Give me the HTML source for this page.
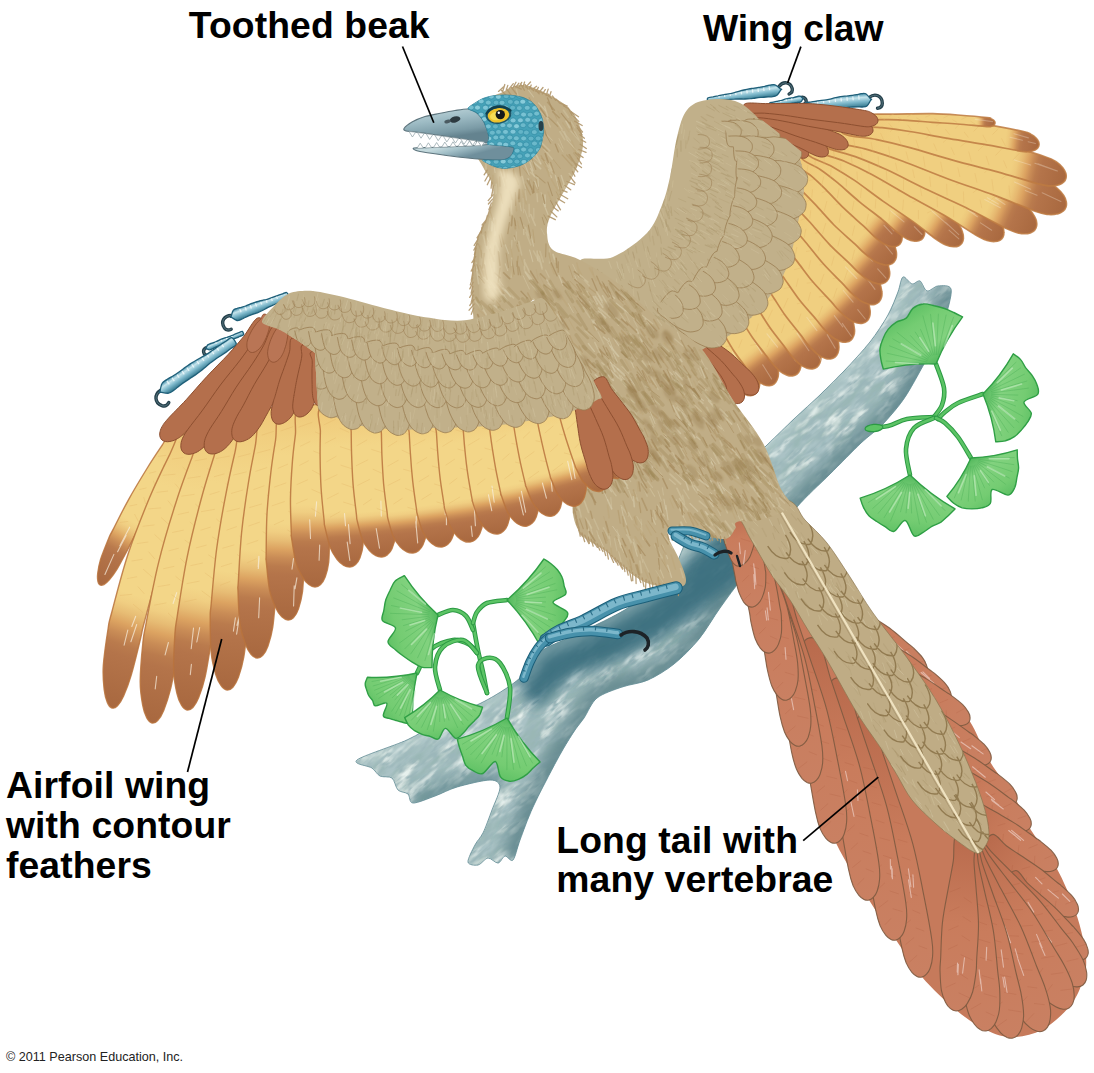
<!DOCTYPE html>
<html><head><meta charset="utf-8"><title>Archaeopteryx</title>
<style>
html,body{margin:0;padding:0;background:#fff;}
body{width:1094px;height:1073px;overflow:hidden;position:relative;font-family:"Liberation Sans",sans-serif;}
svg{position:absolute;left:0;top:0;display:block;}
.lbl{position:absolute;font-weight:bold;font-size:37.3px;line-height:39.7px;color:#000;white-space:nowrap;letter-spacing:0.1px;}
.cp{position:absolute;font-size:12.6px;color:#222;white-space:nowrap;}
</style></head><body>
<svg width="1094" height="1073" viewBox="0 0 1094 1073">
<defs>
<filter id="mott" x="150" y="400" width="1000" height="400" filterUnits="userSpaceOnUse">
<feTurbulence type="fractalNoise" baseFrequency="0.03 0.10" numOctaves="3" seed="4" result="n"/>
<feTurbulence type="fractalNoise" baseFrequency="0.09 0.28" numOctaves="2" seed="9" result="n2"/>
<feColorMatrix in="n" type="matrix" values="0 0 0 0 0.40  0 0 0 0 0.54  0 0 0 0 0.56  0 0 0 3.4 -1.15" result="dark"/>
<feColorMatrix in="n" type="matrix" values="0 0 0 0 0.80  0 0 0 0 0.88  0 0 0 0 0.85  0 0 3.2 0 -1.5" result="light"/>
<feColorMatrix in="n2" type="matrix" values="0 0 0 0 0.33  0 0 0 0 0.47  0 0 0 0 0.49  0 3.6 0 0 -1.55" result="dark2"/>
<feMerge result="m"><feMergeNode in="SourceGraphic"/><feMergeNode in="dark"/><feMergeNode in="light"/><feMergeNode in="dark2"/></feMerge>
<feComposite in="m" in2="SourceGraphic" operator="in"/>
</filter>
<filter id="blur8" x="300" y="200" width="700" height="700" filterUnits="userSpaceOnUse"><feGaussianBlur stdDeviation="7"/></filter>
<clipPath id="cbranch"><path d="M357,760C362.2,755.8 394.6,745.7 407,740C419.4,734.3 428,728 440,722C452,716 475,706.6 487,700C499,693.4 512,685.2 520,678C528,670.8 532,658.3 540,652C548,645.7 560.5,642.1 573,636C585.5,629.9 610,618.6 623,611C636,603.4 652,592 660,585C668,578 671.8,571 676,564C680.2,557 682.1,548.4 688,538C693.9,527.6 703.3,508.8 715,495C726.7,481.2 754.1,457.4 766,446C777.9,434.6 785.8,426.8 794,419C802.2,411.2 813.4,401.4 821,394C828.6,386.6 837.6,377.8 845,370C852.4,362.2 863.5,350.2 870,342C876.5,333.8 883.8,322.5 888,315C892.2,307.5 895.8,297.7 898,292C900.2,286.3 900.9,278.2 903,277C905.1,275.8 909.5,283.4 912,284C914.5,284.6 917.8,279.9 920,281C922.2,282.1 924.3,290.2 927,291C929.7,291.8 934.4,286.3 938,286C941.6,285.7 949.8,284.6 951,289C952.2,293.4 948.5,306.6 946,315C943.5,323.4 938,336.3 934,345C930,353.7 923.6,364.8 919,373C914.4,381.2 908.5,392.2 903,400C897.5,407.8 888.3,418.6 882,425C875.7,431.4 868.8,435.6 861,443C853.2,450.4 839.6,464.4 830,474C820.4,483.6 806,496.4 797,507C788,517.6 778.1,534.5 770,545C761.9,555.5 750.5,567.5 743,577C735.5,586.5 726.6,598.7 720,608C713.4,617.3 705.9,630.6 699,639C692.1,647.4 681.6,657.9 674,664C666.4,670.1 655.8,676.5 648,680C640.2,683.5 629.6,684.3 622,687C614.4,689.7 602.7,693.4 597,698C591.3,702.6 587.6,712.8 584,718C580.4,723.2 577,726.7 573,733C569,739.3 563,748.9 557,760C551,771.1 538.5,795 533,807C527.5,819 523,832 520,840C517,848 515.2,857.6 513,860C510.8,862.4 507.2,855.5 505,856C502.8,856.5 500.6,862.7 498,863C495.4,863.3 491,857.7 488,858C485,858.3 481,864.4 478,865C475,865.6 468.4,865 468,862C467.6,859 472.8,849.4 475,845C477.2,840.6 480.4,838.2 483,833C485.6,827.8 489.4,816.9 492,810C494.6,803.1 500.3,791.5 500,787C499.7,782.5 496.4,780 490,780C483.6,780 465.2,784.6 457,787C448.8,789.4 441.6,793.6 435,796C428.4,798.4 417.1,803.3 413,803C408.9,802.7 410.2,796 408,794C405.8,792 400.4,792.4 398,790C395.6,787.6 394.7,780.1 392,778C389.3,775.9 383,777.5 380,776C377,774.5 375.4,770.4 372,768C368.6,765.6 351.8,764.2 357,760Z"/></clipPath>
<linearGradient id="g1" gradientUnits="userSpaceOnUse" x1="438" y1="615" x2="383.5" y2="631.7"><stop offset="0.0000" stop-color="#52b85c"/><stop offset="0.3000" stop-color="#82d27f"/><stop offset="0.7500" stop-color="#74cc72"/><stop offset="1.0000" stop-color="#5fc165"/></linearGradient>
<linearGradient id="g2" gradientUnits="userSpaceOnUse" x1="507" y1="600" x2="567.9" y2="603.2"><stop offset="0.0000" stop-color="#52b85c"/><stop offset="0.3000" stop-color="#82d27f"/><stop offset="0.7500" stop-color="#74cc72"/><stop offset="1.0000" stop-color="#5fc165"/></linearGradient>
<linearGradient id="g3" gradientUnits="userSpaceOnUse" x1="417" y1="673" x2="378.1" y2="711.9"><stop offset="0.0000" stop-color="#52b85c"/><stop offset="0.3000" stop-color="#82d27f"/><stop offset="0.7500" stop-color="#74cc72"/><stop offset="1.0000" stop-color="#5fc165"/></linearGradient>
<linearGradient id="g4" gradientUnits="userSpaceOnUse" x1="440" y1="690" x2="447" y2="739.5"><stop offset="0.0000" stop-color="#52b85c"/><stop offset="0.3000" stop-color="#82d27f"/><stop offset="0.7500" stop-color="#74cc72"/><stop offset="1.0000" stop-color="#5fc165"/></linearGradient>
<linearGradient id="g5" gradientUnits="userSpaceOnUse" x1="507" y1="718" x2="491" y2="777.9"><stop offset="0.0000" stop-color="#52b85c"/><stop offset="0.3000" stop-color="#82d27f"/><stop offset="0.7500" stop-color="#74cc72"/><stop offset="1.0000" stop-color="#5fc165"/></linearGradient>
<linearGradient id="g6" gradientUnits="userSpaceOnUse" x1="936" y1="364" x2="903.3" y2="313.7"><stop offset="0.0000" stop-color="#52b85c"/><stop offset="0.3000" stop-color="#82d27f"/><stop offset="0.7500" stop-color="#74cc72"/><stop offset="1.0000" stop-color="#5fc165"/></linearGradient>
<linearGradient id="g7" gradientUnits="userSpaceOnUse" x1="983" y1="394" x2="1037" y2="404.5"><stop offset="0.0000" stop-color="#52b85c"/><stop offset="0.3000" stop-color="#82d27f"/><stop offset="0.7500" stop-color="#74cc72"/><stop offset="1.0000" stop-color="#5fc165"/></linearGradient>
<linearGradient id="g8" gradientUnits="userSpaceOnUse" x1="910" y1="475" x2="903.7" y2="534.7"><stop offset="0.0000" stop-color="#52b85c"/><stop offset="0.3000" stop-color="#82d27f"/><stop offset="0.7500" stop-color="#74cc72"/><stop offset="1.0000" stop-color="#5fc165"/></linearGradient>
<linearGradient id="g9" gradientUnits="userSpaceOnUse" x1="971" y1="458" x2="1000.1" y2="501.1"><stop offset="0.0000" stop-color="#52b85c"/><stop offset="0.3000" stop-color="#82d27f"/><stop offset="0.7500" stop-color="#74cc72"/><stop offset="1.0000" stop-color="#5fc165"/></linearGradient>
<linearGradient id="g10" gradientUnits="userSpaceOnUse" x1="743.7" y1="88.8" x2="745.3" y2="100.2"><stop offset="0.0000" stop-color="#4a93ad"/><stop offset="0.2800" stop-color="#c5e4ec"/><stop offset="0.6000" stop-color="#7db8cb"/><stop offset="1.0000" stop-color="#35798f"/></linearGradient>
<linearGradient id="g11" gradientUnits="userSpaceOnUse" x1="786" y1="98.5" x2="787" y2="104.5"><stop offset="0.0000" stop-color="#4a93ad"/><stop offset="0.2800" stop-color="#c5e4ec"/><stop offset="0.6000" stop-color="#7db8cb"/><stop offset="1.0000" stop-color="#35798f"/></linearGradient>
<linearGradient id="g12" gradientUnits="userSpaceOnUse" x1="837.9" y1="96" x2="839.1" y2="109"><stop offset="0.0000" stop-color="#4a93ad"/><stop offset="0.2800" stop-color="#c5e4ec"/><stop offset="0.6000" stop-color="#7db8cb"/><stop offset="1.0000" stop-color="#35798f"/></linearGradient>
<linearGradient id="g13" gradientUnits="userSpaceOnUse" x1="700" y1="318" x2="755" y2="394"><stop offset="0.0000" stop-color="#efc878"/><stop offset="0.2216" stop-color="#f0cf80"/><stop offset="0.5539" stop-color="#f0cf80"/><stop offset="0.5937" stop-color="#edc87b"/><stop offset="0.6335" stop-color="#e6b870"/><stop offset="0.6733" stop-color="#dca361"/><stop offset="0.7132" stop-color="#c98c56"/><stop offset="0.7530" stop-color="#ba7b4d"/><stop offset="0.7928" stop-color="#b4744a"/><stop offset="1.0000" stop-color="#a8683f"/></linearGradient>
<linearGradient id="g14" gradientUnits="userSpaceOnUse" x1="712" y1="302" x2="774" y2="384"><stop offset="0.0000" stop-color="#efc878"/><stop offset="0.2372" stop-color="#f0cf80"/><stop offset="0.5929" stop-color="#f0cf80"/><stop offset="0.6292" stop-color="#edc87b"/><stop offset="0.6656" stop-color="#e6b870"/><stop offset="0.7019" stop-color="#dca361"/><stop offset="0.7382" stop-color="#c98c56"/><stop offset="0.7746" stop-color="#ba7b4d"/><stop offset="0.8109" stop-color="#b4744a"/><stop offset="1.0000" stop-color="#a8683f"/></linearGradient>
<linearGradient id="g15" gradientUnits="userSpaceOnUse" x1="728" y1="288" x2="797" y2="374"><stop offset="0.0000" stop-color="#efc878"/><stop offset="0.2482" stop-color="#f0cf80"/><stop offset="0.6204" stop-color="#f0cf80"/><stop offset="0.6543" stop-color="#edc87b"/><stop offset="0.6882" stop-color="#e6b870"/><stop offset="0.7221" stop-color="#dca361"/><stop offset="0.7559" stop-color="#c98c56"/><stop offset="0.7898" stop-color="#ba7b4d"/><stop offset="0.8237" stop-color="#b4744a"/><stop offset="1.0000" stop-color="#a8683f"/></linearGradient>
<linearGradient id="g16" gradientUnits="userSpaceOnUse" x1="742" y1="274" x2="817" y2="367"><stop offset="0.0000" stop-color="#efc878"/><stop offset="0.2500" stop-color="#f0cf80"/><stop offset="0.6497" stop-color="#f0cf80"/><stop offset="0.6810" stop-color="#edc87b"/><stop offset="0.7122" stop-color="#e6b870"/><stop offset="0.7435" stop-color="#dca361"/><stop offset="0.7748" stop-color="#c98c56"/><stop offset="0.8060" stop-color="#ba7b4d"/><stop offset="0.8373" stop-color="#b4744a"/><stop offset="1.0000" stop-color="#a8683f"/></linearGradient>
<linearGradient id="g17" gradientUnits="userSpaceOnUse" x1="755" y1="260" x2="835" y2="357"><stop offset="0.0000" stop-color="#efc878"/><stop offset="0.2500" stop-color="#f0cf80"/><stop offset="0.6672" stop-color="#f0cf80"/><stop offset="0.6969" stop-color="#edc87b"/><stop offset="0.7266" stop-color="#e6b870"/><stop offset="0.7563" stop-color="#dca361"/><stop offset="0.7860" stop-color="#c98c56"/><stop offset="0.8157" stop-color="#ba7b4d"/><stop offset="0.8454" stop-color="#b4744a"/><stop offset="1.0000" stop-color="#a8683f"/></linearGradient>
<linearGradient id="g18" gradientUnits="userSpaceOnUse" x1="766" y1="244" x2="851" y2="340"><stop offset="0.0000" stop-color="#efc878"/><stop offset="0.2500" stop-color="#f0cf80"/><stop offset="0.6736" stop-color="#f0cf80"/><stop offset="0.7027" stop-color="#edc87b"/><stop offset="0.7319" stop-color="#e6b870"/><stop offset="0.7610" stop-color="#dca361"/><stop offset="0.7901" stop-color="#c98c56"/><stop offset="0.8193" stop-color="#ba7b4d"/><stop offset="0.8484" stop-color="#b4744a"/><stop offset="1.0000" stop-color="#a8683f"/></linearGradient>
<linearGradient id="g19" gradientUnits="userSpaceOnUse" x1="776" y1="226" x2="867" y2="321"><stop offset="0.0000" stop-color="#efc878"/><stop offset="0.2500" stop-color="#f0cf80"/><stop offset="0.6819" stop-color="#f0cf80"/><stop offset="0.7103" stop-color="#edc87b"/><stop offset="0.7387" stop-color="#e6b870"/><stop offset="0.7671" stop-color="#dca361"/><stop offset="0.7954" stop-color="#c98c56"/><stop offset="0.8238" stop-color="#ba7b4d"/><stop offset="0.8522" stop-color="#b4744a"/><stop offset="1.0000" stop-color="#a8683f"/></linearGradient>
<linearGradient id="g20" gradientUnits="userSpaceOnUse" x1="784" y1="208" x2="879" y2="302"><stop offset="0.0000" stop-color="#efc878"/><stop offset="0.2500" stop-color="#f0cf80"/><stop offset="0.6869" stop-color="#f0cf80"/><stop offset="0.7148" stop-color="#edc87b"/><stop offset="0.7428" stop-color="#e6b870"/><stop offset="0.7707" stop-color="#dca361"/><stop offset="0.7986" stop-color="#c98c56"/><stop offset="0.8266" stop-color="#ba7b4d"/><stop offset="0.8545" stop-color="#b4744a"/><stop offset="1.0000" stop-color="#a8683f"/></linearGradient>
<linearGradient id="g21" gradientUnits="userSpaceOnUse" x1="788" y1="190" x2="887" y2="281"><stop offset="0.0000" stop-color="#efc878"/><stop offset="0.2500" stop-color="#f0cf80"/><stop offset="0.6888" stop-color="#f0cf80"/><stop offset="0.7166" stop-color="#edc87b"/><stop offset="0.7443" stop-color="#e6b870"/><stop offset="0.7721" stop-color="#dca361"/><stop offset="0.7999" stop-color="#c98c56"/><stop offset="0.8277" stop-color="#ba7b4d"/><stop offset="0.8554" stop-color="#b4744a"/><stop offset="1.0000" stop-color="#a8683f"/></linearGradient>
<linearGradient id="g22" gradientUnits="userSpaceOnUse" x1="790" y1="170" x2="894" y2="262"><stop offset="0.0000" stop-color="#efc878"/><stop offset="0.2500" stop-color="#f0cf80"/><stop offset="0.6986" stop-color="#f0cf80"/><stop offset="0.7255" stop-color="#edc87b"/><stop offset="0.7524" stop-color="#e6b870"/><stop offset="0.7793" stop-color="#dca361"/><stop offset="0.8062" stop-color="#c98c56"/><stop offset="0.8331" stop-color="#ba7b4d"/><stop offset="0.8600" stop-color="#b4744a"/><stop offset="1.0000" stop-color="#a8683f"/></linearGradient>
<linearGradient id="g23" gradientUnits="userSpaceOnUse" x1="800" y1="158" x2="900" y2="244"><stop offset="0.0000" stop-color="#efc878"/><stop offset="0.2500" stop-color="#f0cf80"/><stop offset="0.6945" stop-color="#f0cf80"/><stop offset="0.7217" stop-color="#edc87b"/><stop offset="0.7490" stop-color="#e6b870"/><stop offset="0.7763" stop-color="#dca361"/><stop offset="0.8035" stop-color="#c98c56"/><stop offset="0.8308" stop-color="#ba7b4d"/><stop offset="0.8581" stop-color="#b4744a"/><stop offset="1.0000" stop-color="#a8683f"/></linearGradient>
<linearGradient id="g24" gradientUnits="userSpaceOnUse" x1="806" y1="152" x2="923" y2="238"><stop offset="0.0000" stop-color="#efc878"/><stop offset="0.2500" stop-color="#f0cf80"/><stop offset="0.7225" stop-color="#f0cf80"/><stop offset="0.7472" stop-color="#edc87b"/><stop offset="0.7720" stop-color="#e6b870"/><stop offset="0.7968" stop-color="#dca361"/><stop offset="0.8215" stop-color="#c98c56"/><stop offset="0.8463" stop-color="#ba7b4d"/><stop offset="0.8711" stop-color="#b4744a"/><stop offset="1.0000" stop-color="#a8683f"/></linearGradient>
<linearGradient id="g25" gradientUnits="userSpaceOnUse" x1="812" y1="148" x2="962" y2="243"><stop offset="0.0000" stop-color="#efc878"/><stop offset="0.2500" stop-color="#f0cf80"/><stop offset="0.7556" stop-color="#f0cf80"/><stop offset="0.7774" stop-color="#edc87b"/><stop offset="0.7992" stop-color="#e6b870"/><stop offset="0.8210" stop-color="#dca361"/><stop offset="0.8428" stop-color="#c98c56"/><stop offset="0.8646" stop-color="#ba7b4d"/><stop offset="0.8865" stop-color="#b4744a"/><stop offset="1.0000" stop-color="#a8683f"/></linearGradient>
<linearGradient id="g26" gradientUnits="userSpaceOnUse" x1="818" y1="143" x2="1003" y2="237"><stop offset="0.0000" stop-color="#efc878"/><stop offset="0.2500" stop-color="#f0cf80"/><stop offset="0.7759" stop-color="#f0cf80"/><stop offset="0.7959" stop-color="#edc87b"/><stop offset="0.8159" stop-color="#e6b870"/><stop offset="0.8359" stop-color="#dca361"/><stop offset="0.8559" stop-color="#c98c56"/><stop offset="0.8759" stop-color="#ba7b4d"/><stop offset="0.8959" stop-color="#b4744a"/><stop offset="1.0000" stop-color="#a8683f"/></linearGradient>
<linearGradient id="g27" gradientUnits="userSpaceOnUse" x1="826" y1="138" x2="1036" y2="228"><stop offset="0.0000" stop-color="#efc878"/><stop offset="0.2500" stop-color="#f0cf80"/><stop offset="0.7693" stop-color="#f0cf80"/><stop offset="0.7899" stop-color="#edc87b"/><stop offset="0.8105" stop-color="#e6b870"/><stop offset="0.8311" stop-color="#dca361"/><stop offset="0.8517" stop-color="#c98c56"/><stop offset="0.8723" stop-color="#ba7b4d"/><stop offset="0.8929" stop-color="#b4744a"/><stop offset="1.0000" stop-color="#a8683f"/></linearGradient>
<linearGradient id="g28" gradientUnits="userSpaceOnUse" x1="835" y1="132" x2="1066" y2="207"><stop offset="0.0000" stop-color="#efc878"/><stop offset="0.2500" stop-color="#f0cf80"/><stop offset="0.7447" stop-color="#f0cf80"/><stop offset="0.7675" stop-color="#edc87b"/><stop offset="0.7903" stop-color="#e6b870"/><stop offset="0.8131" stop-color="#dca361"/><stop offset="0.8359" stop-color="#c98c56"/><stop offset="0.8586" stop-color="#ba7b4d"/><stop offset="0.8814" stop-color="#b4744a"/><stop offset="1.0000" stop-color="#a8683f"/></linearGradient>
<linearGradient id="g29" gradientUnits="userSpaceOnUse" x1="845" y1="126" x2="1066" y2="178"><stop offset="0.0000" stop-color="#efc878"/><stop offset="0.2500" stop-color="#f0cf80"/><stop offset="0.7542" stop-color="#f0cf80"/><stop offset="0.7762" stop-color="#edc87b"/><stop offset="0.7981" stop-color="#e6b870"/><stop offset="0.8200" stop-color="#dca361"/><stop offset="0.8420" stop-color="#c98c56"/><stop offset="0.8639" stop-color="#ba7b4d"/><stop offset="0.8858" stop-color="#b4744a"/><stop offset="1.0000" stop-color="#a8683f"/></linearGradient>
<linearGradient id="g30" gradientUnits="userSpaceOnUse" x1="855" y1="120" x2="1039" y2="145"><stop offset="0.0000" stop-color="#efc878"/><stop offset="0.2500" stop-color="#f0cf80"/><stop offset="0.8164" stop-color="#f0cf80"/><stop offset="0.8328" stop-color="#edc87b"/><stop offset="0.8491" stop-color="#e6b870"/><stop offset="0.8655" stop-color="#dca361"/><stop offset="0.8819" stop-color="#c98c56"/><stop offset="0.8983" stop-color="#ba7b4d"/><stop offset="0.9147" stop-color="#b4744a"/><stop offset="1.0000" stop-color="#a8683f"/></linearGradient>
<linearGradient id="g31" gradientUnits="userSpaceOnUse" x1="870" y1="117" x2="995" y2="123"><stop offset="0.0000" stop-color="#efc878"/><stop offset="0.2500" stop-color="#f0cf80"/><stop offset="0.8514" stop-color="#f0cf80"/><stop offset="0.8646" stop-color="#edc87b"/><stop offset="0.8779" stop-color="#e6b870"/><stop offset="0.8912" stop-color="#dca361"/><stop offset="0.9044" stop-color="#c98c56"/><stop offset="0.9177" stop-color="#ba7b4d"/><stop offset="0.9310" stop-color="#b4744a"/><stop offset="1.0000" stop-color="#a8683f"/></linearGradient>
<clipPath id="crwtan"><path d="M580,262C578.8,254.8 601.8,261.8 613,257C624.2,252.2 638.8,241.7 647,233C655.2,224.3 658.2,214.3 662,205C665.8,195.7 667.5,188.3 670,177C672.5,165.7 674.2,148.2 677,137C679.8,125.8 682,116.2 687,110C692,103.8 698.2,101.2 707,100C715.8,98.8 729.5,98 740,103C750.5,108 760.5,121.7 770,130C779.5,138.3 791.3,143.5 797,153C802.7,162.5 804,174.7 804,187C804,199.3 799.8,213.7 797,227C794.2,240.3 792,254.8 787,267C782,279.2 775.3,289.5 767,300C758.7,310.5 747,322.2 737,330C727,337.8 714.8,343.3 707,347C699.2,350.7 697.8,354.8 690,352C682.2,349.2 671.7,338.7 660,330C648.3,321.3 633.3,311.3 620,300C606.7,288.7 581.2,269.2 580,262Z"/></clipPath>
<clipPath id="crwext"><path d="M690,120L740,103L775,130L803,153L812,187L804,230L794,270L772,306L742,337L707,353L688,345L640,320L600,262L647,233L670,177Z"/></clipPath>
<clipPath id="crwband"><path d="M717,111L719.1,115.8L721.3,120.7L723.4,125.5L725.6,130.4L727.8,135.1L730.1,139.9L732.5,144.7L734.9,149.5L737,154.5L737.3,160.5L737.6,166.6L737.9,172.7L738.1,178.7L737.5,184.8L736.2,190.8L734.9,196.9L733.5,202.9L732.2,209L730.8,215L729.3,221L727.3,226.8L725.3,232.7L723.3,238.5L721.3,244.3L718.3,249.7L715.2,255.1L712,260.3L708.2,265.2L704.4,270L700,274.3L695.5,278.5L691,282.8L686.4,287L681.6,290.7L676.4,294L670.9,296.9L665.5,299.7L660,302.6L654.5,305.5L717.5,355.3L724.4,351.3L731.4,347.3L738.3,343.4L745.2,339.4L751.5,334.5L757,328.7L762.7,323L768.3,317.3L773.9,311.6L779.5,306L783.6,299L787.6,292.1L791.7,285.3L795.9,278.4L800.1,271.6L802,263.8L803.8,256L805.6,248.3L807.5,240.5L809.4,232.7L811,224.9L812.3,217L813.6,209.1L814.9,201.2L816.3,193.3L816.5,185.5L814.7,177.6L812.9,169.8L811.1,162L809.3,154.1L803.5,148.7L797,143.6L790.4,138.6L783.8,133.6L777.3,128.5L770.9,123.2L764.6,117.9L758.2,112.7L751.8,107.4Z"/></clipPath>
<clipPath id="crwall"><path d="M580,262C578.8,254.8 601.8,261.8 613,257C624.2,252.2 638.8,241.7 647,233C655.2,224.3 658.2,214.3 662,205C665.8,195.7 667.5,188.3 670,177C672.5,165.7 674.2,148.2 677,137C679.8,125.8 682,116.2 687,110C692,103.8 698.2,101.2 707,100C715.8,98.8 729.5,98 740,103C750.5,108 760.5,121.7 770,130C779.5,138.3 791.3,143.5 797,153C802.7,162.5 804,174.7 804,187C804,199.3 799.8,213.7 797,227C794.2,240.3 792,254.8 787,267C782,279.2 775.3,289.5 767,300C758.7,310.5 747,322.2 737,330C727,337.8 714.8,343.3 707,347C699.2,350.7 697.8,354.8 690,352C682.2,349.2 671.7,338.7 660,330C648.3,321.3 633.3,311.3 620,300C606.7,288.7 581.2,269.2 580,262Z"/><path d="M743.4,122.6C745.1,117.5 752.4,119.6 754.2,119C756,118.4 751.7,118.5 754.3,119C756.9,119.5 765.6,120.3 769.6,122C773.5,123.6 776.4,126.8 778.1,129C779.8,131.2 780,133.1 780,135.2C780.1,137.3 780,139.1 778.4,141.4C776.8,143.7 774.1,147.1 770.3,148.9C766.4,150.8 757.7,152.1 755.2,152.7C752.6,153.3 756.9,153.2 755.1,152.7C753.2,152.2 746,154.6 744.1,149.6C742.1,144.6 741.7,127.7 743.4,122.6Z"/><path d="M756,140.6C758.2,135.8 766,137.9 769.6,137.3C773.3,136.7 774.1,136.7 777.8,137.2C781.6,137.7 788.4,138.6 792.1,140.3C795.8,141.9 798.4,145 800,147.1C801.6,149.1 801.6,150.9 801.7,152.8C801.7,154.8 801.6,156.6 800.1,158.7C798.5,160.8 795.9,163.9 792.3,165.6C788.6,167.3 781.8,168.3 778.1,168.9C774.4,169.4 773.6,169.4 769.9,168.9C766.3,168.4 758.5,170.6 756.2,165.9C753.9,161.2 753.8,145.3 756,140.6Z"/><path d="M759.6,163C762.4,158.2 770.4,161 774.5,160.7C778.6,160.4 779.9,160.5 783.9,161.4C787.9,162.2 794.9,163.7 798.6,165.8C802.3,167.8 804.8,171.2 806.3,173.6C807.8,175.9 807.7,177.8 807.6,179.8C807.4,181.8 807.2,183.7 805.4,185.8C803.6,187.9 800.7,190.9 796.7,192.4C792.7,193.8 785.6,194.3 781.5,194.6C777.4,194.9 776.1,194.8 772.1,193.9C768.1,193.1 759.7,194.7 757.6,189.5C755.5,184.4 756.7,167.8 759.6,163Z"/><path d="M758,186.2C761.3,181.6 769.2,185.1 773.5,185.2C777.8,185.3 779.7,185.5 783.8,186.7C787.8,187.9 794.5,189.9 798,192.3C801.6,194.6 803.8,198.2 805.1,200.6C806.4,203 806.2,204.9 805.9,206.9C805.6,208.9 805.2,210.7 803.3,212.7C801.3,214.6 798.1,217.4 794,218.6C790,219.7 783,219.7 778.8,219.6C774.5,219.5 772.6,219.2 768.5,218C764.4,216.8 755.8,217.8 754,212.5C752.3,207.2 754.8,190.7 758,186.2Z"/><path d="M754.2,209.4C757.8,205.1 765.5,209.2 769.8,209.6C774.2,210.1 776.3,210.6 780.3,212.1C784.4,213.6 790.8,216.2 794.1,218.8C797.5,221.3 799.4,225.1 800.5,227.6C801.6,230.2 801.3,232 800.8,234C800.3,236 799.8,237.8 797.7,239.5C795.6,241.3 792.2,243.8 788,244.7C783.9,245.5 777,244.9 772.7,244.5C768.4,244 766.3,243.5 762.2,242C758.1,240.5 749.4,240.7 748.1,235.3C746.7,229.8 750.5,213.7 754.2,209.4Z"/><path d="M748.5,232.1C752.5,228.2 759.9,233 764.4,233.8C768.9,234.7 771.5,235.4 775.5,237.3C779.6,239.2 785.6,242.2 788.8,245.1C791.9,247.9 793.5,251.8 794.4,254.4C795.3,257 794.8,258.8 794.2,260.8C793.6,262.7 793,264.5 790.7,266.1C788.4,267.7 784.9,269.9 780.7,270.4C776.4,270.9 769.8,269.8 765.4,269C761,268.2 758.5,267.3 754.3,265.4C750.1,263.4 741.3,263 740.4,257.5C739.4,251.9 744.5,236.1 748.5,232.1Z"/><path d="M739.1,253.5C743.4,249.8 750.4,255.1 754.8,256.3C759.1,257.5 761.5,258.4 765.4,260.5C769.2,262.7 775,266.1 778,269.2C780.9,272.3 782.2,276.3 782.9,279C783.6,281.7 783,283.4 782.2,285.3C781.5,287.2 780.7,288.9 778.3,290.3C775.9,291.7 772.2,293.7 768,293.9C763.7,294 757.1,292.5 752.9,291.3C748.6,290.2 746.3,289.2 742.3,287C738.4,284.8 729.6,283.7 729.1,278.1C728.6,272.5 734.8,257.1 739.1,253.5Z"/><path d="M725.7,272.3C730.3,269 736.9,274.9 741.3,276.5C745.6,278.1 748.1,279.3 751.8,281.7C755.6,284.2 761,288.2 763.7,291.5C766.4,294.8 767.3,298.9 767.8,301.6C768.3,304.3 767.5,306 766.6,307.8C765.7,309.6 764.8,311.3 762.3,312.5C759.8,313.7 755.9,315.4 751.7,315.2C747.5,315 741.1,313 736.8,311.4C732.6,309.9 730.2,308.6 726.3,306C722.5,303.4 713.8,301.6 713.7,296C713.6,290.4 721.2,275.5 725.7,272.3Z"/><path d="M709.6,288.9C714.4,286 720.5,292.4 724.6,294.2C728.8,296.1 731,297.4 734.5,300.2C738,302.9 743.2,307.3 745.6,310.8C747.9,314.3 748.6,318.5 748.8,321.2C749.1,324 748.2,325.6 747.2,327.4C746.1,329.1 745.1,330.7 742.5,331.7C739.9,332.7 735.9,334.1 731.7,333.6C727.5,333 721.2,330.4 717.2,328.6C713.1,326.8 711,325.4 707.4,322.6C703.8,319.7 695.4,317.3 695.7,311.6C696.1,306 704.8,291.8 709.6,288.9Z"/><path d="M690.6,301.8C695.6,299.3 701.1,306 705,308.2C709,310.3 710.9,311.7 714.1,314.7C717.2,317.6 722.1,322.4 724.2,326.1C726.3,329.8 726.6,334 726.7,336.8C726.7,339.5 725.7,341.1 724.5,342.7C723.3,344.4 722.2,345.8 719.5,346.7C716.9,347.5 712.8,348.5 708.6,347.7C704.5,346.8 698.4,343.7 694.6,341.6C690.7,339.5 688.8,338.1 685.6,335.1C682.3,332 674.2,328.9 675,323.3C675.8,317.8 685.6,304.3 690.6,301.8Z"/></clipPath>
<linearGradient id="g32" gradientUnits="userSpaceOnUse" x1="837.1" y1="600.2" x2="926" y2="674"><stop offset="0.0000" stop-color="#b96b4d"/><stop offset="0.5000" stop-color="#c97c5c"/><stop offset="1.0000" stop-color="#c98062"/></linearGradient>
<linearGradient id="g33" gradientUnits="userSpaceOnUse" x1="855.7" y1="629.6" x2="950" y2="700"><stop offset="0.0000" stop-color="#b96b4d"/><stop offset="0.5000" stop-color="#c97c5c"/><stop offset="1.0000" stop-color="#c98062"/></linearGradient>
<linearGradient id="g34" gradientUnits="userSpaceOnUse" x1="871.1" y1="653.9" x2="969" y2="722"><stop offset="0.0000" stop-color="#b96b4d"/><stop offset="0.5000" stop-color="#c97c5c"/><stop offset="1.0000" stop-color="#c98062"/></linearGradient>
<linearGradient id="g35" gradientUnits="userSpaceOnUse" x1="895.2" y1="691.9" x2="990" y2="762"><stop offset="0.0000" stop-color="#b96b4d"/><stop offset="0.5000" stop-color="#c97c5c"/><stop offset="1.0000" stop-color="#c98062"/></linearGradient>
<linearGradient id="g36" gradientUnits="userSpaceOnUse" x1="920.7" y1="732.2" x2="1016" y2="802"><stop offset="0.0000" stop-color="#b96b4d"/><stop offset="0.5000" stop-color="#c97c5c"/><stop offset="1.0000" stop-color="#c98062"/></linearGradient>
<linearGradient id="g37" gradientUnits="userSpaceOnUse" x1="936.5" y1="757.1" x2="1030" y2="828"><stop offset="0.0000" stop-color="#b96b4d"/><stop offset="0.5000" stop-color="#c97c5c"/><stop offset="1.0000" stop-color="#c98062"/></linearGradient>
<linearGradient id="g38" gradientUnits="userSpaceOnUse" x1="962.3" y1="797.9" x2="1057" y2="868"><stop offset="0.0000" stop-color="#b96b4d"/><stop offset="0.5000" stop-color="#c97c5c"/><stop offset="1.0000" stop-color="#c98062"/></linearGradient>
<linearGradient id="g39" gradientUnits="userSpaceOnUse" x1="988.8" y1="839.8" x2="1077" y2="914"><stop offset="0.0000" stop-color="#b96b4d"/><stop offset="0.5000" stop-color="#c97c5c"/><stop offset="1.0000" stop-color="#c98062"/></linearGradient>
<linearGradient id="g40" gradientUnits="userSpaceOnUse" x1="1011.3" y1="875.3" x2="1086" y2="958"><stop offset="0.0000" stop-color="#b96b4d"/><stop offset="0.5000" stop-color="#c97c5c"/><stop offset="1.0000" stop-color="#c98062"/></linearGradient>
<linearGradient id="g41" gradientUnits="userSpaceOnUse" x1="965" y1="835" x2="1083" y2="985"><stop offset="0.0000" stop-color="#b96b4d"/><stop offset="0.5000" stop-color="#c97c5c"/><stop offset="1.0000" stop-color="#c98062"/></linearGradient>
<linearGradient id="g42" gradientUnits="userSpaceOnUse" x1="965" y1="835" x2="1069" y2="1008"><stop offset="0.0000" stop-color="#b96b4d"/><stop offset="0.5000" stop-color="#c97c5c"/><stop offset="1.0000" stop-color="#c98062"/></linearGradient>
<linearGradient id="g43" gradientUnits="userSpaceOnUse" x1="965" y1="835" x2="1043" y2="1031"><stop offset="0.0000" stop-color="#b96b4d"/><stop offset="0.5000" stop-color="#c97c5c"/><stop offset="1.0000" stop-color="#c98062"/></linearGradient>
<linearGradient id="g44" gradientUnits="userSpaceOnUse" x1="965" y1="835" x2="1013" y2="1038"><stop offset="0.0000" stop-color="#b96b4d"/><stop offset="0.5000" stop-color="#c97c5c"/><stop offset="1.0000" stop-color="#c98062"/></linearGradient>
<linearGradient id="g45" gradientUnits="userSpaceOnUse" x1="965" y1="835" x2="986" y2="1031"><stop offset="0.0000" stop-color="#b96b4d"/><stop offset="0.5000" stop-color="#c97c5c"/><stop offset="1.0000" stop-color="#c98062"/></linearGradient>
<linearGradient id="g46" gradientUnits="userSpaceOnUse" x1="965" y1="835" x2="956" y2="1011"><stop offset="0.0000" stop-color="#b96b4d"/><stop offset="0.5000" stop-color="#c97c5c"/><stop offset="1.0000" stop-color="#c98062"/></linearGradient>
<linearGradient id="g47" gradientUnits="userSpaceOnUse" x1="863.9" y1="719.6" x2="922" y2="977"><stop offset="0.0000" stop-color="#b96b4d"/><stop offset="0.5000" stop-color="#c97c5c"/><stop offset="1.0000" stop-color="#c98062"/></linearGradient>
<linearGradient id="g48" gradientUnits="userSpaceOnUse" x1="837.9" y1="682.6" x2="896" y2="940"><stop offset="0.0000" stop-color="#b96b4d"/><stop offset="0.5000" stop-color="#c97c5c"/><stop offset="1.0000" stop-color="#c98062"/></linearGradient>
<linearGradient id="g49" gradientUnits="userSpaceOnUse" x1="810.9" y1="642.6" x2="869" y2="900"><stop offset="0.0000" stop-color="#b96b4d"/><stop offset="0.5000" stop-color="#c97c5c"/><stop offset="1.0000" stop-color="#c98062"/></linearGradient>
<linearGradient id="g50" gradientUnits="userSpaceOnUse" x1="777.9" y1="585.6" x2="836" y2="843"><stop offset="0.0000" stop-color="#b96b4d"/><stop offset="0.5000" stop-color="#c97c5c"/><stop offset="1.0000" stop-color="#c98062"/></linearGradient>
<linearGradient id="g51" gradientUnits="userSpaceOnUse" x1="757.4" y1="541.2" x2="812" y2="783"><stop offset="0.0000" stop-color="#b96b4d"/><stop offset="0.5000" stop-color="#c97c5c"/><stop offset="1.0000" stop-color="#c98062"/></linearGradient>
<linearGradient id="g52" gradientUnits="userSpaceOnUse" x1="751.6" y1="531.5" x2="800" y2="746"><stop offset="0.0000" stop-color="#b96b4d"/><stop offset="0.5000" stop-color="#c97c5c"/><stop offset="1.0000" stop-color="#c98062"/></linearGradient>
<linearGradient id="g53" gradientUnits="userSpaceOnUse" x1="746.5" y1="520.6" x2="787" y2="700"><stop offset="0.0000" stop-color="#b96b4d"/><stop offset="0.5000" stop-color="#c97c5c"/><stop offset="1.0000" stop-color="#c98062"/></linearGradient>
<linearGradient id="g54" gradientUnits="userSpaceOnUse" x1="738.7" y1="512" x2="770" y2="653"><stop offset="0.0000" stop-color="#b96b4d"/><stop offset="0.5000" stop-color="#c97c5c"/><stop offset="1.0000" stop-color="#c98062"/></linearGradient>
<linearGradient id="g55" gradientUnits="userSpaceOnUse" x1="732" y1="512" x2="753" y2="607"><stop offset="0.0000" stop-color="#b96b4d"/><stop offset="0.5000" stop-color="#c97c5c"/><stop offset="1.0000" stop-color="#c98062"/></linearGradient>
<linearGradient id="g56" gradientUnits="userSpaceOnUse" x1="728.4" y1="512" x2="740" y2="566"><stop offset="0.0000" stop-color="#b96b4d"/><stop offset="0.5000" stop-color="#c97c5c"/><stop offset="1.0000" stop-color="#c98062"/></linearGradient>
<clipPath id="cstrip"><path d="M737,503C730,507.7 741.7,520.2 745,528C748.3,535.8 752.3,541.8 757,550C761.7,558.2 767.5,568.7 773,577C778.5,585.3 784.2,591.2 790,600C795.8,608.8 801.8,620 808,630C814.2,640 818.8,646.2 827,660C835.2,673.8 848.2,698.5 857,713C865.8,727.5 873.3,736.7 880,747C886.7,757.3 891.7,766.2 897,775C902.3,783.8 905.7,792 912,800C918.3,808 927.7,816.3 935,823C942.3,829.7 949.2,835 956,840C962.8,845 971.3,851.7 976,853C980.7,854.3 981.8,851.3 984,848C986.2,844.7 989.3,841 989,833C988.7,825 986.5,813.8 982,800C977.5,786.2 969.7,766.7 962,750C954.3,733.3 945.5,715.8 936,700C926.5,684.2 915.5,669.5 905,655C894.5,640.5 882.2,626 873,613C863.8,600 857.7,588.7 850,577C842.3,565.3 834.5,552.5 827,543C819.5,533.5 811.7,527.2 805,520C798.3,512.8 798.3,502.8 787,500C775.7,497.2 744,498.3 737,503Z"/></clipPath>
<clipPath id="cbody"><path d="M503,92C510.2,88.7 514.7,84.2 523,85C531.3,85.8 544.7,92.3 553,97C561.3,101.7 568,105.8 573,113C578,120.2 582.3,131 583,140C583.7,149 580.3,158.2 577,167C573.7,175.8 567.5,184.7 563,193C558.5,201.3 552.7,210.3 550,217C547.3,223.7 546.5,227.5 547,233C547.5,238.5 547.5,245.5 553,250C558.5,254.5 568.8,254.2 580,260C591.2,265.8 606.7,275 620,285C633.3,295 646.7,309.7 660,320C673.3,330.3 687.8,333.7 700,347C712.2,360.3 722.5,384 733,400C743.5,416 755.2,428.5 763,443C770.8,457.5 775.5,476.3 780,487C784.5,497.7 793.3,501.5 790,507C786.7,512.5 768.8,517.5 760,520C751.2,522.5 741.2,520.5 737,522C732.8,523.5 737,526.2 735,529C733,531.8 731,538.2 725,539C719,539.8 707.7,535.7 699,534C690.3,532.3 678.2,528.7 673,529C667.8,529.3 667,531 668,536C669,541 676,551.7 679,559C682,566.3 686,575.3 686,580C686,584.7 684.5,586.2 679,587C673.5,587.8 660.7,587 653,585C645.3,583 640.7,580.5 633,575C625.3,569.5 615.8,559 607,552C598.2,545 585.7,541.2 580,533C574.3,524.8 571.3,511 573,503C574.7,495 581.8,490.2 590,485C598.2,479.8 616.2,477.8 622,472C627.8,466.2 629.5,462.8 625,450C620.5,437.2 605.8,415.5 595,395C584.2,374.5 570.3,342.8 560,327C549.7,311.2 539.7,298.7 533,300C526.3,301.3 528.8,328.3 520,335C511.2,341.7 487.8,343.7 480,340C472.2,336.3 474.3,323.5 473,313C471.7,302.5 471.3,289.2 472,277C472.7,264.8 474,251.2 477,240C480,228.8 487.3,218.8 490,210C492.7,201.2 494.2,194.2 493,187C491.8,179.8 486.8,174.8 483,167C479.2,159.2 470.5,150.3 470,140C469.5,129.7 474.5,113 480,105C485.5,97 495.8,95.3 503,92Z"/></clipPath>
<filter id="blur1"><feGaussianBlur stdDeviation="1.2"/></filter>
<linearGradient id="g57" gradientUnits="userSpaceOnUse" x1="257.5" y1="300.9" x2="261.5" y2="311.6"><stop offset="0.0000" stop-color="#4a93ad"/><stop offset="0.2800" stop-color="#c5e4ec"/><stop offset="0.6000" stop-color="#7db8cb"/><stop offset="1.0000" stop-color="#35798f"/></linearGradient>
<linearGradient id="g58" gradientUnits="userSpaceOnUse" x1="223.4" y1="338.2" x2="225.6" y2="343.3"><stop offset="0.0000" stop-color="#4a93ad"/><stop offset="0.2800" stop-color="#c5e4ec"/><stop offset="0.6000" stop-color="#7db8cb"/><stop offset="1.0000" stop-color="#35798f"/></linearGradient>
<linearGradient id="g59" gradientUnits="userSpaceOnUse" x1="193.5" y1="361.4" x2="200.5" y2="371.6"><stop offset="0.0000" stop-color="#4a93ad"/><stop offset="0.2800" stop-color="#c5e4ec"/><stop offset="0.6000" stop-color="#7db8cb"/><stop offset="1.0000" stop-color="#35798f"/></linearGradient>
<linearGradient id="g60" gradientUnits="userSpaceOnUse" x1="186" y1="428" x2="100" y2="585"><stop offset="0.0000" stop-color="#efc878"/><stop offset="0.2407" stop-color="#f3d688"/><stop offset="0.6017" stop-color="#f3d688"/><stop offset="0.6372" stop-color="#f0ce82"/><stop offset="0.6728" stop-color="#e7bc74"/><stop offset="0.7083" stop-color="#dca361"/><stop offset="0.7439" stop-color="#c98c56"/><stop offset="0.7794" stop-color="#ba7b4d"/><stop offset="0.8150" stop-color="#b4744a"/><stop offset="1.0000" stop-color="#a8683f"/></linearGradient>
<linearGradient id="g61" gradientUnits="userSpaceOnUse" x1="205" y1="420" x2="112" y2="708"><stop offset="0.0000" stop-color="#efc878"/><stop offset="0.2484" stop-color="#f3d688"/><stop offset="0.6210" stop-color="#f3d688"/><stop offset="0.6548" stop-color="#f0ce82"/><stop offset="0.6887" stop-color="#e7bc74"/><stop offset="0.7225" stop-color="#dca361"/><stop offset="0.7563" stop-color="#c98c56"/><stop offset="0.7901" stop-color="#ba7b4d"/><stop offset="0.8240" stop-color="#b4744a"/><stop offset="1.0000" stop-color="#a8683f"/></linearGradient>
<linearGradient id="g62" gradientUnits="userSpaceOnUse" x1="225" y1="418" x2="152" y2="723"><stop offset="0.0000" stop-color="#efc878"/><stop offset="0.2458" stop-color="#f3d688"/><stop offset="0.6145" stop-color="#f3d688"/><stop offset="0.6489" stop-color="#f0ce82"/><stop offset="0.6833" stop-color="#e7bc74"/><stop offset="0.7177" stop-color="#dca361"/><stop offset="0.7521" stop-color="#c98c56"/><stop offset="0.7865" stop-color="#ba7b4d"/><stop offset="0.8209" stop-color="#b4744a"/><stop offset="1.0000" stop-color="#a8683f"/></linearGradient>
<linearGradient id="g63" gradientUnits="userSpaceOnUse" x1="245" y1="416" x2="187" y2="710"><stop offset="0.0000" stop-color="#efc878"/><stop offset="0.2386" stop-color="#f3d688"/><stop offset="0.5966" stop-color="#f3d688"/><stop offset="0.6326" stop-color="#f0ce82"/><stop offset="0.6686" stop-color="#e7bc74"/><stop offset="0.7046" stop-color="#dca361"/><stop offset="0.7406" stop-color="#c98c56"/><stop offset="0.7766" stop-color="#ba7b4d"/><stop offset="0.8126" stop-color="#b4744a"/><stop offset="1.0000" stop-color="#a8683f"/></linearGradient>
<linearGradient id="g64" gradientUnits="userSpaceOnUse" x1="262" y1="414" x2="227" y2="690"><stop offset="0.0000" stop-color="#efc878"/><stop offset="0.2306" stop-color="#f3d688"/><stop offset="0.5766" stop-color="#f3d688"/><stop offset="0.6144" stop-color="#f0ce82"/><stop offset="0.6522" stop-color="#e7bc74"/><stop offset="0.6899" stop-color="#dca361"/><stop offset="0.7277" stop-color="#c98c56"/><stop offset="0.7655" stop-color="#ba7b4d"/><stop offset="0.8033" stop-color="#b4744a"/><stop offset="1.0000" stop-color="#a8683f"/></linearGradient>
<linearGradient id="g65" gradientUnits="userSpaceOnUse" x1="280" y1="412" x2="257" y2="658"><stop offset="0.0000" stop-color="#efc878"/><stop offset="0.2269" stop-color="#f3d688"/><stop offset="0.5671" stop-color="#f3d688"/><stop offset="0.6058" stop-color="#f0ce82"/><stop offset="0.6444" stop-color="#e7bc74"/><stop offset="0.6830" stop-color="#dca361"/><stop offset="0.7217" stop-color="#c98c56"/><stop offset="0.7603" stop-color="#ba7b4d"/><stop offset="0.7989" stop-color="#b4744a"/><stop offset="1.0000" stop-color="#a8683f"/></linearGradient>
<linearGradient id="g66" gradientUnits="userSpaceOnUse" x1="298" y1="410" x2="288" y2="620"><stop offset="0.0000" stop-color="#efc878"/><stop offset="0.2172" stop-color="#f3d688"/><stop offset="0.5429" stop-color="#f3d688"/><stop offset="0.5837" stop-color="#f0ce82"/><stop offset="0.6245" stop-color="#e7bc74"/><stop offset="0.6653" stop-color="#dca361"/><stop offset="0.7061" stop-color="#c98c56"/><stop offset="0.7469" stop-color="#ba7b4d"/><stop offset="0.7877" stop-color="#b4744a"/><stop offset="1.0000" stop-color="#a8683f"/></linearGradient>
<linearGradient id="g67" gradientUnits="userSpaceOnUse" x1="316" y1="408" x2="315" y2="587"><stop offset="0.0000" stop-color="#efc878"/><stop offset="0.2164" stop-color="#f3d688"/><stop offset="0.5411" stop-color="#f3d688"/><stop offset="0.5820" stop-color="#f0ce82"/><stop offset="0.6230" stop-color="#e7bc74"/><stop offset="0.6639" stop-color="#dca361"/><stop offset="0.7049" stop-color="#c98c56"/><stop offset="0.7459" stop-color="#ba7b4d"/><stop offset="0.7868" stop-color="#b4744a"/><stop offset="1.0000" stop-color="#a8683f"/></linearGradient>
<linearGradient id="g68" gradientUnits="userSpaceOnUse" x1="338" y1="406" x2="350" y2="567"><stop offset="0.0000" stop-color="#efc878"/><stop offset="0.2500" stop-color="#f3d688"/><stop offset="0.6544" stop-color="#f3d688"/><stop offset="0.6852" stop-color="#f0ce82"/><stop offset="0.7161" stop-color="#e7bc74"/><stop offset="0.7469" stop-color="#dca361"/><stop offset="0.7778" stop-color="#c98c56"/><stop offset="0.8086" stop-color="#ba7b4d"/><stop offset="0.8395" stop-color="#b4744a"/><stop offset="1.0000" stop-color="#a8683f"/></linearGradient>
<linearGradient id="g69" gradientUnits="userSpaceOnUse" x1="368" y1="408" x2="382" y2="557"><stop offset="0.0000" stop-color="#efc878"/><stop offset="0.2500" stop-color="#f3d688"/><stop offset="0.6893" stop-color="#f3d688"/><stop offset="0.7170" stop-color="#f0ce82"/><stop offset="0.7447" stop-color="#e7bc74"/><stop offset="0.7725" stop-color="#dca361"/><stop offset="0.8002" stop-color="#c98c56"/><stop offset="0.8279" stop-color="#ba7b4d"/><stop offset="0.8557" stop-color="#b4744a"/><stop offset="1.0000" stop-color="#a8683f"/></linearGradient>
<linearGradient id="g70" gradientUnits="userSpaceOnUse" x1="398" y1="410" x2="413" y2="553"><stop offset="0.0000" stop-color="#efc878"/><stop offset="0.2500" stop-color="#f3d688"/><stop offset="0.6982" stop-color="#f3d688"/><stop offset="0.7251" stop-color="#f0ce82"/><stop offset="0.7520" stop-color="#e7bc74"/><stop offset="0.7790" stop-color="#dca361"/><stop offset="0.8059" stop-color="#c98c56"/><stop offset="0.8329" stop-color="#ba7b4d"/><stop offset="0.8598" stop-color="#b4744a"/><stop offset="1.0000" stop-color="#a8683f"/></linearGradient>
<linearGradient id="g71" gradientUnits="userSpaceOnUse" x1="425" y1="410" x2="442" y2="547"><stop offset="0.0000" stop-color="#efc878"/><stop offset="0.2500" stop-color="#f3d688"/><stop offset="0.6856" stop-color="#f3d688"/><stop offset="0.7137" stop-color="#f0ce82"/><stop offset="0.7417" stop-color="#e7bc74"/><stop offset="0.7698" stop-color="#dca361"/><stop offset="0.7979" stop-color="#c98c56"/><stop offset="0.8259" stop-color="#ba7b4d"/><stop offset="0.8540" stop-color="#b4744a"/><stop offset="1.0000" stop-color="#a8683f"/></linearGradient>
<linearGradient id="g72" gradientUnits="userSpaceOnUse" x1="452" y1="410" x2="470" y2="542"><stop offset="0.0000" stop-color="#efc878"/><stop offset="0.2500" stop-color="#f3d688"/><stop offset="0.6742" stop-color="#f3d688"/><stop offset="0.7033" stop-color="#f0ce82"/><stop offset="0.7324" stop-color="#e7bc74"/><stop offset="0.7615" stop-color="#dca361"/><stop offset="0.7905" stop-color="#c98c56"/><stop offset="0.8196" stop-color="#ba7b4d"/><stop offset="0.8487" stop-color="#b4744a"/><stop offset="1.0000" stop-color="#a8683f"/></linearGradient>
<linearGradient id="g73" gradientUnits="userSpaceOnUse" x1="478" y1="408" x2="498" y2="534"><stop offset="0.0000" stop-color="#efc878"/><stop offset="0.2500" stop-color="#f3d688"/><stop offset="0.6598" stop-color="#f3d688"/><stop offset="0.6902" stop-color="#f0ce82"/><stop offset="0.7205" stop-color="#e7bc74"/><stop offset="0.7509" stop-color="#dca361"/><stop offset="0.7813" stop-color="#c98c56"/><stop offset="0.8116" stop-color="#ba7b4d"/><stop offset="0.8420" stop-color="#b4744a"/><stop offset="1.0000" stop-color="#a8683f"/></linearGradient>
<linearGradient id="g74" gradientUnits="userSpaceOnUse" x1="503" y1="406" x2="527" y2="526"><stop offset="0.0000" stop-color="#efc878"/><stop offset="0.2500" stop-color="#f3d688"/><stop offset="0.6454" stop-color="#f3d688"/><stop offset="0.6770" stop-color="#f0ce82"/><stop offset="0.7087" stop-color="#e7bc74"/><stop offset="0.7403" stop-color="#dca361"/><stop offset="0.7720" stop-color="#c98c56"/><stop offset="0.8036" stop-color="#ba7b4d"/><stop offset="0.8353" stop-color="#b4744a"/><stop offset="1.0000" stop-color="#a8683f"/></linearGradient>
<linearGradient id="g75" gradientUnits="userSpaceOnUse" x1="526" y1="402" x2="552" y2="516"><stop offset="0.0000" stop-color="#efc878"/><stop offset="0.2500" stop-color="#f3d688"/><stop offset="0.6288" stop-color="#f3d688"/><stop offset="0.6620" stop-color="#f0ce82"/><stop offset="0.6951" stop-color="#e7bc74"/><stop offset="0.7282" stop-color="#dca361"/><stop offset="0.7613" stop-color="#c98c56"/><stop offset="0.7945" stop-color="#ba7b4d"/><stop offset="0.8276" stop-color="#b4744a"/><stop offset="1.0000" stop-color="#a8683f"/></linearGradient>
<linearGradient id="g76" gradientUnits="userSpaceOnUse" x1="548" y1="398" x2="576" y2="506"><stop offset="0.0000" stop-color="#efc878"/><stop offset="0.2500" stop-color="#f3d688"/><stop offset="0.6249" stop-color="#f3d688"/><stop offset="0.6584" stop-color="#f0ce82"/><stop offset="0.6919" stop-color="#e7bc74"/><stop offset="0.7253" stop-color="#dca361"/><stop offset="0.7588" stop-color="#c98c56"/><stop offset="0.7923" stop-color="#ba7b4d"/><stop offset="0.8258" stop-color="#b4744a"/><stop offset="1.0000" stop-color="#a8683f"/></linearGradient>
<linearGradient id="g77" gradientUnits="userSpaceOnUse" x1="568" y1="394" x2="601" y2="491"><stop offset="0.0000" stop-color="#efc878"/><stop offset="0.2427" stop-color="#f3d688"/><stop offset="0.6067" stop-color="#f3d688"/><stop offset="0.6418" stop-color="#f0ce82"/><stop offset="0.6769" stop-color="#e7bc74"/><stop offset="0.7120" stop-color="#dca361"/><stop offset="0.7471" stop-color="#c98c56"/><stop offset="0.7822" stop-color="#ba7b4d"/><stop offset="0.8173" stop-color="#b4744a"/><stop offset="1.0000" stop-color="#a8683f"/></linearGradient>
<linearGradient id="g78" gradientUnits="userSpaceOnUse" x1="584" y1="390" x2="619" y2="478"><stop offset="0.0000" stop-color="#efc878"/><stop offset="0.2363" stop-color="#f3d688"/><stop offset="0.5908" stop-color="#f3d688"/><stop offset="0.6274" stop-color="#f0ce82"/><stop offset="0.6639" stop-color="#e7bc74"/><stop offset="0.7004" stop-color="#dca361"/><stop offset="0.7369" stop-color="#c98c56"/><stop offset="0.7734" stop-color="#ba7b4d"/><stop offset="0.8099" stop-color="#b4744a"/><stop offset="1.0000" stop-color="#a8683f"/></linearGradient>
<clipPath id="clwtan"><path d="M262,322C261.3,318.7 271.3,308.9 275,305C278.7,301.1 284.9,294.9 290,293C295.1,291.1 305.4,290.3 313,291C320.6,291.7 338.1,295.9 347,298C355.9,300.1 371.2,304.7 380,307C388.8,309.3 404.3,313.3 413,315C421.7,316.7 437.8,319.3 445,320C452.2,320.7 459.7,321.1 467,320C474.3,318.9 491.6,314.4 500,312C508.4,309.6 524,303.6 530,302C536,300.4 539.7,294.9 545,300C550.3,305.1 562.7,327.6 570,340C577.3,352.4 596.4,385 600,393C603.6,401 601.4,397.3 597,400C592.6,402.7 575.5,410.3 567,413C558.5,415.7 541.9,418.4 533,420C524.1,421.6 508.8,424.1 500,425C491.2,425.9 475.9,426.6 467,427C458.1,427.4 441.9,427.6 433,428C424.1,428.4 407.1,430 400,430C392.9,430 387.1,428.9 380,428C372.9,427.1 355,426.2 347,423C339,419.8 324,409.7 320,404C316,398.3 317.7,386.8 317,380C316.3,373.2 317.3,358.1 315,353C312.7,347.9 304.7,345.1 300,342C295.3,338.9 285.1,332.7 280,330C274.9,327.3 262.7,325.3 262,322Z"/></clipPath>
<clipPath id="clwext"><path d="M262,322L275,305L290,293L313,291L347,298L380,307L413,315L445,320L467,320L500,312L530,302L545,300L570,340L600,393L600,410L567,424L533,431L500,436L467,438L433,439L400,441L380,439L347,434L318,412L315,353L300,342L280,330Z"/></clipPath>
<clipPath id="clwband"><path d="M288.5,331.4L293.1,330.8L297.6,330.3L303,330.3L309.9,331.4L316.9,332.5L323.8,333.8L330.9,335.9L338.2,337.2L345.5,338.6L352.9,340L360.2,341.4L367.4,343L374.7,344.5L382,345.8L389.3,346.9L396.6,348L403.9,349L411.2,350L418.5,351.1L425.8,352.1L433.2,352.8L440.6,353.5L448,354.1L455.4,354.7L462.8,354.8L470.3,354.7L477.7,354.3L485.1,353.3L492.4,351.8L499.7,350.3L506.9,348.7L514.2,347L521.4,345L528.5,342.9L535.7,340.8L542.6,338.2L549.7,336.1L557,334.6L564.2,333L601.9,410L594.7,413.4L587.5,416.7L580.3,420L573.1,423.2L565.4,425L557.6,426.5L549.8,428L542.1,429.6L534.3,431L526.5,432.1L518.7,433.2L510.8,434.4L503,435.6L495.1,436.1L487.2,436.7L479.3,437.3L471.4,437.9L463.5,438.3L455.6,438.7L447.7,439.1L439.8,439.5L431.8,440.1L423.9,440.8L416,441.5L408.1,442.2L400.2,442.4L392.3,441.7L384.4,441.1L376.6,440L368.7,438.9L360.9,437.7L353.1,436.6L346.2,433.2L339.9,428.1L333.6,423L327.3,417.9L323.9,410.4L322,401.7L320.1,393Z"/></clipPath>
<clipPath id="clwall"><path d="M262,322C261.3,318.7 271.3,308.9 275,305C278.7,301.1 284.9,294.9 290,293C295.1,291.1 305.4,290.3 313,291C320.6,291.7 338.1,295.9 347,298C355.9,300.1 371.2,304.7 380,307C388.8,309.3 404.3,313.3 413,315C421.7,316.7 437.8,319.3 445,320C452.2,320.7 459.7,321.1 467,320C474.3,318.9 491.6,314.4 500,312C508.4,309.6 524,303.6 530,302C536,300.4 539.7,294.9 545,300C550.3,305.1 562.7,327.6 570,340C577.3,352.4 596.4,385 600,393C603.6,401 601.4,397.3 597,400C592.6,402.7 575.5,410.3 567,413C558.5,415.7 541.9,418.4 533,420C524.1,421.6 508.8,424.1 500,425C491.2,425.9 475.9,426.6 467,427C458.1,427.4 441.9,427.6 433,428C424.1,428.4 407.1,430 400,430C392.9,430 387.1,428.9 380,428C372.9,427.1 355,426.2 347,423C339,419.8 324,409.7 320,404C316,398.3 317.7,386.8 317,380C316.3,373.2 317.3,358.1 315,353C312.7,347.9 304.7,345.1 300,342C295.3,338.9 285.1,332.7 280,330C274.9,327.3 262.7,325.3 262,322Z"/><path d="M316.4,354.4C321.4,354.9 322.1,362.5 323.8,365.5C325.5,368.6 325.8,369.5 326.6,373C327.4,376.5 328.8,382.8 328.6,386.6C328.3,390.4 326.5,393.7 325.1,395.8C323.8,397.9 322.3,398.5 320.5,399.2C318.8,399.8 317.3,400.3 314.9,399.6C312.5,398.9 308.9,397.7 306.2,395C303.6,392.3 300.5,386.7 298.7,383.5C297,380.3 296.7,379.5 295.9,376C295.2,372.6 290.7,366.4 294.1,362.8C297.6,359.2 311.5,354 316.4,354.4Z"/><path d="M332,363.9C336.8,365.4 336.4,373.7 338.1,378.6C339.9,383.4 341.6,388.5 342.3,393.1C343.1,397.7 343.4,402.7 342.7,406.3C342.1,409.9 340,412.8 338.5,414.7C337,416.5 335.4,417 333.7,417.4C332,417.8 330.5,418.1 328.3,417.2C326.1,416.3 322.8,414.7 320.5,411.9C318.3,409 316.1,404.5 314.6,400.1C313.1,395.7 312.2,390.4 311.4,385.3C310.6,380.2 306.4,373.1 309.9,369.5C313.3,366 327.3,362.4 332,363.9Z"/><path d="M353.7,371.9C358.3,373.7 357.7,382.3 359.4,387.9C361.2,393.5 363.3,400.3 364.1,405.4C364.8,410.5 364.8,414.9 364.1,418.5C363.3,422 361.1,424.9 359.6,426.7C358.1,428.4 356.5,428.9 354.9,429.2C353.2,429.6 351.6,429.9 349.4,428.9C347.3,427.9 344.1,426.3 341.9,423.4C339.8,420.5 337.9,416.5 336.4,411.6C334.9,406.6 333.9,399.6 333.1,393.8C332.3,388 328.1,380.5 331.5,376.8C335,373.2 349,370.1 353.7,371.9Z"/><path d="M375.7,375.5C380.4,377.3 379.9,385.8 381.7,391.4C383.5,396.9 385.7,403.6 386.6,408.7C387.4,413.8 387.5,418.2 386.8,421.8C386.1,425.3 384,428.2 382.5,430C380.9,431.8 379.4,432.3 377.7,432.7C376,433.1 374.5,433.4 372.3,432.4C370.2,431.5 367,429.9 364.7,427C362.5,424.2 360.6,420.2 359,415.3C357.5,410.4 356.4,403.4 355.5,397.6C354.6,391.9 350.3,384.5 353.7,380.8C357.1,377.1 371.1,373.8 375.7,375.5Z"/><path d="M397.7,378.9C402.4,380.5 402.1,389 404,394.3C405.9,399.7 408.1,406 409,410.9C410,415.8 410.1,420.4 409.5,423.9C408.9,427.5 406.9,430.4 405.4,432.3C403.9,434.1 402.4,434.6 400.8,435C399.1,435.5 397.5,435.8 395.4,434.9C393.2,434 389.9,432.5 387.7,429.7C385.4,426.9 383.3,422.9 381.7,418.1C380.1,413.4 378.9,406.8 377.9,401.2C376.9,395.6 372.5,388.4 375.8,384.7C379.1,380.9 393,377.3 397.7,378.9Z"/><path d="M421.2,379.8C426,381.2 426,389.4 428,394.2C429.9,399.1 431.9,404.2 432.9,408.9C433.9,413.5 434.3,418.3 433.9,421.9C433.4,425.5 431.4,428.5 430,430.4C428.6,432.3 427.1,432.8 425.4,433.3C423.8,433.8 422.2,434.2 420,433.4C417.8,432.6 414.5,431.2 412.1,428.4C409.7,425.7 407.4,421.4 405.7,417C404,412.6 402.8,407.2 401.8,402.1C400.8,397 396.2,390.1 399.5,386.4C402.7,382.7 416.5,378.5 421.2,379.8Z"/><path d="M443.3,380.8C448.1,381.9 448.4,389.9 450.4,394.4C452.4,398.8 454.2,403.1 455.2,407.4C456.3,411.8 457,416.8 456.6,420.4C456.3,424 454.4,427.1 453,429.1C451.7,431 450.2,431.6 448.6,432.1C446.9,432.7 445.4,433.1 443.2,432.4C440.9,431.6 437.6,430.3 435.1,427.7C432.6,425 430.1,420.6 428.3,416.5C426.5,412.4 425.4,407.9 424.3,403.1C423.2,398.4 418.6,391.8 421.8,388C424.9,384.3 438.5,379.8 443.3,380.8Z"/><path d="M465.5,381.4C470.2,382.2 470.8,390.2 472.9,394.3C474.9,398.5 476.6,402.2 477.7,406.3C478.8,410.5 479.7,415.7 479.4,419.3C479.2,422.9 477.4,426 476.1,428C474.8,430 473.3,430.6 471.7,431.2C470.1,431.8 468.6,432.3 466.3,431.6C464,430.9 460.7,429.7 458.1,427.1C455.6,424.5 452.9,420 451.1,416.1C449.2,412.2 448.1,408.3 446.9,403.9C445.8,399.4 441.1,393 444.2,389.2C447.3,385.5 460.7,380.6 465.5,381.4Z"/><path d="M489.2,381.1C493.9,381.7 494.8,389.5 496.8,393.4C498.9,397.3 500.5,400.5 501.6,404.5C502.7,408.5 503.9,413.8 503.7,417.4C503.6,421 501.9,424.2 500.6,426.2C499.4,428.2 498,428.9 496.4,429.5C494.7,430.2 493.2,430.7 491,430.1C488.7,429.5 485.3,428.4 482.7,425.9C480.1,423.4 477.2,418.8 475.3,415.1C473.4,411.4 472.3,408 471.1,403.7C469.9,399.5 465.1,393.3 468.1,389.5C471.1,385.7 484.4,380.4 489.2,381.1Z"/><path d="M511.3,378.4C516.1,379 517.1,386.7 519.2,390.5C521.3,394.4 522.9,397.5 524.1,401.4C525.3,405.4 526.5,410.6 526.4,414.3C526.3,417.9 524.7,421.1 523.5,423.1C522.3,425.1 520.9,425.8 519.3,426.5C517.7,427.2 516.2,427.7 513.9,427.2C511.6,426.6 508.2,425.5 505.5,423.1C502.9,420.6 500,416.1 498,412.4C496,408.8 494.8,405.5 493.6,401.3C492.3,397.2 487.5,391.1 490.4,387.3C493.4,383.4 506.5,377.9 511.3,378.4Z"/><path d="M533.2,374C538,374.5 539.1,382.3 541.3,386.3C543.5,390.2 545.3,393.5 546.6,397.6C547.9,401.6 549.1,406.8 549.1,410.4C549,414 547.4,417.2 546.3,419.3C545.1,421.3 543.7,422 542.1,422.7C540.5,423.4 539,424 536.7,423.4C534.4,422.9 531,421.9 528.3,419.5C525.6,417 522.7,412.6 520.6,408.9C518.6,405.2 517.3,401.6 515.9,397.3C514.6,393 509.6,387 512.4,383.1C515.3,379.2 528.4,373.5 533.2,374Z"/><path d="M556.3,368.3C561.1,368.8 562.3,376.7 564.6,380.7C567,384.8 569,388.6 570.5,392.7C571.9,396.8 573.1,401.8 573.1,405.4C573.1,409.1 571.6,412.3 570.4,414.3C569.3,416.4 567.9,417.1 566.3,417.8C564.7,418.5 563.3,419.1 561,418.6C558.7,418.1 555.2,417.1 552.5,414.7C549.8,412.4 546.9,408.1 544.7,404.3C542.6,400.5 541.1,396.5 539.6,392C538.1,387.6 533,381.5 535.7,377.6C538.5,373.6 551.5,367.7 556.3,368.3Z"/><path d="M577.3,360.7C582.2,361 583.5,368.8 585.8,372.6C588.1,376.5 590,379.7 591.4,383.7C592.8,387.7 594.2,392.9 594.3,396.5C594.4,400.1 592.9,403.4 591.7,405.5C590.6,407.6 589.2,408.3 587.7,409C586.1,409.8 584.6,410.4 582.3,409.9C580,409.4 576.5,408.5 573.8,406.2C571,403.9 567.9,399.5 565.7,395.9C563.6,392.2 562.2,388.8 560.7,384.5C559.2,380.3 554,374.3 556.8,370.4C559.6,366.4 572.5,360.3 577.3,360.7Z"/></clipPath>
<filter id="blur3"><feGaussianBlur stdDeviation="3.5"/></filter>
<linearGradient id="g79" gradientUnits="userSpaceOnUse" x1="440" y1="110" x2="444" y2="138"><stop offset="0.0000" stop-color="#b7cfd5"/><stop offset="0.3500" stop-color="#9dbbc4"/><stop offset="0.8000" stop-color="#7b9ba6"/><stop offset="1.0000" stop-color="#64838f"/></linearGradient>
<linearGradient id="g80" gradientUnits="userSpaceOnUse" x1="450" y1="145" x2="454" y2="160"><stop offset="0.0000" stop-color="#c4d9dd"/><stop offset="0.4000" stop-color="#a3c0c8"/><stop offset="1.0000" stop-color="#6f8f9c"/></linearGradient>
<clipPath id="cface"><path d="M468,108.5C467.8,107.3 473.2,104.2 475,103C476.8,101.8 481,99.3 483,98.5C485,97.7 489.7,96.4 492,96C494.3,95.6 500.6,95.1 503,95C505.4,94.9 510.7,95.2 513,95.5C515.3,95.8 520.9,96.8 523,97.5C525.1,98.2 529.5,100.5 531,101.5C532.5,102.5 535,105.2 536,106.5C537,107.8 539.2,111.4 540,113C540.8,114.6 542.1,117.8 542.5,120C542.9,122.2 543.6,129.6 543.5,132C543.4,134.4 542.4,139.1 542,141C541.6,142.9 540.7,146.5 540,148C539.3,149.5 537,152.7 536,154C535,155.3 532.2,158 531,159C529.8,160 527.3,161.7 526,162.5C524.7,163.3 521.6,164.9 520,165.5C518.4,166.1 513.8,167.2 512,167.5C510.2,167.8 506.6,168.5 505,168.5C503.4,168.5 499.5,167.8 498,167.5C496.5,167.2 493.3,166 492,165.5C490.7,165 488.1,163.6 487,163C485.9,162.4 481.1,160.3 483,160C484.9,159.7 499.7,160.5 503,160C506.3,159.5 509.7,157.4 511,156C512.3,154.6 514.7,149.2 514,148C513.3,146.8 507.9,146.4 505,146C502.1,145.6 491,144.8 489,144.5C487,144.2 487.5,143.9 487.5,143C487.5,142.1 489.4,139.4 489,137C488.6,134.6 485.4,124.8 484,122C482.6,119.2 478.9,114.6 477,113C475.1,111.4 468.2,109.7 468,108.5Z"/></clipPath>
</defs>
<g id="branch">
<g transform="rotate(-40 650 560)"><path d="M297,524.9C303.7,525 334.9,538.1 348.1,541.7C361.4,545.3 371.9,546 385,549.1C398,552.2 421.7,559.8 435.1,562.5C448.6,565.1 463.8,567.2 474.6,566.8C485.3,566.4 496.5,559.5 506.6,559.8C516.7,560.1 528.7,565.4 542.2,568.7C555.7,572 581.6,579.2 596.5,581.7C611.4,584.2 631,585.9 641.6,585.6C652.2,585.3 659.6,582.5 667.3,579.8C675.1,577.1 682.1,571.7 693.3,567.6C704.4,563.4 723.7,555 741.6,552C759.4,548.9 795.7,548.4 812.1,547.2C828.5,546.1 839.6,545.2 850.9,544.5C862.3,543.9 877.1,543.5 887.7,542.8C898.3,542 910.9,541 921.5,539.8C932.2,538.5 948.4,536.6 958.7,534.4C968.9,532.2 981.8,528.3 989.8,525.3C997.8,522.3 1006.9,517 1012.2,514.1C1017.6,511.2 1023.3,505.4 1025.7,505.8C1028.1,506.3 1026.5,514.9 1028.1,517C1029.7,519.1 1035.1,517.6 1036.2,519.8C1037.2,522.1 1033.5,529.7 1035.1,532C1036.7,534.3 1043.8,533.1 1046.7,535.2C1049.7,537.3 1056.7,541.8 1054.8,545.9C1052.9,550 1041.6,557.8 1034.2,562.6C1026.9,567.4 1014.5,573.8 1005.8,577.9C997.1,581.9 985.1,586.3 976.3,589.7C967.4,593 955.9,597.7 946.7,600.1C937.4,602.5 923.5,604.8 914.5,605.7C905.5,606.6 897.5,605.4 886.8,606C876.1,606.6 856.7,608.6 843.2,609.8C829.6,611 810.4,611.5 796.7,613.9C782.9,616.3 764.5,622.8 751.6,625.6C738.6,628.5 722.1,630.4 710.3,632.8C698.5,635.2 683.8,638.9 672.8,641.8C661.7,644.6 647.4,650 636.8,652C626.1,654 611.3,655.3 601.5,655.1C591.7,654.9 579.5,653 571.3,650.6C563.1,648.3 554.5,642.1 546.9,639.3C539.3,636.4 528.1,631.7 520.7,631.6C513.3,631.5 504,636.9 497.9,638.6C491.7,640.3 487,640.8 479.8,643C472.7,645.3 461.9,648.8 450.2,653.4C438.5,658.1 413.6,668.4 401.6,674C389.6,679.6 377.8,686.8 370.4,690.9C363,695.1 355.5,701.4 352.2,701.8C348.9,702.1 350.7,694.6 348.7,693.5C346.6,692.4 340.9,695.8 338.8,694.4C336.7,693 336.8,685.8 334.4,684.1C331.9,682.5 324.9,684.6 322.2,683.1C319.5,681.6 314.9,676.9 316.5,674.4C318,671.8 328.2,667.7 332.7,665.8C337.3,663.9 341.3,664.2 346.6,661.8C351.9,659.4 361.9,653.6 368.3,650C374.7,646.3 386.5,641.1 389.2,637.5C391.8,633.8 391,629.8 386,625.7C381.1,621.5 364.1,613.3 356.2,609.8C348.4,606.4 340.2,605 333.6,602.6C327,600.2 315.2,596.6 312.3,593.8C309.3,591 314.7,586.6 314.2,583.7C313.7,580.8 309.4,577.6 309.1,574.2C308.8,570.8 313,564.5 312.2,561.2C311.5,557.8 305.7,555 304.3,551.9C303,548.8 304.4,544.7 303.3,540.6C302.2,536.6 290.3,524.7 297,524.9Z" fill="#9ab7b5" stroke="none" stroke-width="1" filter="url(#mott)"/></g>
<g clip-path="url(#cbranch)">
<path d="M951,289C948.2,298.3 939.3,331 934,345C928.7,359 924.2,363.8 919,373C913.8,382.2 909.2,391.3 903,400C896.8,408.7 889,417.8 882,425C875,432.2 869.7,434.8 861,443C852.3,451.2 840.7,463.3 830,474C819.3,484.7 807,495.2 797,507C787,518.8 779,533.3 770,545C761,556.7 751.3,566.5 743,577C734.7,587.5 727.3,597.7 720,608C712.7,618.3 706.7,629.7 699,639C691.3,648.3 682.5,657.2 674,664C665.5,670.8 656.7,676.2 648,680C639.3,683.8 630.5,684 622,687C613.5,690 603.3,692.8 597,698C590.7,703.2 588,712.2 584,718C580,723.8 577.5,726 573,733C568.5,740 563.7,747.7 557,760C550.3,772.3 540.3,790.3 533,807C525.7,823.7 516.3,851.2 513,860" fill="none" stroke="#557f86" stroke-width="26" filter="url(#blur8)" stroke-opacity="0.75"/>
<path d="M500,787C498.3,785.8 497.2,780 490,780C482.8,780 469.8,783.2 457,787C444.2,790.8 420.3,800.3 413,803" fill="none" stroke="#557f86" stroke-width="18" filter="url(#blur8)" stroke-opacity="0.7"/>
<path d="M520,690C526.7,684.2 546.7,663.3 560,655C573.3,646.7 585,646.7 600,640C615,633.3 633.3,625 650,615C666.7,605 685,591.7 700,580C715,568.3 729.2,558.3 740,545C750.8,531.7 760.8,507.5 765,500" fill="none" stroke="#33697a" stroke-width="50" filter="url(#blur8)" stroke-opacity="0.9"/>
<path d="M357,760C365.3,756.7 393.2,746.3 407,740C420.8,733.7 426.7,728.7 440,722C453.3,715.3 473.7,707.3 487,700C500.3,692.7 511.2,686 520,678C528.8,670 531.2,659 540,652C548.8,645 559.2,642.8 573,636C586.8,629.2 608.5,619.5 623,611C637.5,602.5 651.2,592.8 660,585C668.8,577.2 671.3,571.8 676,564C680.7,556.2 681.5,549.5 688,538C694.5,526.5 702,510.3 715,495C728,479.7 752.8,458.7 766,446C779.2,433.3 784.8,427.7 794,419C803.2,410.3 812.5,402.2 821,394C829.5,385.8 836.8,378.7 845,370C853.2,361.3 862.8,351.2 870,342C877.2,332.8 882.5,325.8 888,315C893.5,304.2 900.5,283.3 903,277" fill="none" stroke="#c9dddc" stroke-width="12" filter="url(#blur8)" stroke-opacity="0.5"/>
</g>
<path d="M357,760C362.2,755.8 394.6,745.7 407,740C419.4,734.3 428,728 440,722C452,716 475,706.6 487,700C499,693.4 512,685.2 520,678C528,670.8 532,658.3 540,652C548,645.7 560.5,642.1 573,636C585.5,629.9 610,618.6 623,611C636,603.4 652,592 660,585C668,578 671.8,571 676,564C680.2,557 682.1,548.4 688,538C693.9,527.6 703.3,508.8 715,495C726.7,481.2 754.1,457.4 766,446C777.9,434.6 785.8,426.8 794,419C802.2,411.2 813.4,401.4 821,394C828.6,386.6 837.6,377.8 845,370C852.4,362.2 863.5,350.2 870,342C876.5,333.8 883.8,322.5 888,315C892.2,307.5 895.8,297.7 898,292C900.2,286.3 900.9,278.2 903,277C905.1,275.8 909.5,283.4 912,284C914.5,284.6 917.8,279.9 920,281C922.2,282.1 924.3,290.2 927,291C929.7,291.8 934.4,286.3 938,286C941.6,285.7 949.8,284.6 951,289C952.2,293.4 948.5,306.6 946,315C943.5,323.4 938,336.3 934,345C930,353.7 923.6,364.8 919,373C914.4,381.2 908.5,392.2 903,400C897.5,407.8 888.3,418.6 882,425C875.7,431.4 868.8,435.6 861,443C853.2,450.4 839.6,464.4 830,474C820.4,483.6 806,496.4 797,507C788,517.6 778.1,534.5 770,545C761.9,555.5 750.5,567.5 743,577C735.5,586.5 726.6,598.7 720,608C713.4,617.3 705.9,630.6 699,639C692.1,647.4 681.6,657.9 674,664C666.4,670.1 655.8,676.5 648,680C640.2,683.5 629.6,684.3 622,687C614.4,689.7 602.7,693.4 597,698C591.3,702.6 587.6,712.8 584,718C580.4,723.2 577,726.7 573,733C569,739.3 563,748.9 557,760C551,771.1 538.5,795 533,807C527.5,819 523,832 520,840C517,848 515.2,857.6 513,860C510.8,862.4 507.2,855.5 505,856C502.8,856.5 500.6,862.7 498,863C495.4,863.3 491,857.7 488,858C485,858.3 481,864.4 478,865C475,865.6 468.4,865 468,862C467.6,859 472.8,849.4 475,845C477.2,840.6 480.4,838.2 483,833C485.6,827.8 489.4,816.9 492,810C494.6,803.1 500.3,791.5 500,787C499.7,782.5 496.4,780 490,780C483.6,780 465.2,784.6 457,787C448.8,789.4 441.6,793.6 435,796C428.4,798.4 417.1,803.3 413,803C408.9,802.7 410.2,796 408,794C405.8,792 400.4,792.4 398,790C395.6,787.6 394.7,780.1 392,778C389.3,775.9 383,777.5 380,776C377,774.5 375.4,770.4 372,768C368.6,765.6 351.8,764.2 357,760Z" fill="none" stroke="#5f8992" stroke-width="1" stroke-opacity="0.8"/>
</g>
<g id="leaves1">
<path d="M487,693C486.3,689.5 484.3,678.3 483,672C481.7,665.7 480.2,660.3 479,655C477.8,649.7 477,645.3 476,640C475,634.7 473.5,625.8 473,623" fill="none" stroke="#2c9a44" stroke-width="4.6" stroke-linecap="round"/><path d="M487,693C486.3,689.5 484.3,678.3 483,672C481.7,665.7 480.2,660.3 479,655C477.8,649.7 477,645.3 476,640C475,634.7 473.5,625.8 473,623" fill="none" stroke="#5cc465" stroke-width="2.6" stroke-linecap="round"/>
<path d="M438,615C440.5,614.2 448.3,609.8 453,610C457.7,610.2 462.7,612.7 466,616C469.3,619.3 471.8,627.7 473,630" fill="none" stroke="#2c9a44" stroke-width="4.6" stroke-linecap="round"/><path d="M438,615C440.5,614.2 448.3,609.8 453,610C457.7,610.2 462.7,612.7 466,616C469.3,619.3 471.8,627.7 473,630" fill="none" stroke="#5cc465" stroke-width="2.6" stroke-linecap="round"/>
<path d="M507,600C503.7,600.5 492,601 487,603C482,605 479.3,608.7 477,612C474.7,615.3 473.7,621.2 473,623" fill="none" stroke="#2c9a44" stroke-width="4.6" stroke-linecap="round"/><path d="M507,600C503.7,600.5 492,601 487,603C482,605 479.3,608.7 477,612C474.7,615.3 473.7,621.2 473,623" fill="none" stroke="#5cc465" stroke-width="2.6" stroke-linecap="round"/>
<path d="M417,673C419.2,669.2 424,655.5 430,650C436,644.5 446.3,640.8 453,640C459.7,639.2 466,642.8 470,645C474,647.2 475.8,651.7 477,653" fill="none" stroke="#2c9a44" stroke-width="4.6" stroke-linecap="round"/><path d="M417,673C419.2,669.2 424,655.5 430,650C436,644.5 446.3,640.8 453,640C459.7,639.2 466,642.8 470,645C474,647.2 475.8,651.7 477,653" fill="none" stroke="#5cc465" stroke-width="2.6" stroke-linecap="round"/>
<path d="M440,690C439.2,686.2 434.5,674.2 435,667C435.5,659.8 438.3,651.5 443,647C447.7,642.5 457.3,639 463,640C468.7,641 474.7,650.8 477,653" fill="none" stroke="#2c9a44" stroke-width="4.6" stroke-linecap="round"/><path d="M440,690C439.2,686.2 434.5,674.2 435,667C435.5,659.8 438.3,651.5 443,647C447.7,642.5 457.3,639 463,640C468.7,641 474.7,650.8 477,653" fill="none" stroke="#5cc465" stroke-width="2.6" stroke-linecap="round"/>
<path d="M507,718C507.5,712.8 511.2,696.2 510,687C508.8,677.8 503.8,667.8 500,663C496.2,658.2 490.7,657.3 487,658C483.3,658.7 478,661.2 478,667C478,672.8 485.5,688.7 487,693" fill="none" stroke="#2c9a44" stroke-width="4.6" stroke-linecap="round"/><path d="M507,718C507.5,712.8 511.2,696.2 510,687C508.8,677.8 503.8,667.8 500,663C496.2,658.2 490.7,657.3 487,658C483.3,658.7 478,661.2 478,667C478,672.8 485.5,688.7 487,693" fill="none" stroke="#5cc465" stroke-width="2.6" stroke-linecap="round"/>
<path d="M438,615Q431.6,640.9 432,667.6C430.3,667.5 424.8,668 421.5,667.1C418.2,666.2 415.2,663.9 412.2,662.1C409.3,660.3 406.4,658.4 403.6,656.3C400.8,654.3 398,652.2 395.4,649.7C392.8,647.3 388,645.3 388,641.7C388,638 396.4,631.5 395.5,628C394.6,624.5 384.5,623.7 382.5,620.7C380.6,617.8 383.4,613.6 383.9,610.1C384.5,606.6 384.8,603.1 385.8,599.8C386.9,596.5 388.5,593.3 390.1,590.2C391.6,587.1 392.8,583.5 395.2,581.1C397.6,578.6 402.9,576.6 404.4,575.7Q418.6,597.6 438,615Z" fill="url(#g1)" stroke="#2f9f45" stroke-width="1.4" stroke-linejoin="round"/><path d="M435.6,623.2L424.8,661M434.3,622.7L417.4,658.2M433.1,622L410.5,654.2M432,621.1L404.4,649.2M431.1,620L399.3,643.1M430.3,618.8L405.4,631.3M429.8,617.5L403.1,625.7M429.5,616.1L401.8,619.8M429.5,614.7L390.1,613.3M429.6,613.3L391.1,605.5M430,611.9L393.3,597.8M430.6,610.7L396.7,590.7M431.5,609.5L401.3,584.2" fill="none" stroke="#46ad55" stroke-width="0.7" stroke-opacity="0.55"/><path d="M434.4,633.7L428.5,654.5M426.6,629.1L411.5,644.5M424.6,620.5L410,625M421.5,612.3L400.3,608M425.4,604.2L408.8,590.3" fill="none" stroke="#d6f3d2" stroke-width="1.6" stroke-opacity="0.5" stroke-linecap="round"/>
<path d="M507,600Q528.2,581.9 543.9,559C545.1,559.8 548.8,561.9 551,563.7C553.3,565.5 555.5,567.5 557.4,569.7C559.2,572 561,574.5 562.1,577.2C563.3,579.8 563.6,582.9 564.1,585.8C564.7,588.6 567.4,591.6 565.5,594.4C563.6,597.1 552.7,599.4 553,602.4C553.3,605.4 565.5,609.2 567.4,612.3C569.3,615.4 565.9,618.3 564.3,620.9C562.8,623.4 560.2,625.6 558,627.7C555.9,629.8 553.4,631.5 551.5,633.6C549.6,635.6 548.4,638.2 546.5,640.2C544.6,642.2 541.1,644.6 540.1,645.5Q526.5,620.6 507,600Z" fill="url(#g2)" stroke="#2f9f45" stroke-width="1.4" stroke-linejoin="round"/><path d="M513.9,594L545.8,566.6M514.6,595L549.8,571.8M515.2,596L553,577.4M515.7,597L555.5,583.4M516,598.2L557.2,589.7M516.1,599.3L545.9,597.1M516.1,600.5L546,602M516,601.6L545.4,607M515.7,602.8L555.8,615.5M515.3,603.8L553.5,621.5M514.7,604.9L550.4,627.3M514.1,605.8L546.6,632.5M513.3,606.7L542.1,637.3" fill="none" stroke="#46ad55" stroke-width="0.7" stroke-opacity="0.55"/><path d="M523.4,588.2L541,573.1M527.1,594.6L549,587.2M525.1,601.9L541.5,602.7M526.4,609.3L547.4,619M522,615.3L537.9,632.2" fill="none" stroke="#d6f3d2" stroke-width="1.6" stroke-opacity="0.5" stroke-linecap="round"/>
<path d="M417,673Q411.5,698.1 412.6,723.9C411.6,723.8 408.6,723.7 406.6,723.4C404.6,723 402.8,722.3 400.8,721.8C398.9,721.3 397,720.7 395,720.2C393,719.6 390.9,719.2 389,718.4C387,717.7 383.6,718.2 383.3,715.7C382.9,713.1 388.1,704.8 386.8,703.2C385.5,701.5 377.8,706.3 375.4,705.9C373,705.4 373.7,702.1 372.5,700.4C371.4,698.7 369.7,697.3 368.7,695.5C367.7,693.7 367.2,691.7 366.6,689.7C366,687.7 365,685.8 365.2,683.7C365.3,681.6 367,678.4 367.4,677.3Q392.5,678.5 417,673Z" fill="url(#g3)" stroke="#2f9f45" stroke-width="1.4" stroke-linejoin="round"/><path d="M415.5,681.1L408.4,718.4M414.7,680.9L403.9,717.3M413.9,680.6L399.6,715.8M413.1,680.3L395.4,713.8M412.4,679.9L391.5,711.5M411.8,679.4L394.7,700.2M411.2,678.8L392.1,697.9M410.6,678.2L389.8,695.3M410.1,677.6L378.5,698.5M409.7,676.9L376.2,694.6M409.4,676.1L374.2,690.4M409.1,675.3L372.7,686.1M408.9,674.5L371.6,681.6" fill="none" stroke="#46ad55" stroke-width="0.7" stroke-opacity="0.55"/><path d="M415.2,691.4L411.3,711.9M410.2,689.7L400.5,708.1M407.9,684.6L397.4,695.1M402.8,682.3L384.4,692M401.1,677.3L380.6,681.2" fill="none" stroke="#d6f3d2" stroke-width="1.6" stroke-opacity="0.5" stroke-linecap="round"/>
<path d="M440,690Q460.1,701.4 482.5,707.2C482,708.4 481.1,712.5 479.7,714.8C478.3,717.1 476.1,718.9 474.3,720.9C472.4,722.8 470.5,724.6 468.6,726.6C466.7,728.7 465.2,731.3 463,733.3C460.8,735.2 458.6,739.1 455.7,738.3C452.8,737.5 448.3,728.3 445.4,728.4C442.5,728.5 440.8,737.6 438.3,738.9C435.7,740.3 432.8,737.2 430.1,736.4C427.4,735.7 424.7,735.3 422.1,734.3C419.5,733.3 416.9,732.2 414.6,730.7C412.3,729.1 410.1,727.3 408.4,725.1C406.8,722.9 405.3,718.8 404.7,717.6Q424.2,706.1 440,690Z" fill="url(#g4)" stroke="#2f9f45" stroke-width="1.4" stroke-linejoin="round"/><path d="M446.5,693.8L476.2,711.4M445.8,694.7L472.6,716.5M445,695.5L468.3,721.1M444.2,696.2L463.3,724.9M443.2,696.8L457.8,728M442.1,697.2L449.1,720.7M441,697.4L444.5,721.7M439.9,697.5L439.7,722M438.8,697.4L433.3,731.5M437.7,697.1L427.2,730M436.7,696.7L421.4,727.7M435.7,696.2L416,724.5M434.8,695.4L411.1,720.5" fill="none" stroke="#46ad55" stroke-width="0.7" stroke-opacity="0.55"/><path d="M455.4,699.2L471.7,708.9M450.5,704.4L461,720.2M443.4,704.5L445.3,717.8M436.6,706.4L430.8,724.4M430.4,702.7L417.4,716.5" fill="none" stroke="#d6f3d2" stroke-width="1.6" stroke-opacity="0.5" stroke-linecap="round"/>
<path d="M507,718Q520.6,742.2 540.1,762C539.1,762.9 535.9,765.5 533.7,767.6C531.5,769.6 529.5,772.2 527.1,774.1C524.6,776.1 521.8,777.9 518.9,779.1C516,780.3 512.6,781.6 509.6,781.3C506.5,780.9 502.8,780.1 500.5,776.9C498.1,773.6 498.3,762.1 495.3,761.5C492.4,761 486.3,771.9 482.7,773.5C479,775.1 476.3,772.3 473.5,770.9C470.7,769.5 467.7,767.8 465.9,765.3C464.1,762.8 463.5,758.8 462.4,755.8C461.4,752.8 460.3,750.1 459.4,747.3C458.6,744.5 457.6,740.5 457.3,739.1Q483.6,732 507,718Z" fill="url(#g5)" stroke="#2f9f45" stroke-width="1.4" stroke-linejoin="round"/><path d="M511.6,726.1L532.7,763.3M510.5,726.6L526.6,766.2M509.4,727L520.2,768.4M508.2,727.2L513.6,769.7M507,727.3L506.9,770.1M505.8,727.2L501.8,757.3M504.6,727L496.7,756.3M503.5,726.6L491.9,754.7M502.4,726.1L481.1,763.2M501.4,725.4L475.5,759.4M500.5,724.6L470.4,755M499.7,723.7L465.9,750M499,722.7L462.1,744.4" fill="none" stroke="#46ad55" stroke-width="0.7" stroke-opacity="0.55"/><path d="M518.4,736.4L530,756.9M511,738.8L514,762.2M504.1,735.3L499.8,751.5M496.4,734.9L482.1,753.6M491.3,729.1L471,741" fill="none" stroke="#d6f3d2" stroke-width="1.6" stroke-opacity="0.5" stroke-linecap="round"/>
</g>
<g id="leaves2">
<path d="M868,428C871.3,427.7 881.5,427.5 888,426C894.5,424.5 899.3,420.5 907,419C914.7,417.5 929.5,417.3 934,417" fill="none" stroke="#2c9a44" stroke-width="4.6" stroke-linecap="round"/><path d="M868,428C871.3,427.7 881.5,427.5 888,426C894.5,424.5 899.3,420.5 907,419C914.7,417.5 929.5,417.3 934,417" fill="none" stroke="#5cc465" stroke-width="2.6" stroke-linecap="round"/>
<ellipse cx="874" cy="428" rx="9" ry="3.6" transform="rotate(-6 874 428)" fill="#5cc465" stroke="#2c9a44" stroke-width="1.2"/>
<path d="M936,364C937.3,368 943,381.2 944,388C945,394.8 943.7,400.2 942,405C940.3,409.8 935.3,415 934,417" fill="none" stroke="#2c9a44" stroke-width="4.6" stroke-linecap="round"/><path d="M936,364C937.3,368 943,381.2 944,388C945,394.8 943.7,400.2 942,405C940.3,409.8 935.3,415 934,417" fill="none" stroke="#5cc465" stroke-width="2.6" stroke-linecap="round"/>
<path d="M983,394C978.8,395.5 964.3,400 958,403C951.7,406 948.3,409.3 945,412C941.7,414.7 939.2,417.8 938,419" fill="none" stroke="#2c9a44" stroke-width="4.6" stroke-linecap="round"/><path d="M983,394C978.8,395.5 964.3,400 958,403C951.7,406 948.3,409.3 945,412C941.7,414.7 939.2,417.8 938,419" fill="none" stroke="#5cc465" stroke-width="2.6" stroke-linecap="round"/>
<path d="M910,475C909.3,470.7 905.3,456.8 906,449C906.7,441.2 909.3,433.2 914,428C918.7,422.8 930.7,419.7 934,418" fill="none" stroke="#2c9a44" stroke-width="4.6" stroke-linecap="round"/><path d="M910,475C909.3,470.7 905.3,456.8 906,449C906.7,441.2 909.3,433.2 914,428C918.7,422.8 930.7,419.7 934,418" fill="none" stroke="#5cc465" stroke-width="2.6" stroke-linecap="round"/>
<path d="M971,458C968.8,454.5 962.3,442.8 958,437C953.7,431.2 948.7,426.2 945,423C941.3,419.8 937.5,418.8 936,418" fill="none" stroke="#2c9a44" stroke-width="4.6" stroke-linecap="round"/><path d="M971,458C968.8,454.5 962.3,442.8 958,437C953.7,431.2 948.7,426.2 945,423C941.3,419.8 937.5,418.8 936,418" fill="none" stroke="#5cc465" stroke-width="2.6" stroke-linecap="round"/>
<path d="M936,364Q909.3,363 883.3,369.1C882.9,367.4 881.4,362.7 880.9,359.3C880.4,355.9 879.6,352.1 880,348.6C880.4,345.2 881.7,341.7 883.1,338.5C884.4,335.2 886.1,331.8 888.3,329.1C890.5,326.4 893.4,324 896.4,322.1C899.4,320.3 903.4,320.4 906.2,318.1C908.9,315.8 910.1,310.8 912.9,308.4C915.7,306.1 919.5,304.4 923.1,304C926.6,303.5 930.7,305 934.2,305.8C937.8,306.5 941.2,307.4 944.5,308.5C947.7,309.6 950.8,311.1 953.8,312.5C956.8,313.9 961.2,316.2 962.6,316.9Q946.2,338.7 936,364Z" fill="url(#g6)" stroke="#2f9f45" stroke-width="1.4" stroke-linejoin="round"/><path d="M927,363.5L885.7,361M927.2,362.1L886.8,353.2M927.6,360.7L889,345.7M928.2,359.5L892.4,338.6M929,358.3L896.9,332.2M930,357.3L910.3,335.4M931.1,356.5L915.1,331.8M932.3,355.8L920.3,328.9M933.6,355.3L922.8,315.4M935,355.1L930.5,313.9M936.4,355L938.4,313.7M937.8,355.2L946.2,314.6M939.2,355.6L953.7,316.8" fill="none" stroke="#46ad55" stroke-width="0.7" stroke-opacity="0.55"/><path d="M918.2,363.8L895.5,362.5M920.8,355.3L901.1,343.8M928.6,351.3L919.8,337.7M935.4,345.8L932.9,323.1M944.3,346.9L952.3,325.6" fill="none" stroke="#d6f3d2" stroke-width="1.6" stroke-opacity="0.5" stroke-linecap="round"/>
<path d="M983,394Q1000.8,375.9 1013.3,353.8C1014.5,354.8 1018.7,357.3 1020.7,359.6C1022.8,361.9 1023.8,365.1 1025.6,367.7C1027.5,370.3 1030,372.5 1031.9,375.2C1033.7,378 1035.8,381 1036.8,384.2C1037.8,387.4 1039.8,391.4 1037.7,394.3C1035.6,397.3 1025,398.8 1024,402C1022.9,405.1 1030.7,409.8 1031.3,413.2C1031.8,416.5 1029.1,419.4 1027.5,422.2C1025.9,424.9 1023.7,427.5 1021.5,429.9C1019.3,432.3 1017.1,434.9 1014.4,436.7C1011.8,438.5 1008.6,440 1005.5,440.8C1002.4,441.7 997.4,441.7 995.8,441.8Q992.6,417.1 983,394Z" fill="url(#g7)" stroke="#2f9f45" stroke-width="1.4" stroke-linejoin="round"/><path d="M988.9,388.3L1016.3,362M989.8,389.3L1021,367.7M990.4,390.4L1024.7,374.1M990.9,391.7L1027.3,380.9M991.2,393L1028.8,388.1M991.2,394.3L1018.2,395.1M991.1,395.6L1017.6,400.7M990.7,396.8L1016,406.1M990.2,398L1023.3,416.6M989.5,399.1L1019.2,422.7M988.6,400.1L1014.2,428.1M987.5,400.9L1008.4,432.6M986.4,401.5L1001.9,436.2" fill="none" stroke="#46ad55" stroke-width="0.7" stroke-opacity="0.55"/><path d="M997.3,382.7L1012.3,368.2M1001.5,390L1021.5,384.1M999.2,397.9L1013.8,400.7M998.4,406L1014.7,419M991.8,411.2L1000.3,430.2" fill="none" stroke="#d6f3d2" stroke-width="1.6" stroke-opacity="0.5" stroke-linecap="round"/>
<path d="M910,475Q930.3,494.8 955,508.9C953.9,510 950.5,513.5 948.2,515.7C945.8,517.9 943.6,520.3 941,522.1C938.3,523.8 935.1,524.6 932.3,526.2C929.4,527.8 926.8,530.1 923.8,531.8C920.8,533.4 917.2,537.8 914.1,535.9C911,534 908.6,521.2 905.2,520.5C901.9,519.7 897.3,530.4 894,531.4C890.7,532.5 888,528.4 885.1,526.7C882.3,525.1 879.5,523.3 876.8,521.5C874.1,519.7 871.1,518 868.9,515.7C866.6,513.3 864.9,510.3 863.5,507.4C862,504.5 860.7,499.8 860.2,498.2Q886.6,489.9 910,475Z" fill="url(#g8)" stroke="#2f9f45" stroke-width="1.4" stroke-linejoin="round"/><path d="M916.3,481.4L945.4,510.9M915.3,482.3L939.7,515.7M914.2,483L933.4,519.6M913,483.5L926.6,522.6M911.7,483.8L919.5,524.5M910.4,484L911.6,513.4M909.1,484L906,513.2M907.8,483.7L900.4,512.2M906.5,483.3L890.4,521.4M905.3,482.7L883.8,518.1M904.2,481.9L877.8,513.8M903.3,481L872.5,508.6M902.5,480L867.9,502.8" fill="none" stroke="#46ad55" stroke-width="0.7" stroke-opacity="0.55"/><path d="M925.1,489.8L941.1,506M917.9,494.3L925.4,515.8M909.8,492.3L908.1,508.3M901.5,492.5L889.6,512M895.4,486.7L876.3,499.2" fill="none" stroke="#d6f3d2" stroke-width="1.6" stroke-opacity="0.5" stroke-linecap="round"/>
<path d="M971,458Q994.7,457 1017.2,449.8C1017.3,451.3 1017.2,455.8 1017.5,458.8C1017.7,461.9 1018.7,465 1018.6,468.1C1018.5,471.2 1017.6,474.3 1016.9,477.5C1016.3,480.7 1016.2,484.6 1014.8,487.5C1013.3,490.4 1011.8,494.8 1008.1,495.1C1004.3,495.4 995.2,488.1 992.2,489.5C989.3,490.9 992.1,500.4 990.3,503.5C988.5,506.6 984.7,507 981.6,507.9C978.5,508.8 975.1,508.9 971.9,508.9C968.7,508.9 965.3,508.7 962.2,507.8C959.2,506.8 956.2,505.1 953.7,503.2C951.1,501.3 948.1,497.6 946.9,496.5Q961.6,478.9 971,458Z" fill="url(#g9)" stroke="#2f9f45" stroke-width="1.4" stroke-linejoin="round"/><path d="M978.8,457.9L1014.7,457.6M978.7,459.2L1014.2,464.7M978.4,460.4L1012.5,471.7M977.9,461.6L1009.7,478.3M977.2,462.7L1005.8,484.4M976.4,463.7L993.9,482.2M975.4,464.5L989.6,485.6M974.2,465.1L984.8,488.3M973,465.5L982.4,500.2M971.8,465.8L975.3,501.5M970.5,465.8L968.2,501.6M969.2,465.6L961.1,500.5M968,465.2L954.2,498.3" fill="none" stroke="#46ad55" stroke-width="0.7" stroke-opacity="0.55"/><path d="M989.3,458.8L1009,458.6M987.3,466.8L1004.8,476M980.4,470.7L988.3,482.4M974.2,475.7L976.1,495.3M966.1,474.5L958.5,492.7" fill="none" stroke="#d6f3d2" stroke-width="1.6" stroke-opacity="0.5" stroke-linecap="round"/>
</g>
<g id="rwing">
<path d="M779,86.5C783.3,80.8 790.3,81.9 792.2,88.4Q793.1,92.3 789.1,94" fill="none" stroke="#25404b" stroke-width="3.4" stroke-linecap="round"/><path d="M779,86.5C783.3,80.8 790.3,81.9 792.2,88.4Q793.1,92.3 789.1,94" fill="none" stroke="#5f7f8a" stroke-width="1" stroke-linecap="round" stroke-opacity="0.8"/>
<path d="M707.8,98C708.6,97.3 711.2,97.2 712.9,96.9C714.7,96.5 716.4,96.1 718.1,95.8C719.8,95.4 721.6,95.1 723.3,94.8C725,94.5 726.8,94.3 728.5,93.9C730.2,93.6 731.9,93.2 733.6,92.8C735.4,92.4 737.1,91.9 738.8,91.4C740.5,90.9 742.2,90.4 743.9,90C745.6,89.6 747.3,89.2 749,88.9C750.8,88.6 752.5,88.4 754.3,88.1C756,87.9 757.7,87.6 759.5,87.3C761.2,87 762.9,86.6 764.6,86.3C766.3,85.9 768,85.3 769.8,85.1C771.5,84.9 773.2,84.1 775.1,84.9C776.9,85.6 780,88.7 781,89.5C782,90.3 781.7,88.5 781,89.5C780.3,90.5 778.1,94.4 776.5,95.6C774.9,96.8 773.1,96.5 771.4,96.8C769.6,97 767.8,96.9 766.1,97C764.3,97.1 762.6,97.2 760.8,97.4C759.1,97.6 757.3,97.8 755.6,98C753.9,98.2 752.1,98.5 750.4,98.7C748.6,98.8 746.9,98.9 745.1,99C743.4,99.1 741.6,99 739.8,99C738,99 736.3,99 734.5,99.1C732.7,99.1 731,99.2 729.2,99.4C727.5,99.5 725.7,99.7 724,99.9C722.2,100.1 720.5,100.2 718.7,100.4C717,100.5 715.2,100.6 713.5,100.7C711.7,100.8 709.2,101.4 708.2,101C707.3,100.5 707,98.7 707.8,98Z" fill="url(#g10)" stroke="#1f5f79" stroke-width="1.3" /><path d="M719.2,97.6L719,96.1M724.8,96.8L724.6,95.1M730.4,96L730.2,94.2M736,95.1L735.7,93M741.6,94.3L741.2,91.6M747.2,93.4L746.8,90.3M752.8,92.6L752.4,89.4M758.4,91.8L758,88.6M764,91L763.6,87.6M769.7,90.2L769.1,86.4" fill="none" stroke="#eef8fa" stroke-width="1.3" stroke-opacity="0.85"/>
<path d="M799,98.5C802.3,95.9 806.2,97.6 806.2,101.6Q806.2,104 803.6,104.3" fill="none" stroke="#25404b" stroke-width="3.4" stroke-linecap="round"/><path d="M799,98.5C802.3,95.9 806.2,97.6 806.2,101.6Q806.2,104 803.6,104.3" fill="none" stroke="#5f7f8a" stroke-width="1" stroke-linecap="round" stroke-opacity="0.8"/>
<path d="M769.7,103C770,102.4 771.3,102.6 772,102.4C772.8,102.2 773.6,102 774.4,101.8C775.2,101.6 776,101.5 776.7,101.4C777.5,101.2 778.3,101.1 779.1,100.9C779.9,100.8 780.7,100.6 781.4,100.4C782.2,100.1 783,99.9 783.7,99.6C784.5,99.4 785.3,99.1 786,98.9C786.8,98.7 787.6,98.5 788.4,98.3C789.1,98.2 789.9,98.1 790.7,98C791.5,97.8 792.3,97.7 793.1,97.6C793.9,97.4 794.6,97.2 795.4,97C796.2,96.8 797,96.5 797.7,96.3C798.5,96.2 799.3,95.8 800.1,96.2C801,96.5 802.5,98.1 803,98.5C803.5,98.9 803.3,98 803,98.5C802.7,99 801.8,101.1 801.1,101.7C800.5,102.3 799.6,102.2 798.8,102.4C798,102.5 797.2,102.5 796.4,102.6C795.6,102.7 794.8,102.7 794.1,102.9C793.3,103 792.5,103.2 791.7,103.3C790.9,103.5 790.1,103.7 789.4,103.8C788.6,103.9 787.8,104 787,104.1C786.2,104.2 785.4,104.2 784.6,104.2C783.8,104.3 782.9,104.3 782.1,104.3C781.3,104.4 780.6,104.5 779.8,104.6C779,104.7 778.2,104.9 777.4,105.1C776.6,105.2 775.8,105.4 775,105.5C774.3,105.6 773.5,105.7 772.7,105.8C771.9,105.9 770.8,106.4 770.3,106C769.8,105.5 769.4,103.6 769.7,103Z" fill="url(#g11)" stroke="#1f5f79" stroke-width="1.3" /><path d="M780.9,102.2L780.7,101M786.4,101.1L786.1,99.4M791.9,100.1L791.6,98.4" fill="none" stroke="#eef8fa" stroke-width="1.3" stroke-opacity="0.85"/>
<path d="M869,97.5C875.2,92.7 882.2,95.8 882.3,103.2Q882.3,107.6 877.5,108.3" fill="none" stroke="#25404b" stroke-width="3.4" stroke-linecap="round"/><path d="M869,97.5C875.2,92.7 882.2,95.8 882.3,103.2Q882.3,107.6 877.5,108.3" fill="none" stroke="#5f7f8a" stroke-width="1" stroke-linecap="round" stroke-opacity="0.8"/>
<path d="M805.8,103C806.5,102 808.8,102.4 810.4,102.1C811.9,101.8 813.4,101.5 815,101.3C816.5,101.1 818.1,100.9 819.6,100.7C821.2,100.6 822.7,100.4 824.2,100.2C825.8,100 827.3,99.7 828.8,99.4C830.4,99.1 831.9,98.6 833.4,98.2C834.9,97.9 836.5,97.4 838,97.1C839.5,96.8 841.1,96.5 842.6,96.3C844.2,96.1 845.7,96 847.3,95.9C848.8,95.7 850.4,95.6 851.9,95.4C853.4,95.2 855,95 856.5,94.7C858,94.4 859.6,93.9 861.1,93.7C862.7,93.6 864.1,92.9 865.8,93.8C867.4,94.8 870.1,98.6 871,99.5C871.9,100.4 871.7,98.4 871,99.5C870.3,100.6 868.4,104.8 866.9,106C865.5,107.3 863.9,106.8 862.3,107C860.8,107.1 859.2,106.9 857.6,106.9C856.1,106.9 854.5,106.9 853,107C851.4,107.1 849.9,107.3 848.3,107.4C846.8,107.5 845.2,107.8 843.7,107.8C842.1,107.9 840.6,108 839,107.9C837.4,107.9 835.9,107.7 834.3,107.6C832.7,107.5 831.1,107.4 829.6,107.3C828,107.3 826.5,107.3 824.9,107.4C823.3,107.4 821.8,107.6 820.2,107.7C818.7,107.8 817.1,107.9 815.6,108C814,108 812.5,108.1 810.9,108.1C809.4,108.1 807.1,108.8 806.2,108C805.4,107.1 805.1,104 805.8,103Z" fill="url(#g12)" stroke="#1f5f79" stroke-width="1.3" /><path d="M817.8,103.9L817.6,101.7M823.7,103.3L823.5,101M829.6,102.7L829.3,100.1M835.5,102L835.2,98.8M841.4,101.4L841,97.7M847.3,100.8L846.9,97.1M853.2,100.3L852.8,96.5M859.1,99.6L858.7,95.5" fill="none" stroke="#eef8fa" stroke-width="1.3" stroke-opacity="0.85"/>
<path d="M706.7,313.2C710.7,313.2 713.5,319.8 717.2,322.9C720.8,326.1 724.4,328.3 728.6,332.1C732.7,335.8 738.1,340.6 742.1,345.4C746.1,350.3 750.8,358.2 752.7,360.9C754.6,363.7 752.3,359.6 753.3,361.9C754.3,364.2 757.8,370.9 758.8,374.6C759.9,378.3 759.8,381.4 759.7,384C759.5,386.5 758.9,388.4 758.1,390.1C757.4,391.7 756.3,393.1 755,394C753.7,394.9 752.2,395.5 750.6,395.6C748.9,395.6 747.2,395.5 745.1,394.5C742.9,393.6 740.4,392.3 737.8,389.8C735.1,387.3 730.6,381.4 729,379.5C727.5,377.6 730.3,381.3 728.4,378.5C726.5,375.8 721.1,368.4 717.8,363C714.5,357.7 711.2,351.4 708.5,346.6C705.8,341.8 704.3,338 701.8,334.1C699.3,330.1 692.5,326.3 693.3,322.8C694.1,319.4 702.7,313.1 706.7,313.2Z" fill="url(#g13)" stroke="#bd7a42" stroke-width="1.7" stroke-opacity="0.85"/><path d="M732.3,351.9L743.6,369.6M727.2,352.3L737.8,367" fill="none" stroke="#f8efe0" stroke-width="1.1" stroke-linecap="round" stroke-opacity="0.3"/><path d="M703.9,324.4L700.2,333.3M713.1,330.4L722.7,329.6M717.2,340.1L712.3,349.8M726,346.4L735.8,345.5M729.6,356.4L725.5,365.5" fill="none" stroke="#e2b566" stroke-width="0.7" stroke-opacity="0.5"/>
<path d="M718.6,297C722.7,297.1 726.1,304.2 730,307.7C734,311.2 737.8,313.7 742.3,317.7C746.9,321.8 752.8,327 757.4,332.1C761.9,337.3 767,345.5 769.4,348.8C771.7,352.1 770.2,349.4 771.5,352C772.9,354.6 776.2,360.9 777.3,364.6C778.5,368.2 778.4,371.3 778.4,373.9C778.4,376.5 777.8,378.3 777,380C776.3,381.7 775.2,383.1 774,384C772.8,384.9 771.2,385.5 769.6,385.7C767.9,385.8 766.2,385.7 764,384.8C761.9,383.9 759.3,382.7 756.6,380.2C753.8,377.8 749.5,372.3 747.6,370.1C745.7,367.9 747.8,370.2 745.4,366.9C743.1,363.6 737.2,356 733.4,350.2C729.7,344.5 726,337.6 722.9,332.4C719.8,327.2 717.9,323.3 715,319.1C712.1,314.8 704.8,310.6 705.4,307C706,303.3 714.5,296.9 718.6,297Z" fill="url(#g14)" stroke="#bd7a42" stroke-width="1.7" stroke-opacity="0.85"/><path d="M762.7,364.8L771.6,379M752.2,337.7L761.9,353.8" fill="none" stroke="#f8efe0" stroke-width="1.1" stroke-linecap="round" stroke-opacity="0.3"/><path d="M716.5,308.9L714.3,316.8M725.5,314.5L737,312.1M729.6,323.8L725.2,333.4M738.3,329.7L747,329.4M742.1,339.3L738.5,348.2M750.4,345.4L761.2,343.5" fill="none" stroke="#e2b566" stroke-width="0.7" stroke-opacity="0.5"/>
<path d="M734.4,282.8C738.6,283 742.6,290.4 746.8,294.1C751.1,297.7 755.1,300.4 760,304.7C765,309 771.6,314.3 776.5,319.7C781.5,325.2 787.1,333.5 790,337.2C792.8,341 791.9,339.3 793.5,342.2C795.2,345 798.4,350.9 799.7,354.5C800.9,358.1 801,361.2 801.1,363.8C801.1,366.4 800.6,368.2 799.9,369.9C799.2,371.6 798.2,373 797,374C795.8,375 794.3,375.6 792.6,375.8C791,376 789.2,375.9 787,375.1C784.8,374.2 782.2,373.1 779.4,370.8C776.6,368.4 772.3,363.4 770.1,360.9C768,358.5 769.4,359.7 766.6,356C763.7,352.3 757.4,344.6 753.1,338.5C748.9,332.5 744.8,325.2 741.3,319.7C737.8,314.3 735.5,310.2 732.2,305.8C729,301.4 721.2,297 721.6,293.2C721.9,289.3 730.2,282.7 734.4,282.8Z" fill="url(#g15)" stroke="#bd7a42" stroke-width="1.7" stroke-opacity="0.85"/><path d="M767,333.8L777.5,347.2M788.9,348.9L795.4,360.9" fill="none" stroke="#f8efe0" stroke-width="1.1" stroke-linecap="round" stroke-opacity="0.3"/><path d="M733,295.3L729.3,304.7M741.9,300.3L752.4,298.3M746,309.2L743.7,317.5M754.6,314.4L763.6,313.6M758.4,323.6L756.1,331.8M766.7,329L778,326.4M770.2,338.4L767.4,347" fill="none" stroke="#e2b566" stroke-width="0.7" stroke-opacity="0.5"/>
<path d="M748.4,268.8C752.8,269.1 757.1,277.1 761.7,281.1C766.2,285.2 770.4,288.2 775.7,292.9C781,297.5 788.1,303.3 793.5,309.2C798.9,315.1 804.8,323.8 808.1,328.1C811.4,332.4 811.5,332 813.4,335.2C815.3,338.5 818.3,344 819.6,347.6C820.8,351.2 821,354.3 821,356.8C821.1,359.4 820.6,361.2 819.9,362.9C819.2,364.6 818.2,366 817,367C815.8,368 814.3,368.6 812.6,368.8C810.9,369 809.2,368.9 807,368.1C804.8,367.3 802.2,366.2 799.3,363.9C796.5,361.6 792.4,356.9 790,354.1C787.6,351.3 788.1,351.3 784.8,346.9C781.5,342.6 774.8,334.6 770.2,328C765.6,321.5 761.1,313.6 757.2,307.8C753.4,301.9 750.8,297.6 747.2,292.8C743.6,288.1 735.4,283.2 735.6,279.2C735.8,275.2 744.1,268.5 748.4,268.8Z" fill="url(#g16)" stroke="#bd7a42" stroke-width="1.7" stroke-opacity="0.85"/><path d="M797,333.2L808.9,350.7M815.4,348.9L821,360.4" fill="none" stroke="#f8efe0" stroke-width="1.1" stroke-linecap="round" stroke-opacity="0.3"/><path d="M747.5,281.8L744,291.1M756.3,286.8L767.6,284.1M760.3,295.6L756.5,305M768.8,300.7L779.2,298.7M772.5,309.7L767.6,320.1M780.8,315L790.4,313.7M784.4,324.2L781.4,333M792.4,329.7L801.9,328.5" fill="none" stroke="#e2b566" stroke-width="0.7" stroke-opacity="0.5"/>
<path d="M761.4,254.8C765.8,255.2 770.6,263.5 775.3,267.7C780.1,271.9 784.4,275.1 790,280C795.6,284.9 803.1,290.9 808.9,297C814.6,303.2 820.8,312 824.5,316.8C828.2,321.5 828.8,321.9 831,325.3C833.1,328.8 836,334 837.3,337.6C838.6,341.2 838.8,344.2 838.9,346.8C839,349.3 838.5,351.2 837.9,352.9C837.2,354.6 836.2,356 835,357C833.8,358 832.3,358.6 830.6,358.9C829,359.1 827.2,359 825,358.2C822.8,357.5 820.1,356.4 817.3,354.1C814.4,351.8 810.5,347.5 807.8,344.4C805.2,341.4 805,340.6 801.4,335.8C797.7,331.1 790.7,322.9 785.7,316.1C780.8,309.3 776,301.1 771.9,295C767.7,288.9 764.9,284.4 761,279.5C757.1,274.5 748.6,269.4 748.6,265.2C748.7,261.1 756.9,254.3 761.4,254.8Z" fill="url(#g17)" stroke="#bd7a42" stroke-width="1.7" stroke-opacity="0.85"/><path d="M827.2,334.6L835.2,348.2M806.9,317.5L816.9,330.6" fill="none" stroke="#f8efe0" stroke-width="1.1" stroke-linecap="round" stroke-opacity="0.3"/><path d="M760.9,268.2L757.7,277.3M770.2,273.5L781.2,270.9M774.7,282.9L772.3,291.3M783.8,288.5L793.8,286.7M788.1,298L783.5,308.3M796.9,303.8L807.2,301.8M801,313.5L797.9,322.4M809.5,319.4L818,318.9" fill="none" stroke="#e2b566" stroke-width="0.7" stroke-opacity="0.5"/>
<path d="M772.2,238.5C776.7,238.8 781.8,247.1 786.8,251.2C791.8,255.4 796.3,258.5 802.2,263.3C808,268.1 815.9,274 822,280.1C828,286.1 834.6,294.8 838.6,299.6C842.6,304.3 843.5,305 845.8,308.5C848.2,312 851.2,317 852.6,320.5C854.1,324.1 854.3,327.1 854.5,329.7C854.7,332.2 854.3,334.1 853.7,335.8C853.1,337.5 852.2,339 851,340C849.8,341 848.4,341.7 846.7,342C845,342.3 843.3,342.3 841,341.6C838.8,340.9 836.1,340 833.2,337.8C830.2,335.6 826.2,331.5 823.4,328.4C820.5,325.4 820.1,324.2 816.2,319.5C812.2,314.7 804.8,306.7 799.5,300C794.3,293.2 789,285 784.6,278.9C780.2,272.8 777.1,268.4 773,263.5C768.8,258.6 760,253.6 759.8,249.5C759.7,245.3 767.7,238.2 772.2,238.5Z" fill="url(#g18)" stroke="#bd7a42" stroke-width="1.7" stroke-opacity="0.85"/><path d="M834.3,315.6L842.8,326.9M842.3,323.4L851.3,336.3" fill="none" stroke="#f8efe0" stroke-width="1.1" stroke-linecap="round" stroke-opacity="0.3"/><path d="M772.3,252.1L769.9,260.9M781.2,256.6L790.6,254.9M785.4,265.1L782.9,274M794.1,269.7L804.8,266.9M798.2,278.4L796.2,286.8M806.7,283.2L815.5,282.1M810.5,292L808.2,300.8M818.8,297L827.6,296M822.5,306L818.7,316.1" fill="none" stroke="#e2b566" stroke-width="0.7" stroke-opacity="0.5"/>
<path d="M782,220.3C786.5,220.5 792.2,228.7 797.4,232.8C802.7,236.8 807.4,239.9 813.6,244.7C819.7,249.4 828,255.1 834.5,261C841,267 848,275.6 852.4,280.4C856.7,285.2 858,286.3 860.6,289.8C863.2,293.3 866.3,298 867.8,301.5C869.4,305 869.8,308 870.1,310.5C870.4,313.1 870.1,315 869.5,316.7C869,318.4 868.1,319.9 867,321C865.9,322.1 864.4,322.8 862.8,323.2C861.1,323.5 859.4,323.6 857.1,323C854.8,322.4 852.1,321.6 849.1,319.5C846,317.4 842,313.6 838.9,310.5C835.8,307.5 835,305.9 830.7,301.1C826.3,296.3 818.5,288.5 812.8,281.8C807.2,275.1 801.5,266.9 796.7,260.9C791.9,254.8 788.5,250.5 784.1,245.6C779.6,240.7 770.4,235.9 770,231.7C769.7,227.5 777.4,220.1 782,220.3Z" fill="url(#g19)" stroke="#bd7a42" stroke-width="1.7" stroke-opacity="0.85"/><path d="M857.7,309.7L865.3,319M843.3,290.5L853.1,302.2" fill="none" stroke="#f8efe0" stroke-width="1.1" stroke-linecap="round" stroke-opacity="0.3"/><path d="M782.8,234L780.6,243.1M792.1,238.4L802.8,235.1M796.9,247L795.2,255.6M806,251.5L814.7,250.1M810.6,260.3L808.7,269.1M819.5,265L828.9,262.9M824,273.9L820.2,284.5M832.7,278.8L842.6,276.2M837,287.9L833.5,298.2" fill="none" stroke="#e2b566" stroke-width="0.7" stroke-opacity="0.5"/>
<path d="M789.8,202.1C794.4,202.2 800.4,210.4 805.8,214.4C811.3,218.4 816.1,221.5 822.5,226.1C828.9,230.7 837.4,236.3 844.2,242.2C850.9,248.1 858.2,256.6 862.8,261.3C867.4,266.1 869,267.4 871.7,271C874.5,274.5 877.6,279.1 879.3,282.5C881,285.9 881.5,289 881.8,291.5C882.2,294 881.9,295.9 881.4,297.6C880.9,299.4 880.1,300.9 879,302C877.9,303.1 876.5,303.9 874.8,304.3C873.2,304.7 871.5,304.8 869.2,304.3C866.9,303.7 864.1,303 861,301C857.9,299 853.8,295.3 850.6,292.3C847.4,289.2 846.3,287.5 841.7,282.7C837.1,277.9 829,270.2 823.1,263.5C817.1,256.9 811.1,248.7 806.1,242.7C801,236.7 797.5,232.4 792.8,227.6C788.2,222.8 778.7,218.1 778.2,213.9C777.7,209.6 785.2,202 789.8,202.1Z" fill="url(#g20)" stroke="#bd7a42" stroke-width="1.7" stroke-opacity="0.85"/><path d="M845.4,266.9L856.8,278.5M866.5,277.9L875,289.4" fill="none" stroke="#f8efe0" stroke-width="1.1" stroke-linecap="round" stroke-opacity="0.3"/><path d="M791.2,216L788.9,225.4M800.7,220.2L811.7,216.2M805.9,228.8L804.2,237.6M815.2,233.3L823.9,231.6M820.3,242.1L818.2,251.2M829.4,246.7L839.4,243.7M834.3,255.7L831.5,265.6M843.3,260.5L852.8,257.9M847.9,269.6L844.1,280.6" fill="none" stroke="#e2b566" stroke-width="0.7" stroke-opacity="0.5"/>
<path d="M793.6,183.9C798.2,183.9 804.5,191.9 810.1,195.7C815.8,199.5 820.7,202.4 827.3,206.9C833.9,211.3 842.7,216.6 849.7,222.2C856.7,227.9 864.3,236.1 869.2,240.8C874,245.5 875.7,246.8 878.6,250.3C881.5,253.7 884.8,258.2 886.6,261.5C888.4,264.9 889,267.9 889.4,270.4C889.9,272.9 889.7,274.8 889.3,276.6C888.9,278.3 888.1,279.9 887,281C885.9,282.1 884.5,283 882.9,283.4C881.3,283.9 879.6,284.1 877.2,283.6C874.9,283.2 872.2,282.5 869,280.6C865.8,278.8 861.6,275.3 858.3,272.4C854.9,269.4 853.7,267.6 848.9,262.9C844,258.2 835.6,250.8 829.4,244.3C823.2,237.9 816.8,229.9 811.5,224C806.2,218.2 802.5,214 797.6,209.3C792.8,204.7 783.1,200.3 782.4,196.1C781.7,191.8 789,184 793.6,183.9Z" fill="url(#g21)" stroke="#bd7a42" stroke-width="1.7" stroke-opacity="0.85"/><path d="M877.7,268.8L886,278.1M861.9,249.3L872.4,261" fill="none" stroke="#f8efe0" stroke-width="1.1" stroke-linecap="round" stroke-opacity="0.3"/><path d="M795.5,197.7L792.6,208.2M805.2,201.7L814.8,198.7M810.8,210.2L809.8,218.6M820.4,214.3L831,210.2M825.8,223L822.5,233.9M835.2,227.3L844.8,224.2M840.4,236.2L837.8,246.4M849.6,240.7L860.3,236.5M854.7,249.7L852,260.1" fill="none" stroke="#e2b566" stroke-width="0.7" stroke-opacity="0.5"/>
<path d="M795.5,163.8C800.2,163.7 806.9,171.9 812.7,175.7C818.6,179.6 823.7,182.5 830.6,187C837.4,191.5 846.6,196.8 853.9,202.5C861.2,208.2 869.2,216.5 874.4,221.3C879.6,226.1 881.8,227.9 885,231.5C888.1,235 891.3,239.2 893.2,242.5C895.1,245.8 895.7,248.8 896.2,251.3C896.7,253.8 896.5,255.7 896.2,257.5C895.8,259.3 895,260.8 894,262C893,263.2 891.6,264.1 890,264.5C888.3,265 886.6,265.2 884.3,264.8C882,264.4 879.2,263.8 876,262C872.8,260.2 868.7,257 865.1,253.9C861.5,250.9 859.7,248.6 854.5,243.7C849.4,238.9 840.6,231.5 834,225C827.5,218.4 820.8,210.3 815.2,204.4C809.6,198.5 805.6,194.3 800.5,189.6C795.4,184.9 785.4,180.5 784.5,176.2C783.7,171.9 790.8,163.9 795.5,163.8Z" fill="url(#g22)" stroke="#bd7a42" stroke-width="1.7" stroke-opacity="0.85"/><path d="M884.1,243.7L892.5,254M870,226.9L877.5,236.3" fill="none" stroke="#f8efe0" stroke-width="1.1" stroke-linecap="round" stroke-opacity="0.3"/><path d="M797.9,177.8L795.8,187.7M807.2,181.2L816.2,178.7M812.5,189.3L811.8,197.6M821.7,192.8L831.4,189.4M826.9,201L824.1,211.7M835.9,204.7L846.3,200.6M840.9,213.1L839.1,222.8M849.9,217L859.8,213.3M854.7,225.5L852.3,235.7M863.5,229.5L873.3,226" fill="none" stroke="#e2b566" stroke-width="0.7" stroke-opacity="0.5"/>
<path d="M804.8,152.4C809.3,152.3 816,159.6 821.7,163.1C827.4,166.6 832.4,169.3 839,173.4C845.6,177.5 854.4,182.4 861.4,187.7C868.4,193.1 875.9,200.7 881,205.4C886.1,210.1 888.9,212.6 891.9,216.1C895,219.6 897.6,223.2 899.3,226.2C901,229.2 901.5,232 902,234.3C902.4,236.5 902.3,238.3 901.9,239.9C901.6,241.5 900.9,242.9 900,244C899.1,245.1 897.9,245.9 896.4,246.3C895,246.7 893.5,246.9 891.4,246.5C889.3,246.1 886.9,245.6 884,243.9C881.2,242.3 877.8,239.6 874.3,236.6C870.9,233.6 868.5,230.6 863.4,225.9C858.3,221.2 850.1,214.3 843.8,208.2C837.5,202.1 830.9,194.6 825.4,189.1C819.9,183.7 816,179.9 810.9,175.6C805.9,171.4 796.2,167.5 795.2,163.6C794.1,159.8 800.4,152.5 804.8,152.4Z" fill="url(#g23)" stroke="#bd7a42" stroke-width="1.7" stroke-opacity="0.85"/><path d="M884,225.3L892,233.9M879.9,215.1L893.9,230.8" fill="none" stroke="#f8efe0" stroke-width="1.1" stroke-linecap="round" stroke-opacity="0.3"/><path d="M807.9,165L806.9,173.8M817.6,168.6L827.3,165.1M823.7,176.5L821.5,186.6M833.2,180.3L841.6,178.3M839.1,188.4L837.3,198.1M848.3,192.6L856.5,190.7M854,200.9L852.3,210.5M863,205.3L871.4,203.2M868.4,214L866.3,224.1" fill="none" stroke="#e2b566" stroke-width="0.7" stroke-opacity="0.5"/>
<path d="M810.4,146C815.1,145.7 823.4,152.8 830,156.2C836.5,159.5 842.1,162.1 849.7,166.1C857.3,170.1 867.3,174.8 875.5,180.1C883.6,185.4 892.1,192.9 898.4,197.9C904.7,203 909.3,206.8 913.1,210.5C916.8,214.2 919.2,217.2 921,220.1C922.9,223.1 923.7,225.8 924.3,228.1C924.9,230.3 924.8,232.1 924.6,233.8C924.4,235.4 923.8,236.9 923,238C922.2,239.1 921,240 919.6,240.5C918.2,241.1 916.7,241.4 914.7,241.1C912.6,240.9 910.1,240.5 907.2,239C904.3,237.5 901.2,235.5 897.1,232.2C892.9,229 888.7,224.8 882.4,219.7C876.1,214.6 867,208 859.5,201.8C852,195.7 844,188.1 837.5,182.7C830.9,177.3 826.2,173.6 820.2,169.5C814.2,165.4 803.2,161.9 801.6,158C800,154.1 805.7,146.3 810.4,146Z" fill="url(#g24)" stroke="#bd7a42" stroke-width="1.7" stroke-opacity="0.85"/><path d="M914.3,226.6L922,234.5M890.2,210.3L904,221.8" fill="none" stroke="#f8efe0" stroke-width="1.1" stroke-linecap="round" stroke-opacity="0.3"/><path d="M815.4,158.8L814.7,168.2M824.9,161.2L833.2,158.3M831.1,168.1L830.5,177.4M840.4,170.8L848.8,167.8M846.4,177.9L846.4,186.4M855.5,180.8L864.1,177.6M861.4,188.2L860.5,197.8M870.3,191.4L878.1,189.2M875.9,199L875.2,208.5M884.7,202.4L894.1,198M890.1,210.3L888.9,220.5" fill="none" stroke="#e2b566" stroke-width="0.7" stroke-opacity="0.5"/>
<path d="M816.1,141.5C821.6,141.1 832.7,148.5 841,152C849.2,155.6 856.2,158.3 865.8,162.6C875.3,166.9 887.9,171.9 898.2,177.8C908.5,183.6 919,191.5 927.6,197.7C936.3,203.9 944.8,210.3 950,214.8C955.2,219.3 956.7,221.5 958.8,224.5C960.9,227.4 961.9,230.2 962.6,232.6C963.4,234.9 963.5,236.7 963.4,238.5C963.3,240.2 962.8,241.8 962,243C961.2,244.2 960.1,245.2 958.7,245.9C957.3,246.5 955.8,246.9 953.7,246.7C951.5,246.6 949,246.3 945.9,244.9C942.8,243.6 940.6,242.4 935,238.5C929.5,234.5 921.3,227.5 912.7,221.4C904,215.2 893,208.2 883.3,201.4C873.6,194.6 863.1,186.3 854.5,180.4C845.9,174.6 839.6,170.8 831.9,166.4C824.1,162.1 810.5,158.7 807.9,154.5C805.3,150.3 810.6,141.9 816.1,141.5Z" fill="url(#g25)" stroke="#bd7a42" stroke-width="1.7" stroke-opacity="0.85"/><path d="M945.6,222.4L958.8,234.7M949,230.2L958.9,238.9M931.5,210.6L947.9,224.9" fill="none" stroke="#f8efe0" stroke-width="1.1" stroke-linecap="round" stroke-opacity="0.3"/><path d="M824.4,155L824.1,164.8M834.1,156.6L842.6,152.6M840.8,163L840.9,172.1M850.4,164.7L859.6,159.6M856.9,171.4L857.5,179.9M866.4,173.4L874.6,169.8M872.8,180.3L872.6,189.9M882.1,182.6L890.3,178.8M888.3,189.7L889,197.9M897.4,192.2L906.2,187.7M903.5,199.6L902.7,210.2M912.5,202.3L920.4,199.2M918.4,210L918.5,219.2M927.2,213L935.6,209" fill="none" stroke="#e2b566" stroke-width="0.7" stroke-opacity="0.5"/>
<path d="M821.5,136.1C827.6,135.5 841.5,142.6 851.4,145.9C861.4,149.2 869.8,151.8 881.3,155.9C892.8,160 907.8,164.8 920.4,170.6C933,176.3 945.5,183.7 956.9,190.3C968.2,196.9 981.6,205.3 988.4,210.1C995.3,214.8 995.7,216.1 998.1,218.9C1000.5,221.6 1001.7,224.3 1002.7,226.6C1003.6,228.8 1003.9,230.6 1003.9,232.4C1004,234.1 1003.7,235.7 1003,237C1002.3,238.3 1001.3,239.4 1000,240.2C998.7,240.9 997.2,241.5 995,241.5C992.9,241.6 990.3,241.6 987.1,240.5C983.9,239.4 982.9,239.2 975.7,235C968.6,230.8 955.5,221.9 944.2,215.3C932.9,208.6 919.9,201.9 907.9,195.2C895.8,188.4 882.5,180.2 871.8,174.5C861.1,168.8 853.3,165.1 843.8,161C834.2,156.9 818.2,154 814.5,149.9C810.8,145.7 815.3,136.8 821.5,136.1Z" fill="url(#g26)" stroke="#bd7a42" stroke-width="1.7" stroke-opacity="0.85"/><path d="M980.5,222.9L991.7,230.2M968,210.1L977.4,216.7M960.3,203.3L975.2,213.7" fill="none" stroke="#f8efe0" stroke-width="1.1" stroke-linecap="round" stroke-opacity="0.3"/><path d="M833.2,149.7L834.6,158M843.5,150.4L852.4,143.9M851.2,156.3L852.4,164.9M861.3,157.3L869.8,151.5M868.8,163.4L869.3,173.6M878.9,164.7L886.7,160.2M886.3,171L887,180.6M896.2,172.5L904,168.1M903.5,179.1L903.5,190M913.2,180.8L921.3,176.1M920.4,187.7L921.8,196.1M930.1,189.6L938,185M937.1,196.7L937.4,207.3M946.7,198.9L954.3,194.8M953.6,206.2L953.6,217.3M963,208.7L971.4,203.2" fill="none" stroke="#e2b566" stroke-width="0.7" stroke-opacity="0.5"/>
<path d="M829.2,130.4C835.9,129.5 851.4,136.7 862.5,139.9C873.6,143 882.9,145.5 895.7,149.3C908.6,153.2 925.3,157.6 939.6,163C953.8,168.4 968.1,175.5 981.2,181.8C994.3,188.1 1010.2,196.3 1018.2,200.9C1026.3,205.5 1026.6,206.6 1029.3,209.3C1032.1,212 1033.6,214.7 1034.8,217C1036.1,219.3 1036.5,221.2 1036.7,223C1036.9,224.8 1036.6,226.6 1036,228C1035.4,229.4 1034.4,230.7 1033,231.6C1031.6,232.5 1030.1,233.3 1027.7,233.6C1025.4,233.8 1022.6,234 1019.1,233.2C1015.5,232.3 1014.7,232.4 1006.4,228.5C998.1,224.5 982.5,215.8 969.4,209.4C956.3,203 941.7,196.7 928,190.1C914.2,183.5 899,175.4 886.9,169.8C874.8,164.3 866,160.6 855.3,156.6C844.6,152.5 827.1,149.9 822.8,145.6C818.4,141.2 822.6,131.4 829.2,130.4Z" fill="url(#g27)" stroke="#bd7a42" stroke-width="1.7" stroke-opacity="0.85"/><path d="M995.7,198.2L1005,204.5M984.7,199.6L1000.3,207.8M987.3,197.7L998.3,204.1" fill="none" stroke="#f8efe0" stroke-width="1.1" stroke-linecap="round" stroke-opacity="0.3"/><path d="M843,144.7L845,152.8M853,144.7L860.8,139.4M860.6,150.4L862.4,159M870.6,150.6L879.3,142.9M878.1,156.4L878.7,167.7M888,156.8L895.5,152M895.5,162.8L897.3,171.1M905.3,163.3L912.9,158.2M912.7,169.4L914.5,178M922.4,170.2L930.2,164.6M929.7,176.5L930.7,186.8M939.4,177.4L947.2,171.8M946.6,183.8L947.1,195.5M956.2,184.9L963.6,180.5M963.4,191.5L963.9,203.1M972.9,192.8L980.9,186.8M980,199.6L981.8,208.2M989.5,201L997.7,194.4" fill="none" stroke="#e2b566" stroke-width="0.7" stroke-opacity="0.5"/>
<path d="M837.7,123.6C844.6,122.1 861.6,128.7 873.6,131.1C885.6,133.6 895.6,135.4 909.5,138.4C923.5,141.3 941.6,144.5 957.2,148.8C972.8,153.2 988.7,159.2 1003.2,164.5C1017.7,169.8 1035.4,176.6 1044.3,180.5C1053.3,184.4 1053.8,185.6 1057,188.1C1060.2,190.6 1062.1,193.3 1063.7,195.6C1065.2,197.8 1065.8,199.8 1066.2,201.7C1066.6,203.6 1066.5,205.4 1066,207C1065.5,208.6 1064.5,210 1063.1,211.2C1061.8,212.3 1060.2,213.3 1057.7,213.8C1055.3,214.4 1052.3,214.9 1048.4,214.5C1044.6,214 1043.6,214.2 1034.4,210.9C1025.3,207.7 1007.8,200.3 993.3,194.9C978.8,189.6 962.7,184.4 947.5,178.7C932.3,173.1 915.5,165.9 902.2,161C888.9,156.2 879.3,153 867.6,149.6C856,146.1 837.3,144.7 832.3,140.4C827.3,136 830.8,125.2 837.7,123.6Z" fill="url(#g28)" stroke="#bd7a42" stroke-width="1.7" stroke-opacity="0.85"/><path d="M1042.2,192.7L1060.9,201.4M1025.2,190.6L1037,195.2M1014.4,182L1030.7,189.2" fill="none" stroke="#f8efe0" stroke-width="1.1" stroke-linecap="round" stroke-opacity="0.3"/><path d="M853.5,137.8L855.2,148.9M863.3,136.9L870.7,130.3M871.1,142.1L873,152.4M880.9,141.3L888.7,133.3M888.6,146.6L890.1,158.4M898.3,146L905.8,139.3M906,151.4L908.4,160.4M915.7,150.9L922.8,145.1M923.4,156.5L925.1,167.4M933,156L940.6,148.9M940.6,161.7L942.6,171.8M950.2,161.4L957.9,154M957.8,167.3L959.9,177M967.4,167.1L975.3,159M974.9,173.1L977,182.7M984.4,173L992.4,164.6M991.9,179.1L993.4,190.9M1001.4,179.2L1008.5,173.5M1008.9,185.4L1010.1,197.6" fill="none" stroke="#e2b566" stroke-width="0.7" stroke-opacity="0.5"/>
<path d="M846.8,118.5C853,116.8 869.4,121.6 880.7,123.1C892,124.6 901.5,125.6 914.6,127.4C927.8,129.2 944.9,130.9 959.8,133.8C974.7,136.7 989.6,140.9 1003.9,144.7C1018.1,148.5 1036.3,153.7 1045.1,156.7C1053.9,159.6 1053.8,160.4 1056.8,162.3C1059.8,164.2 1061.6,166.4 1063.1,168.2C1064.6,170.1 1065.3,171.7 1065.8,173.3C1066.3,175 1066.3,176.6 1066,178C1065.7,179.4 1064.9,180.8 1063.8,181.9C1062.7,183 1061.4,183.9 1059.3,184.6C1057.2,185.3 1054.6,186 1051.2,185.9C1047.8,185.8 1047.7,186.3 1038.7,183.9C1029.8,181.6 1011.7,175.9 997.5,171.9C983.3,168 968.1,164.5 953.5,160.4C938.9,156.4 922.7,151.1 909.9,147.6C897.1,144.1 887.9,141.9 876.8,139.6C865.7,137.2 848.2,137 843.2,133.5C838.2,130 840.5,120.2 846.8,118.5Z" fill="url(#g29)" stroke="#bd7a42" stroke-width="1.7" stroke-opacity="0.85"/><path d="M1013.8,159.8L1030.7,165.1M1034.9,163.2L1055.6,170.6M1037.9,163.8L1057.4,171" fill="none" stroke="#f8efe0" stroke-width="1.1" stroke-linecap="round" stroke-opacity="0.3"/><path d="M862.7,130.1L866.1,137.5M872.2,128.8L879.4,120.2M880.5,133L883.9,140.5M890,131.9L896.6,125.6M898.3,136.2L901.3,145.3M907.7,135.2L914.8,127.2M915.9,139.7L918.9,148.9M925.4,138.8L931.9,132.9M933.6,143.4L936.9,150.9M943,142.6L949.5,136.6M951.1,147.3L954.5,155M960.6,146.6L966.9,141.5M968.7,151.5L971.4,161.7M978,150.9L984.8,144.2M986.1,155.9L989.1,165.3M995.5,155.5L1002.2,148.5M1003.5,160.5L1006.8,168.3M1012.8,160.2L1019.7,152.9" fill="none" stroke="#e2b566" stroke-width="0.7" stroke-opacity="0.5"/>
<path d="M855.7,114.6C860.6,112.9 874.4,115.4 883.7,115.8C893,116.1 900.8,116.3 911.6,116.9C922.5,117.4 936.5,117.7 948.8,118.9C961.2,120.2 973.3,122.2 985.6,124.3C997.9,126.3 1015.1,129.6 1022.7,131.3C1030.3,133 1029.1,133.3 1031.3,134.5C1033.6,135.6 1035.1,137.1 1036.3,138.3C1037.5,139.5 1038.1,140.6 1038.5,141.7C1039,142.8 1039.1,144 1039,145C1038.9,146 1038.4,147 1037.7,147.9C1037,148.8 1036.1,149.5 1034.7,150.2C1033.2,150.8 1031.5,151.5 1029,151.6C1026.6,151.8 1027.7,152.4 1020,151.1C1012.3,149.8 995.2,146.2 982.9,144.1C970.6,141.9 958.4,140.2 946.2,138.1C934,136 920.4,133.2 909.7,131.5C899,129.7 891.3,128.7 882.1,127.7C872.8,126.7 858.6,127.6 854.3,125.4C849.9,123.3 850.8,116.2 855.7,114.6Z" fill="url(#g30)" stroke="#bd7a42" stroke-width="1.7" stroke-opacity="0.85"/><path d="M1010,137.3L1022.5,140.2M1014,133.7L1028.4,137.9M1028.1,141.8L1035.5,143.5" fill="none" stroke="#f8efe0" stroke-width="1.1" stroke-linecap="round" stroke-opacity="0.3"/><path d="M869.7,121.8L873.8,128.9M879.5,120.5L885.2,115.4M888.7,123.2L893,128.4M898.4,122L904.1,117.5M907.6,124.9L911.9,130.6M917.3,123.9L923.2,117.6M926.5,126.9L930.6,133.9M936.2,126L941.8,122M945.3,129.2L949.6,134.6M955,128.6L960.7,123.1M964.1,131.9L968.4,137.5M973.7,131.4L979.6,125.3M982.8,134.9L986.8,142.4M992.4,134.6L998.3,128.8M1001.5,138.3L1005.5,146.1" fill="none" stroke="#e2b566" stroke-width="0.7" stroke-opacity="0.5"/>
<path d="M870.1,114.5C873.3,113.6 882.7,114.3 888.9,114.2C895.2,114.1 900.4,113.9 907.7,113.9C915,113.8 924.5,113.6 932.8,113.7C941.1,113.9 948.7,114.4 957.8,115C966.9,115.7 981.6,117 987.1,117.6C992.7,118.2 990.1,118.2 991.2,118.7C992.2,119.1 992.9,119.6 993.5,120.1C994.1,120.6 994.4,121.1 994.7,121.6C994.9,122 995,122.5 995,123C995,123.5 994.8,123.9 994.5,124.4C994.2,124.8 993.9,125.2 993.3,125.5C992.6,125.9 991.9,126.3 990.8,126.4C989.7,126.6 992.3,127 986.7,126.6C981.1,126.2 966.4,124.7 957.4,124C948.3,123.3 940.7,122.9 932.4,122.3C924.1,121.7 914.7,120.8 907.4,120.4C900.1,119.9 894.9,119.7 888.7,119.6C882.4,119.4 873,120.3 869.9,119.5C866.8,118.6 866.9,115.4 870.1,114.5Z" fill="url(#g31)" stroke="#bd7a42" stroke-width="1.7" stroke-opacity="0.85"/><path d="M975.2,119.4L992.6,121.5M985.6,120.7L992.6,121.7" fill="none" stroke="#f8efe0" stroke-width="1.1" stroke-linecap="round" stroke-opacity="0.3"/><path d="M880,117.3L884.9,119.6M889.1,116.4L894.3,113.6M898.1,117.4L903,119.9M907.2,116.7L912.4,113.9M916.2,117.8L921.1,120.4M925.3,117.2L930.4,115.1M934.3,118.5L939.2,121M943.4,118.1L948.5,115.5M952.4,119.6L957.2,122.5M961.4,119.4L966.6,117M970.4,121L975.3,124.2" fill="none" stroke="#e2b566" stroke-width="0.7" stroke-opacity="0.5"/>
<path d="M694.1,325.6C697.3,325.6 701.1,331.7 704.7,334.5C708.4,337.3 711.6,339.4 716,342.6C720.4,345.8 726.3,349.6 731,353.5C735.8,357.4 741.3,363.1 744.4,366.1C747.6,369.1 748.1,369.2 750.1,371.4C752.1,373.6 754.9,376.9 756.3,379.3C757.7,381.6 758.2,383.7 758.6,385.5C759,387.2 758.9,388.6 758.6,389.8C758.4,391.1 757.8,392.2 757,393C756.2,393.8 755.2,394.5 753.9,394.8C752.7,395.2 751.4,395.4 749.6,395.1C747.8,394.8 745.7,394.4 743.3,393.2C740.8,391.9 737.4,389.3 735,387.5C732.7,385.6 732.5,385.1 729.4,382.1C726.2,379.1 720.2,374 716,369.5C711.8,365 707.6,359.4 704.2,355.2C700.8,351 698.4,347.9 695.4,344.4C692.3,340.9 686.1,337.5 685.9,334.4C685.6,331.3 691,325.6 694.1,325.6Z" fill="#b46f4c" stroke="#8d4f30" stroke-width="1" />
<path d="M688.6,330.1C691.7,330.4 694.7,336.7 697.9,339.8C701.1,342.9 704.1,345.3 708,348.8C711.9,352.3 717.2,356.6 721.4,360.9C725.5,365.1 730.3,371.3 733,374.5C735.7,377.6 735.9,377.5 737.5,379.8C739.2,382.1 741.7,385.8 742.8,388.3C744,390.8 744.3,392.9 744.5,394.7C744.6,396.5 744.4,397.8 744,399C743.6,400.2 742.9,401.3 742,402C741.1,402.7 740,403.3 738.7,403.5C737.5,403.7 736.1,403.7 734.4,403.3C732.7,402.8 730.6,402.2 728.3,400.6C726.1,399.1 722.8,396.1 720.8,394.1C718.8,392.1 718.9,391.9 716.2,388.7C713.5,385.6 708.2,379.9 704.6,375.1C701.1,370.4 697.7,364.4 694.8,360C691.9,355.6 690.1,352.3 687.5,348.6C684.9,344.9 679.2,341 679.4,337.9C679.6,334.8 685.5,329.8 688.6,330.1Z" fill="#b46f4c" stroke="#8d4f30" stroke-width="1" />
<path d="M682.8,334.3C685.7,334.5 687.7,340.1 690.4,342.8C693.1,345.5 695.6,347.5 698.9,350.6C702.1,353.7 706.4,357.5 709.7,361.3C713.1,365.1 717.1,370.9 718.9,373.3C720.8,375.7 719.6,373.8 720.7,375.6C721.8,377.4 724.5,381.8 725.5,384.3C726.6,386.9 726.7,389 726.8,390.8C726.9,392.6 726.6,393.9 726.1,395.1C725.7,396.3 724.9,397.3 724,398C723.1,398.7 721.9,399.2 720.7,399.3C719.4,399.4 718.1,399.4 716.4,398.9C714.6,398.3 712.6,397.6 710.4,395.9C708.2,394.3 704.7,390.5 703.2,389C701.7,387.4 703.3,389.1 701.5,386.7C699.6,384.3 695.1,378.9 692.3,374.7C689.5,370.5 686.9,365.3 684.7,361.4C682.6,357.5 681.3,354.5 679.4,351.2C677.5,347.9 672.6,344.5 673.2,341.7C673.8,338.9 679.9,334.1 682.8,334.3Z" fill="#b46f4c" stroke="#8d4f30" stroke-width="1" />
<path d="M753.9,122.4C756.2,121.6 760.2,124.2 763.3,125.1C766.4,125.9 769.2,126.5 772.8,127.6C776.4,128.7 781.1,130 785,131.7C788.8,133.5 793.3,136.6 795.9,138.2C798.5,139.8 799,139.9 800.6,141.2C802.2,142.6 804.4,144.6 805.7,146.1C806.9,147.6 807.5,149.1 808,150.3C808.5,151.6 808.6,152.6 808.6,153.5C808.6,154.5 808.4,155.3 808,156C807.6,156.7 807.1,157.3 806.4,157.6C805.6,158 804.9,158.3 803.7,158.3C802.6,158.2 801.2,158.2 799.5,157.5C797.8,156.9 795.3,155.5 793.5,154.5C791.7,153.4 791.5,153 788.8,151.4C786.2,149.8 781.5,147.2 777.9,145C774.3,142.7 770.4,139.9 767.2,138C764.1,136 761.8,134.6 758.9,133.2C756.1,131.9 750.9,131.4 750.1,129.6C749.2,127.8 751.7,123.1 753.9,122.4Z" fill="#b46f4c" stroke="#8d4f30" stroke-width="1" />
<path d="M749.7,116C752.4,115.1 758.2,118.1 762.5,119.2C766.8,120.2 770.4,121 775.4,122.3C780.3,123.5 786.8,124.9 792.3,126.9C797.8,128.9 803.7,132 808.1,134.1C812.5,136.2 815.8,137.8 818.5,139.5C821.2,141.1 823,142.5 824.4,144C825.9,145.4 826.7,146.9 827.4,148.1C828,149.3 828.2,150.3 828.4,151.3C828.5,152.3 828.3,153.2 828,154C827.7,154.8 827.1,155.4 826.4,155.9C825.7,156.4 824.9,156.8 823.6,156.9C822.4,157.1 820.9,157.2 819,156.7C817.1,156.3 815.1,155.5 812.3,154.2C809.4,152.9 806.2,150.9 801.9,148.8C797.5,146.7 791.3,144.2 786,141.6C780.8,139 775.2,135.7 770.6,133.5C766,131.3 762.7,129.8 758.7,128.2C754.6,126.6 747.8,126.1 746.3,124C744.8,122 747,116.8 749.7,116Z" fill="#b46f4c" stroke="#8d4f30" stroke-width="1" />
<path d="M746.2,111.8C749.3,110.8 756.9,113.5 762.2,114.4C767.6,115.2 772.1,115.8 778.3,116.8C784.5,117.8 792.6,118.8 799.6,120.5C806.5,122.2 813.8,124.8 820,126.9C826.2,129 832.9,131.3 836.8,133C840.7,134.6 841.6,135.4 843.2,136.6C844.9,137.8 845.9,139.2 846.7,140.3C847.5,141.4 847.8,142.4 848,143.3C848.3,144.3 848.2,145.2 848,146C847.8,146.8 847.3,147.5 846.6,148.1C846,148.7 845.2,149.2 844,149.5C842.8,149.8 841.3,150.1 839.4,149.9C837.4,149.7 836.3,149.6 832.3,148.3C828.4,147 821.8,144.4 815.6,142.3C809.4,140.2 801.9,138.1 795.1,135.7C788.3,133.4 780.9,130.3 774.9,128.3C769,126.3 764.7,125 759.5,123.7C754.3,122.3 746,122.2 743.8,120.2C741.6,118.2 743.2,112.8 746.2,111.8Z" fill="#b46f4c" stroke="#8d4f30" stroke-width="1" />
<path d="M745.6,107.6C749.1,106.3 758.6,108.3 765.1,108.6C771.6,108.8 777.1,109 784.6,109.3C792.2,109.7 802,109.9 810.6,110.8C819.2,111.7 827.9,113.4 836.1,114.9C844.4,116.4 855,118.5 860.1,119.8C865.2,121.1 865.2,121.5 867,122.5C868.8,123.4 869.9,124.6 870.9,125.6C871.8,126.6 872.3,127.5 872.7,128.4C873,129.3 873.1,130.2 873,131C872.9,131.8 872.5,132.6 871.9,133.3C871.3,134 870.6,134.6 869.5,135.1C868.3,135.5 866.9,136.1 865,136.2C863,136.3 862.9,136.5 857.8,135.6C852.6,134.7 842,132.3 833.8,130.7C825.6,129.2 816.8,127.9 808.3,126.3C799.8,124.7 790.3,122.4 782.9,121.1C775.5,119.7 770.1,118.9 763.7,118.1C757.3,117.3 747.4,118.1 744.4,116.4C741.3,114.6 742.2,108.9 745.6,107.6Z" fill="#b46f4c" stroke="#8d4f30" stroke-width="1" />
<path d="M745.4,103.6C748.9,102.2 758.9,103.6 765.6,103.6C772.3,103.6 777.9,103.5 785.7,103.5C793.6,103.5 803.7,103.2 812.6,103.8C821.5,104.3 830.5,105.5 839.1,106.6C847.8,107.8 859.2,109.5 864.6,110.5C870,111.5 869.7,111.9 871.6,112.8C873.4,113.7 874.6,114.8 875.6,115.7C876.6,116.6 877.1,117.5 877.5,118.4C877.9,119.3 878.1,120.2 878,121C877.9,121.8 877.6,122.6 877,123.4C876.5,124.1 875.8,124.7 874.7,125.2C873.6,125.8 872.2,126.4 870.2,126.6C868.3,126.8 868.4,127.1 863,126.4C857.6,125.7 846.2,123.7 837.6,122.6C828.9,121.4 819.9,120.5 811,119.3C802.2,118.1 792.3,116.3 784.6,115.3C776.8,114.3 771.3,113.7 764.6,113.2C758,112.8 747.8,114 744.6,112.4C741.4,110.8 741.9,105.1 745.4,103.6Z" fill="#b46f4c" stroke="#8d4f30" stroke-width="1" />
<path d="M580,262C578.8,254.8 601.8,261.8 613,257C624.2,252.2 638.8,241.7 647,233C655.2,224.3 658.2,214.3 662,205C665.8,195.7 667.5,188.3 670,177C672.5,165.7 674.2,148.2 677,137C679.8,125.8 682,116.2 687,110C692,103.8 698.2,101.2 707,100C715.8,98.8 729.5,98 740,103C750.5,108 760.5,121.7 770,130C779.5,138.3 791.3,143.5 797,153C802.7,162.5 804,174.7 804,187C804,199.3 799.8,213.7 797,227C794.2,240.3 792,254.8 787,267C782,279.2 775.3,289.5 767,300C758.7,310.5 747,322.2 737,330C727,337.8 714.8,343.3 707,347C699.2,350.7 697.8,354.8 690,352C682.2,349.2 671.7,338.7 660,330C648.3,321.3 633.3,311.3 620,300C606.7,288.7 581.2,269.2 580,262Z" fill="#c1b08a" stroke="none" stroke-width="1" />
<g clip-path="url(#crwtan)"><path d="M707.8,259.3L711.9,265.4M702.6,170.7L710,176.2M672.6,305.8L678.1,313M755.5,196.3L764.1,201.3M753.9,312.2L762,319.2M766.2,257.4L772.1,264.6M655,315.4L660,319.8" stroke="#ab976c" stroke-width="1.2" stroke-opacity="0.5" fill="none" stroke-linecap="round"/><path d="M621.8,264.2L623.6,272.6M643.2,269.6L646.4,277M658,318.5L662.8,324.8M719,320.8L723.6,327.2M691.1,167L696.6,171.5M718.1,335.8L724.3,341.8M678.1,223.2L685,227.3M735.6,253.9L740.7,258.1M656.7,258L658.7,268M703.9,152.2L712.1,156M722.8,113.1L731.9,117.4M654.9,226.4L658,235.8M691.6,186.4L697.4,188.8M679.2,295.5L684.7,301M673.1,286.6L678.4,292.8M772.6,201.8L782,206.5M746,139.2L754.3,145.3M632.8,251.9L634.8,259.9" stroke="#ab976c" stroke-width="0.9" stroke-opacity="0.5" fill="none" stroke-linecap="round"/><path d="M744.8,207.4L753.3,213.8M691.7,334.5L698.5,340.9M700.1,235.2L705.1,239M719.6,217.2L728.7,220.8M627.4,291.3L629.1,300.9M769.7,187.1L778.7,191M704.2,152.7L710.9,156.9M725.8,178.1L734.4,184.4M784.7,199.6L791.3,203.1M709.4,189.1L717.9,192.6M679.6,289.2L686.1,295.8M704.7,315.4L710,320.6" stroke="#ab976c" stroke-width="1.1" stroke-opacity="0.5" fill="none" stroke-linecap="round"/><path d="M726.4,293.9L731.3,299.7M772.1,278.5L777.7,284.1M693.5,178.3L700.9,182.8M743.8,177.1L753.9,181M761.4,193.9L768.1,197.2M684.2,295.9L689.6,301.9M659,298L663.3,304.9M732.8,314.6L738,320.1M780.8,263.4L784.6,268.4M732.4,131.5L739.8,137.3M764.6,127.3L770.2,130.3M696.2,127.5L701.6,132M641.1,272.5L643.9,282.1M667.8,270.7L671.5,276.7M726.6,249.3L734.2,255.3M740,152.3L747.5,158.4M686.4,342.1L692.3,350.8M681.6,265.6L685.1,271.2M785.4,252.5L790.7,258.4M651.5,277.8L655.2,286.7M729.2,302L735.2,310M657.5,327.5L663.9,334.8M685.7,227.6L690.4,231.4M682.7,270.3L686.3,276M678.4,234.4L684.8,239.3M726.3,191.8L732.8,195.4" stroke="#d4c8a6" stroke-width="1" stroke-opacity="0.5" fill="none" stroke-linecap="round"/><path d="M747.4,241L753.6,243.7M691.8,178L700.5,181.3M785.3,226.2L791.7,230.9M714.7,223.5L720.3,227.6M647.5,246.9L649.8,256.2M705.2,245L712,247.7M658.8,316.5L664.9,322M676.2,314L683.4,321.3M680.9,140.9L681,151.2M747,201.9L752.3,205.4M686.7,218.1L692,222.6M754.3,160.1L762.5,166.1M763,261.5L768.2,266.8M729.6,281.2L734.7,289.9M744.5,144.2L753.1,149.4M680.8,262.7L686.6,269.7M689.9,180.7L697.4,184.1M736.9,300.4L740.9,306.9" stroke="#a9956b" stroke-width="1.1" stroke-opacity="0.5" fill="none" stroke-linecap="round"/><path d="M660.2,235.8L661.4,243.3M657.1,227.3L659,234.9M747.3,111.8L755.5,115.4M677.6,137.6L675.3,147.6M750.6,130.1L758.8,136.7M688.7,321.1L692.7,327.2M703.2,301.1L709.8,307.2M750.7,304L755.4,309.6" stroke="#a9956b" stroke-width="0.7" stroke-opacity="0.5" fill="none" stroke-linecap="round"/><path d="M665.1,291L671.5,297.8M759.2,237.3L767.2,241.8M659.2,280L666.1,287.7M757.6,304.3L761.6,310.9M690.5,165.4L695.5,168.9M751.7,259L755.6,265.5M738.4,265.3L743.1,271.9M741,274.2L744.5,280.2M653.2,312.3L658.9,318.2M726,112.5L735.4,116.4M704.8,271.4L709.3,275.4M709.4,300.4L715.1,305.6" stroke="#b3a077" stroke-width="0.7" stroke-opacity="0.5" fill="none" stroke-linecap="round"/><path d="M701.5,211.8L710.8,216.5M750,180L755.3,184.4M718.6,130.2L725.6,133.7M745.1,285.1L752,291.3M750.2,290.5L753.9,295.5M735.1,156.4L740.8,158.8M654.5,226.1L657.7,235.1M740.3,293.8L745.9,302.3M687.7,320.8L694.7,327.7M744.1,178.8L751.5,181.5M734,105.8L743.2,109.4M748.8,198.3L754.4,201.2M652.6,236.1L654.1,244.8" stroke="#b3a077" stroke-width="1.2" stroke-opacity="0.5" fill="none" stroke-linecap="round"/><path d="M743.4,221.8L752,227.7M740,107.7L746.6,111.7M746.3,176.2L752.4,180.7M706.5,216.8L712,219.7M677,208.3L686.4,213.6M785.5,249.5L792.4,253.6M672.7,257.8L679.9,265.6M659.5,212.5L662.2,219.9M761.1,243.9L768,248.1M746.9,135.6L753.9,140.2M744.5,239.8L752.8,243.7M800.8,197.6L808.2,203.4M711.8,218.7L718.8,223M688.9,152.5L697.5,157.5M767.9,155.2L774.8,159.6M665.9,224.9L667.6,235.3M679.4,341.2L684.7,346.5" stroke="#d4c8a6" stroke-width="0.9" stroke-opacity="0.5" fill="none" stroke-linecap="round"/><path d="M674.5,227.8L683.9,232.2M783.3,143.5L789.7,147.9M698.9,196.4L707.4,201.7M772.2,158.9L777.3,162.3M660.8,303.8L666.7,310.5M765,276.2L770,283.2M706.8,311.4L711.2,316.1M616.4,278.8L617.4,284.8M704.2,142L711.6,147.8M722.4,212.7L729.6,216.5M780.3,234.2L786.1,236.8M782.9,141L791.5,145.3M684.5,129.8L683.4,138.5M725.1,234.7L730.3,238.8M683.4,310L686.9,315.2M725.6,289.1L729.6,294.1M736.5,261.4L741.2,265.4M709.3,151.2L718.2,155.9M660.6,322.8L664,328.3M692.8,232.6L702.3,237.3" stroke="#cfc19c" stroke-width="0.9" stroke-opacity="0.5" fill="none" stroke-linecap="round"/><path d="M711.4,228.9L718.7,234.4M714.2,244.3L719.9,249M796.1,193L802.5,196.6M712.2,307.2L716.5,311.5M703.6,309.7L710.7,316.6M712.1,165.7L719.7,169.6M664.7,205.8L668.3,215.5M675.2,218.2L683,221.7M750.7,168.1L755.9,171.2M755.4,295.4L760.8,303.1M668.4,211.4L669.6,218.7M707.1,177.4L714,180.7M742.9,128.6L749.1,133.2M696.6,154L705.5,159.6M753.6,175.9L761.4,181.4M713.7,281.3L720.2,288.7M719.7,269.8L724.3,277.1" stroke="#a9956b" stroke-width="0.8" stroke-opacity="0.5" fill="none" stroke-linecap="round"/><path d="M710.7,244.4L717,247.3M626.1,295L628.2,302.4M686,140.7L685.7,148.3M697.8,151.7L704,155.1M762.5,230.5L769.3,235.4M743.7,253.5L748.8,259.7M709.2,159.9L718.9,163.8M668.6,269.6L674.3,274.4" stroke="#ab976c" stroke-width="0.7" stroke-opacity="0.5" fill="none" stroke-linecap="round"/><path d="M790.4,204.2L798.2,210.5M689.8,131.1L688.5,140.1M687,252.5L691.9,260.7M733.6,129.8L740.2,132.4M621.9,298.5L625,308.6M783.9,142.8L791.8,148.2M752.5,238.2L759.9,242.2M691.7,161.9L699.4,167.5M624.2,296.1L625.7,304.4M699.3,324.2L705.2,333.3M754.3,211.4L759.7,215.8" stroke="#b3a077" stroke-width="0.9" stroke-opacity="0.5" fill="none" stroke-linecap="round"/><path d="M754.8,248.2L762.8,251.9M621.7,285.5L624.8,294M595.4,275.1L597.4,281.3M730.2,119.3L736,123.6M669.6,252.8L675.5,261.3M717.7,164.7L724.9,170.5M671.7,168.7L669.7,176.2M721.5,234.8L727.8,238.6M678.7,134.4L676.4,144.6M727.3,174.6L733.5,178M792.7,194.1L799.6,199.9M664.1,199.7L662.8,207.5M718.8,105.4L728,110.1M710.5,104.5L715.8,108.4M764.6,142.4L773.7,145.9M744.7,271.9L750,279.2M740.6,192.6L747.3,197.4M714.5,213.7L720.1,217.4" stroke="#a9956b" stroke-width="0.9" stroke-opacity="0.5" fill="none" stroke-linecap="round"/><path d="M691.5,173.2L699.1,177.1M761.2,201.5L768.6,204.9M737.4,196.6L744.1,200.8M781,190.6L787,192.8M765.5,201.5L774.1,208.1M748,259.7L753,263.9M757.5,197.1L762.6,201M733.2,223.4L739.3,228.1M718,320.6L723.4,329.4M795.1,179L802.6,184.5" stroke="#d4c8a6" stroke-width="0.7" stroke-opacity="0.5" fill="none" stroke-linecap="round"/><path d="M666.6,289.4L674,296.7M589.2,270.4L590.5,280.1M764.5,258.3L771.2,264.1M665.5,221.1L668.9,230.8M673,235.4L682.3,239.6M708.7,125.1L717.1,129.4M660.4,316L665,320.7M639.3,276.2L642.4,285.5M609.5,286.7L612.2,293.2M697.2,230.3L702.6,234.1M706.6,106.2L714.4,110.7M725.9,215.7L733.6,221.7M632.2,307.3L635.5,316.4M715.4,206.2L722.5,211.5" stroke="#ab976c" stroke-width="0.8" stroke-opacity="0.5" fill="none" stroke-linecap="round"/><path d="M665.1,314.7L669.1,320M666.4,320.8L673.3,326.8M792,204.6L800.4,210.5M650.3,290.1L653.5,300.3M729.5,236.1L737.1,239.4M713.4,314.9L718.6,321.1M667.4,204.3L670.5,212.8M705.5,147.3L715.1,151.7M771.5,213.3L779.4,218.9M702.1,212.4L710,217M753.5,262.6L759.9,270.3M794,203.5L804,207.3M718.6,185.6L725.8,190.1M715.8,333.6L721,340.1M784.9,213L790.2,215.7M792.3,189.3L801.2,192.8M700.7,335.9L706.4,343.6M632.4,306.9L634.3,316.6M711.6,142.4L720.1,147.6M633,306.9L635.5,313.8M662.5,280.4L668,287.3M666.4,318.5L671.9,326.9M726.1,225.9L732.8,228.5" stroke="#b3a077" stroke-width="1.1" stroke-opacity="0.5" fill="none" stroke-linecap="round"/><path d="M632.5,268.4L633.5,278.4M695.3,151.9L701.2,156.4M727.8,274.2L734.3,280.3M758,218.8L765.6,221.9M773.9,148.4L783,152.8M758.5,169.2L764.3,173.1M737.6,319.8L743.6,325.2M690.7,260.5L695.9,265.7M762,124.9L769.2,127.7M614.7,281.6L617.3,289.5M754,306.8L759.7,312.3M737.7,154.6L745,159.8M678.2,257.2L684.4,263.8M763.7,261.2L771,268.8M759.5,162.4L765.9,165.7" stroke="#cfc19c" stroke-width="1" stroke-opacity="0.5" fill="none" stroke-linecap="round"/><path d="M766.8,267.5L771.2,273.9M658.6,265.4L661.1,272.2M709.2,227.7L716.6,231.5M761.8,172.5L768.4,176.9M644,311.3L644.9,319.2M677.1,149L677.3,156.9M721.5,309L727.7,315.9M663.4,248.3L671.2,252.4M754.5,171.3L761.8,175.7M700.1,211.8L708.8,217.8M795.4,160.9L803.6,165.7M726.9,322.5L730.9,328.3M715.4,202.3L721.7,207.7M688.2,347.1L692,353.5M707.1,160L716.9,164.6" stroke="#a9956b" stroke-width="1" stroke-opacity="0.5" fill="none" stroke-linecap="round"/><path d="M699.1,218.2L704.2,222.1M710.7,156.8L720.1,160.9M718.5,134.7L725.3,139.9M695.7,163.7L701.2,168.1M709.7,292.9L715,301.4M791.8,161.7L797.5,164.7" stroke="#cfc19c" stroke-width="1.2" stroke-opacity="0.5" fill="none" stroke-linecap="round"/><path d="M720.1,172.8L728.1,176.3M784.5,238L792.6,241.1M745.5,295L749.7,299.5M687.9,323L694.6,331.1M693.8,138.3L699.4,143M660,295.5L663.8,301.1M760.1,174.9L766.7,178.1M789.8,231.7L798.7,237.8M742.2,120.4L750.9,124.8M707.8,244.8L714.7,247.6M698.2,181.5L704.6,184.6M703.8,306.2L709.3,311.3M796.4,163.1L802.7,167M713.5,228.1L721.6,233.3" stroke="#b3a077" stroke-width="1" stroke-opacity="0.5" fill="none" stroke-linecap="round"/><path d="M735.1,225.5L743.4,229.6M616.8,261.7L619.1,271.5M737.9,325.3L743.1,333.7M745.3,145.4L750.9,149M680.7,300.7L685.9,308.2M717.1,328.6L722.6,335.3M750.8,299.6L758.5,306.1M654,316.8L659,324.8M732.5,325.9L736.8,333M750.5,223.7L757.3,226.9M674.2,262.3L678.9,269.1M754,215.5L761.7,220.5M720.6,237.6L727.8,241M798.8,188.7L805.2,193.6M696.4,121.2L704.3,125.1" stroke="#d4c8a6" stroke-width="1.1" stroke-opacity="0.5" fill="none" stroke-linecap="round"/><path d="M695.9,263.4L702.4,269.3M638.1,293.3L639.3,300M752.7,274.4L757.3,281.4M772.8,258.8L777.9,264.1M657.4,325L662.9,330.4M736.7,181.5L744.5,187.1M769.7,180.6L775.3,183.1M736.2,330L742.6,335.6M771,254.1L778.2,260.1M768.9,262L773.7,266.5M728,308.2L733.8,316.5M699.9,120.7L707.9,124.6M732.3,256.4L739.3,262.2M778.8,254.1L784.5,259.8M731.8,308.8L738.5,315.2" stroke="#b3a077" stroke-width="0.8" stroke-opacity="0.5" fill="none" stroke-linecap="round"/><path d="M672,297.3L678,305.5M712.7,199.8L718.8,203.4M755.5,231.3L763.5,237.2M713.4,107.4L719.2,112.2M687.2,308.8L693.3,314.4M688.4,240L696.1,243.6M660.9,247.9L661.6,254.7M744.8,303.7L750.1,311.5M762,269.4L766.4,274.7M692.7,247.4L700,251.8M670.9,206.8L671.9,215.6M708.1,192L716.1,197.1M751.6,172.5L757,176.1M728.9,127.2L736.4,131.1M675.4,229.5L684.5,234.9M788.2,196.9L796.5,201.7M648.5,282.3L650.6,291.1M627,291.3L628.3,298.5M759.1,195.8L765.9,198.7" stroke="#ab976c" stroke-width="1" stroke-opacity="0.5" fill="none" stroke-linecap="round"/><path d="M676.1,292L681,297.5M755.7,247.4L760.9,251.1M710.7,186.4L718,189.5M750.7,144.3L756.7,146.8M774.1,202.9L780.1,206.4M764.3,177.3L772.1,180.2M700.1,230.1L709.4,234.9M716.2,145.7L725.5,150.7M739.1,223.6L748.7,228.5M592.3,268L595.6,277.7M737.6,161.5L743.5,165.2M713,167.8L721.2,172.6M671.7,265.7L675.5,271.2M664.1,221.4L665.5,231.3M678.7,340.3L685.5,346.8M673.1,180.8L672.3,187.2" stroke="#cfc19c" stroke-width="1.1" stroke-opacity="0.5" fill="none" stroke-linecap="round"/><path d="M689,322.3L695.2,330.7M789.4,176.4L796,180.1M760.5,280.5L764.4,285.6M800.8,189.3L808.5,193.4" stroke="#d4c8a6" stroke-width="1.2" stroke-opacity="0.5" fill="none" stroke-linecap="round"/><path d="M668.8,292.9L674.8,297.9M789.4,222.9L796.6,226.6M597.5,269.4L601.4,278.4M776.7,194.6L784.3,198.5M726.4,106.5L734.8,110.6M677.3,231.1L684.1,236.7M668.2,247L675.3,249.9M601.6,272.6L602.9,283M680.7,268.6L686.3,274.2M784.3,159.2L791.5,162.9M665.8,219.4L666.6,226.5M702.4,310.6L709.1,316.9M792.1,224.8L799.6,231" stroke="#a9956b" stroke-width="1.2" stroke-opacity="0.5" fill="none" stroke-linecap="round"/><path d="M705.4,293.8L710.1,301.2M700.6,194L707.1,198.2M698,185.4L704.2,188.9M720.7,180.4L730.3,185.6M696.9,313.3L702.8,322.2M767,205.9L772.2,209.6M710,344.8L715,351.6M716.3,331.9L721.6,340.6M735.6,305.6L739.7,311.3M675.4,335L679.9,339.8M730.1,307.7L733.3,313M675.2,315.8L680,323.5M682.5,124.2L681.6,133.4M619.4,269.4L621.9,275.3M652.1,301L656.7,305.2M780.8,263.6L787,270.6M724.2,272.3L728.1,277.6M764.6,207.4L770.8,211.9" stroke="#d4c8a6" stroke-width="0.8" stroke-opacity="0.5" fill="none" stroke-linecap="round"/><path d="M727.2,193.3L734.8,197M727.7,106.7L734,109.6M721.3,229.3L729.1,234.3M650.2,277L651.1,284.2M743,204L749.2,209M662.7,208.3L663.7,217.8" stroke="#cfc19c" stroke-width="0.7" stroke-opacity="0.5" fill="none" stroke-linecap="round"/><path d="M752.6,120.4L761.3,126M725.9,163.1L731.8,166.2M674.2,337.9L679.4,343.9M715.9,160L723.6,163.9M662.2,299.3L668,305.2M636.7,310.4L639.6,318.7M730.8,220L738,224M732.2,319.7L739.9,327.4M773.2,148.4L781.5,152.6M653.4,292.8L659,301.9M712,144.6L722,149M632.9,286.7L634,297.4" stroke="#cfc19c" stroke-width="0.8" stroke-opacity="0.5" fill="none" stroke-linecap="round"/></g>
<g clip-path="url(#crwext)"><path d="M743.4,122.6C745.1,117.5 752.4,119.6 754.2,119C756,118.4 751.7,118.5 754.3,119C756.9,119.5 765.6,120.3 769.6,122C773.5,123.6 776.4,126.8 778.1,129C779.8,131.2 780,133.1 780,135.2C780.1,137.3 780,139.1 778.4,141.4C776.8,143.7 774.1,147.1 770.3,148.9C766.4,150.8 757.7,152.1 755.2,152.7C752.6,153.3 756.9,153.2 755.1,152.7C753.2,152.2 746,154.6 744.1,149.6C742.1,144.6 741.7,127.7 743.4,122.6Z" fill="#c1b08a" stroke="#9a7d52" stroke-width="1" stroke-opacity="0.8"/><path d="M756,140.6C758.2,135.8 766,137.9 769.6,137.3C773.3,136.7 774.1,136.7 777.8,137.2C781.6,137.7 788.4,138.6 792.1,140.3C795.8,141.9 798.4,145 800,147.1C801.6,149.1 801.6,150.9 801.7,152.8C801.7,154.8 801.6,156.6 800.1,158.7C798.5,160.8 795.9,163.9 792.3,165.6C788.6,167.3 781.8,168.3 778.1,168.9C774.4,169.4 773.6,169.4 769.9,168.9C766.3,168.4 758.5,170.6 756.2,165.9C753.9,161.2 753.8,145.3 756,140.6Z" fill="#c1b08a" stroke="#9a7d52" stroke-width="1" stroke-opacity="0.8"/><path d="M759.6,163C762.4,158.2 770.4,161 774.5,160.7C778.6,160.4 779.9,160.5 783.9,161.4C787.9,162.2 794.9,163.7 798.6,165.8C802.3,167.8 804.8,171.2 806.3,173.6C807.8,175.9 807.7,177.8 807.6,179.8C807.4,181.8 807.2,183.7 805.4,185.8C803.6,187.9 800.7,190.9 796.7,192.4C792.7,193.8 785.6,194.3 781.5,194.6C777.4,194.9 776.1,194.8 772.1,193.9C768.1,193.1 759.7,194.7 757.6,189.5C755.5,184.4 756.7,167.8 759.6,163Z" fill="#c1b08a" stroke="#9a7d52" stroke-width="1" stroke-opacity="0.8"/><path d="M758,186.2C761.3,181.6 769.2,185.1 773.5,185.2C777.8,185.3 779.7,185.5 783.8,186.7C787.8,187.9 794.5,189.9 798,192.3C801.6,194.6 803.8,198.2 805.1,200.6C806.4,203 806.2,204.9 805.9,206.9C805.6,208.9 805.2,210.7 803.3,212.7C801.3,214.6 798.1,217.4 794,218.6C790,219.7 783,219.7 778.8,219.6C774.5,219.5 772.6,219.2 768.5,218C764.4,216.8 755.8,217.8 754,212.5C752.3,207.2 754.8,190.7 758,186.2Z" fill="#c1b08a" stroke="#9a7d52" stroke-width="1" stroke-opacity="0.8"/><path d="M754.2,209.4C757.8,205.1 765.5,209.2 769.8,209.6C774.2,210.1 776.3,210.6 780.3,212.1C784.4,213.6 790.8,216.2 794.1,218.8C797.5,221.3 799.4,225.1 800.5,227.6C801.6,230.2 801.3,232 800.8,234C800.3,236 799.8,237.8 797.7,239.5C795.6,241.3 792.2,243.8 788,244.7C783.9,245.5 777,244.9 772.7,244.5C768.4,244 766.3,243.5 762.2,242C758.1,240.5 749.4,240.7 748.1,235.3C746.7,229.8 750.5,213.7 754.2,209.4Z" fill="#c1b08a" stroke="#9a7d52" stroke-width="1" stroke-opacity="0.8"/><path d="M748.5,232.1C752.5,228.2 759.9,233 764.4,233.8C768.9,234.7 771.5,235.4 775.5,237.3C779.6,239.2 785.6,242.2 788.8,245.1C791.9,247.9 793.5,251.8 794.4,254.4C795.3,257 794.8,258.8 794.2,260.8C793.6,262.7 793,264.5 790.7,266.1C788.4,267.7 784.9,269.9 780.7,270.4C776.4,270.9 769.8,269.8 765.4,269C761,268.2 758.5,267.3 754.3,265.4C750.1,263.4 741.3,263 740.4,257.5C739.4,251.9 744.5,236.1 748.5,232.1Z" fill="#c1b08a" stroke="#9a7d52" stroke-width="1" stroke-opacity="0.8"/><path d="M739.1,253.5C743.4,249.8 750.4,255.1 754.8,256.3C759.1,257.5 761.5,258.4 765.4,260.5C769.2,262.7 775,266.1 778,269.2C780.9,272.3 782.2,276.3 782.9,279C783.6,281.7 783,283.4 782.2,285.3C781.5,287.2 780.7,288.9 778.3,290.3C775.9,291.7 772.2,293.7 768,293.9C763.7,294 757.1,292.5 752.9,291.3C748.6,290.2 746.3,289.2 742.3,287C738.4,284.8 729.6,283.7 729.1,278.1C728.6,272.5 734.8,257.1 739.1,253.5Z" fill="#c1b08a" stroke="#9a7d52" stroke-width="1" stroke-opacity="0.8"/><path d="M725.7,272.3C730.3,269 736.9,274.9 741.3,276.5C745.6,278.1 748.1,279.3 751.8,281.7C755.6,284.2 761,288.2 763.7,291.5C766.4,294.8 767.3,298.9 767.8,301.6C768.3,304.3 767.5,306 766.6,307.8C765.7,309.6 764.8,311.3 762.3,312.5C759.8,313.7 755.9,315.4 751.7,315.2C747.5,315 741.1,313 736.8,311.4C732.6,309.9 730.2,308.6 726.3,306C722.5,303.4 713.8,301.6 713.7,296C713.6,290.4 721.2,275.5 725.7,272.3Z" fill="#c1b08a" stroke="#9a7d52" stroke-width="1" stroke-opacity="0.8"/><path d="M709.6,288.9C714.4,286 720.5,292.4 724.6,294.2C728.8,296.1 731,297.4 734.5,300.2C738,302.9 743.2,307.3 745.6,310.8C747.9,314.3 748.6,318.5 748.8,321.2C749.1,324 748.2,325.6 747.2,327.4C746.1,329.1 745.1,330.7 742.5,331.7C739.9,332.7 735.9,334.1 731.7,333.6C727.5,333 721.2,330.4 717.2,328.6C713.1,326.8 711,325.4 707.4,322.6C703.8,319.7 695.4,317.3 695.7,311.6C696.1,306 704.8,291.8 709.6,288.9Z" fill="#c1b08a" stroke="#9a7d52" stroke-width="1" stroke-opacity="0.8"/><path d="M690.6,301.8C695.6,299.3 701.1,306 705,308.2C709,310.3 710.9,311.7 714.1,314.7C717.2,317.6 722.1,322.4 724.2,326.1C726.3,329.8 726.6,334 726.7,336.8C726.7,339.5 725.7,341.1 724.5,342.7C723.3,344.4 722.2,345.8 719.5,346.7C716.9,347.5 712.8,348.5 708.6,347.7C704.5,346.8 698.4,343.7 694.6,341.6C690.7,339.5 688.8,338.1 685.6,335.1C682.3,332 674.2,328.9 675,323.3C675.8,317.8 685.6,304.3 690.6,301.8Z" fill="#c1b08a" stroke="#9a7d52" stroke-width="1" stroke-opacity="0.8"/><path d="M726.8,123.1C728.2,119.1 734.2,120.7 736,120.2C737.9,119.7 735.6,119.8 737.9,120.1C740.2,120.5 746.8,121.1 749.9,122.4C753,123.7 755.2,126.2 756.6,128C758,129.7 758.1,131.2 758.2,132.8C758.2,134.4 758.2,135.9 756.9,137.7C755.6,139.5 753.6,142.1 750.5,143.6C747.5,145.1 741,146.1 738.7,146.6C736.4,147.2 738.7,147.1 736.8,146.7C735,146.3 729.1,148.3 727.5,144.3C725.8,140.4 725.4,127.2 726.8,123.1Z" fill="#c1b08a" stroke="#9a7d52" stroke-width="1" stroke-opacity="0.8"/><path d="M734.9,139C736.8,134.9 743.4,136.6 746.6,136.1C749.7,135.7 750.6,135.7 753.8,136.1C757,136.5 762.7,137.2 765.8,138.6C768.9,140 771.1,142.5 772.5,144.3C773.9,146.1 773.9,147.6 774,149.2C774,150.8 773.9,152.3 772.6,154.1C771.3,155.9 769.2,158.5 766.1,160C763,161.4 757.3,162.3 754.1,162.8C750.9,163.3 750,163.3 746.9,162.9C743.7,162.5 737.1,164.3 735.1,160.3C733.2,156.3 733,143 734.9,139Z" fill="#c1b08a" stroke="#9a7d52" stroke-width="1" stroke-opacity="0.8"/><path d="M738.3,157.7C740.6,153.6 747.6,155.8 751.3,155.5C755,155.3 756.9,155.4 760.5,156C764.1,156.7 769.7,157.8 772.9,159.4C776.1,161.1 778.2,163.9 779.5,165.8C780.8,167.7 780.8,169.3 780.7,171C780.6,172.7 780.5,174.3 779,176.1C777.5,177.8 775.1,180.4 771.8,181.7C768.4,183 762.7,183.6 759.1,183.9C755.4,184.2 753.5,184.1 749.9,183.4C746.2,182.8 739.1,184.3 737.1,180C735.2,175.7 735.9,161.7 738.3,157.7Z" fill="#c1b08a" stroke="#9a7d52" stroke-width="1" stroke-opacity="0.8"/><path d="M738.2,176.7C740.9,172.8 747.9,175.6 751.9,175.6C755.9,175.6 758.4,175.8 762.2,176.7C766,177.6 771.4,179.2 774.4,181C777.5,182.9 779.4,185.9 780.6,187.9C781.8,189.9 781.7,191.5 781.5,193.2C781.3,194.9 781,196.5 779.4,198.1C777.8,199.8 775.2,202.3 771.7,203.4C768.3,204.4 762.7,204.7 758.8,204.6C755,204.6 752.4,204.2 748.5,203.3C744.7,202.3 737.2,203.4 735.5,199C733.7,194.6 735.4,180.6 738.2,176.7Z" fill="#c1b08a" stroke="#9a7d52" stroke-width="1" stroke-opacity="0.8"/><path d="M734.6,196.9C737.7,193.3 744.5,196.7 748.5,197C752.6,197.3 755.4,197.7 759.1,198.9C762.8,200.1 768.1,202 771,204.1C773.9,206.2 775.6,209.3 776.6,211.5C777.6,213.6 777.4,215.1 777.1,216.8C776.7,218.5 776.4,220 774.6,221.6C772.9,223.2 770.1,225.4 766.6,226.2C763.1,227 757.6,226.8 753.6,226.5C749.7,226.2 747,225.5 743.1,224.3C739.2,223 731.7,223.6 730.3,219C728.9,214.5 731.6,200.6 734.6,196.9Z" fill="#c1b08a" stroke="#9a7d52" stroke-width="1" stroke-opacity="0.8"/><path d="M730.3,215.8C733.6,212.4 740.2,216.3 744.3,216.9C748.4,217.6 751.4,218.2 755.1,219.7C758.8,221.1 763.8,223.4 766.6,225.7C769.3,228 770.8,231.2 771.7,233.4C772.5,235.6 772.2,237.1 771.7,238.8C771.3,240.4 770.8,241.9 769,243.4C767.1,244.8 764.2,246.8 760.7,247.4C757.1,248 751.7,247.4 747.7,246.8C743.8,246.1 740.9,245.2 737,243.6C733.1,242.1 725.5,242.1 724.4,237.5C723.3,232.9 727,219.3 730.3,215.8Z" fill="#c1b08a" stroke="#9a7d52" stroke-width="1" stroke-opacity="0.8"/><path d="M724.1,235.4C727.7,232.3 734,236.8 738.3,237.8C742.6,238.8 746,239.8 749.7,241.5C753.5,243.3 758.1,245.9 760.7,248.3C763.2,250.8 764.5,254.1 765.2,256.3C765.9,258.6 765.4,260.1 764.8,261.7C764.3,263.3 763.7,264.7 761.8,266C759.8,267.3 756.8,269.1 753.2,269.4C749.7,269.7 744.4,268.8 740.4,267.9C736.4,266.9 733.1,265.5 729.2,263.6C725.2,261.7 717.5,261.2 716.7,256.5C715.8,251.8 720.5,238.5 724.1,235.4Z" fill="#c1b08a" stroke="#9a7d52" stroke-width="1" stroke-opacity="0.8"/><path d="M714.8,252.2C718.6,249.3 724.5,254.1 728.6,255.4C732.7,256.7 735.9,257.8 739.4,259.8C742.9,261.8 747.5,264.7 749.9,267.4C752.3,270 753.3,273.4 753.8,275.7C754.4,277.9 753.8,279.4 753.1,281C752.4,282.5 751.8,284 749.7,285.1C747.7,286.3 744.5,287.9 741,287.9C737.4,288 732.2,286.7 728.3,285.5C724.4,284.3 721.4,282.8 717.7,280.6C714,278.5 706.4,277.5 705.9,272.7C705.4,268 711,255.1 714.8,252.2Z" fill="#c1b08a" stroke="#9a7d52" stroke-width="1" stroke-opacity="0.8"/><path d="M701.7,267.6C705.8,265 711.3,270.3 715.4,271.8C719.4,273.4 722.4,274.8 725.8,277.1C729.2,279.3 733.5,282.6 735.7,285.4C737.9,288.3 738.6,291.8 739,294.1C739.4,296.4 738.7,297.8 737.9,299.3C737.1,300.9 736.3,302.2 734.2,303.2C732.1,304.2 728.8,305.6 725.2,305.4C721.6,305.1 716.5,303.5 712.7,301.9C708.9,300.4 706.1,298.7 702.5,296.3C698.9,293.9 691.4,292.3 691.3,287.5C691.1,282.7 697.7,270.2 701.7,267.6Z" fill="#c1b08a" stroke="#9a7d52" stroke-width="1" stroke-opacity="0.8"/><path d="M687,281.6C691.2,279.3 696.4,285.1 700.2,287C704.1,288.9 707.2,290.5 710.4,293C713.6,295.6 717.6,299.1 719.5,302.1C721.5,305.1 722,308.6 722.1,310.9C722.3,313.2 721.6,314.5 720.7,316C719.7,317.4 718.9,318.7 716.7,319.5C714.5,320.4 711.2,321.4 707.6,321C704.1,320.5 699.2,318.4 695.5,316.6C691.9,314.8 689.1,312.8 685.7,310.1C682.3,307.4 674.9,305.2 675.1,300.5C675.4,295.7 682.8,283.9 687,281.6Z" fill="#c1b08a" stroke="#9a7d52" stroke-width="1" stroke-opacity="0.8"/><path d="M670.8,291.3C675.1,289.3 679.9,295.3 683.5,297.4C687.1,299.4 689.6,301.1 692.6,303.7C695.5,306.4 699.4,310.4 701.1,313.5C702.9,316.6 703.1,320.2 703.2,322.5C703.2,324.8 702.3,326.2 701.3,327.5C700.3,328.9 699.3,330.2 697.1,330.8C694.8,331.5 691.4,332.4 687.9,331.7C684.4,330.9 679.4,328.4 676,326.5C672.5,324.5 670.2,322.6 667.1,319.8C664.1,316.9 656.9,314.2 657.5,309.5C658.1,304.8 666.5,293.4 670.8,291.3Z" fill="#c1b08a" stroke="#9a7d52" stroke-width="1" stroke-opacity="0.8"/></g>
<g clip-path="url(#crwext)"><g clip-path="url(#crwband)"><path d="M699.5,125.3C701.5,122.3 707.6,123 711.9,122.4C716.1,121.7 721.1,121.1 724.8,121.2C728.6,121.3 732,122 734.6,123C737.1,124.1 738.9,126.1 740,127.5C741.2,128.9 741.2,130.1 741.3,131.4C741.3,132.7 741.3,133.9 740.3,135.4C739.3,136.8 737.6,139 735.1,140.2C732.7,141.4 729.3,142.3 725.6,142.6C721.8,143 716.8,142.7 712.5,142.3C708.3,142 702.2,143.1 700,140.3C697.8,137.4 697.5,128.2 699.5,125.3Z" fill="#c1b08a" stroke="#9a7d52" stroke-width="1" stroke-opacity="0.8"/><path d="M700.3,139.7C702.9,136.7 710,138 715.9,137.3C721.8,136.7 730.9,135.8 735.9,135.9C740.9,136 743.2,136.8 745.7,137.9C748.3,139.1 750.1,141.1 751.2,142.6C752.3,144 752.4,145.2 752.4,146.6C752.4,147.9 752.4,149.1 751.3,150.6C750.2,152 748.5,154.2 746,155.4C743.5,156.5 741.2,157.4 736.2,157.7C731.2,157.9 722.1,157.3 716.2,156.8C710.2,156.3 703.2,157.8 700.6,154.9C697.9,152.1 697.8,142.6 700.3,139.7Z" fill="#c1b08a" stroke="#9a7d52" stroke-width="1" stroke-opacity="0.8"/><path d="M700.5,153.5C703.5,150.4 711.3,152.1 718,151.7C724.8,151.3 735.4,150.7 741,151.1C746.6,151.4 748.9,152.4 751.6,153.8C754.4,155.1 756.2,157.5 757.4,159.1C758.5,160.7 758.5,162 758.5,163.5C758.4,164.9 758.4,166.3 757.1,167.8C755.9,169.4 753.9,171.6 751.1,172.8C748.3,174 745.9,174.8 740.3,174.8C734.7,174.9 724.1,173.7 717.4,172.9C710.7,172.1 702.8,173.4 700,170.1C697.2,166.9 697.5,156.6 700.5,153.5Z" fill="#c1b08a" stroke="#9a7d52" stroke-width="1" stroke-opacity="0.8"/><path d="M699.6,168.8C703,166 710.9,168.2 718.3,168.3C725.7,168.4 738,168.6 744,169.3C750,170.1 751.8,171.2 754.4,172.7C757,174.2 758.7,176.6 759.7,178.3C760.8,180 760.7,181.3 760.6,182.8C760.5,184.2 760.3,185.5 758.9,187C757.6,188.5 755.5,190.6 752.6,191.6C749.8,192.5 747.8,193.3 741.8,192.9C735.8,192.5 723.7,190.4 716.4,189.2C709.1,187.9 700.8,188.7 698,185.3C695.2,181.9 696.2,171.6 699.6,168.8Z" fill="#c1b08a" stroke="#9a7d52" stroke-width="1" stroke-opacity="0.8"/><path d="M696.3,184.8C699.9,182.2 707.7,185.1 715.1,185.7C722.5,186.3 734.7,187.4 740.7,188.5C746.7,189.7 748.4,191 751,192.7C753.6,194.4 755.1,197 756,198.8C757,200.6 756.8,201.9 756.6,203.4C756.3,204.8 756,206.2 754.6,207.5C753.1,208.9 750.8,210.9 747.8,211.7C744.9,212.5 742.8,213.1 736.7,212.3C730.7,211.5 718.8,208.5 711.6,206.7C704.4,204.9 696.1,205.1 693.5,201.5C690.9,197.8 692.7,187.5 696.3,184.8Z" fill="#c1b08a" stroke="#9a7d52" stroke-width="1" stroke-opacity="0.8"/><path d="M692.9,200C696.7,197.6 704.4,201 711.8,202.2C719.3,203.3 731.6,205.2 737.6,206.7C743.5,208.3 745.1,209.7 747.6,211.6C750,213.5 751.4,216.2 752.2,218C753,219.9 752.8,221.2 752.4,222.6C752.1,224.1 751.7,225.4 750.2,226.7C748.6,228 746.2,229.8 743.2,230.4C740.1,231 738.1,231.5 732,230.2C726,229 714.1,225.2 707,222.9C699.8,220.6 691.4,220.3 689.1,216.4C686.7,212.6 689.1,202.4 692.9,200Z" fill="#c1b08a" stroke="#9a7d52" stroke-width="1" stroke-opacity="0.8"/><path d="M687.8,214.6C691.8,212.5 699.4,216.5 706.9,218.2C714.5,219.9 727.2,222.7 733.2,224.7C739.1,226.7 740.5,228.1 742.8,230.2C745.1,232.2 746.3,235 747,236.9C747.6,238.8 747.3,240.1 746.9,241.5C746.5,242.9 746,244.2 744.4,245.3C742.8,246.5 740.2,248.2 737.2,248.6C734.1,249 732.2,249.4 726.1,247.7C720.1,246 707.9,241.2 700.7,238.4C693.5,235.6 685.1,234.7 682.9,230.7C680.8,226.7 683.8,216.7 687.8,214.6Z" fill="#c1b08a" stroke="#9a7d52" stroke-width="1" stroke-opacity="0.8"/><path d="M681.3,229.7C685.5,227.9 692.7,232.4 700.2,234.6C707.7,236.8 720.2,240.5 726.1,242.9C731.9,245.3 733.2,246.8 735.3,249C737.5,251.2 738.5,254.1 739.1,256C739.6,258 739.2,259.2 738.7,260.6C738.1,262 737.6,263.2 735.9,264.3C734.2,265.4 731.5,266.9 728.5,267.1C725.4,267.3 723.4,267.6 717.5,265.4C711.5,263.3 699.7,257.8 692.6,254.4C685.6,251.1 677.2,249.6 675.3,245.5C673.4,241.4 677.2,231.5 681.3,229.7Z" fill="#c1b08a" stroke="#9a7d52" stroke-width="1" stroke-opacity="0.8"/><path d="M672.5,242.2C676.8,240.7 683.8,245.7 691.1,248.4C698.5,251.2 711,255.8 716.7,258.6C722.4,261.5 723.5,263 725.5,265.3C727.5,267.6 728.2,270.6 728.7,272.5C729.1,274.5 728.6,275.7 728,277C727.3,278.4 726.7,279.5 725,280.5C723.2,281.4 720.5,282.7 717.4,282.7C714.4,282.7 712.5,282.9 706.7,280.4C700.8,277.8 689.2,271.3 682.3,267.5C675.4,263.7 667.1,261.6 665.5,257.4C663.9,253.2 668.3,243.7 672.5,242.2Z" fill="#c1b08a" stroke="#9a7d52" stroke-width="1" stroke-opacity="0.8"/><path d="M661.7,252.9C666,251.7 672.6,257.1 679.7,260.3C686.8,263.4 698.7,268.8 704.2,271.9C709.7,275.1 710.8,276.8 712.6,279.2C714.5,281.7 715.1,284.7 715.4,286.7C715.7,288.7 715.1,289.9 714.4,291.2C713.7,292.5 713,293.6 711.1,294.5C709.3,295.3 706.5,296.4 703.4,296.2C700.3,296 698.3,296 692.7,293.1C687.1,290.3 676.1,283.2 669.6,278.9C663.1,274.7 654.9,272.1 653.6,267.8C652.3,263.4 657.3,254.2 661.7,252.9Z" fill="#c1b08a" stroke="#9a7d52" stroke-width="1" stroke-opacity="0.8"/><path d="M648.9,263.1C653.4,262.2 659.5,268.1 666.4,271.8C673.3,275.5 685,281.9 690.3,285.5C695.6,289.1 696.4,290.7 698,293.3C699.7,295.9 700.1,298.8 700.2,300.8C700.4,302.8 699.7,304 698.9,305.2C698.1,306.4 697.3,307.5 695.5,308.2C693.6,308.9 690.7,309.8 687.7,309.3C684.7,308.9 682.8,308.8 677.4,305.5C671.9,302.2 661.3,294.2 655.1,289.4C648.8,284.7 640.9,281.5 639.9,277.1C638.9,272.7 644.5,263.9 648.9,263.1Z" fill="#c1b08a" stroke="#9a7d52" stroke-width="1" stroke-opacity="0.8"/><path d="M635.5,270.1C639.9,269.5 645.7,275.7 652.1,279.7C658.6,283.7 669.3,290.4 674.2,294.2C679.1,298 680,299.9 681.5,302.5C683,305.2 683.2,308.3 683.2,310.3C683.2,312.3 682.5,313.4 681.6,314.6C680.7,315.8 679.9,316.8 677.9,317.4C676,318 673.1,318.7 670,318.1C667,317.4 665,317.1 659.9,313.6C654.8,310 645.2,301.8 639.5,296.8C633.7,291.8 626.1,288.2 625.4,283.7C624.8,279.3 631,270.8 635.5,270.1Z" fill="#c1b08a" stroke="#9a7d52" stroke-width="1" stroke-opacity="0.8"/></g></g>
<g clip-path="url(#crwtan)"><path d="M697.8,134.6C706.5,134.4 709.4,137 709.5,141.6C709.6,146.2 706.8,148.9 698.1,149.1M699.6,147.3C709,147.2 712.2,150 712.2,155.1C712.2,160.1 709.1,162.9 699.7,163M698.8,160.2C708.7,160.7 711.8,163.9 711.5,169.2C711.2,174.4 707.7,177.2 697.8,176.6M699.2,174.1C709.2,175.3 712.2,178.8 711.6,184.1C710.9,189.4 707.2,192 697.2,190.8M695.6,188.8C705.5,190.6 708.2,194.2 707.3,199.5C706.3,204.8 702.4,207.2 692.5,205.3M691.8,204.1C701.5,206.5 704.1,210.3 702.7,215.5C701.4,220.7 697.4,222.8 687.7,220.3M686.4,218.3C696,221.4 698.3,225.3 696.6,230.4C695,235.5 690.9,237.3 681.3,234.2M680.3,230.2C689.7,233.9 691.7,237.9 689.8,242.9C687.9,248 683.6,249.6 674.2,245.9M672,242C681.1,246.2 682.8,250.3 680.6,255.1C678.4,260 674.1,261.3 665,257.1M662.5,253.2C671.4,258 672.9,262.2 670.3,267C667.8,271.7 663.4,272.8 654.5,268M650.8,261.5C659.2,266.8 660.4,271.1 657.6,275.6C654.7,280.1 650.3,280.8 641.9,275.5M637.7,269.8C646,275.7 646.9,280.1 643.8,284.5C640.6,288.8 636.1,289.3 627.9,283.5" fill="none" stroke="#9a7d52" stroke-width="0.9" stroke-opacity="0.6"/></g>
<g clip-path="url(#crwext)"><g clip-path="url(#crwall)"><path d="M742.4,301.2L748,307.6M618.3,269.2L621.9,278.5M762,141.7L770.9,145M734.2,242L742.8,246.3M707.4,311.5L710.9,317.4M701.8,211.7L709.9,216.9M722.5,302.4L726.9,307.3M712,154.2L722.1,158.2M701.6,316.3L706.9,324.9M671.6,191.3L669.1,200.7M721.2,172.7L729.8,176.9M719.4,229L727.4,232.7M753.3,157L759.5,160M733.2,284.5L737.8,290.6M740.1,314L744.8,321.5M794.3,214.6L800.1,218.8M735.5,190.5L742.1,193.3M752.5,227.2L762,231M735,117.3L741.2,121.1M725.7,332.2L731.5,337" stroke="#a9956b" stroke-width="1" stroke-opacity="0.4" fill="none" stroke-linecap="round"/><path d="M722.2,259.1L727.7,268M657.4,314.1L661.4,318.9M729.6,114.7L736.5,117.6M704.2,167.7L710.3,172.6M744.2,287.9L748.5,294.4M781.4,159.4L787.7,163.6M797.6,226.9L804.6,231.2M747.7,165.4L755.3,169.5M775.3,186.6L780.9,191.1M779.2,179.6L787.7,184.5M738.3,286.5L742.9,292.1M766.8,292.5L772.1,297.4M732.9,229L741.5,233.9M732.5,222.1L740.3,227.8" stroke="#cfc19c" stroke-width="0.9" stroke-opacity="0.4" fill="none" stroke-linecap="round"/><path d="M807.4,171L813.1,173.6M694.9,192.9L704.7,196.9M720,336L727.5,343.7M669.2,184.2L668.5,191M734.1,282.7L737.6,288.3M781.5,250.9L788.7,258.7M758.1,134.5L765.9,138.5M714.4,121.4L721.9,125.3M732,199.5L737,203.3" stroke="#ab976c" stroke-width="0.7" stroke-opacity="0.4" fill="none" stroke-linecap="round"/><path d="M662.8,325.2L667,330.2M725.4,195L733.6,198.7M691.7,273L698.4,279.4M762.4,145.2L769.4,148.4M716,143.2L722.2,146.2M671,238.8L678.9,243.7M780.8,186.8L789.8,193.2M697.6,159.5L703.2,164.2M790.1,260.1L797.1,267M710.1,321.7L715,327.8M636.9,309L638.8,316.6M733.3,213.2L739.5,218.3" stroke="#ab976c" stroke-width="1" stroke-opacity="0.4" fill="none" stroke-linecap="round"/><path d="M737.7,118.3L744.3,123.3M722,276.1L726.6,280.4M697.2,276.5L701.5,281.5M763.7,270.1L769.3,277M740.9,176.4L749.9,181.4M797.3,218.2L803,222M683.7,223.6L690.2,226.3M698.6,184.3L705,187.9M667.1,285L673.7,290.4M709.1,225.2L716,229.9M797.3,233.7L803.1,237.6M703.9,300.6L710,309.4M648,252.1L650.6,258.7M751,248.9L758.9,253.3M720.5,233.7L727.4,237.3" stroke="#d4c8a6" stroke-width="0.9" stroke-opacity="0.4" fill="none" stroke-linecap="round"/><path d="M740.8,212.7L746.7,215.2M709.3,136.4L715.3,141M626.5,264L628.8,271M658.5,260.7L660.5,271.2M696.3,249.5L704.5,252.7M684.2,188.3L689.6,192.6M628.8,266.2L629.4,272.6M686,248.1L692.5,251.8" stroke="#d4c8a6" stroke-width="0.7" stroke-opacity="0.4" fill="none" stroke-linecap="round"/><path d="M663,327.8L667.6,334.2M762.3,274.5L767.2,279.9M703.8,323.1L711.3,330.8M680,250.5L684.9,255.6M784.6,232.5L792.4,237.6M741.3,285.2L745.4,291.2M695.3,217.7L702.9,222.2M628.1,256L631.3,265.8" stroke="#cfc19c" stroke-width="0.7" stroke-opacity="0.4" fill="none" stroke-linecap="round"/><path d="M690,249.8L696,252.4M632.9,252.7L635.1,260.5M758.1,166.9L763.2,170.3M757.8,185.4L766.4,188.8M779.4,251.1L783,256.2M679.8,207.6L685.8,212.8M719.7,184.6L727.2,189M717.4,269.8L722.5,275.5M781.9,152.1L786.8,155.8" stroke="#a9956b" stroke-width="0.8" stroke-opacity="0.4" fill="none" stroke-linecap="round"/><path d="M774.2,298.2L780.7,303.9M798.9,250.2L805.2,258.7M731.4,234L738.1,236.7M738.9,322.4L744.8,327.4M732.5,245.4L741.4,249.2M682.8,311.8L687.9,318.5M710.2,312.5L715,316.5M773,269.6L777.1,274.9M773.9,211.4L780.1,214.8M634.9,258.9L637.9,266.7M720.8,143.8L726.6,147.2M660.4,212.3L663.9,221.9" stroke="#d4c8a6" stroke-width="1.2" stroke-opacity="0.4" fill="none" stroke-linecap="round"/><path d="M749,313.9L753.4,320.5M660,209.4L663.9,218.2M764.7,268.3L770.2,276.5M697.2,125.6L706.2,129.8M664.5,287.4L669.8,294.5M771.6,235.2L777.2,239.8" stroke="#a9956b" stroke-width="0.7" stroke-opacity="0.4" fill="none" stroke-linecap="round"/><path d="M685.8,274.3L690.4,279.9M660.9,269.7L667.8,276.3M728.9,300.8L733.6,306.8M691.2,230.4L700.1,233.7M784,247.3L791.1,252.2M762.8,233.7L770.8,238.1M741.1,198.7L749,203.3M697,131.7L705.7,136.1M754.7,221.4L763.6,227M738.3,203.8L745.1,207.9M616.7,270.2L620.7,280.3M654.6,266.5L655.6,275.4M661,298.7L666.5,304.4M719.2,135.6L726.2,138.4M722.3,154.3L728.2,156.9" stroke="#ab976c" stroke-width="0.9" stroke-opacity="0.4" fill="none" stroke-linecap="round"/><path d="M769.7,202.5L777.8,205.7M725.8,234.8L732.2,237.3M703,201.5L709.9,206.6M744.7,182.6L750.4,184.8M702.3,180.2L708.8,184.4M719.8,166.8L727.9,171.2M763.6,313.6L768.5,321.5M721.2,273.1L726.7,280.7M794.1,249.8L799.2,253.6M682.8,207.8L691.6,213.3M766.8,208.1L774.3,210.9" stroke="#b3a077" stroke-width="1.1" stroke-opacity="0.4" fill="none" stroke-linecap="round"/><path d="M803.3,158.5L809.7,161.4M807.2,180L814.6,186.2M715.1,341.4L722.4,347.5M801.7,230.1L809.8,235.7M790,187.3L798.3,193.1M762.9,242.5L768.4,244.9M736.9,117.9L742.4,121.1M723.9,338.9L729,343.2M663.4,290.7L667.7,297.5M775.2,151.3L784,155.6M755.1,118.4L764.5,124" stroke="#cfc19c" stroke-width="1.1" stroke-opacity="0.4" fill="none" stroke-linecap="round"/><path d="M706.3,127L715.9,130.7M733.1,315.4L738.1,322M693.8,262.1L699.2,270.6M706.4,114.5L713.6,117.7M807.4,189.3L813.4,193.1M697.2,222.2L705,225.3M748.2,154.5L756.6,160.9M674.4,279.5L679.4,284.1M799.4,222.6L809.1,227.5M656.6,295.5L662.6,302.5M653,306.9L657.9,313" stroke="#ab976c" stroke-width="1.1" stroke-opacity="0.4" fill="none" stroke-linecap="round"/><path d="M706.8,229.4L713.9,232.4M735,214.2L744.6,218.3M709.3,197.1L716.9,200.6M732.5,252.2L737.9,257.8M792.4,193.5L798,197.5M670,306.2L676.7,313.9M725.5,335.7L731.1,343M717.9,179.2L724,182.8M755.2,148.6L763.8,153.1M648.6,231L650.3,241.3M740.7,312.7L746.2,318" stroke="#b3a077" stroke-width="0.8" stroke-opacity="0.4" fill="none" stroke-linecap="round"/><path d="M688.1,197.2L694.5,199.8M715,207.1L722.3,210.9M706.3,146L715.6,150.6M726.6,234.7L734.8,240M794.2,169.1L800,173.9M772.9,132.1L778,135.7M629.9,281L632.4,288.5M627.5,246.7L628.6,254.3M756,206.5L763.1,209.9M674.2,210.7L678.9,214.5M766.2,217.9L772.7,222.4M790.9,151.7L797,155.8M660.3,217.9L663.4,227.3" stroke="#a9956b" stroke-width="0.9" stroke-opacity="0.4" fill="none" stroke-linecap="round"/><path d="M768.4,223.4L775.2,226.9M748.3,284.6L755.5,291.1M682.3,235.7L690.1,242.3M667.7,224.9L670.6,231.9M673.9,322.7L679.9,330.8M702.5,122.3L710,126.7M696.3,184.3L704.6,191.2M639,259L640.4,266.3M743.5,181.4L749.5,186M708,165L715.1,170.7M779.1,185.1L786.8,190.3M664.2,324.3L671,330.4M637.3,291.7L639.3,299.9" stroke="#a9956b" stroke-width="1.1" stroke-opacity="0.4" fill="none" stroke-linecap="round"/><path d="M700.7,263.1L707.3,269.7M677.3,298.9L682.3,305.5M717.9,183.4L725.2,186.1M769.6,305L776.2,312.4M746.5,159.5L754.4,164.5M714.5,127.5L723.5,131.9M748.5,231.8L754.6,237M666.8,195.2L665.5,206M739.7,311.1L746,316.4M755.9,213.1L764.5,217.5M731.2,199.4L739,204M782.1,192.5L791,197.2M799,171.7L807.4,178.4M725,126L732.7,129.9M702.2,188.9L710.1,192.9M723.2,309.3L729.7,316.1M673.4,252.3L678,257M608.8,261.2L611.4,268.3M764.7,274.5L768.6,280.3" stroke="#d4c8a6" stroke-width="1.1" stroke-opacity="0.4" fill="none" stroke-linecap="round"/><path d="M729.3,284L735.1,290.7M642.1,240.7L644.7,250.8M741.7,155.8L749.3,160.1M652.5,317.4L659.7,324.6M752.3,235.4L760.4,238.9M719.1,198.6L729.1,203M764,276.5L771,283.5M734,325.9L737.8,331.3M728.8,223.5L736.7,228.2M702.3,224.1L708.9,228.8M699.1,182.7L705.2,187M708.8,173.7L716.7,179.1" stroke="#b3a077" stroke-width="1" stroke-opacity="0.4" fill="none" stroke-linecap="round"/><path d="M735.2,125.1L742.7,130.5M624.9,254.8L628.1,262.3M768.5,154.5L776,159.1M726.4,192.9L732.4,196" stroke="#b3a077" stroke-width="1.2" stroke-opacity="0.4" fill="none" stroke-linecap="round"/><path d="M729.5,285.5L734.2,291.1M752.6,229.4L760.4,232.3M689.6,160.5L699.2,164.3M692.2,238.7L699,244.5M745.3,280.6L752.1,287.3" stroke="#cfc19c" stroke-width="1.2" stroke-opacity="0.4" fill="none" stroke-linecap="round"/><path d="M644.7,300.8L647.3,307.8M722.7,295L728.8,300.5M706.7,149.7L714.2,152.8M679.5,279.2L686.4,286.8M757.6,247.8L766.5,251.6M697.9,235.4L703.2,239.2M788.8,238.7L796,241.5M688.9,211L695.5,216M801.9,170L810.8,174M708.4,236.9L714.8,241.6M656.3,252.8L657.4,263.1M651.1,228.1L651.7,235.8M647.3,257.9L649.5,267.4" stroke="#cfc19c" stroke-width="0.8" stroke-opacity="0.4" fill="none" stroke-linecap="round"/><path d="M721,232.5L729.3,235.7M688.1,190L694.4,192.5M805,163.3L812.1,169M703.1,267L708.4,274.2M727,243.3L734.4,247.7M664.6,315.4L668.8,321.4M691.3,307.8L696.5,313.4M673,235.1L679.9,237.8M645.4,248.5L646.5,256.9M716.8,158.2L723.6,161M696.3,344L700.1,348.9" stroke="#cfc19c" stroke-width="1" stroke-opacity="0.4" fill="none" stroke-linecap="round"/><path d="M734.6,123.8L742.9,130.4M755,245.4L760.2,249.3M645.9,306.7L647.6,314.8M747.5,312.5L752.2,319.7M665.7,210.4L668.7,218.7M635.8,246.3L636.8,252.9M753.2,154.3L761.3,161.2M681.1,316.5L688.1,322.4M719,262.3L725.6,270.4M714,155.7L722.3,161.5M730.2,281.3L738.4,288.5M724.6,328.9L732.8,335.9M701.9,183.1L709.3,188.3M678.6,198.7L685.8,201.8" stroke="#ab976c" stroke-width="0.8" stroke-opacity="0.4" fill="none" stroke-linecap="round"/><path d="M706.4,316.1L711.7,323.8M747.6,134L754.6,136.7M741,162.3L750.7,167.4M622.3,269L624.1,278.8M754.7,127.4L761.6,130M645.9,319.8L653.4,326.5M722.7,235.5L732.4,239.8M699.7,290.6L704.2,297.2M721.9,179.7L728.9,183.6M787.6,219.4L793.8,223.9M684.6,245.8L693.8,250.5M753.3,306.3L761.4,313.4M736.2,156.6L744.3,162.3M725.3,258.2L732.8,264.9" stroke="#d4c8a6" stroke-width="0.8" stroke-opacity="0.4" fill="none" stroke-linecap="round"/><path d="M772.5,201.6L781.8,207.1M671.6,324.8L675.7,331.4M688.6,136.7L687.1,143.7M666.7,287.9L670.7,292.9M737.1,154.6L744,158.5M665.4,271.4L670.8,277.5M638.3,312.9L640.8,319.2M714,255.6L718.7,260.9M692.9,147.2L699.8,150.1M777.3,175.5L784,179.7M735.5,304.7L740.4,310.1M752.2,304.7L758.3,311.9M724.9,188.2L731.3,191.6M690.9,185.2L697.6,190.3" stroke="#b3a077" stroke-width="0.9" stroke-opacity="0.4" fill="none" stroke-linecap="round"/><path d="M742.3,283.3L748.8,289.8M700.6,311.8L705.4,316.4M706.6,230.1L712.8,234.4M750,294.8L754.3,301.9M653.7,301.5L661.5,309.1" stroke="#a9956b" stroke-width="1.2" stroke-opacity="0.4" fill="none" stroke-linecap="round"/><path d="M766.8,224.1L774.5,228.4M696.5,264.2L701.1,268.1M764.4,159.7L771.8,165.3M720.1,123.7L730,127.8M715.4,188.2L720.8,192.3M810.3,185.5L816.3,189.8M690.6,208.1L696.6,210.5M798.6,209.9L807.2,214M691.9,281.1L696.5,286.9M717.4,343.6L722.8,351.2M713.8,158.3L719.6,161.6" stroke="#d4c8a6" stroke-width="1" stroke-opacity="0.4" fill="none" stroke-linecap="round"/><path d="M777,251.7L783,260.3M745.6,171.2L753.1,174.3M776.7,166.5L781.9,170.3M794.1,241.2L803.5,245.5M790.4,165.5L798.5,169" stroke="#b3a077" stroke-width="0.7" stroke-opacity="0.4" fill="none" stroke-linecap="round"/><path d="M738.8,305.4L743.8,313M700.8,116.3L706.7,120.7M686.4,248.9L692.4,252.8M797.5,193.4L805.5,197.7M675.6,228.9L682.2,232.3" stroke="#ab976c" stroke-width="1.2" stroke-opacity="0.4" fill="none" stroke-linecap="round"/></g></g>
</g>
<g id="tail">
<path d="M737,520C733.7,527.5 737.3,552.5 740,567C742.7,581.5 748,592.7 753,607C758,621.3 764.3,637.5 770,653C775.7,668.5 782,684.3 787,700C792,715.7 795.8,733.2 800,747C804.2,760.8 806,767 812,783C818,799 826.5,823.5 836,843C845.5,862.5 859,883.8 869,900C879,916.2 887.2,927.2 896,940C904.8,952.8 912,965.3 922,977C932,988.7 945.3,1001.2 956,1010C966.7,1018.8 976.7,1025.5 986,1030C995.3,1034.5 1002.7,1037 1012,1037C1021.3,1037 1032.5,1035 1042,1030C1051.5,1025 1062.3,1014.8 1069,1007C1075.7,999.2 1079.2,991.3 1082,983C1084.8,974.7 1087,968.7 1086,957C1085,945.3 1081,928 1076,913C1071,898 1063.8,881.3 1056,867C1048.2,852.7 1035.7,838.2 1029,827C1022.3,815.8 1022.7,811.2 1016,800C1009.3,788.8 996.8,773.3 989,760C981.2,746.7 977.2,732.2 969,720C960.8,707.8 950.7,697.8 940,687C929.3,676.2 918.3,665.3 905,655C891.7,644.7 875,638.3 860,625C845,611.7 826.7,590 815,575C803.3,560 799.2,543.8 790,535C780.8,526.2 768.8,524.5 760,522C751.2,519.5 740.3,512.5 737,520Z" fill="#c67a5b" stroke="none" stroke-width="1" />
<path d="M840.9,595.5C844.5,595.7 850.1,602.6 854.9,605.9C859.6,609.2 863.9,611.6 869.6,615.2C875.4,618.9 883,623.3 889.2,627.8C895.4,632.4 903,639.3 907,642.6C911,646 910.8,645.4 913.4,647.9C915.9,650.4 920.3,654.7 922.5,657.6C924.7,660.4 925.7,663 926.5,665.1C927.4,667.2 927.5,668.8 927.4,670.3C927.3,671.8 926.8,673 926,674C925.2,675 924,675.7 922.6,676C921.1,676.4 919.6,676.6 917.3,676.2C915.1,675.8 912.4,675.2 909.2,673.6C906,671.9 900.9,668.4 898,666.4C895.1,664.3 895.7,664.4 891.7,661.1C887.6,657.7 879.5,651.6 873.9,646.3C868.2,641 862.5,634.4 857.9,629.4C853.2,624.4 850.1,620.7 846,616.6C841.9,612.5 834.1,608.3 833.2,604.8C832.4,601.3 837.3,595.4 840.9,595.5Z" fill="url(#g32)" stroke="#7d5a40" stroke-width="1.1" stroke-opacity="0.9"/><path d="M863,623.2L863.3,630.7M871.7,627.4L880.1,625.1M877.4,635.2L876.4,644.3M886.2,639.4L894.9,636.7M891.9,647.2L891.2,655.9M900.6,651.4L909.5,648.5M906.3,659.2L905.9,667.6M915.1,663.4L923.2,661.4" fill="none" stroke="#a8583c" stroke-width="0.7" stroke-opacity="0.3"/><path d="M906.5,651.3L912.8,657.9M890.9,646.3L902.1,655.3M896.3,643.9L904.9,652.1" fill="none" stroke="#f3dcd6" stroke-width="1.1" stroke-linecap="round" stroke-opacity="0.6"/>
<path d="M859.3,624.8C862.9,624.8 869,631.5 874,634.6C879,637.7 883.5,639.9 889.5,643.3C895.5,646.8 903.5,650.8 910,655.2C916.6,659.5 924.6,666 928.9,669.3C933.2,672.5 933.2,672.2 936,674.6C938.8,677 943.3,681 945.6,683.8C948,686.5 949.2,689 950.1,691.1C951,693.1 951.2,694.7 951.2,696.2C951.2,697.7 950.7,699 950,700C949.3,701 948.1,701.8 946.7,702.2C945.3,702.6 943.7,702.9 941.5,702.6C939.2,702.3 936.5,701.9 933.2,700.4C929.9,699 924.8,695.8 921.7,693.8C918.6,691.8 918.9,691.7 914.5,688.5C910.2,685.2 901.7,679.5 895.7,674.4C889.7,669.3 883.5,662.9 878.5,658.1C873.5,653.3 870.1,649.6 865.7,645.7C861.3,641.7 853.2,637.9 852.1,634.4C851,630.9 855.6,624.7 859.3,624.8Z" fill="url(#g33)" stroke="#7d5a40" stroke-width="1.1" stroke-opacity="0.9"/><path d="M883.3,651.7L883.1,660.2M892.4,655.5L900.3,653.2M898.6,663.1L897.8,672.6M907.7,666.9L916.3,663.8M913.9,674.5L913,684.2M923,678.3L931.9,674.9M929.2,686L929.9,693.5M938.3,689.8L946.1,687.8" fill="none" stroke="#a8583c" stroke-width="0.7" stroke-opacity="0.3"/><path d="M922.9,671.8L929.5,678.4M921.1,672.5L933.8,683.2M931.6,682.6L943.2,692" fill="none" stroke="#f3dcd6" stroke-width="1.1" stroke-linecap="round" stroke-opacity="0.6"/>
<path d="M875.1,648.1C878.8,648 884.5,655.4 889.6,658.6C894.6,661.8 899.2,664 905.3,667.3C911.4,670.7 919.5,674.8 926.3,678.9C933.1,683 942.2,689.5 946.2,692.1C950.2,694.8 947.7,692.8 950.4,694.8C953.1,696.8 959.5,701.5 962.5,704.4C965.5,707.2 967.1,709.9 968.4,712.1C969.7,714.3 970,716 970.1,717.7C970.2,719.3 969.8,720.8 969,722C968.2,723.2 966.8,724.2 965.2,724.8C963.5,725.5 961.6,726 958.8,725.9C956.1,725.8 952.7,725.6 948.7,724.3C944.6,722.9 937.5,719.3 934.4,717.8C931.3,716.3 934.2,717.8 930.2,715.1C926.2,712.5 916.6,706.8 910.3,701.9C904.1,696.9 897.7,690.4 892.7,685.4C887.7,680.4 884.5,676.4 880.2,672.1C875.9,667.8 867.9,663.6 867.1,659.6C866.2,655.6 871.3,648.3 875.1,648.1Z" fill="url(#g34)" stroke="#7d5a40" stroke-width="1.1" stroke-opacity="0.9"/><path d="M898.2,677.5L898.1,686.5M907.6,681L916.3,677.2M913.9,689L913.5,698.2M923.4,692.2L932,688.6M929.9,699.9L929.9,708.6M939.6,702.9L948.1,699.4M946.2,710.3L946.6,718.6M956.2,713L965.9,707.8" fill="none" stroke="#a8583c" stroke-width="0.7" stroke-opacity="0.3"/><path d="M924.9,690.5L934.4,697.7M919.6,686.5L930.7,695M917.2,689L923.9,693.8" fill="none" stroke="#f3dcd6" stroke-width="1.1" stroke-linecap="round" stroke-opacity="0.6"/>
<path d="M899.3,686.3C903.1,686.2 908.5,693.8 913.4,697.1C918.3,700.4 922.7,702.6 928.7,706.1C934.7,709.6 942.5,713.8 949.1,718.1C955.7,722.4 964.5,729 968.4,731.7C972.2,734.4 969.6,732.2 972.2,734.3C974.8,736.4 981.1,741.2 984,744.2C986.9,747.2 988.5,749.8 989.7,752.1C990.9,754.3 991.2,756 991.3,757.7C991.3,759.3 990.9,760.8 990,762C989.1,763.2 987.8,764.1 986.1,764.7C984.4,765.3 982.4,765.7 979.7,765.6C977,765.4 973.6,765.2 969.6,763.7C965.6,762.2 958.5,758.4 955.5,756.8C952.6,755.2 955.6,757 951.7,754.3C947.9,751.6 938.5,745.7 932.5,740.6C926.5,735.6 920.4,728.9 915.6,723.8C910.8,718.8 907.7,714.6 903.6,710.3C899.5,705.9 891.7,701.5 891,697.5C890.3,693.6 895.6,686.4 899.3,686.3Z" fill="url(#g35)" stroke="#7d5a40" stroke-width="1.1" stroke-opacity="0.9"/><path d="M921.3,716.1L920.9,725M930.5,719.8L940.2,715M936.4,727.9L936.4,736.3M945.8,731.3L955.2,727M951.9,739.1L951.2,748.5M961.5,742.3L970.6,738.4M967.8,749.8L966.4,760.2M977.6,752.8L987,748.5" fill="none" stroke="#a8583c" stroke-width="0.7" stroke-opacity="0.3"/><path d="M961,742L970.7,748.7M951.8,731.2L959.3,737.7M971.9,745.8L983.1,753.9" fill="none" stroke="#f3dcd6" stroke-width="1.1" stroke-linecap="round" stroke-opacity="0.6"/>
<path d="M924.8,726.6C928.6,726.5 934,734 938.9,737.3C943.9,740.6 948.3,742.8 954.3,746.3C960.3,749.8 968.2,754 974.9,758.2C981.5,762.5 990.3,769.1 994.2,771.8C998.1,774.5 995.4,772.3 998.1,774.4C1000.7,776.4 1007,781.3 1009.9,784.2C1012.9,787.2 1014.4,789.8 1015.6,792.1C1016.9,794.3 1017.2,796 1017.2,797.7C1017.3,799.3 1016.9,800.8 1016,802C1015.1,803.2 1013.8,804.1 1012.1,804.7C1010.4,805.3 1008.5,805.8 1005.7,805.6C1003,805.5 999.6,805.2 995.6,803.8C991.6,802.3 984.5,798.5 981.5,797C978.5,795.4 981.5,797.1 977.7,794.4C973.8,791.7 964.4,785.9 958.3,780.8C952.2,775.8 946.1,769.2 941.3,764.1C936.4,759.1 933.4,754.9 929.3,750.5C925.1,746.2 917.3,741.9 916.6,737.9C915.8,733.9 921.1,726.7 924.8,726.6Z" fill="url(#g36)" stroke="#7d5a40" stroke-width="1.1" stroke-opacity="0.9"/><path d="M947,756.3L946.8,765.1M956.2,760L965.9,755.2M962.2,768L961.4,777.6M971.6,771.4L979.9,768.6M977.8,779.2L976.6,789.4M987.4,782.4L995.6,779.5M993.7,789.9L993.1,799.2M1003.5,792.8L1013.4,787.7" fill="none" stroke="#a8583c" stroke-width="0.7" stroke-opacity="0.3"/><path d="M983.1,781L994.3,788.5M972.5,766.8L985.3,777.2M971.2,773.8L981.7,781" fill="none" stroke="#f3dcd6" stroke-width="1.1" stroke-linecap="round" stroke-opacity="0.6"/>
<path d="M940.7,751.5C944.4,751.5 949.7,759.1 954.5,762.4C959.4,765.8 963.8,768 969.7,771.6C975.6,775.1 983.3,779.5 989.9,783.8C996.4,788.1 1005.1,794.9 1008.9,797.6C1012.6,800.3 1009.9,798 1012.5,800.1C1015.1,802.2 1021.3,807.1 1024.2,810.1C1027.1,813.1 1028.6,815.8 1029.8,818.1C1031,820.3 1031.3,822.1 1031.3,823.7C1031.4,825.4 1030.9,826.8 1030,828C1029.1,829.2 1027.8,830.1 1026,830.7C1024.3,831.3 1022.4,831.7 1019.7,831.5C1016.9,831.2 1013.6,831 1009.6,829.5C1005.6,827.9 998.5,824 995.6,822.4C992.7,820.8 995.7,822.6 992,819.9C988.2,817.2 978.9,811.2 973,806.1C967,801 961.1,794.3 956.3,789.2C951.6,784.1 948.6,779.9 944.6,775.5C940.6,771.1 932.9,766.7 932.2,762.7C931.6,758.7 937,751.6 940.7,751.5Z" fill="url(#g37)" stroke="#7d5a40" stroke-width="1.1" stroke-opacity="0.9"/><path d="M962.2,781.5L961,791.3M971.3,785.3L980.6,781.3M977.1,793.4L975.7,803.5M986.4,796.9L995.2,793.6M992.4,804.8L991.4,814.3M1001.9,808L1011.7,803.4M1008.1,815.7L1006.9,825.4M1017.7,818.7L1026.2,815.8" fill="none" stroke="#a8583c" stroke-width="0.7" stroke-opacity="0.3"/><path d="M991.9,800.5L1003.3,809M991.4,799.2L998.8,805.2M985.9,792L994.5,799.6" fill="none" stroke="#f3dcd6" stroke-width="1.1" stroke-linecap="round" stroke-opacity="0.6"/>
<path d="M966.4,792.3C970.2,792.2 975.6,799.8 980.5,803.1C985.3,806.4 989.8,808.6 995.8,812.1C1001.7,815.6 1009.6,819.8 1016.2,824.1C1022.8,828.4 1031.6,835 1035.4,837.7C1039.2,840.4 1036.6,838.2 1039.2,840.3C1041.8,842.4 1048.1,847.2 1051,850.2C1053.9,853.2 1055.5,855.8 1056.7,858.1C1057.9,860.3 1058.2,862 1058.3,863.7C1058.3,865.4 1057.9,866.8 1057,868C1056.1,869.2 1054.8,870.1 1053.1,870.7C1051.4,871.3 1049.4,871.7 1046.7,871.6C1044,871.4 1040.6,871.1 1036.6,869.7C1032.6,868.2 1025.5,864.4 1022.5,862.8C1019.6,861.2 1022.6,862.9 1018.8,860.2C1014.9,857.6 1005.5,851.7 999.5,846.6C993.5,841.5 987.4,834.9 982.6,829.8C977.8,824.8 974.8,820.6 970.7,816.2C966.6,811.8 958.8,807.5 958.1,803.5C957.4,799.5 962.7,792.3 966.4,792.3Z" fill="url(#g38)" stroke="#7d5a40" stroke-width="1.1" stroke-opacity="0.9"/><path d="M988.4,822.1L988.1,830.8M997.5,825.8L1005.5,823.4M1003.5,833.8L1002.3,843.9M1012.8,837.3L1021.6,833.9M1019,845.1L1017.8,855.1M1028.5,848.3L1037.6,844.5M1034.8,855.8L1034.4,864.9M1044.6,858.8L1053.8,854.7" fill="none" stroke="#a8583c" stroke-width="0.7" stroke-opacity="0.3"/><path d="M1012.3,833.2L1020.6,840.2M1011.6,830.3L1023.6,840.4M1008.7,830.5L1020.6,840.3" fill="none" stroke="#f3dcd6" stroke-width="1.1" stroke-linecap="round" stroke-opacity="0.6"/>
<path d="M993.3,834.4C997,834.5 1001.8,842.3 1006.3,845.8C1010.9,849.3 1015.2,851.7 1020.8,855.5C1026.4,859.3 1033.8,863.9 1040,868.5C1046.2,873.1 1054.4,880.2 1057.9,883C1061.4,885.7 1058.6,883.1 1060.9,885.3C1063.3,887.4 1069.4,892.7 1072.1,895.9C1074.9,899 1076.2,901.8 1077.3,904.1C1078.4,906.4 1078.6,908.1 1078.5,909.8C1078.5,911.4 1077.9,912.9 1077,914C1076.1,915.1 1074.7,916 1072.9,916.5C1071.2,917 1069.2,917.3 1066.5,916.9C1063.8,916.6 1060.4,916.1 1056.5,914.4C1052.6,912.7 1045.7,908.4 1042.9,906.7C1040.1,905 1043.4,907.2 1039.9,904.4C1036.4,901.6 1027.5,895.2 1022,889.9C1016.4,884.6 1010.9,877.7 1006.5,872.5C1002.1,867.2 999.5,862.9 995.8,858.4C992.1,853.8 984.7,849.1 984.3,845.1C983.9,841.1 989.6,834.3 993.3,834.4Z" fill="url(#g39)" stroke="#7d5a40" stroke-width="1.1" stroke-opacity="0.9"/><path d="M1012.7,865L1011.1,874.8M1021.5,869.2L1030.2,866.6M1026.8,877.5L1024.5,887.9M1035.7,881.3L1045.4,877.6M1041.2,889.4L1038.8,900M1050.4,893L1058.9,890.7M1056.1,900.8L1054.4,910.6M1065.4,904.2L1075.5,900.1" fill="none" stroke="#a8583c" stroke-width="0.7" stroke-opacity="0.3"/><path d="M1062.4,894L1069.8,901.3M1048,889.6L1058.4,898.2M1035.6,877.4L1042,883.8" fill="none" stroke="#f3dcd6" stroke-width="1.1" stroke-linecap="round" stroke-opacity="0.6"/>
<path d="M1016.5,870.6C1020,871.1 1023.5,879.2 1027.5,883.2C1031.4,887.1 1035.2,889.9 1040.1,894.3C1045,898.6 1051.5,904.1 1056.8,909.3C1062.1,914.5 1069.2,922.5 1072.1,925.5C1075,928.5 1072,925 1074,927.4C1075.9,929.7 1081.3,935.9 1083.6,939.4C1085.9,942.9 1086.9,945.8 1087.6,948.2C1088.4,950.7 1088.4,952.4 1088.1,954C1087.8,955.7 1087.1,957 1086,958C1084.9,959 1083.4,959.7 1081.6,959.9C1079.8,960.1 1077.8,960.2 1075.2,959.5C1072.5,958.8 1069.3,957.9 1065.6,955.7C1062,953.4 1055.6,948 1053.2,946.1C1050.8,944.2 1054.2,947.3 1051.3,944.3C1048.5,941.2 1040.7,933.9 1036,928C1031.4,922.2 1027,914.9 1023.5,909.3C1020.1,903.6 1018.1,899.1 1015.2,894.2C1012.3,889.3 1005.9,883.9 1006.1,880C1006.3,876 1012.9,870 1016.5,870.6Z" fill="url(#g40)" stroke="#7d5a40" stroke-width="1.1" stroke-opacity="0.9"/><path d="M1030.8,902.7L1026.9,913M1038.7,907.8L1048.6,905.6M1042.6,916.5L1040.9,924.8M1050.7,921.3L1060.7,919M1054.8,929.8L1052.9,938.3M1063.2,934.4L1072.9,932.5M1067.6,942.7L1066.1,950.8M1076.2,947.1L1087,944.1" fill="none" stroke="#a8583c" stroke-width="0.7" stroke-opacity="0.3"/><path d="M1056.8,931.1L1068.6,942.7M1047.8,920L1058.7,931.7M1046.7,917.5L1052.5,924.2" fill="none" stroke="#f3dcd6" stroke-width="1.1" stroke-linecap="round" stroke-opacity="0.6"/>
<path d="M972.1,829.4C977.6,831.2 984.3,844.1 990.8,851.1C997.3,858.1 1003.2,863.6 1011.1,871.6C1019,879.5 1029.7,889.3 1038.1,898.9C1046.6,908.4 1056,921.6 1061.7,928.9C1067.5,936.2 1069.1,937.6 1072.7,942.7C1076.2,947.9 1080.7,954.9 1083,959.8C1085.3,964.7 1086.1,968.7 1086.6,972.1C1087.1,975.5 1086.8,977.8 1086.2,980C1085.6,982.1 1084.5,983.8 1083,985C1081.5,986.2 1079.6,986.8 1077.4,986.9C1075.1,987 1072.8,986.8 1069.6,985.5C1066.5,984.1 1062.7,982.5 1058.5,979.1C1054.3,975.7 1048.5,969.7 1044.4,965C1040.2,960.3 1039.2,958.4 1033.5,951.1C1027.7,943.8 1017.1,931.6 1009.9,921.1C1002.6,910.7 995.6,898 989.7,888.4C983.8,878.9 979.9,871.9 974.6,863.9C969.3,855.9 958.3,846.3 957.9,840.6C957.5,834.8 966.6,827.7 972.1,829.4Z" fill="url(#g41)" stroke="#7d5a40" stroke-width="1.1" stroke-opacity="0.9"/><path d="M999,881.1L992.9,892.2M1007.7,886.4L1019.7,883.3M1010.8,896.1L1004,907.8M1019.5,901.4L1030.7,898.9M1022.6,911.1L1017.5,921.5M1031.3,916.4L1042.9,913.6M1034.4,926.1L1028.2,937.4M1043.1,931.4L1052.9,930.1M1046.2,941.1L1042.4,950.4M1054.9,946.4L1067.3,943M1058,956.1L1052.5,966.8M1066.7,961.4L1078.4,958.6M1069.8,971.1L1065.6,980.7" fill="none" stroke="#a8583c" stroke-width="0.7" stroke-opacity="0.3"/><path d="M1027.7,909.5L1036.4,921.5M1028,902.2L1033.8,912.1M1041.4,928.7L1051.5,942.2" fill="none" stroke="#f3dcd6" stroke-width="1.1" stroke-linecap="round" stroke-opacity="0.6"/>
<path d="M972.7,830.4C978.1,833 983.6,847.4 989.4,855.6C995.3,863.9 1000.6,870.5 1007.8,879.9C1015,889.4 1024.9,901.1 1032.4,912.2C1040,923.4 1048,938.1 1053.2,946.8C1058.5,955.6 1060.9,958.8 1064,964.8C1067.2,970.8 1070.5,977.9 1072.2,983C1073.9,988.1 1074.1,992.2 1074.2,995.6C1074.3,999 1073.7,1001.3 1072.8,1003.4C1071.9,1005.5 1070.6,1007 1069,1008C1067.4,1009 1065.4,1009.4 1063.2,1009.2C1060.9,1009 1058.6,1008.5 1055.7,1006.8C1052.7,1005.1 1049.2,1003 1045.4,999.1C1041.7,995.2 1037,988.9 1033.2,983.3C1029.3,977.7 1027.6,974.1 1022.4,965.4C1017.1,956.6 1007.9,942.7 1001.6,930.8C995.3,918.9 989.6,904.6 984.6,893.9C979.6,883.1 976.3,875.3 971.8,866.3C967.2,857.2 957.1,845.6 957.3,839.6C957.4,833.7 967.4,827.7 972.7,830.4Z" fill="url(#g42)" stroke="#7d5a40" stroke-width="1.1" stroke-opacity="0.9"/><path d="M994.7,887.8L988.9,897.1M1002.6,894L1015.5,892M1004.3,903.9L996.8,914.3M1012.2,910.1L1023,909.5M1014,920L1007,930M1021.9,926.1L1033.1,925.3M1023.6,936L1016.9,945.9M1031.5,942.2L1044.7,940.1M1033.3,952.1L1027.6,961.3M1041.2,958.3L1054.5,956.1M1042.9,968.1L1036.6,977.8M1050.9,974.3L1063.4,972.6M1052.6,984.2L1044.4,995M1060.5,990.4L1072.7,988.9" fill="none" stroke="#a8583c" stroke-width="0.7" stroke-opacity="0.3"/><path d="M1039.7,943.6L1045,955.5M1012.7,917.2L1018.1,925.5M1036.5,934.4L1042.1,947.6" fill="none" stroke="#f3dcd6" stroke-width="1.1" stroke-linecap="round" stroke-opacity="0.6"/>
<path d="M973.4,831.7C978.3,835.4 981.7,851.1 986.3,860.6C990.9,870.1 995.1,877.9 1000.9,888.8C1006.6,899.8 1014.8,913.6 1020.7,926.3C1026.6,939.1 1032.3,955.3 1036.3,965.5C1040.4,975.7 1042.8,980.7 1045.1,987.6C1047.4,994.4 1049.3,1001.5 1050.2,1006.8C1051,1012.2 1050.6,1016.3 1050.1,1019.6C1049.7,1023 1048.7,1025.2 1047.5,1027.1C1046.3,1029 1044.7,1030.3 1043,1031C1041.3,1031.7 1039.2,1031.8 1037,1031.2C1034.9,1030.7 1032.7,1029.8 1030,1027.6C1027.4,1025.5 1024.3,1022.8 1021.2,1018.4C1018.1,1013.9 1014.7,1007.4 1011.6,1000.9C1008.6,994.3 1006.9,989.1 1002.9,978.9C998.8,968.7 991.8,953 987.3,939.7C982.8,926.3 979.3,910.7 975.9,898.8C972.6,886.9 970.3,878.3 967.1,868.2C963.9,858.1 955.6,844.4 956.6,838.3C957.7,832.2 968.4,828 973.4,831.7Z" fill="url(#g43)" stroke="#7d5a40" stroke-width="1.1" stroke-opacity="0.9"/><path d="M986.7,894.5L978.3,903.2M993.5,901.6L1004,902.8M993.5,911.5L984.5,920.4M1000.2,918.6L1010.6,919.8M1000.2,928.4L991.7,937.2M1007,935.6L1018.9,936.2M1007,945.4L999.8,953.7M1013.7,952.6L1023.4,954.1M1013.8,962.4L1007.4,970.3M1020.5,969.6L1032.5,970.2M1020.5,979.4L1012.9,987.8M1027.3,986.6L1037.2,988M1027.3,996.4L1019.3,1005M1034,1003.5L1044.7,1004.7M1034,1013.4L1025.7,1022.1" fill="none" stroke="#a8583c" stroke-width="0.7" stroke-opacity="0.3"/><path d="M1015.2,948.8L1017.7,957.7M1004.5,925.9L1010.6,942.8M1017.8,958.6L1023.7,975.4" fill="none" stroke="#f3dcd6" stroke-width="1.1" stroke-linecap="round" stroke-opacity="0.6"/>
<path d="M973.8,832.9C978.1,837.3 979.1,853.1 982.2,863.1C985.3,873.1 988.5,881.3 992.5,892.8C996.5,904.3 1002.6,919 1006.5,932.4C1010.5,945.7 1013.6,962.5 1016.1,973C1018.6,983.5 1020.2,988.3 1021.4,995.3C1022.7,1002.4 1023.6,1009.7 1023.6,1015.1C1023.7,1020.6 1022.6,1024.5 1021.7,1027.8C1020.8,1031.1 1019.5,1033.1 1018,1034.8C1016.6,1036.5 1014.8,1037.6 1013,1038C1011.2,1038.4 1009.1,1038.2 1007.1,1037.4C1005,1036.5 1003,1035.3 1000.7,1032.8C998.4,1030.3 995.7,1027.2 993.3,1022.3C990.9,1017.5 988.4,1010.5 986.4,1003.6C984.3,996.8 983.6,991.7 981.1,981.2C978.6,970.7 973.9,954.3 971.5,940.6C969,926.9 967.9,911.1 966.3,899C964.7,886.9 963.9,878.1 962.2,867.8C960.5,857.5 954.3,842.9 956.2,837.1C958.2,831.3 969.4,828.6 973.8,832.9Z" fill="url(#g44)" stroke="#7d5a40" stroke-width="1.1" stroke-opacity="0.9"/><path d="M977.6,896.3L969.9,903.3M983.2,904.3L994.7,906.7M981.8,913.9L973.5,921M987.4,921.9L997.1,924.7M986,931.5L976.7,938.8M991.6,939.5L1001.4,942.3M990.1,949.1L979.8,956.7M995.7,957.1L1008.9,959.1M994.3,966.7L986.9,973.6M999.9,974.7L1011.3,977.1M998.4,984.3L987.8,991.9M1004,992.2L1016.3,994.5M1002.6,1001.9L991.6,1009.6M1008.2,1009.8L1021.4,1011.9M1006.8,1019.5L996,1027.2" fill="none" stroke="#a8583c" stroke-width="0.7" stroke-opacity="0.3"/><path d="M1001.2,949.9L1003.5,967.1M1004.6,977.1L1007.1,992.5M1002.9,977.3L1004.4,987.1" fill="none" stroke="#f3dcd6" stroke-width="1.1" stroke-linecap="round" stroke-opacity="0.6"/>
<path d="M973.9,834C977.7,838.6 976.6,853.6 978.4,863.3C980.2,873 982.3,881.1 984.8,892.4C987.3,903.7 991.3,918.1 993.4,931.1C995.5,944.1 996.6,960.5 997.6,970.3C998.6,980.1 999.4,983.1 999.7,989.7C1000,996.3 1000,1004.3 999.4,1009.7C998.8,1015 997.2,1018.8 995.9,1022C994.6,1025.1 993,1026.9 991.4,1028.4C989.7,1029.9 987.9,1030.8 986,1031C984.1,1031.2 982.1,1030.8 980.2,1029.6C978.3,1028.5 976.4,1027.1 974.4,1024.3C972.4,1021.5 970.1,1018.1 968.4,1013C966.6,1007.9 965,1000 963.9,993.5C962.8,987.1 962.8,983.9 961.8,974.1C960.8,964.3 958.3,948.1 957.6,934.9C956.9,921.8 957.8,906.8 957.8,895.2C957.9,883.7 958.2,875.4 957.9,865.5C957.6,855.6 953.4,841.2 956.1,836C958.7,830.7 970.2,829.5 973.9,834Z" fill="url(#g45)" stroke="#7d5a40" stroke-width="1.1" stroke-opacity="0.9"/><path d="M969.5,894L961,899.9M974.1,902.7L984.3,906.6M971.5,912.2L962.4,918.2M976,920.9L987,924.8M973.4,930.4L962.6,936.6M978,939.1L990.4,942.8M975.4,948.6L965.7,954.7M979.9,957.3L992.3,961M977.3,966.8L969.1,972.7M981.9,975.5L994.4,979.2M979.3,985L969.9,991M983.8,993.7L996.8,997.3M981.2,1003.2L970.6,1009.4M985.8,1011.9L994.6,1016" fill="none" stroke="#a8583c" stroke-width="0.7" stroke-opacity="0.3"/><path d="M986.7,947.2L986.1,960.1M979.1,969.8L980.7,984M980.5,978.7L981.8,991" fill="none" stroke="#f3dcd6" stroke-width="1.1" stroke-linecap="round" stroke-opacity="0.6"/>
<path d="M974,835.5C977,840 973.7,853.1 974,861.9C974.4,870.8 975.3,878.2 976.1,888.5C976.8,898.8 978.4,912.2 978.5,923.9C978.6,935.7 977.1,951 976.7,959.1C976.3,967.2 976.7,966.9 976,972.4C975.3,977.9 974,986.8 972.6,992C971.1,997.2 969,1000.8 967.2,1003.6C965.4,1006.5 963.6,1008.1 961.7,1009.3C959.8,1010.5 957.9,1011.1 956,1011C954.1,1010.9 952.2,1010.1 950.5,1008.7C948.8,1007.3 947.1,1005.6 945.6,1002.5C944.1,999.5 942.4,995.8 941.4,990.4C940.5,985.1 940.2,976.1 940,970.5C939.9,965 940.3,965.4 940.7,957.3C941.1,949.2 941.2,933.8 942.5,922.1C943.8,910.4 946.7,897.3 948.5,887.1C950.3,876.9 952,869.6 953.3,860.9C954.5,852.1 952.6,838.8 956,834.5C959.5,830.3 971,830.9 974,835.5Z" fill="url(#g46)" stroke="#7d5a40" stroke-width="1.1" stroke-opacity="0.9"/><path d="M960.5,887.7L949.5,892.2M963.6,897.4L971.7,902.8M959.5,906.8L949.5,911.3M962.6,916.5L971.1,921.9M958.6,925.8L948.3,930.3M961.7,935.6L970,941M957.6,944.9L948,949.4M960.7,954.6L972.8,960.2M956.6,964L946.7,968.5M959.7,973.7L968.1,979.1M955.6,983L945.7,987.5M958.7,992.8L970.5,998.4" fill="none" stroke="#a8583c" stroke-width="0.7" stroke-opacity="0.3"/><path d="M957.5,963.1L957.2,972.1M964.5,957.8L962.6,973.1M958.4,964.4L957.9,974.7" fill="none" stroke="#f3dcd6" stroke-width="1.1" stroke-linecap="round" stroke-opacity="0.6"/>
<path d="M871.5,717.9C876,723.6 879.5,743.1 883.6,755.7C887.8,768.3 891.5,778.8 896.3,793.4C901.2,808.1 908.2,826.8 912.8,843.8C917.4,860.8 920.6,879.4 923.8,895.4C927,911.4 930.4,929.5 931.8,939.8C933.3,950.1 932.8,952.4 932.5,957.1C932.2,961.9 931.1,965.3 930.1,968.2C929.1,971 927.8,972.8 926.5,974.2C925.1,975.7 923.6,976.6 922,977C920.4,977.4 918.7,977.2 917,976.4C915.3,975.6 913.7,974.5 911.9,972.3C910.1,970.1 908.1,967.3 906.3,963.1C904.6,958.8 903.7,956.8 901.6,946.7C899.4,936.5 896.7,918.3 893.6,902.3C890.4,886.3 886.1,867.9 882.9,850.6C879.7,833.3 877.3,813.5 874.6,798.4C871.8,783.2 869.6,772.4 866.6,759.6C863.6,746.7 855.5,728.3 856.4,721.3C857.2,714.4 866.9,712.2 871.5,717.9Z" fill="url(#g47)" stroke="#7d5a40" stroke-width="1.1" stroke-opacity="0.9"/><path d="M883.9,796.2L877.7,802.8M889.2,804.3L898.2,807.4M888.3,813.7L882.3,820.2M893.5,821.8L903.5,824.7M892.6,831.3L886.2,837.9M897.7,839.4L907.4,842.3M896.6,848.9L889,855.7M901.6,857L910.4,860.2M900.5,866.5L894.3,873.1M905.4,874.7L914.4,877.8M904.2,884.2L895.3,891.3M909,892.4L917.5,895.6M907.7,901.9L898.3,909.2M912.4,910.1L920.3,913.5M911,919.7L902.2,926.8M915.6,927.9L924.2,931.1M914.1,937.5L905.5,944.6M918.7,945.7L927.1,948.9M917.1,955.3L909.3,962.2" fill="none" stroke="#a8583c" stroke-width="0.7" stroke-opacity="0.3"/><path d="M908.5,879.8L911.3,897.4M912.9,874.7L913.6,887.2M908.4,868.8L910.9,886.6" fill="none" stroke="#f3dcd6" stroke-width="1.1" stroke-linecap="round" stroke-opacity="0.6"/>
<path d="M845.5,680.9C850,686.6 853.5,706.1 857.6,718.7C861.8,731.3 865.5,741.8 870.3,756.4C875.2,771.1 882.2,789.8 886.8,806.8C891.4,823.8 894.6,842.4 897.8,858.4C901,874.4 904.4,892.5 905.8,902.8C907.3,913.1 906.8,915.4 906.5,920.1C906.2,924.9 905.1,928.3 904.1,931.2C903.1,934 901.8,935.8 900.5,937.2C899.1,938.7 897.6,939.6 896,940C894.4,940.4 892.7,940.2 891,939.4C889.3,938.6 887.7,937.5 885.9,935.3C884.1,933.1 882.1,930.3 880.3,926.1C878.6,921.8 877.7,919.8 875.6,909.7C873.4,899.5 870.7,881.3 867.6,865.3C864.4,849.3 860.1,830.9 856.9,813.6C853.7,796.3 851.3,776.5 848.6,761.4C845.8,746.2 843.6,735.4 840.6,722.6C837.6,709.7 829.5,691.3 830.4,684.3C831.2,677.4 840.9,675.2 845.5,680.9Z" fill="url(#g48)" stroke="#7d5a40" stroke-width="1.1" stroke-opacity="0.9"/><path d="M857.9,759.2L851.5,765.8M863.2,767.3L874.6,769.9M862.3,776.7L854.4,783.7M867.5,784.8L876.9,787.8M866.6,794.3L858.5,801.3M871.7,802.4L881.4,805.3M870.6,811.9L863.4,818.7M875.6,820L884.5,823.1M874.5,829.5L866.2,836.5M879.4,837.7L889.8,840.5M878.2,847.2L869.1,854.4M883,855.4L892.3,858.4M881.7,864.9L873.5,871.9M886.4,873.1L895.8,876.1M885,882.7L877.9,889.4M889.6,890.9L898.8,893.9M888.1,900.5L878.7,907.7M892.7,908.7L902.5,911.6M891.1,918.3L884.8,924.9" fill="none" stroke="#a8583c" stroke-width="0.7" stroke-opacity="0.3"/><path d="M890.3,859.5L890.5,868.9M891.5,866.2L891.9,877.1M892.2,868.7L892.4,878.8" fill="none" stroke="#f3dcd6" stroke-width="1.1" stroke-linecap="round" stroke-opacity="0.6"/>
<path d="M818.5,640.9C823,646.6 826.5,666.1 830.6,678.7C834.8,691.3 838.5,701.8 843.3,716.4C848.2,731.1 855.2,749.8 859.8,766.8C864.4,783.8 867.6,802.4 870.8,818.4C874,834.4 877.4,852.5 878.8,862.8C880.3,873.1 879.8,875.4 879.5,880.1C879.2,884.9 878.1,888.3 877.1,891.2C876.1,894 874.8,895.8 873.5,897.2C872.1,898.7 870.6,899.6 869,900C867.4,900.4 865.7,900.2 864,899.4C862.3,898.6 860.7,897.5 858.9,895.3C857.1,893.1 855.1,890.3 853.3,886.1C851.6,881.8 850.7,879.8 848.6,869.7C846.4,859.5 843.7,841.3 840.6,825.3C837.4,809.3 833.1,790.9 829.9,773.6C826.7,756.3 824.3,736.5 821.6,721.4C818.8,706.2 816.6,695.4 813.6,682.6C810.6,669.7 802.5,651.3 803.4,644.3C804.2,637.4 813.9,635.2 818.5,640.9Z" fill="url(#g49)" stroke="#7d5a40" stroke-width="1.1" stroke-opacity="0.9"/><path d="M830.9,719.2L825.1,725.7M836.2,727.3L846.2,730.2M835.3,736.7L826.2,743.9M840.5,744.8L851.2,747.6M839.6,754.3L832,761.1M844.7,762.4L854,765.4M843.6,771.9L836.3,778.7M848.6,780L857.3,783.2M847.5,789.5L840.4,796.3M852.4,797.7L863.4,800.3M851.2,807.2L842.9,814.2M856,815.4L866,818.2M854.7,824.9L847.2,831.7M859.4,833.1L868.4,836.2M858,842.7L850.7,849.5M862.6,850.9L871.5,854M861.1,860.5L852.3,867.6M865.7,868.7L873.8,872M864.1,878.3L857.3,885" fill="none" stroke="#a8583c" stroke-width="0.7" stroke-opacity="0.3"/><path d="M845.5,771.4L847.5,780.6M857.4,789.8L858,800.4M850.8,801.5L854,816.4" fill="none" stroke="#f3dcd6" stroke-width="1.1" stroke-linecap="round" stroke-opacity="0.6"/>
<path d="M785.5,583.9C790,589.6 793.5,609.1 797.6,621.7C801.8,634.3 805.5,644.8 810.3,659.4C815.2,674.1 822.2,692.8 826.8,709.8C831.4,726.8 834.6,745.4 837.8,761.4C841,777.4 844.4,795.5 845.8,805.8C847.3,816.1 846.8,818.4 846.5,823.1C846.2,827.9 845.1,831.3 844.1,834.2C843.1,837 841.8,838.8 840.5,840.2C839.1,841.7 837.6,842.6 836,843C834.4,843.4 832.7,843.2 831,842.4C829.3,841.6 827.7,840.5 825.9,838.3C824.1,836.1 822.1,833.3 820.3,829.1C818.6,824.8 817.7,822.8 815.6,812.7C813.4,802.5 810.7,784.3 807.6,768.3C804.4,752.3 800.1,733.9 796.9,716.6C793.7,699.3 791.3,679.5 788.6,664.4C785.8,649.2 783.6,638.4 780.6,625.6C777.6,612.7 769.5,594.3 770.4,587.3C771.2,580.4 780.9,578.2 785.5,583.9Z" fill="url(#g50)" stroke="#7d5a40" stroke-width="1.1" stroke-opacity="0.9"/><path d="M797.9,662.2L791.9,668.7M803.2,670.3L814.2,673M802.3,679.7L795.9,686.3M807.5,687.8L817,690.8M806.6,697.3L797.3,704.5M811.7,705.4L820.7,708.5M810.6,714.9L803.6,721.6M815.6,723L823.8,726.3M814.5,732.5L806.5,739.5M819.4,740.7L829.1,743.6M818.2,750.2L809.1,757.4M823,758.4L831.6,761.6M821.7,767.9L813.9,774.8M826.4,776.1L837.2,778.8M825,785.7L816.5,792.7M829.6,793.9L840.6,796.5M828.1,803.5L820.4,810.4M832.7,811.7L843.6,814.4M831.1,821.3L823.1,828.3" fill="none" stroke="#a8583c" stroke-width="0.7" stroke-opacity="0.3"/><path d="M818.4,740.1L821.5,755.8M809.9,707L812.7,718.7M816.2,728.1L819.6,745.1" fill="none" stroke="#f3dcd6" stroke-width="1.1" stroke-linecap="round" stroke-opacity="0.6"/>
<path d="M765,539.5C769.5,544.8 772.7,563.2 776.6,575C780.6,586.8 784.2,596.6 788.8,610.3C793.5,624.1 800.3,641.6 804.6,657.6C809,673.6 812,691.4 814.8,706.1C817.7,720.8 820.6,736.3 821.9,745.8C823.2,755.3 822.9,758.4 822.6,763.1C822.3,767.9 821.1,771.3 820.1,774.2C819.1,777 817.8,778.8 816.5,780.2C815.1,781.7 813.6,782.6 812,783C810.4,783.4 808.7,783.2 807,782.4C805.4,781.6 803.7,780.5 801.9,778.3C800.2,776.1 798.1,773.3 796.4,769C794.7,764.8 793.7,762 791.7,752.6C789.7,743.3 787.5,727.7 784.6,712.9C781.8,698.2 777.5,680.7 774.6,664.4C771.6,648.1 769.5,629.5 767,615.3C764.5,601 762.4,590.9 759.6,578.8C756.7,566.8 749,549.5 749.9,542.9C750.8,536.3 760.5,534.1 765,539.5Z" fill="url(#g51)" stroke="#7d5a40" stroke-width="1.1" stroke-opacity="0.9"/><path d="M776.4,613.2L767.2,620.4M781.8,621.7L790,624.9M781,631.5L773.4,638.4M786.3,640.1L795.3,643.2M785.5,650L776.3,657.2M790.6,658.5L800,661.5M789.7,668.5L782.9,675.1M794.7,677L804.3,680M793.6,687L786.1,693.8M798.6,695.6L807.7,698.7M797.4,705.6L788.4,712.7M802.2,714.2L813.3,716.8M800.9,724.2L791.9,731.4M805.6,732.9L813.6,736.2M804.2,742.9L796.5,749.8M808.8,751.6L816.8,754.9M807.2,761.7L798.1,768.8" fill="none" stroke="#a8583c" stroke-width="0.7" stroke-opacity="0.3"/><path d="M793.5,684.6L796.4,697.6M787.5,652.3L789.5,661M806.9,699.8L806.9,709.5" fill="none" stroke="#f3dcd6" stroke-width="1.1" stroke-linecap="round" stroke-opacity="0.6"/>
<path d="M759.2,529.8C763.5,534.5 766.2,550.7 769.9,561.2C773.6,571.6 777,580.3 781.3,592.4C785.6,604.6 791.9,620.1 795.8,634.2C799.7,648.4 802.3,664.9 804.7,677.3C807.1,689.7 809.2,700.6 810.2,708.7C811.2,716.9 811.1,721.4 810.7,726.1C810.4,730.8 809.2,734.3 808.2,737.2C807.1,740 805.9,741.8 804.5,743.2C803.1,744.7 801.6,745.6 800,746C798.4,746.4 796.7,746.2 795.1,745.4C793.4,744.6 791.8,743.5 790,741.3C788.3,739 786.2,736.3 784.5,732C782.9,727.7 781.6,723.5 779.9,715.6C778.2,707.6 776.9,696.6 774.5,684.1C772.1,671.7 768.1,655.5 765.6,641.1C763,626.6 761.3,610.1 759.2,597.4C757,584.8 755.3,575.7 752.8,565C750.3,554.3 743,539.1 744,533.2C745.1,527.3 754.8,525.1 759.2,529.8Z" fill="url(#g52)" stroke="#7d5a40" stroke-width="1.1" stroke-opacity="0.9"/><path d="M768.7,595.3L762.5,601.8M774.1,603.8L783.7,606.8M773.4,613.7L764.3,620.9M778.7,622.3L789.4,625M777.9,632.3L771.4,638.9M783,640.9L792.8,643.8M782,650.9L775.3,657.5M787,659.5L795.7,662.7M785.8,669.5L777,676.7M790.7,678.2L800.1,681.2M789.4,688.3L781.9,695.1M794.1,697L805.2,699.6M792.7,707.1L785.1,713.9M797.2,715.8L808.4,718.4M795.6,725.9L787.2,733" fill="none" stroke="#a8583c" stroke-width="0.7" stroke-opacity="0.3"/><path d="M782.3,633.2L785.2,648.9M791.5,682.9L792.9,692.2M791.5,698.7L793.6,709.7" fill="none" stroke="#f3dcd6" stroke-width="1.1" stroke-linecap="round" stroke-opacity="0.6"/>
<path d="M754.1,518.9C758.2,522.7 760.4,536.3 763.7,545C767,553.7 770.2,560.8 774,571C777.9,581.1 783.4,594 786.8,605.8C790.1,617.6 792.3,632.4 794.1,641.8C795.9,651.3 796.9,656.3 797.6,662.7C798.2,669 798.4,675.3 798,680C797.6,684.8 796.3,688.3 795.3,691.1C794.2,694 792.9,695.8 791.5,697.2C790.1,698.7 788.6,699.6 787,700C785.4,700.4 783.7,700.2 782.1,699.4C780.4,698.6 778.8,697.5 777.1,695.2C775.4,693 773.4,690.2 771.8,686C770.2,681.7 768.6,675.7 767.3,669.5C766,663.3 765.6,658.1 763.8,648.7C762,639.2 758.6,624.7 756.5,612.6C754.5,600.5 753.2,586.7 751.5,576C749.8,565.4 748.5,557.9 746.4,548.9C744.4,539.9 737.7,527.3 739,522.3C740.2,517.3 750,515.1 754.1,518.9Z" fill="url(#g53)" stroke="#7d5a40" stroke-width="1.1" stroke-opacity="0.9"/><path d="M761.2,573.8L752.5,580.9M766.6,582L776.8,584.9M765.9,591.6L759,598.3M771.1,599.9L779.9,603M770.1,609.5L764.3,616M775.1,617.8L783.7,621M774,627.5L764.4,634.8M778.8,635.9L788.8,638.7M777.4,645.6L770.1,652.4M782.1,654L793.1,656.6M780.5,663.8L773.3,670.5M784.9,672.2L794.5,675.2M783.2,682L776.7,688.6" fill="none" stroke="#a8583c" stroke-width="0.7" stroke-opacity="0.3"/><path d="M775.7,612.1L777.9,626M785.1,647.6L786,659.3M770.3,602.7L773.1,614.9" fill="none" stroke="#f3dcd6" stroke-width="1.1" stroke-linecap="round" stroke-opacity="0.6"/>
<path d="M746.3,510.3C750.2,513.1 751.7,523.9 754.7,530.6C757.6,537.4 760.6,542.9 763.9,550.8C767.2,558.7 771.7,568.8 774.4,578.1C777,587.3 778.7,600.2 779.8,606.4C781,612.7 781,611.1 781.3,615.6C781.5,620 781.9,628.2 781.4,633C781,637.8 779.6,641.3 778.5,644.1C777.3,647 776,648.8 774.6,650.2C773.2,651.7 771.6,652.7 770,653C768.4,653.3 766.7,653.1 765.1,652.3C763.5,651.5 762,650.4 760.3,648.2C758.7,645.9 756.8,643.1 755.2,638.8C753.7,634.5 751.9,626.6 751,622.3C750.1,618 750.7,619.4 749.6,613.1C748.4,606.9 745.6,594.3 744.1,584.8C742.6,575.2 741.7,564.4 740.5,556C739.3,547.6 738.7,541.6 737.1,534.5C735.6,527.5 729.6,517.7 731.2,513.7C732.7,509.6 742.4,507.5 746.3,510.3Z" fill="url(#g54)" stroke="#7d5a40" stroke-width="1.1" stroke-opacity="0.9"/><path d="M750.7,553.7L742,560.8M756.2,562.1L766.2,565M755.4,571.9L747.7,578.7M760.6,580.4L769.3,583.6M759.5,590.2L751.2,597.2M764.4,598.8L773.8,601.8M763,608.7L755.8,615.4M767.5,617.3L778.1,620.1M765.7,627.3L759.2,633.9M769.9,636L777.4,639.5" fill="none" stroke="#a8583c" stroke-width="0.7" stroke-opacity="0.3"/><path d="M765.4,610.9L766.7,620.1M768.5,592.3L770.3,610.1M767.1,607.9L768.4,619.9" fill="none" stroke="#f3dcd6" stroke-width="1.1" stroke-linecap="round" stroke-opacity="0.6"/>
<path d="M739.6,510.3C743.3,512 744.3,519.3 746.9,523.7C749.5,528.1 752.8,531.5 755.4,536.7C758,542 760.9,549.6 762.5,555.1C764.2,560.5 764.7,566.2 765.2,569.4C765.8,572.6 765.8,571.4 765.8,574.3C765.8,577.2 765.9,582.9 765.3,586.8C764.6,590.8 763.1,595.2 761.9,598.1C760.6,601 759.2,602.7 757.7,604.2C756.2,605.7 754.6,606.7 753,607C751.4,607.3 749.8,607.1 748.2,606.3C746.7,605.5 745.3,604.3 743.7,602.1C742.2,599.8 740.4,596.1 739,592.6C737.7,589.1 736.5,583.7 735.8,580.9C735.2,578.1 735.6,579.2 735,576.1C734.4,572.9 733.2,567.4 732.3,561.8C731.4,556.2 730.1,548.1 729.5,542.4C728.9,536.8 729.3,532.5 728.5,527.7C727.6,522.9 722.6,516.6 724.5,513.7C726.3,510.8 735.9,508.7 739.6,510.3Z" fill="url(#g55)" stroke="#7d5a40" stroke-width="1.1" stroke-opacity="0.9"/><path d="M740.9,539.9L732.5,546.9M746.4,548L757.6,550.6M745.6,557.4L738,564.2M750.4,565.6L759.1,568.8M748.9,575.2L742.4,581.7M753.1,583.5L763.1,586.4M750.9,593.2L744,599.9" fill="none" stroke="#a8583c" stroke-width="0.7" stroke-opacity="0.3"/><path d="M754.8,568.6L755.9,584.6M753.8,574.6L754.7,588.6M753.7,563.8L755.3,581.1" fill="none" stroke="#f3dcd6" stroke-width="1.1" stroke-linecap="round" stroke-opacity="0.6"/>
<path d="M736,510.4C739.9,511 741.9,514.8 744.4,517.1C746.9,519.3 749.8,522.2 751.2,524.1C752.5,526 752.2,526.6 752.6,528.4C753.1,530.2 753.8,531.9 754,534.8C754.2,537.6 753.8,543.7 753.7,545.6C753.7,547.5 754.3,544.3 753.6,546.1C753,548 751.2,554.1 749.8,556.9C748.3,559.8 746.6,561.7 745,563.2C743.3,564.7 741.6,565.7 740,566C738.4,566.3 736.9,566.1 735.5,565.2C734.1,564.4 732.9,563.1 731.6,560.8C730.3,558.6 728.3,553.3 727.6,551.7C727,550.1 728,553 727.5,551.2C726.9,549.5 725.1,543.9 724.2,541.1C723.4,538.4 722.9,536.7 722.3,534.9C721.8,533.1 721.1,532.7 720.9,530.6C720.6,528.4 721,524.9 721,522.1C721,519.2 718.4,515.6 720.9,513.6C723.4,511.7 732.1,509.8 736,510.4Z" fill="url(#g56)" stroke="#7d5a40" stroke-width="1.1" stroke-opacity="0.9"/><path d="M734.5,527.6L726.3,534.5M740.8,538.5L750.4,541.6M739.2,551.1L732,557.8" fill="none" stroke="#a8583c" stroke-width="0.7" stroke-opacity="0.3"/><path d="M745.2,550.5L743.7,564M745,553L743.5,564.1M739.3,542.7L740.3,553.6" fill="none" stroke="#f3dcd6" stroke-width="1.1" stroke-linecap="round" stroke-opacity="0.6"/>
<path d="M737,503C730,507.7 741.7,520.2 745,528C748.3,535.8 752.3,541.8 757,550C761.7,558.2 767.5,568.7 773,577C778.5,585.3 784.2,591.2 790,600C795.8,608.8 801.8,620 808,630C814.2,640 818.8,646.2 827,660C835.2,673.8 848.2,698.5 857,713C865.8,727.5 873.3,736.7 880,747C886.7,757.3 891.7,766.2 897,775C902.3,783.8 905.7,792 912,800C918.3,808 927.7,816.3 935,823C942.3,829.7 949.2,835 956,840C962.8,845 971.3,851.7 976,853C980.7,854.3 981.8,851.3 984,848C986.2,844.7 989.3,841 989,833C988.7,825 986.5,813.8 982,800C977.5,786.2 969.7,766.7 962,750C954.3,733.3 945.5,715.8 936,700C926.5,684.2 915.5,669.5 905,655C894.5,640.5 882.2,626 873,613C863.8,600 857.7,588.7 850,577C842.3,565.3 834.5,552.5 827,543C819.5,533.5 811.7,527.2 805,520C798.3,512.8 798.3,502.8 787,500C775.7,497.2 744,498.3 737,503Z" fill="#bfac85" stroke="#8c7650" stroke-width="1" stroke-opacity="0.7"/>
<g clip-path="url(#cstrip)"><path d="M925.3,805.4L931.7,814.1M883.2,716.2L885.9,721.8M947.7,755.4L949.7,761.9M964.4,773.3L969.3,778.7M833.6,648.8L837.2,658.2M887,662.7L892.7,671.9M975.9,786.9L979.6,796.3M900.8,766.2L905.5,774.7M951.7,754.9L956.1,760.6M797.7,518.4L802.2,524.2M802,598.9L808.2,606.2M892.2,748L898.8,755.6" stroke="#a9956b" stroke-width="1.1" stroke-opacity="0.5" fill="none" stroke-linecap="round"/><path d="M917.8,706.6L920.8,713.8M767.9,565.8L771.5,571.9M779.7,580L785,586.5M901.5,776.8L905.2,782.9M825.6,563.1L829.3,571.3M782.7,554.8L788.4,562.6M777.8,518.5L779.6,524.4M795.3,538.9L800,545.2" stroke="#a9956b" stroke-width="0.7" stroke-opacity="0.5" fill="none" stroke-linecap="round"/><path d="M879.4,668.9L883.6,675.1M872.6,641.1L876.6,647.2M976.3,818.7L981.5,824.5M922.5,733.1L925.7,738.5M874.5,677.7L876.8,683.6M923,780.2L927.9,785.5M895.1,751.1L898.2,757M806.7,562.8L811.7,569M896,763.8L901.7,771.7M849.5,631.1L854.1,638M873.3,725L876.5,731.3M932.3,751.7L939,759.1M773.9,526.2L778.9,533.1M836.6,583L840.5,592.5M852.7,599.3L857.8,605.5M836,585.9L841.3,592.9M897.8,663.7L900.6,669.9M971.2,807.3L977.2,815.1M916.5,705.2L920.6,712M877.6,687.5L881.6,697.7M924,811.8L928.6,820.8M899.1,756L903.5,761.6" stroke="#a9956b" stroke-width="1" stroke-opacity="0.5" fill="none" stroke-linecap="round"/><path d="M906.2,677.8L910.2,687.1M923.4,786.5L927.6,795.7M811.6,547.2L817.3,553.3M843.2,578L846.7,584.2M905.2,765.1L907.8,770.7M900.4,749.3L903.1,754.6M897.5,668.3L903.4,674.4M915.3,797.7L920.9,804.2M956.5,821.3L961.1,826.9M785,587.9L788.4,594.9" stroke="#d4c8a6" stroke-width="1" stroke-opacity="0.5" fill="none" stroke-linecap="round"/><path d="M910.2,781.7L917.4,789.2M965,843.6L969.4,848.2M791,581.9L792.8,588M891.4,643.1L896,649.6M752.7,540.3L756.6,545.4M851,683.5L857.9,691.2M966,812.4L970.4,817.1M818.8,615.6L821.6,624.7M782,547.5L786.4,556.7M908,749.9L912.5,756.4M947.4,730.1L949.8,737.1" stroke="#cfc19c" stroke-width="0.8" stroke-opacity="0.5" fill="none" stroke-linecap="round"/><path d="M912.5,785.8L918.3,794.5M873.9,645.3L880.1,653.9M749.1,528.4L753.8,535.9M948.9,782.9L953.3,790.6M809.1,547.2L811.8,554.6M943,808.1L947.1,813.3M796.5,591.2L799.2,599.6M860.7,611.3L863.1,619.2M762.3,528.5L766.4,536.4M771.9,564.6L776.4,570.4M803.4,545.4L807.7,552.3" stroke="#b3a077" stroke-width="1.2" stroke-opacity="0.5" fill="none" stroke-linecap="round"/><path d="M921.2,691.9L926.6,700.6M923.7,773.6L926.2,781.5M931.2,718.1L936.4,723.9M939.2,769.9L944.3,777.4M946.5,756.7L948.8,763M898.6,677.5L905.5,684.7M882.1,664.5L884.7,670.1M785.7,515.9L788.5,524M846,651.9L851.4,658.2M864,657.6L867.9,662.2M772.6,524.2L775.3,531.8M833.6,611.2L840,618" stroke="#b3a077" stroke-width="0.8" stroke-opacity="0.5" fill="none" stroke-linecap="round"/><path d="M848.2,656.2L852.9,665.4M887.9,675.6L892.7,682.6M831.9,581L833.8,587" stroke="#a9956b" stroke-width="1.2" stroke-opacity="0.5" fill="none" stroke-linecap="round"/><path d="M960.3,759.9L962.9,766.8M909.5,684.5L916.5,693M854.2,699.9L860.2,707.2M948.8,813.7L953.6,820.9M784.8,520.7L789.5,530.3M794.4,578.3L796.9,586.3M937.5,770.8L941.4,780.8M858.1,660.7L860,666.7M892.7,663.6L896,669.2M918.3,721.9L924.9,729.9" stroke="#b3a077" stroke-width="0.9" stroke-opacity="0.5" fill="none" stroke-linecap="round"/><path d="M950.5,797.4L954.6,803.9M828.8,647.9L834,654.2M781.5,541.4L786.6,548.3M908.7,683.8L911.9,690.1M904.2,757.9L908.3,763.6M910.9,679L917.2,686M960.1,772.8L964.7,777.9M817.9,549.6L821.6,554.6M849.5,610.9L854.4,616.9M772.8,533.2L774.7,539.1M743.2,507.7L746.8,512.9M949.1,734.9L952.9,740.5M857,685.7L860.3,695.2" stroke="#a9956b" stroke-width="0.8" stroke-opacity="0.5" fill="none" stroke-linecap="round"/><path d="M953.9,746.6L957.7,753.1M804.4,581.9L807.4,587.3M910.3,696.6L914,704.3M939.5,713.5L943,719.1M935.8,732.9L938.6,740.1M895.4,720.8L899.5,726M916.3,800L922.1,808.3M827,596.9L830,605.1M868,611.6L871.4,617M885.7,741.3L888.5,749.4M914,709.8L918.8,717.5M847.9,583.5L854.3,590.9M976.2,822L982.3,830.6M846.3,621.9L851.7,628.3" stroke="#d4c8a6" stroke-width="0.9" stroke-opacity="0.5" fill="none" stroke-linecap="round"/><path d="M826.5,612.7L833.4,620.9M840.4,610.3L845.5,617M943.5,753.4L950.3,760.4M831.2,587.7L836.9,594.3M790.2,506.9L794.4,511.3M889.7,661.8L893.8,666.8M860.6,711.5L863.2,718.6M835.6,587.3L842.3,595.4M840.3,609.9L845.2,615.8M829.3,587.4L832.7,597.1M950,745.3L954.7,752.9M882.7,663L885.6,672.5M790.8,580.4L797.9,588.1" stroke="#d4c8a6" stroke-width="0.8" stroke-opacity="0.5" fill="none" stroke-linecap="round"/><path d="M849.4,630.9L853.4,639.9M912.3,779.7L915.2,786.7M816.8,566.3L822,575.8M929.1,785.1L935.2,791.5M852,658.4L855.3,665.3M866.4,703.3L873.5,711.1M806.7,608.7L809,616M857.6,589L861.4,596.2M801.3,536.9L805.4,544.5M829.5,584.5L832.9,592M752.3,539.4L756,546.2M891.3,764.7L896.4,770.1M790.7,526L797.9,533.4" stroke="#cfc19c" stroke-width="1.1" stroke-opacity="0.5" fill="none" stroke-linecap="round"/><path d="M771.7,571.5L774.1,579.5M880.2,670L883.9,677.7M971,792.4L975.8,798.2M884.3,656.1L891,664.5M752.7,520.6L758,526.1M863.9,660.4L868.3,665.9M756.6,506.8L763.2,513.6M961.7,754.4L963.5,760.6M799.7,582.6L805.3,592M752.3,528.7L756.9,533.4" stroke="#cfc19c" stroke-width="1" stroke-opacity="0.5" fill="none" stroke-linecap="round"/><path d="M879.2,721L881.6,726.9M920.6,786.2L925.8,795.5M909.5,718.1L915.1,724.7M882.1,748L886.2,756.5M836.8,577.4L841.3,587.1M778.8,547.2L783.1,555.1M842.8,662.1L849.8,669.9M873.5,719.4L880.6,726.8M803.5,584.4L806.8,593.2M876.8,729.9L880.2,735.1" stroke="#b3a077" stroke-width="1" stroke-opacity="0.5" fill="none" stroke-linecap="round"/><path d="M829.2,609.2L834,614.3M795.4,591.8L797.8,597.8M905.4,680.8L912.4,689.2M882.2,715.7L884.1,722.3M739.3,506.3L745.2,514.3M864.8,679.6L869.7,685.1M926.9,793.8L930.8,803.6M791.4,514L796.5,520.2M904.1,706.1L909.2,711.7M883.5,643.9L889.7,652.6M945.4,730.4L950.8,738.9M805.5,548.5L809.7,554.8M898.8,706.9L902.7,716" stroke="#b3a077" stroke-width="1.1" stroke-opacity="0.5" fill="none" stroke-linecap="round"/><path d="M841.3,596.9L844.5,604.1" stroke="#cfc19c" stroke-width="0.7" stroke-opacity="0.5" fill="none" stroke-linecap="round"/><path d="M846.3,575.2L850.3,584.6M898.1,704.4L901.1,712.2M871.7,648.5L876.3,653.2M949.9,773.8L953,780.9M912.8,723.4L917.8,732M812.7,575.6L817.6,584.1M873.4,619.7L879,628.2M870.4,647.3L876.6,653.9M825.2,581.3L829.9,588.7" stroke="#d4c8a6" stroke-width="0.7" stroke-opacity="0.5" fill="none" stroke-linecap="round"/><path d="M943.4,828.9L947.8,837.4M930.7,794.8L934.4,804.9M880.3,725L885.5,732.7M821.1,613.4L827.5,620.2M830.8,579.2L834.2,587.3M779.9,508.9L785.1,517" stroke="#cfc19c" stroke-width="1.2" stroke-opacity="0.5" fill="none" stroke-linecap="round"/><path d="M838.1,593.9L843.2,599.9M878.6,674.4L885.6,682.6M852.2,596.6L857.7,605.1M780.7,524L784.8,533.7M943.9,821.8L948.9,830.4" stroke="#d4c8a6" stroke-width="1.2" stroke-opacity="0.5" fill="none" stroke-linecap="round"/><path d="M854.2,688.1L858,694.3M800.9,532.7L806.1,540.4M873.5,703L876.9,713.5M848.5,665.7L851.6,674.9" stroke="#b3a077" stroke-width="0.7" stroke-opacity="0.5" fill="none" stroke-linecap="round"/><path d="M839.7,613.5L844,618.9M784.1,589.9L786.4,597.6M860.6,659.5L866.5,666.9M894.6,676L899,685.8M781.5,566.9L786.1,574.5M983.5,811.3L987.7,815.8" stroke="#a9956b" stroke-width="0.9" stroke-opacity="0.5" fill="none" stroke-linecap="round"/><path d="M893.8,710.5L899.9,717.8M868.7,711.6L872,721.8M783.7,505.7L786.9,511M856.2,618.3L862,627M929.9,716.1L934.2,722.1M870.4,636.6L874.3,644M968.7,801.3L970.9,808.7M947.7,802.3L951.1,811M873.6,655.7L878.4,664.7M911.9,667.1L915.5,672.2" stroke="#cfc19c" stroke-width="0.9" stroke-opacity="0.5" fill="none" stroke-linecap="round"/><path d="M850.1,612.4L853.8,617.1M828.7,569.5L833.8,577.9M903.1,777.4L908,783.3M787.2,541.5L789.4,548.3M844.8,599.4L847.4,606.4M894.3,730.1L896.9,738M949.5,735.2L955.3,743.9M939.4,752.7L946.2,761.3M929.7,809.7L932.8,816.9M797.1,591.8L799,598M769.3,519.6L772.6,525.4M934.5,797.2L940.8,803.8M862.2,618.1L865.7,625M868.6,626.7L872.2,632.8" stroke="#d4c8a6" stroke-width="1.1" stroke-opacity="0.5" fill="none" stroke-linecap="round"/></g>
<g clip-path="url(#cstrip)"><path d="M767.7,546.2Q776.7,560.4 787.8,558.3Q794.4,549.2 785.5,535M786.1,552.3Q795,566.5 806.2,564.5Q812.8,555.3 803.8,541.1M789.9,532.1Q798.9,546.3 810,544.3Q816.6,535.1 807.6,520.9M807.8,538.6Q816.8,552.8 827.9,550.7Q834.5,541.5 825.6,527.3M784.3,572.4Q793.3,586.6 804.4,584.5Q811,575.3 802,561.2M802.6,578.5Q811.6,592.7 822.8,590.6Q829.4,581.5 820.4,567.3M806.5,558.3Q815.5,572.5 826.6,570.5Q833.2,561.3 824.2,547.1M824.4,564.8Q833.4,578.9 844.5,576.9Q851.1,567.7 842.1,553.5M800.9,598.6Q809.9,612.8 821,610.7Q827.6,601.5 818.6,587.3M819.2,604.7Q828.2,618.9 839.3,616.8Q846,607.7 837,593.5M823.1,584.5Q832.1,598.7 843.2,596.7Q849.8,587.5 840.8,573.3M841,590.9Q850,605.1 861.1,603.1Q867.7,593.9 858.7,579.7M817.5,624.8Q826.5,639 837.6,636.9Q844.2,627.7 835.2,613.5M835.8,630.9Q844.8,645.1 855.9,643Q862.5,633.9 853.6,619.7M839.7,610.7Q848.6,624.9 859.8,622.9Q866.4,613.7 857.4,599.5M857.6,617.1Q866.6,631.3 877.7,629.3Q884.3,620.1 875.3,605.9M834.1,651Q843,665.2 854.2,663.1Q860.8,653.9 851.8,639.7M852.4,657.1Q861.4,671.3 872.5,669.2Q879.1,660.1 870.1,645.9M856.2,636.9Q865.2,651.1 876.3,649Q883,639.9 874,625.7M874.2,643.3Q883.1,657.5 894.3,655.5Q900.9,646.3 891.9,632.1M850.6,677.2Q859.6,691.4 870.7,689.3Q877.4,680.1 868.4,665.9M869,683.3Q878,697.5 889.1,695.4Q895.7,686.3 886.7,672.1M872.8,663.1Q881.8,677.3 892.9,675.2Q899.6,666.1 890.6,651.9M890.7,669.5Q899.7,683.7 910.8,681.7Q917.5,672.5 908.5,658.3M867.2,703.4Q876.2,717.6 887.3,715.5Q894,706.3 885,692.1M885.6,709.5Q894.6,723.7 905.7,721.6Q912.3,712.5 903.3,698.3M889.4,689.3Q898.4,703.5 909.5,701.4Q916.1,692.3 907.2,678.1M907.3,695.7Q916.3,709.9 927.4,707.9Q934.1,698.7 925.1,684.5M883.8,729.6Q892.8,743.7 903.9,741.7Q910.5,732.5 901.5,718.3M902.2,735.7Q911.1,749.9 922.3,747.8Q928.9,738.7 919.9,724.5M906,715.5Q915,729.7 926.1,727.6Q932.7,718.5 923.7,704.3M923.9,721.9Q932.9,736.1 944,734Q950.6,724.9 941.6,710.7M900.4,755.8Q909.4,769.9 920.5,767.9Q927.1,758.7 918.1,744.5M918.7,761.9Q927.7,776.1 938.8,774Q945.5,764.8 936.5,750.7M922.6,741.7Q931.6,755.9 942.7,753.8Q949.3,744.7 940.3,730.5M940.5,748.1Q949.5,762.3 960.6,760.2Q967.2,751.1 958.2,736.9M917.4,781.7Q926.3,795.9 937.5,793.8Q944.1,784.7 935.1,770.5M935.5,788Q944.5,802.2 955.6,800.1Q962.2,791 953.2,776.8M939,768Q948,782.2 959.1,780.1Q965.8,770.9 956.8,756.7M956.7,774.5Q965.7,788.7 976.8,786.7Q983.4,777.5 974.5,763.3M937.8,805.4Q946.8,819.6 957.9,817.6Q964.5,808.4 955.6,794.2M953.5,813.3Q962.5,827.5 973.6,825.4Q980.2,816.3 971.2,802.1M954.2,795.1Q963.2,809.3 974.3,807.2Q980.9,798 971.9,783.8M969.5,803.1Q978.5,817.3 989.6,815.3Q996.3,806.1 987.3,791.9M958.3,829.2Q967.3,843.4 978.4,841.3Q985,832.1 976,818M971.5,838.6Q980.4,852.8 991.6,850.7Q998.2,841.6 989.2,827.4M969.4,822.2Q978.4,836.4 989.5,834.3Q996.1,825.1 987.1,810.9M982.3,831.7Q991.3,845.9 1002.4,843.8Q1009.1,834.7 1000.1,820.5M978.7,852.9Q987.7,867.1 998.8,865.1Q1005.5,855.9 996.5,841.7M989.5,863.9Q998.4,878.1 1009.6,876Q1016.2,866.9 1007.2,852.7M984.5,849.3Q993.5,863.4 1004.6,861.4Q1011.3,852.2 1002.3,838M995.2,860.3Q1004.1,874.5 1015.3,872.4Q1021.9,863.3 1012.9,849.1" fill="none" stroke="#8a7248" stroke-width="1.4" stroke-opacity="0.85"/></g>
<path d="M781,511L978,852" fill="none" stroke="#efe2c0" stroke-width="2.2" stroke-linecap="round"/>
<path d="M779,512L976,853" fill="none" stroke="#8c7650" stroke-width="0.6" stroke-opacity="0.6"/>
</g>
<g id="body">
<path d="M503,92C510.2,88.7 514.7,84.2 523,85C531.3,85.8 544.7,92.3 553,97C561.3,101.7 568,105.8 573,113C578,120.2 582.3,131 583,140C583.7,149 580.3,158.2 577,167C573.7,175.8 567.5,184.7 563,193C558.5,201.3 552.7,210.3 550,217C547.3,223.7 546.5,227.5 547,233C547.5,238.5 547.5,245.5 553,250C558.5,254.5 568.8,254.2 580,260C591.2,265.8 606.7,275 620,285C633.3,295 646.7,309.7 660,320C673.3,330.3 687.8,333.7 700,347C712.2,360.3 722.5,384 733,400C743.5,416 755.2,428.5 763,443C770.8,457.5 775.5,476.3 780,487C784.5,497.7 793.3,501.5 790,507C786.7,512.5 768.8,517.5 760,520C751.2,522.5 741.2,520.5 737,522C732.8,523.5 737,526.2 735,529C733,531.8 731,538.2 725,539C719,539.8 707.7,535.7 699,534C690.3,532.3 678.2,528.7 673,529C667.8,529.3 667,531 668,536C669,541 676,551.7 679,559C682,566.3 686,575.3 686,580C686,584.7 684.5,586.2 679,587C673.5,587.8 660.7,587 653,585C645.3,583 640.7,580.5 633,575C625.3,569.5 615.8,559 607,552C598.2,545 585.7,541.2 580,533C574.3,524.8 571.3,511 573,503C574.7,495 581.8,490.2 590,485C598.2,479.8 616.2,477.8 622,472C627.8,466.2 629.5,462.8 625,450C620.5,437.2 605.8,415.5 595,395C584.2,374.5 570.3,342.8 560,327C549.7,311.2 539.7,298.7 533,300C526.3,301.3 528.8,328.3 520,335C511.2,341.7 487.8,343.7 480,340C472.2,336.3 474.3,323.5 473,313C471.7,302.5 471.3,289.2 472,277C472.7,264.8 474,251.2 477,240C480,228.8 487.3,218.8 490,210C492.7,201.2 494.2,194.2 493,187C491.8,179.8 486.8,174.8 483,167C479.2,159.2 470.5,150.3 470,140C469.5,129.7 474.5,113 480,105C485.5,97 495.8,95.3 503,92Z" fill="#c0ad86" stroke="none" stroke-width="1" />

<g clip-path="url(#cbody)"><path d="M544.5,106.3L548.4,118.6M525.3,272.3L530.1,279.5M561.2,175.4L565.2,187.8M652.7,426.8L658,440.4M703.3,417.9L714,428.2M685.8,481.7L688.4,489.9M521.1,100.3L526.5,111.2M673,405.6L679.7,418.3M748,454.6L753.7,460.9M756.1,466.1L765.4,475.9M645.6,457.9L652.7,467.5M529.9,162.1L532.9,170.9M514.3,237.6L516.5,244.3M534.8,181.5L537.6,188.3M646,323.7L651.3,333.7M492.5,133L494.8,144.3" stroke="#d6cbab" stroke-width="1.5" stroke-opacity="0.6" fill="none" stroke-linecap="round"/><path d="M480.9,250.1L481.9,258M588.7,331.5L598.8,341.7M602.3,281.7L606.2,288.6M542.2,217.3L544.4,224.7M543.9,214.8L551.2,227.7M708.7,425.1L714.7,433.5M653.9,467.7L662.8,476.8M579.4,300.9L586.5,307.7M676.1,527.6L680.9,538.8" stroke="#a18659" stroke-width="0.9" stroke-opacity="0.6" fill="none" stroke-linecap="round"/><path d="M726.9,415.3L732.4,428.4M612.9,483.7L615.1,496M669.9,499.1L673.4,507.9M475.5,319.8L481.1,330.4M678.1,377.8L683.5,384.2M496.3,302.8L502.2,315.1M703.6,438.7L708.2,448M740.1,511.7L743.8,520.4M565.6,107.5L571.4,118M662.5,427.6L665.4,434M620.3,361.2L624,369.7M568.8,319.4L575.2,330.9M497.1,179.3L497.9,186.9M741.3,484.8L748.6,492.4M491.6,111L490.9,118.6M485.6,291.8L491,297.7" stroke="#bca67c" stroke-width="1" stroke-opacity="0.6" fill="none" stroke-linecap="round"/><path d="M649.2,365.6L655.6,373M656.1,374.4L659.1,382.4M639.5,342.8L645.3,348.7M710.9,476.5L719.8,484.2M667.4,460.5L675.3,472.2M646.5,409L657.1,418M674,419.8L679,425.8M688.1,512.8L693.8,525.7M604.2,530L606.7,540.5M529.9,137.1L537,147M529,100.3L537.5,110.4M588.4,292.8L596.3,302.6M656.2,513.2L664,524.4M640.3,329.3L644.9,335.5M504.5,179.1L506.3,188.1M658.1,577.3L659.9,589.1" stroke="#b39a6c" stroke-width="1.7" stroke-opacity="0.6" fill="none" stroke-linecap="round"/><path d="M478.6,131.8L478.6,146.8M485.8,155.1L486.3,169.4M574.8,275.7L577.9,283.4M607.8,418.3L613.3,424.2M698.2,463.7L704,469M568.3,303.5L573.3,312.6M523.3,138.2L528.6,151.5M490.8,314.3L497,319.3M543.6,131L552.4,140.3M751.5,471.7L761.6,480.8M519.2,199L521.3,210.9M630.3,378.7L634.8,385.4" stroke="#d6cbab" stroke-width="0.9" stroke-opacity="0.6" fill="none" stroke-linecap="round"/><path d="M637.1,371.9L647.2,382.8M683,421.1L689.3,431.3M675.9,400.6L682.9,406.7M634.8,319.6L640.9,325.9M632.5,312.7L635.7,319.8M658.7,354.2L663.5,362.5M661.7,429.8L666.1,437.5M689.1,474.5L694,480.3M699.3,475.6L707.3,488.3M636.8,366.8L644.1,377.7M712.5,462.1L715.8,469.8M535.8,174.9L545.1,182.9M582.4,302.2L592.4,313M502.6,334.1L508,345.2M700.7,523.7L706.2,529.4M571.2,111.9L576.2,117.2M755.8,489.5L763.8,496.1M746.3,470.6L750,478.7M579.6,518.9L583.3,528.8M514.3,235.6L517.5,243.7" stroke="#a88d60" stroke-width="1.1" stroke-opacity="0.6" fill="none" stroke-linecap="round"/><path d="M524.4,259.8L524.5,269.6M724.5,527.5L730.2,536.2M524.9,262.4L529.4,272M677,488.3L682.4,499.7M623.5,472.7L626.5,479.7M557.1,199.4L561.3,212.4M547.5,161.8L551.9,170.3M540.9,121.2L544.6,129.2M699.3,501.1L707.8,508.3M721.5,498.9L727.4,512.6M532,104.1L534.4,110.7M505.3,312L510,321.5M489.9,305.7L497.4,314.5M503,288.1L513.5,297.9M642.2,360.8L648.7,370.8M639.9,561.2L641.5,572.6M713.7,452.9L719.1,463.4M725.2,521.1L732.6,531M693.6,395.1L703,403.3M657.3,451.4L663.1,460.7M707.7,456.7L712.4,464.1M681.2,522L683.3,530.3M525.1,271.2L532.6,280.2M619.1,477L627.3,485.2M475.1,301L482.5,309.7" stroke="#d2c5a2" stroke-width="1.7" stroke-opacity="0.6" fill="none" stroke-linecap="round"/><path d="M548.6,169.7L551.5,177.6M731.5,448.3L737,455.3M633.4,542.5L637.3,556.1M623.9,516.4L626.4,524.4M647.4,449.9L652.7,457.5M692.5,391.9L703.5,400.6M764.3,514.8L770.2,523M665.9,505.4L668,519.7M652.3,517.5L655.4,524.3M480.1,113.5L479.1,126.1M662.5,545.4L667.7,558.8M599,296.2L602.2,302.4M645,318.2L653.7,330.2M546.1,278.8L551.1,285.8M699.4,363.8L704.8,377.7M719.6,482.3L724.5,490.8M493.4,162.6L495.1,172.5M555.4,175.5L559,188.8" stroke="#d6cbab" stroke-width="1.2" stroke-opacity="0.6" fill="none" stroke-linecap="round"/><path d="M688.7,424.3L694.7,437.7M663.5,424.7L674.4,434.2M676.9,354.1L681.9,361.6M493.5,218.4L491.8,230.6M534.4,151.6L540.8,163.6M604.5,370.7L613.3,380.4M714.1,524.1L721.7,531.5M593,319.9L600.2,328.6M749.7,433.8L752.7,441.6M722.5,414.6L731.6,424.2M477.1,137.9L477.6,149.5M553.1,254.4L555.3,262.1M708.6,400.6L715.5,408.6M532,160.9L540.6,168.6M674.6,380L682.4,386.2M475.6,262.5L477.2,270.4M728.1,393.4L734,403.6M529.2,128.6L537.3,138.1M494.2,305.7L502.9,312.7M702.9,391.7L710.8,401.7M629.8,416.7L636.1,427.4" stroke="#d6cbab" stroke-width="1.7" stroke-opacity="0.6" fill="none" stroke-linecap="round"/><path d="M474.6,259L476,271.3M535.2,175.2L538.4,189.5M679.3,524.1L682.1,538.8M630.2,566.6L634.2,579.1M681.5,442.3L686.7,453.9M661.8,560L669.4,572.7M647.9,521L655.8,532.6M569,266L573,277.9M522.8,167.6L529,175.9M553.2,159.4L560.4,168.5M556.2,191.8L561.6,201.8M572.1,130.1L576.4,136.9M691.9,408.6L697.5,414.5M720.4,491.6L724.9,498.9M615.8,536.5L622.2,549.3M604,376.2L611.9,383.6M493.6,117.2L496,128.6M494.2,320.9L504.2,329" stroke="#b39a6c" stroke-width="1" stroke-opacity="0.6" fill="none" stroke-linecap="round"/><path d="M492.2,254.7L490.7,269.5M591.8,323.6L594.9,330.5M631,546.2L632.7,557.4M605,533.4L606.9,542.8M632.4,494.2L636.6,501.8M500.6,208.5L499.9,217.7M481.1,127.9L481.2,135M680.6,459.6L688.3,467.3M607.5,505.4L609.1,517.8M526.3,311.1L531.4,316M625,359.7L630.9,370.3M636.8,401.8L642.9,414.4M539.1,251.7L542.1,259.9M751.5,480L757.7,490.9M631.3,363.2L637.5,369.8M732.2,485.8L736.6,492.6M522.3,189.9L526.2,203.7M627.5,561.1L630.8,569.6" stroke="#bca67c" stroke-width="1.6" stroke-opacity="0.6" fill="none" stroke-linecap="round"/><path d="M710.5,492.7L716.6,498.1M531.8,155.8L541.1,164.3M671.2,351L675.4,361.3M646.3,458L652,462.5M663.9,499.2L665.7,509.3M601.5,486.6L607.6,500.2M533.3,120L537,128M607.5,342.1L612.3,350M672.5,358.2L679.2,369.1M663.4,433L669.8,440.3M621,375.5L628.7,385.9M737.4,424L740.6,431.5M612.7,526.4L619.2,535.4M650.2,411.6L655.1,423.6M503.3,293.9L507.6,301.2M633.1,412L638.7,424.9M598.2,535.2L603.3,546.3M711,457.8L715.7,464.2M613.2,352.9L617.5,362.1M648,360.8L652.9,371.5M509.6,119.1L509.9,131.5M509.4,119.7L510,130M723.2,487.6L732.3,495.3M608.6,338.2L613.5,350.4" stroke="#d6cbab" stroke-width="1" stroke-opacity="0.6" fill="none" stroke-linecap="round"/><path d="M478.1,309.3L488.5,318.6M554.9,260.3L557.6,272.2M600.1,379.4L606.5,386M572.1,294.3L576.7,300.1M527.4,293.6L533.1,306M515.7,202L516.5,211M622.2,523.2L626.7,534M517.5,221.2L519,228.9M678.8,351.1L690.2,360.2M616.1,307.5L626.5,317.5M740.3,414.5L747.5,423.4M678.3,465.7L688.8,475.9M653.6,320.1L659,325.4M583.7,361.2L589.1,374.1M769.2,469.2L776.5,475.9M478.2,142.7L482.5,156.9M743.9,519.5L750.7,531.6M547.5,226.2L549.6,239.4M533.2,109.4L536.9,116.4" stroke="#bca67c" stroke-width="1.2" stroke-opacity="0.6" fill="none" stroke-linecap="round"/><path d="M596.8,530.8L599.2,538.9M588.6,520.8L592.7,534.2M508.2,309.2L512.8,315.9M731,496.3L737.1,501M570.8,131L579.5,141.2M489,329.7L494.4,340.3M506.3,151.6L507.9,165.8M610.8,497.6L611.7,508.5M657.3,319.5L661.7,325.4M524.6,209.6L529.4,223M614.4,538.6L617,550.8M621.3,379.7L627.7,386.2M578.6,304.8L582.6,310.9M571.3,121.7L574.8,127.9M768.5,490.6L773.4,502.7M680.9,391.3L687.8,398.1M744.7,462.8L749.4,468.9M661.8,417.7L667.7,431.3M643.7,475.6L652.4,487.4M611.7,385.2L621.4,396.6M611.2,365.6L620.4,376.2M662.3,487.9L663.5,495" stroke="#cdbf9c" stroke-width="1.2" stroke-opacity="0.6" fill="none" stroke-linecap="round"/><path d="M697.2,361.1L707.1,369M741.6,459.5L747.3,465.2M654.9,545L662.3,557.9M642.1,434.7L648.9,443.9M706.8,407.3L712.2,418.7M523.6,109.7L528.2,122.4M502.4,201.2L502,209.3M706.1,416.6L715.3,427.5M748.5,425L753.1,432.5M634.4,491.6L637.8,500.2M549.6,249L549.6,263.2M682.9,508.9L683.5,517M578.1,503.3L581.2,517M495.8,242.5L499.1,251.5M611.4,349.5L617.8,355.8M653.6,510.6L655.9,519.5M490,262.4L492.6,276.1M684.2,398.6L691.3,410.1" stroke="#cdbf9c" stroke-width="1.6" stroke-opacity="0.6" fill="none" stroke-linecap="round"/><path d="M594,519L598.7,529.5M561.9,130.4L570.3,140.8M633.4,539.3L636.8,549.7M489.9,218.5L488.3,230.1M525.9,232.5L530.8,244.9M485.6,161.2L485.4,169.1M519.2,105.8L521.7,113.1M511.9,240.6L511.4,248.2M626.6,534.9L631.9,542.3M582.9,307.5L589.7,317.4M546.9,231.7L551.1,244.9M512.4,265.3L511.2,277.3M746.2,419.2L751.9,433.1M650,416.5L654,426.5M720,440.9L724.1,450.3M482.2,306L486.7,316.6M676.5,583.1L683,596M607.9,400.3L617.4,409.9M682,469L691.2,477.7M638.3,438.7L646.5,447.3M619.9,420.4L626.9,432.2M518.7,241.5L521.7,255M678.3,382.8L682.8,391.1M677.2,525.7L680.9,536.4" stroke="#cdbf9c" stroke-width="1.5" stroke-opacity="0.6" fill="none" stroke-linecap="round"/><path d="M631,360.8L634,368M664.5,436.6L669.5,441.6M670.7,531.9L674.9,538.1M782,493.2L787.4,502.7M495.8,275L503.5,286.1M562,185L564.6,191.6M523.1,275.8L529.4,289.1M754.9,519.1L761.8,528.1M657.9,490.9L661.3,500.3M485.6,233.3L488.5,241.6M656.9,469.3L661.7,474.5M631.7,346.5L639.9,355.7M675.2,472.5L685.2,482.1M682.2,514.5L686.3,522.9M572.8,264.5L578.8,277.3M716.1,419L724,431.1M541.1,192.5L544.3,203.8M737.2,513.5L741.4,522M511.1,200.4L511.9,214M619.9,313L626.5,322.8M640.7,554.2L642.9,562.8" stroke="#d2c5a2" stroke-width="1" stroke-opacity="0.6" fill="none" stroke-linecap="round"/><path d="M669.9,465.4L678.6,473.6M599.8,373.1L604.3,384.3M512.3,216.2L511.4,225.5M641.5,533.9L649.5,545.7" stroke="#a18659" stroke-width="1.8" stroke-opacity="0.6" fill="none" stroke-linecap="round"/><path d="M494.4,121.8L493.6,134.9M748.1,483L755.2,490.2M622.3,476L627.9,488.6M488.1,119.5L489.8,132.6M603.4,336.9L608.6,341.6M623.6,421.5L632.4,433M591.9,319.6L596.6,329.8M608.2,293.4L614.7,298.4M602.5,295.7L608.6,306.2M618.2,539.3L622.6,549.5M698.3,381.6L705.7,390.1M499.8,308.4L508.3,316M609.8,313L618.8,320.2M675.7,372.8L682.6,379.7M678.7,368.2L682.1,375.1M610.6,362.2L618.9,370" stroke="#d6cbab" stroke-width="1.4" stroke-opacity="0.6" fill="none" stroke-linecap="round"/><path d="M634.2,524.6L638.2,530.5M716.8,429.3L724.9,438.1M545.8,301L553.8,310.6M498.9,222.6L499.3,236.8M480.5,328.3L484.4,337.7M685.3,360.5L696.5,370.4M646.9,483.3L654.4,494.8M759.6,477.8L768.5,485.8M510.4,245.5L512.8,259M562.6,122.7L568.8,131.6M731.1,508.7L735.4,518.8M654.6,446.2L662.1,455.6M644.8,570L648,577.6M559.2,307.8L566.9,315.9M542.9,163.8L550.8,174.5M505,162.5L508.3,173.6M670.4,356.5L681.7,365.4M490.9,327.3L499,334.1M548.8,310.2L559.1,318.1M736.5,454.8L743.1,463.5" stroke="#bca67c" stroke-width="1.3" stroke-opacity="0.6" fill="none" stroke-linecap="round"/><path d="M712.7,420.4L718.1,431.7M507,288.4L511.1,296M638,502.4L641.6,512.3M629.4,465.9L635,473M557.9,110.9L561,117.2M551.3,118.8L560.4,130.2M557.9,195L560.1,202.7M591.6,303.5L599.7,309.9M582.2,369.9L592.1,379.8M684.9,429.9L690.2,443.3M520.3,255.1L523.9,265.6M502.7,308.8L507.8,315.3" stroke="#bca67c" stroke-width="1.1" stroke-opacity="0.6" fill="none" stroke-linecap="round"/><path d="M624,335.3L630.9,342.7M598.9,308L610,317.1M740.1,509.5L744.9,515M670.1,474.1L680.6,484M488.6,134L491.1,140.5" stroke="#d2c5a2" stroke-width="1.8" stroke-opacity="0.6" fill="none" stroke-linecap="round"/><path d="M558.8,275.3L562.9,285.2M690,503.5L697.7,511.2M605.3,482.1L611.4,491.7M588.3,343.5L594.3,351.4M680.1,427.2L685.3,432.4M619.3,473.2L626.6,479.5M538.6,103L545.6,110.9M610.1,369.7L618.3,378M543.6,203.5L548.2,215M496.4,101.8L501.9,115.6M693.9,434.8L700.2,439.7M704,522.2L714.5,532.3M631.5,429L637.3,436.2M667.7,565.2L671.5,577.3M686.7,351.1L692.9,359M616.3,303.2L626.2,311.2" stroke="#d6cbab" stroke-width="1.3" stroke-opacity="0.6" fill="none" stroke-linecap="round"/><path d="M603.5,528L609,538.2M483.1,235.2L486.8,248.2M560,131.7L564.7,139.6M662.4,456.1L667.4,467.6M744.1,515.6L748.5,526.5M572.8,115.5L581.8,123.3M680.5,568.5L683.2,577.6M525.6,227.4L528.5,235.7M533.6,251.1L539.2,261.6M686.3,404.4L693.6,411.5M579.9,275L589.2,285.7M563.5,110.2L568.3,117.2M717.9,493.4L724.7,506.7M626.6,529.3L630.8,542.8M682.6,495.4L684.6,504.2M483.9,141.5L486.9,149.8M621.1,505.6L628.3,515.8M564.2,131.6L567.3,140.2M742.3,462.3L753.3,471.1M717.6,379.2L723.4,388.8M494.8,186.8L495.7,193.8M496.2,184.4L496.3,193.2M744.4,499.3L750.9,504.8M493.1,318.8L498.8,327.4M680.8,522.3L684.3,528.6M681.9,412.8L690.4,424.3M680.5,447.5L684.9,455.1M624.4,341.9L633.4,348.8" stroke="#cdbf9c" stroke-width="1.7" stroke-opacity="0.6" fill="none" stroke-linecap="round"/><path d="M709,466.2L714.5,471.3M776.6,497.9L780,505.6M692.4,486.3L699.5,496.2M545.7,270.2L549,277.1M574.7,131.8L579,139.5M709.4,495.7L712.9,503.6M503.3,119.8L503.8,134.5M493.8,260.1L494.5,270.9M573.1,168.7L579.9,181.4M676.2,407.6L687.2,416.7M535,107.1L543,118.4M753.3,456.7L761.1,464.8M501.8,125L506.5,139.2M598,332L603.8,343.9M642.2,483.4L647.2,496.2M659.1,343.3L670.4,352.5M525.3,190.8L526.4,200" stroke="#cdbf9c" stroke-width="1.4" stroke-opacity="0.6" fill="none" stroke-linecap="round"/><path d="M641.4,331.7L647.8,342.3M767.6,458L773.6,471.7M478.5,243.9L482,254M729.6,496.5L733.9,504.3M490.1,211.1L493.8,223.2M541.6,158L548.3,164.1M608.3,397L614,405.5M515,321.3L522.4,333.4M586.1,328.8L592.8,338.4M496.1,300.6L500.3,306.2M682.6,450L688.6,459.9" stroke="#b39a6c" stroke-width="1.1" stroke-opacity="0.6" fill="none" stroke-linecap="round"/><path d="M533.7,182.2L533.6,192.5M681,501.8L682.6,514.7M530.5,271.1L537.8,282.9M593.8,324.3L604.8,333.4M721.6,383.4L728.3,389.9M663.6,370.8L669.4,380.8M665.9,446.1L670.5,451.6M503.5,272.7L509.7,278.6M523.8,324.8L533.5,334M733.5,410.6L740.2,420.9M621.3,319.2L627.7,324.9M629.2,550.2L633.9,562.1M652.5,351L658.9,364M664.9,439.6L669.5,446.5M693.8,388.6L700,398.7" stroke="#a18659" stroke-width="1.6" stroke-opacity="0.6" fill="none" stroke-linecap="round"/><path d="M538.4,105.3L545.4,114.2M576.8,262.9L579,273.2M548.3,301.8L555,314.6M637.3,481.7L638.1,490.8M508.1,108.1L508.6,115.3M610.7,546.1L612.3,558.9M548.1,192.3L552.4,203.5M505.2,134.9L506.4,148.9M669.4,338.9L676.2,344.5M704.4,386.1L708.1,392.5M569.4,142.3L576.4,153.8M490.9,232.4L492.6,242.6M600.1,393.9L609.1,403M578,268.1L581.7,275M713.2,433.1L720.7,438.9M581.5,292.1L586,298.5M671.1,554.8L675.4,569.1M734.9,526.6L740.7,538.2M655.9,465.3L659.7,474.9" stroke="#bca67c" stroke-width="1.5" stroke-opacity="0.6" fill="none" stroke-linecap="round"/><path d="M476.7,270L478.6,283.8M682.3,464.4L691.4,474.4M609.8,359.7L615,371.7M545,195L545.3,206.5M610.3,346.1L618.7,356.5M674.5,586L681.3,598.1M566,121.2L569.5,127.7M502.5,144.7L506.5,155.7M636.6,329.3L642,341.7M675.3,427.4L680.5,433.5M593.3,296.6L597.3,304M607.6,499.9L611.7,508.9M728.4,534L733.9,539.3M732.2,472.3L738.3,478.2M505,290L510.6,296.4M710.6,480.8L716.4,492.9M699.2,479.6L708.1,486.5M595.2,296.3L602.9,307.2M595.3,374.9L602.2,381.4M633.4,496.8L634.3,506.7" stroke="#d6cbab" stroke-width="1.6" stroke-opacity="0.6" fill="none" stroke-linecap="round"/><path d="M769.8,483.5L777.6,489.5M598.6,307.7L605.4,318.5M625.1,310.4L634.4,318.8M536.9,111L539.8,118.6M500.8,171.9L504.7,185.8M498.9,145.8L502.1,154.3M749,456.9L754.5,464.4M623.3,470.4L630.8,481.7M688.7,476.7L694.7,489.9M752.6,510.5L756,518.5M628.7,490.3L632.7,500.7M622,366.7L631.9,376.7" stroke="#d2c5a2" stroke-width="1.1" stroke-opacity="0.6" fill="none" stroke-linecap="round"/><path d="M478,273.8L482.1,281.2M483.4,318.6L493.7,327.4M557.3,122.1L562.1,129.2M636,302L639,309.8M627.9,397.6L634.8,403M491.4,221.4L491.4,228.7M694.1,485.6L703.1,495.1M748.3,474.2L756.3,485.4M753,474.7L761.1,482.5M706.1,513.2L712.5,525.1M516.4,89.4L519.8,103M601.9,362.8L611,371.1M523.6,225.3L523.8,234.6" stroke="#d2c5a2" stroke-width="1.4" stroke-opacity="0.6" fill="none" stroke-linecap="round"/><path d="M537.9,177.6L538.5,186.3M708.6,500.4L713.3,506.7M529.6,250L532.8,261.6M705.2,511.5L714,520.9M528,178.5L532,190.8M697.2,489.3L701.2,498M528,89.5L533.6,97M511,96.9L510.2,105.9M763.2,476.1L769.6,484.7M598.5,311.1L605.9,317.4M505.3,244.7L508.6,253.5M613.6,338.1L620.2,347.8M709.6,459L713.9,466.1M530.6,168.5L534.3,176.5M621.5,507.2L623.8,518.5M531.4,236.8L533.6,246.1M632.7,444.7L641.3,456.4M505.2,263.8L507.7,270.6M712.9,422L721.7,429M645.3,385.9L651,390.3M481.4,332.7L484.9,340.4M524.2,162.7L529.2,175.2M567.7,140.6L577.3,151.3M557.1,314.1L562.7,323.7" stroke="#d6cbab" stroke-width="1.1" stroke-opacity="0.6" fill="none" stroke-linecap="round"/><path d="M642.1,315.3L652.8,323.7M481,335.2L486.4,347.2M617.5,432.8L621.5,440.3M486.1,276.1L494.7,287.4M506.7,331.9L509.7,339M715.4,393L722.1,398.2M547.9,283.2L554.9,290.3M588.4,528.9L589.2,538M674.8,339L683.1,346.1M614.5,419L620.1,430.2M740.8,495.6L746.6,508.7M677.4,332.1L680.6,339.6M650,488.5L654.6,496.1M629.4,357.3L632.8,364.8M628.4,512.4L632.1,519.7M566.4,290.1L571,297.6M701.2,359.7L705.3,368.7M529.1,204.2L529.2,216.8M611.4,355.3L615.1,363.8M664.5,536.5L672.9,548.3M546.8,118.2L550.3,127" stroke="#d2c5a2" stroke-width="1.3" stroke-opacity="0.6" fill="none" stroke-linecap="round"/><path d="M566.6,155L572.2,161.1M722.8,522.8L728.4,535.2M651.4,352.6L655.8,359M648.1,441.2L651.7,447.3M689.7,427.4L695.5,436.2M557.8,181.5L561.1,194.3M634.2,516.9L636.3,524.1M524.2,307.6L530.2,320.4M648.6,338.2L652.7,344.7M589.3,288L595.5,292.8M637.1,564.8L639.6,575.3M718.1,413L722.9,420.7M645.6,380.6L651.8,391.2M708.2,508.3L714.9,513.8M618.1,510.4L620.2,523.1M541.1,155.8L546.1,164.7M524.9,183.9L530.5,194.7M569,333.9L572.5,341.7M690,512.7L698,524.8M579,346L582.3,352.2M715.6,491.8L720.8,503.3M481.3,319.8L487.9,327.3" stroke="#b39a6c" stroke-width="1.3" stroke-opacity="0.6" fill="none" stroke-linecap="round"/><path d="M647.1,469.1L650.8,475.3M486.4,238L488,250.4M597.7,294L603.2,305.1M748.1,464.9L755.9,472M597.8,379L603.1,386.4M677.3,464.2L685.8,470.9M700.5,474.4L710.4,484M523,198.4L523.5,212.8M694.9,469.3L703.3,476.8M506.1,308.9L512.1,319.9M641,519.1L642.2,532.4M670.2,372.4L678.2,380.2M529.5,282.4L537.5,292.9M673.3,371.2L676.8,378.6M644.7,344.1L648.9,354.7M573.7,153.1L583.6,163.7M698.2,368.4L701.6,375.5M483,328.6L488,334.5M662.9,415.9L669,427.2" stroke="#cdbf9c" stroke-width="1" stroke-opacity="0.6" fill="none" stroke-linecap="round"/><path d="M746.9,462.1L752.8,469M578.9,352.6L583.6,357.8M700.4,384.7L707.3,390.4M652.7,399L659.5,404.3M642.9,559.5L648.6,571.8M533.8,208.3L533.8,218.5M578.4,151.3L584.7,161.6M573.7,347.2L579.9,352.5M676.4,499.5L680.5,511.2M584.8,330.7L592.3,336.9M750.9,486.2L759.4,497M590,307L593.6,316.3M487.9,173.5L490.9,182.4M651.1,376.5L658.2,389.6M732.2,523.2L738.5,530M545,161.3L552.4,173.6M683.7,489.9L689.1,498.7M563.5,183.1L565.4,194.3" stroke="#cdbf9c" stroke-width="1.3" stroke-opacity="0.6" fill="none" stroke-linecap="round"/><path d="M712,387.1L720.9,399.2M693.5,516.2L701.8,523M693.5,402.4L698.3,412.7M508.3,130.8L510,138.1M501.2,233.9L503.8,244.1M480.1,265.4L485.3,279M472.5,139.9L477,152.9M490.4,260.5L491.9,267.5M637.4,565.2L639.7,574.6M473.1,134.8L472.8,147.4M601.5,381.7L607.1,387.4M691.6,452.6L695.7,461.1M578,359.3L584.9,364.8M481.6,119.6L486.1,133.4M661,358.1L668,368.1M476.8,264.7L481.8,277.6M691.3,370L698.8,379.8M625.1,384.5L631.5,390.1M483.8,271L487.7,279.1M698.1,491.6L708.7,499.9M504.3,324.9L512.5,335.6M629.8,559.9L631.9,569.6M562.1,154.9L572,165.7M573.6,153.1L579.2,159.5M653.6,319.3L659,328.8M754.1,483.1L759.4,494.4M724.6,500.9L730.4,506M549.1,253L550.3,261.1M599.7,283.2L610.1,292.3" stroke="#b39a6c" stroke-width="1.4" stroke-opacity="0.6" fill="none" stroke-linecap="round"/><path d="M612,336.3L615.8,345.6M591.9,267.7L593.4,274.9M714.1,370.1L717.2,377M657.7,347.5L660.9,354.1M538.9,274L544.2,284.8M738.9,425.5L745,431.5M487.3,137.4L486.1,145.2M701.7,363.1L709,373.3M536.2,269.5L538.1,279.2M603.6,516.5L607.2,526.6" stroke="#bca67c" stroke-width="0.9" stroke-opacity="0.6" fill="none" stroke-linecap="round"/><path d="M569.8,281L578.4,289.9M627.8,293.9L634.4,300.3M482.6,107.1L483.2,118.3M696.8,380.5L703.3,386.6M532.9,229.8L534.5,242.6M551.7,108.2L557.1,119.2M574.1,306.5L578.5,313.7M701.8,475.7L710,482M623.2,540.6L625.2,547.6" stroke="#b39a6c" stroke-width="0.9" stroke-opacity="0.6" fill="none" stroke-linecap="round"/><path d="M752.6,449.3L762,456.8M746.3,480.5L751.8,487.8M685.1,437.5L690.6,442M779.2,497.8L784.7,503.2M695.4,444.5L701.5,456.4M658.7,565.8L663.7,577.9M598.5,391.5L604,398.8M526,103.2L532.7,111M539.8,111.3L547.5,118.4M583.6,294.6L593.1,301.9M618.7,551.9L621.2,561.8M767.4,497.5L775.2,508.2M669.8,371.8L676.8,379.5M619.5,542.3L623.6,552.2M640.6,528.5L643.2,539.6M657.6,505.1L664.5,516.1M733.2,450.3L742.4,461.3M750.6,426.4L761.2,436.7M774.3,502.2L783.4,510" stroke="#d2c5a2" stroke-width="1.2" stroke-opacity="0.6" fill="none" stroke-linecap="round"/><path d="M660.2,502.6L662.8,513.1M742.6,494.1L747.3,501.9M511.7,259.6L514.1,274.1M683.7,353.3L689.2,358.5M661,347.6L669.5,356.5M633.9,452.9L645.2,461.6M543.6,126.5L546.5,135.7M682.6,529.2L687.6,539.1M561.3,113.4L570.4,124.6M492.1,182.6L492.8,190.2M515.4,192.5L515.6,205.3M702.8,437.3L706.8,445.8M574.7,279.5L584.6,288.3M668.1,460.8L674.2,467.7M631.2,298.5L638.2,304.9M531.5,121.2L534.6,128.8M569.9,122.2L572.2,129.3M651.8,396.1L655.6,404.4M509.4,222.7L507.8,233.7M658.5,558.6L659.6,569.1M520.2,217.3L523.6,228.4" stroke="#a18659" stroke-width="1.2" stroke-opacity="0.6" fill="none" stroke-linecap="round"/><path d="M692.9,454L698.6,458.8M635.2,537L641.8,546.9M774.2,485.3L784.4,493.1M576.2,301.1L583.8,311.6M629.7,414L637.2,422.5M589.7,268.3L596.2,280.5M694.2,403.8L701.7,410.9M580,285L586.6,297.8M622.4,426.4L633.2,435.9M691.2,519.9L697.5,525.1M699.4,349.9L709.1,360.3M664.2,416.8L670.7,427.9M510.2,262.3L512.8,276.2" stroke="#bca67c" stroke-width="1.8" stroke-opacity="0.6" fill="none" stroke-linecap="round"/><path d="M601,482.5L602.5,493.1M616,291.7L622.7,300.2M623,405.6L626.8,413.3M493.2,328.2L499.3,338.8M477.7,314.6L480.4,321.6M587.7,359.7L595,367.4M579.5,296.2L589.5,307M691.6,350.1L698.2,359.7M675.4,455.3L683.6,463.8M541.1,303.3L548.9,311.3M563,283.6L568.8,289M668.5,379.9L673.6,389.8M517.4,305.4L523.5,311.2M589.3,531.7L594.9,540.9M487.2,148.4L488.9,157.9M637,374.7L640.6,380.7M545.3,153.5L548.2,162.3M526.1,126.1L534.9,134.7M489.7,249.7L493.9,261.1M601.3,481.2L605.3,492.6M588,489.8L595.6,502.6" stroke="#a18659" stroke-width="1.7" stroke-opacity="0.6" fill="none" stroke-linecap="round"/><path d="M672.3,495.9L678.4,507.7M706.6,464.5L712,477M497.3,284.2L503.7,293.4M665.5,373.8L668.6,381.3M660.7,513.3L663.3,527.6M519.4,189.4L519.3,201.6" stroke="#a88d60" stroke-width="1.8" stroke-opacity="0.6" fill="none" stroke-linecap="round"/><path d="M544.2,149.3L552.3,159.2M484,257.2L485.4,264.5M703.1,456.9L706.9,465.7M679.5,498.7L687.5,509.9M530.5,172.5L536.6,177.9M560.3,324.1L569.3,334.2M711.1,513.4L718.1,520.8M488.3,285L494.2,295.3M539.1,140.3L549.7,150.8M495.3,225.5L495,235.5M530.8,214.6L535.3,225.4M584.4,500.9L588.5,512.4M478.3,303.3L486.3,314.3M575.7,503.6L579.4,510.2M586.9,291.4L592.4,302.4M484,277.3L490.4,284.3M698.7,455.6L703,461.3M619.5,378.3L626.1,386.8" stroke="#d2c5a2" stroke-width="1.6" stroke-opacity="0.6" fill="none" stroke-linecap="round"/><path d="M539.3,283.9L545.7,296.1M645.7,484.4L648.5,491.6M624.5,301.1L629,307.8M726.8,492.3L732,503.7M474.2,294.9L479.4,302.5M664.4,343.5L674.8,353.3M640.7,531.8L645.5,540.3M678.9,462.8L685.3,474.9M635.4,516.2L637.1,524.9M550.6,263.9L554.2,273.6M639.6,529L644.7,536.3M626,545L629.5,557.7M634.8,379.4L640.1,386M560.6,295.2L567.9,306.2" stroke="#bca67c" stroke-width="1.7" stroke-opacity="0.6" fill="none" stroke-linecap="round"/><path d="M727.4,447.7L734.9,453.6M495.7,220.1L495.7,230.8M653.2,432L661.6,444.2M740.7,460.5L745.6,467.4M619.5,333.3L624,342.6M518.1,256.5L516.8,266.3M770.3,485.6L780.5,495.3M661.6,545.6L666.1,554.4M633.4,489.9L635.7,496.7M729.8,443.4L734.7,450.6M648.8,376.5L653.1,384.2M483.1,145.4L481.3,156.7" stroke="#b39a6c" stroke-width="1.5" stroke-opacity="0.6" fill="none" stroke-linecap="round"/><path d="M521,291.3L527.2,298M488.7,337.4L500.3,346.3M519.1,189.9L518.5,198.8M699.4,467.2L703.3,475.5M744.9,504.8L753.3,511.9M621.2,351.9L629.7,359.5M736,448L743,460.1M636.6,462.1L643.1,474.8M740.5,440.5L744.6,448.1M547.5,97.9L552.3,109.4M592,278.7L597.1,290.8M555.2,144.1L558.4,152M551.2,262.7L557.1,275.9M484.2,264.7L487,279.4M621.8,545.4L626.7,557M519,162.7L520.5,175.8" stroke="#a18659" stroke-width="1.3" stroke-opacity="0.6" fill="none" stroke-linecap="round"/><path d="M638.5,546.4L640.6,553.3M576.9,284.4L581.2,291.8M480.6,121L483.4,130.7M655.7,543.5L659.4,556.5M476.7,140.8L475.8,153.2M721.2,467.5L730.5,475.4M626.2,322L636.5,332.2M485.5,232.1L486.6,245.2M624.8,380.9L635.1,391.3M569.3,154.8L577.4,167.2M516.2,121.4L514.9,135M635.9,565L638.6,574.3M605.8,521.7L609.5,535.4M641.9,498.5L647,510.1M591.6,493.6L595.1,504.5M643.3,469.4L648.7,475.7M504.4,165.9L506.4,178.2M484.3,253.5L482.6,267.9M476.8,128.8L480,137.2M661.8,381.7L667.9,388.8M738.3,408.6L748.1,416.7M628.7,444L635.6,454.3M562.2,277.6L570.4,288" stroke="#a88d60" stroke-width="1.7" stroke-opacity="0.6" fill="none" stroke-linecap="round"/><path d="M676.2,501.2L684.4,513.6M648.3,450.4L655.2,459M648.5,388.5L659.8,397.3M637.4,432.8L642.2,441.9M697.1,387.4L701.4,393.3M500.8,193.9L502.6,203.5M649.2,573.2L652.6,583.3M639.4,502.2L640.6,512.7M726.7,421.2L733.7,432.7M692.3,457.5L701.5,467.2M519.4,305.3L524.6,312.8M529.1,97.5L532.9,104.4M492.2,323.4L500.6,330.5M510.7,102L511.4,110.7M667.1,369.3L671.4,379.2M678.1,389.4L682.9,395.3M576.4,290.7L580.5,298.2" stroke="#a88d60" stroke-width="1" stroke-opacity="0.6" fill="none" stroke-linecap="round"/><path d="M724.1,440.4L731.6,448.1M577.2,127.9L582.4,134.3M642.9,481.3L646.5,487.6M607,286.9L612.7,298.7M519.9,135.2L518.8,145M622.3,538.4L625.7,545.8M735.1,489.1L739.9,497.5M574.3,271.6L583.8,279M558.2,177.5L561.5,187.6M698.9,383.9L704.5,389M494.9,272.9L500.1,277.7M525.1,307L533.1,318.7M638.3,471.6L642.2,480.4M731.9,499.4L737,505.4M498.3,251.6L500,265.3M644,468.9L648.7,474.4M642.2,370.7L646.2,380.5M678.2,458.5L686.3,469M764.9,457.5L772.9,469.7M688.1,345.5L693.3,351.3" stroke="#a18659" stroke-width="1.4" stroke-opacity="0.6" fill="none" stroke-linecap="round"/><path d="M609.1,533.4L611,547.2M770.1,475.3L779.7,484.8M636.8,516.5L641.8,524.6M628.2,357.4L633.8,367.5M672.8,452.6L677.1,461.9M502.3,98.3L502.1,112M516.3,231.7L516.3,242.5M632.4,407.3L636.8,415.2M751.4,431.8L756.2,437.9M501.8,95.7L504.6,103M720,533.5L725.2,544M715.2,504.5L720.5,515.4M490.2,245L490.6,252.2M769.2,480.9L775.8,493.8M539.7,256.4L542.3,267.6M657.3,412.1L661.3,421.6M633.7,320L637.3,327.1M486.7,107.5L487.1,116.7M707.7,378.4L711.5,387.2" stroke="#cdbf9c" stroke-width="1.1" stroke-opacity="0.6" fill="none" stroke-linecap="round"/><path d="M677.3,406.4L680.5,414M475.4,124.5L474.3,135.4M621.1,294.4L627,299.9M558.2,143.7L563.1,152.1M745.8,507.2L751.6,516.3M706.5,413.9L714.5,423.8M612.8,315.4L618.4,325.7M597.1,320.7L606.3,330.3M559,138.6L563.1,148.2" stroke="#d2c5a2" stroke-width="0.9" stroke-opacity="0.6" fill="none" stroke-linecap="round"/><path d="M493,175.5L492.4,183.6M646,525L651.2,535M567.8,287.9L571.6,296M663.5,554.2L665.2,564.7M694.8,467.9L699,478.3M732.8,478.6L742.5,486.1M531.1,179.6L538.3,192.2M546.2,167.4L549.4,176.4M693.7,381.2L696.9,388M571.8,141L576,151.1M701.7,512.8L711.6,521.4M515.8,197L516.6,210.2M636.3,403.7L640.7,413.3M480.8,245.7L480.4,256.3M619.9,417.9L625.7,422.5M641.4,377.4L650.8,388.1M551.3,179.3L557.9,190.7" stroke="#bca67c" stroke-width="1.4" stroke-opacity="0.6" fill="none" stroke-linecap="round"/><path d="M669.5,399.6L674.4,412M509.2,208L509.8,215.6M628.2,346.9L635.9,359.2M758.1,497.7L766.7,507.6M711.4,434.9L715.6,440.9M487.5,296L493.4,301.1M611,399.3L619.3,411.3M602.7,532.5L606,543.2M606.1,347.6L610.9,355.8M546,243.9L545.6,256.8M608.4,308.9L614.9,317.2M587.3,365.1L596,372.5M506.7,135.9L507.8,150.6M646.3,354.6L654.7,362.6M624.4,491.1L628.2,497M531.8,158.6L535.8,169.5M779.8,496L788.1,503.1M540.6,144.8L547.2,151.3M681.1,340.1L687.2,351.6M490.6,248.7L489.7,258.6M548.2,117L557.8,126.4M607.6,363.8L613.1,377.2M513.6,169L514,177M500,268.3L498,282.3M646.8,320.3L656.7,330.8" stroke="#a88d60" stroke-width="1.2" stroke-opacity="0.6" fill="none" stroke-linecap="round"/><path d="M515.6,241.8L518.9,251.4M527.7,292.8L532.6,302.2M623,501.1L627.7,515.2M644.5,428.4L648,437M657,537.5L658.4,546.5M595.2,395.4L599,402.2M627.2,526.3L630,535.5M492.3,308.7L497.6,321.4M618.6,298.6L623.3,303.8M633.2,412.4L638.2,420M642.6,370.3L650.1,382.6M513,170.7L518.4,184.3M510.2,114.2L512.6,124.8M627.4,409.8L631.4,416.3M608.6,357.9L613.1,363.9" stroke="#b39a6c" stroke-width="1.2" stroke-opacity="0.6" fill="none" stroke-linecap="round"/><path d="M650.9,510.1L652.3,521.9M547.9,182.1L552.4,195.6M616.7,292.7L624.7,299.6M643.2,342.1L650.4,353M558.3,311.6L562.6,321.4M593.3,388.5L601.7,399.8M499.2,108.6L497.5,120.6M685.9,384.2L695.8,392.4M603,345.9L607.7,355.8M499.8,176.7L500.1,186.3M688.3,415L692.8,426M511.3,129.7L514,138.3M637.4,544.9L645.2,555.6M529.1,129.3L535.1,141.7M762,499.2L766.8,510.4M636.6,303.1L644.7,310.4M656.5,379.5L660.5,386.7M478.9,276.4L484.4,283.1M681,465.6L684.1,473.2M528.3,225.1L530.8,238.2" stroke="#a18659" stroke-width="1.1" stroke-opacity="0.6" fill="none" stroke-linecap="round"/><path d="M702.7,368.5L707.4,378.3M518.4,125.8L519.4,133M638.8,482.1L640.1,491M540.5,273.9L545.8,279M641.3,483.9L647,492.8M585.2,516.9L587.3,528.8M754.5,466.5L760.8,478.6M615.1,413.9L621.9,426.3M519.9,124L519.6,136.2M527.4,180.5L533.8,192.1M547.6,102.3L554.4,110.2M499.7,136.6L499.9,149.9M608.1,382.9L614.4,390.6M743.2,489.9L748.2,502.5" stroke="#a88d60" stroke-width="1.6" stroke-opacity="0.6" fill="none" stroke-linecap="round"/><path d="M501.9,122.1L507.1,135.6M721.9,437.4L728.9,442.8M698.4,458.6L704.7,465.8M615.3,481.4L618.7,490.9M712.8,373.8L718.1,379.2M652.3,442.2L657.2,450.1M711.3,420.2L718.5,432.4M552.6,111.6L559.2,117.8M766.1,514.7L772,525.5M598.4,349.5L604.8,354.8M501.3,167.9L503.1,175.9" stroke="#a88d60" stroke-width="1.5" stroke-opacity="0.6" fill="none" stroke-linecap="round"/><path d="M496,152.4L494.1,167M514.8,220.5L515.4,228.6M511.2,132.7L513.8,139.3M507.4,166.6L505.7,179" stroke="#b39a6c" stroke-width="1.8" stroke-opacity="0.6" fill="none" stroke-linecap="round"/><path d="M751.4,497L755.9,503.4M542.6,195.1L544.7,203.2M662.8,478.6L667.4,488.4M760.5,452.8L767.3,462M638.6,314.2L644.9,326.3M673.7,437.6L681.8,447.4M497.6,137L499.9,149.6M629,380.6L636.3,392.1M661.2,515.8L667.9,526.5M515.2,114.6L517.2,122.8M540.4,108.1L546.1,116.7M477.8,149.7L479.9,157.2M561,316.9L568.9,329.5M689.9,386.3L698.8,396.2M614,413.2L622.3,423.1M494.8,246.1L494.3,254.3M666.3,337.2L673.8,349.1M638.4,401L641.9,407.1M518.3,322.6L521.4,329.5M556.2,258.2L557.1,267.6M698.2,494L704.1,498.8" stroke="#a18659" stroke-width="1.5" stroke-opacity="0.6" fill="none" stroke-linecap="round"/><path d="M575.2,152.8L585.9,163.1M652.5,453.7L659.9,466M706.1,423.1L711,432.7M550.5,162.3L554.2,173.1M686.8,474.4L692.4,481M495.4,124L495.4,133.7M544,284.9L551.6,290.7M518.8,267L520.6,274.9M683.7,366L690.6,377.7M603,289.7L608.2,297.1M639.5,449.2L644.7,461.3M558.4,261.8L558.3,272.1M625.1,374.7L630.5,381.8M485.7,332L491.9,342.8M595,321L599.9,329.9M585.4,360.1L591.3,372.6" stroke="#a88d60" stroke-width="1.3" stroke-opacity="0.6" fill="none" stroke-linecap="round"/><path d="M499.1,291.3L507.6,300.6M539.9,251.4L543.2,261.8M624.6,328.9L635.1,339M590,302L596.9,309.1M631.4,413.4L638.9,420.9M616.1,430.6L618.8,437.6" stroke="#cdbf9c" stroke-width="1.8" stroke-opacity="0.6" fill="none" stroke-linecap="round"/><path d="M538.3,254.9L542.1,269.1M757.5,492.9L762.2,500.9M594.8,342.4L600.7,355M609.6,486.8L616,495.7M596.6,292L602.1,300.5M773.1,504.9L779.2,514.9M580.1,275.4L588,282.1M742,519.2L747.9,526.9M721.8,455.6L726.3,461.2M536.9,193.8L537.6,201.6M619.4,375.6L627.2,388.2M534.3,300.4L538.1,308.1M569.2,173.5L574.5,179.3M693.8,404.4L701.2,411.2M585.1,516.9L591.6,528M537.1,250.9L537.8,260.6M511.7,258.1L511.6,265.2M661.4,374.8L668.4,384.1M704.5,529.1L708.6,538.1M669.5,479.3L675.2,484.2M651.7,398.3L656.4,406.9M522.1,176.3L525.4,188.5M685.6,421.2L689.3,429.8M618,535L620.7,547.6M687.7,376.3L691.5,385.8" stroke="#d2c5a2" stroke-width="1.5" stroke-opacity="0.6" fill="none" stroke-linecap="round"/><path d="M509.8,191L512.1,199.5M508.6,311.7L517.1,322M622.7,516.6L624,526.2M493.9,281L502.7,291.4M713.5,503.6L720.7,511.4M728.9,411.5L734.3,421.7M515.9,308.4L521.9,317.1M621.6,330.7L630.6,341.5M629.5,313.5L635.3,318.5M645.7,467.7L651.6,481.3M572.1,342.2L580.2,350M714.3,430L717,436.9M547.6,303.8L554.9,314.2M651.2,380.8L656.3,387.4" stroke="#b39a6c" stroke-width="1.6" stroke-opacity="0.6" fill="none" stroke-linecap="round"/><path d="M496.4,318.8L499.9,327.6M543.8,130.8L550.6,143.2M655.3,510.3L662.2,521.5M514.3,218L515.7,225.8M577.6,297.8L586.9,309.2M719.7,387.9L728.5,394.9M590,374.3L594.6,379.9M706.2,497.1L717.4,506.4M756.9,511L761,521.1M691.6,439.3L697.8,448.1M529.1,180.5L532.7,193.5M621.3,290.4L630.9,301.2M522.6,148.9L526.7,157.8M744,475.4L751.5,481.3M499.1,234.9L501.6,246.8M550.5,200.6L555,208.9M527.7,126.7L537.3,136.3M633.6,460.7L638.7,471.7M512.9,309L518.3,318.2" stroke="#a18659" stroke-width="1" stroke-opacity="0.6" fill="none" stroke-linecap="round"/><path d="M675.6,403.1L683.3,411.3M629,424L636.7,434.6M635.4,460.8L644.4,468.8M616.9,529.4L620.1,539M541.2,228.7L544.5,235M655.9,570.8L663.1,582.3M624.4,310.5L629.8,322M697.2,411L706.2,421.9" stroke="#cdbf9c" stroke-width="0.9" stroke-opacity="0.6" fill="none" stroke-linecap="round"/><path d="M684.4,526.7L687.7,540M744.4,418.2L749.2,427.3M506.1,253.1L508.6,267.7M784.8,499.2L792.1,508.8M598.6,347.9L608.6,358.7M732.4,503.3L737.4,515.1M675.6,415.8L685.1,424.9" stroke="#a88d60" stroke-width="0.9" stroke-opacity="0.6" fill="none" stroke-linecap="round"/><path d="M517.1,261.5L518.4,274.6M661.4,533.3L668.2,544M599.9,349.5L602.8,356.7M603.4,283.6L609.6,296.4M743.2,520.4L753.2,528.3M615.7,292.4L619.2,299.5M716.8,494.7L725,505.4M767.1,503.2L770.7,509.3M608.6,280.8L618.9,290.4M656.9,506.1L657.7,514.5M596.7,276.2L602.2,288.2M729.7,443.5L734.9,449.4M490.4,330.6L496.9,344M590.6,511.3L592.2,518.2M712.7,494.7L718.5,500M651.4,439.4L657.9,450.7" stroke="#a88d60" stroke-width="1.4" stroke-opacity="0.6" fill="none" stroke-linecap="round"/><path d="M717.6,482.1L722.5,493.2M720,409.1L727.6,416.2M617.6,368.8L624.6,375.4M533.5,299.3L543.1,309.4M484.6,132.1L485.8,140.7M766.6,453.1L772.5,460.2M678.7,365.1L687.2,373.3" stroke="#d6cbab" stroke-width="1.8" stroke-opacity="0.6" fill="none" stroke-linecap="round"/><path d="M770.2,473.5L776.5,486.6M615,475.7L624.6,485.7M485.7,290L493.6,299.5M607.4,329L615.3,338M605.8,390.1L612.8,400.2M623.8,398.9L636.3,410.8M722.5,385.1L732.5,394.7" stroke="#a08857" stroke-width="3.1" stroke-opacity="0.3" fill="none" stroke-linecap="round"/><path d="M632,344.7L641.6,356.6M577.4,327.7L587.8,338.2M607.1,353.5L615.9,362.6M708.9,515.9L720.5,527.4M736.1,465.7L745.1,479.8M609.4,478.6L620.1,492M625.5,427L634.3,434.7M532.8,280L543.5,294.1M491.2,288.8L499.8,297.5M705,500.4L711.8,512.5" stroke="#98804f" stroke-width="2.6" stroke-opacity="0.3" fill="none" stroke-linecap="round"/><path d="M589.6,377.5L599.4,388.5M530.4,281.1L543,292.8M760,457.2L771.3,467.2M633.6,390.7L640.2,402.8M715,516.4L725.1,530.3M686.7,395.6L693.4,403.9M614.4,396.4L624.9,410.2M753.7,482.8L762.7,493.1M742.7,454.6L747.9,465M754.9,450.9L762.5,462.7M688.5,361.4L695.7,374.3" stroke="#a08857" stroke-width="3.3" stroke-opacity="0.3" fill="none" stroke-linecap="round"/><path d="M499,307.8L510.8,318.9M638.2,360.6L648.3,372.2M541.8,292.7L548.4,304.6M649.9,471.9L657.3,479M644.1,323.5L653.3,336.6M664.2,375.3L677.3,387.2M635.4,339.7L645.6,353.1M614,414.4L621.5,424.2M592.7,314.5L601.6,323.4" stroke="#98804f" stroke-width="3.5" stroke-opacity="0.3" fill="none" stroke-linecap="round"/><path d="M637.7,378.4L644.4,392.9M760,494.2L767,502.7M682.9,354.8L693,365.5M754.6,501.1L765.1,511.4M565.1,284.5L576,294.1M724.2,468L731.5,479M635.7,313.4L644,327.7M765.8,494.1L776.7,505.6M589,296.9L596.2,309.4M641.7,391.9L653.3,403.8" stroke="#a08857" stroke-width="2.9" stroke-opacity="0.3" fill="none" stroke-linecap="round"/><path d="M661,436.4L668.5,443.9M641.3,377.7L649.5,389.8M607.5,411.9L618.7,425.5M610.1,283.6L618.1,297.4M639.5,472.2L646.2,480.4M718.5,434.9L726.7,446.9M639.6,441.1L649.5,456.1M674.9,433.2L685.7,445.5M667.4,357.3L674.2,369.5M673.5,376L681.3,388.2M618.1,479.8L623.9,491.7" stroke="#98804f" stroke-width="2.7" stroke-opacity="0.3" fill="none" stroke-linecap="round"/><path d="M501.2,320.9L510,330.1M760.2,467.8L771.4,477.9M653.2,353.3L660.8,367.1M656,375.8L662.5,386.1M667.5,436.6L674.5,443.9M697.7,386.5L710.3,398.8M670,455.3L677.6,464.3" stroke="#98804f" stroke-width="2.3" stroke-opacity="0.3" fill="none" stroke-linecap="round"/><path d="M710.1,445.5L717.4,455M617.2,392.7L624,401.9M567.6,282.1L572.8,292.4M639.2,334.8L651.3,347.4M502.4,296.4L514,308.6M605.6,373.8L610.4,383.2M664.2,421L672.9,432.9M731.5,401.2L739,411.1M700.4,378.7L707.3,386.2M476.3,297.8L482.1,309M725.6,391.1L734.7,405" stroke="#98804f" stroke-width="2.4" stroke-opacity="0.3" fill="none" stroke-linecap="round"/><path d="M690.5,437.9L696.7,446.8M577.3,301.1L583.5,311.2M519.6,302.4L524.7,312.9M661.6,411.2L673.3,423.8M753.8,510.7L761.8,526.2M643.5,392.1L649.5,401.6M591.5,309.6L599.7,318.1M684.3,385.9L691.7,399.2M570.2,315.6L580.8,325.3" stroke="#a08857" stroke-width="2.6" stroke-opacity="0.3" fill="none" stroke-linecap="round"/><path d="M628.6,335.9L638.9,345.9M545.2,301.2L554.7,310.1M508.7,288.1L518.8,298.7M673,381L682.4,390.4M740.1,433.9L748.6,445.4M610.6,300.3L622.7,311.9M699.2,402.9L709.4,415.3M733.1,454.7L745.6,467" stroke="#a08857" stroke-width="2.8" stroke-opacity="0.3" fill="none" stroke-linecap="round"/><path d="M749.7,467.4L759.5,479.1M676,444.2L682.9,457.8M616.2,319.9L625.6,329.7M714.1,485L722.4,498.8M537,300.7L544.6,312.4M577.8,314.7L586.6,329M683,421.5L693.9,432.8M566.1,291.2L572.7,301.7M713.9,376.2L721.1,387.9" stroke="#98804f" stroke-width="3.2" stroke-opacity="0.3" fill="none" stroke-linecap="round"/><path d="M726.3,412.4L734.3,421.6M616.9,338.5L629.4,350.2M521.1,331.6L527,342.8M659.1,438.4L667.2,447.2M674.6,420.6L684.4,430.5M601.6,318.9L608.3,326.7M678.8,460.3L685.1,471.3" stroke="#98804f" stroke-width="2.5" stroke-opacity="0.3" fill="none" stroke-linecap="round"/><path d="M733.2,462.3L741.1,473.3M649.2,469.8L657.7,479.8M489.8,305.7L498.4,319.1M633,336L638,346.5M576.2,335L585.7,348.6M745.4,418.2L754.6,426.8" stroke="#a08857" stroke-width="3.6" stroke-opacity="0.3" fill="none" stroke-linecap="round"/><path d="M616.9,401.6L628.3,412M698.7,433.9L707.1,446.9M634.9,336.8L646.2,350.2M632.3,351.1L641.1,359.4M611.7,327.5L619.2,339.3M694.1,348.1L700,359.5M632.5,313L642.6,323.3M608.4,415.1L616,424.8M580.2,284.6L588.3,296.8M774.7,508.5L785.2,518.8M596.6,321.6L603.3,330.6M701.3,510.6L708.9,525.3" stroke="#a08857" stroke-width="2.7" stroke-opacity="0.3" fill="none" stroke-linecap="round"/><path d="M597.4,364.7L606.7,374.1M748,477.9L757.8,488.2M491.8,291.6L500,300.8M491.6,323.1L502.6,333M720.4,392.3L729.6,402.9M741.9,423.3L751.6,436.4" stroke="#a08857" stroke-width="3" stroke-opacity="0.3" fill="none" stroke-linecap="round"/><path d="M542.9,293.7L554.3,304.8M672.7,346.4L679.4,357.5M745.7,514L755.1,526.5M599.7,314.5L604.4,323.5M704.5,452.1L709.6,461M722.7,523.8L732.7,536.3" stroke="#98804f" stroke-width="3" stroke-opacity="0.3" fill="none" stroke-linecap="round"/><path d="M631.3,412L643.2,423.3M690.8,355.1L703.3,367.5M683.2,476.3L690.1,484.2M625.3,337.7L634.4,352M712.7,448.4L722.2,459.3M661.4,385.6L669.6,394M527.1,298.6L534.3,311.8M623.4,344.4L630,356M622.5,352.1L632.2,361M679.8,412.6L686.7,425.8M621.3,360.2L627.7,370.2M762.9,509.9L772.8,518.8" stroke="#98804f" stroke-width="2.8" stroke-opacity="0.3" fill="none" stroke-linecap="round"/><path d="M741.1,458.6L749.4,471M748.9,450.8L754.5,459.4M680.5,389.9L688,405.2M510.7,334.6L518.9,349.8M711.7,391.8L719.1,398.5M718.7,388.4L724.9,400.3" stroke="#a08857" stroke-width="2.3" stroke-opacity="0.3" fill="none" stroke-linecap="round"/><path d="M652.2,393.3L662.8,405M662.9,413.2L670.4,426M625.7,293.3L635.2,307.1M693.6,409.8L698.5,419.6M735.7,459.9L744,473.2M615.8,407.6L623.3,422.6M749.1,509.8L759.1,519.8M681.5,401.2L694.3,413.3" stroke="#a08857" stroke-width="3.5" stroke-opacity="0.3" fill="none" stroke-linecap="round"/><path d="M712.4,483.6L719.3,494M605,366.6L611.9,377.2M706.8,379L712.8,389.6M648.7,425.1L656.6,434.5M636.6,307.4L642.6,320.3M544.2,286.1L552.3,300.1M625.8,464.8L635.8,477.9M579.6,360.2L587.7,376.1M549.9,281.3L558.4,296.4M586.6,303.5L593.3,311.9M522.4,298.7L532,308.7M713.3,444.1L723.3,454.5M578.4,292.2L588.2,304.8M723.7,446.7L731,456.7M674.8,361.3L682.6,375.6" stroke="#a08857" stroke-width="3.2" stroke-opacity="0.3" fill="none" stroke-linecap="round"/><path d="M712.4,469.1L721,477.7M711.7,535.3L723.9,546.6M711.9,519.4L719.9,533.5M642.3,392.4L649.2,404.7M585.9,304.5L593,319.5M687.7,446.1L698.7,457.3M676.2,368.7L686.5,378M712.4,444.4L721,454.8M748.4,451.5L758.1,464.9M643.8,392.5L651.9,399.9" stroke="#a08857" stroke-width="2.4" stroke-opacity="0.3" fill="none" stroke-linecap="round"/><path d="M686.5,431.5L695.3,443.3M627.2,331L634.9,344.6M496.4,289.4L504.8,301.5M752.4,506.4L760.9,520.1M676.3,383.8L687.1,393.3" stroke="#98804f" stroke-width="2.2" stroke-opacity="0.3" fill="none" stroke-linecap="round"/><path d="M708.1,466.8L715.3,478.7M593.4,363.8L604.8,374.2M705.2,526.9L715.5,537.9M481.8,335.8L488.7,344.8M520.4,331.3L526.4,341M705.8,475.8L712.4,488.6M738.4,435.5L745.7,449.6M602.9,322.4L609,330.7M752.6,499.1L760.4,512.6" stroke="#98804f" stroke-width="3.3" stroke-opacity="0.3" fill="none" stroke-linecap="round"/><path d="M660,458.6L667.9,470.9M710.4,495L716.3,503.2M713.8,379.5L719.3,388.9M755.3,487.8L763.2,497.9M647,466.2L653.8,476M714.2,405.5L720.4,418.5M695.4,514.4L704.1,523.4M659.5,344.4L669.7,356M689.5,473.7L697.4,484.7M620.4,346.3L626,356.6M598.9,395.6L606.3,410" stroke="#98804f" stroke-width="2.9" stroke-opacity="0.3" fill="none" stroke-linecap="round"/><path d="M728,466.6L734.9,476.9M710.6,535.1L719.5,547.2M659.9,448.9L672.1,461.4M557.8,304.6L567.6,316.8M639.5,402.6L645.8,412.1M733.4,495.4L740.1,508.1M556.2,303.9L564.2,317.2M609.5,314.2L618.4,323M759.9,499.1L768.8,512.2M736.7,468.8L743.3,482.6M596.6,361.3L604.9,376" stroke="#98804f" stroke-width="3.1" stroke-opacity="0.3" fill="none" stroke-linecap="round"/><path d="M598.7,354.6L607.2,363.8M670.9,352.9L679.4,363.6M644.4,465.4L653.7,478.5M683.5,473.7L689,482.5" stroke="#98804f" stroke-width="3.6" stroke-opacity="0.3" fill="none" stroke-linecap="round"/><path d="M522.8,327.2L534.1,338.1M487.4,332L495.4,340.2M658.5,347.4L667.6,359.7M629.6,412.8L636.5,423M756.3,469.8L767.9,481M772.5,468.3L782.7,481M630.3,298.4L641.4,311.2M621,439L626.7,448.7" stroke="#a08857" stroke-width="2.5" stroke-opacity="0.3" fill="none" stroke-linecap="round"/><path d="M623.3,381.4L632.2,391.2M693.5,389.8L699.2,398.7M730.8,487.5L738.9,502.4M583.3,346.6L594.5,356.8M751.8,447.7L761,461.7M683,406.5L690.4,419.9M635.8,427.9L643.5,437.6M630.9,374.3L639.2,389.5M487.9,338.8L495.6,354.1M494,319.1L498.8,328.2M739.7,463.1L750.3,477.3" stroke="#98804f" stroke-width="3.4" stroke-opacity="0.3" fill="none" stroke-linecap="round"/><path d="M761.4,479.3L773.3,491.2M685.5,433.3L694.6,447.4M481.5,301.9L494.2,314.2M677.8,364.9L689.8,376.2M625,306.6L633.2,315.5M621.3,290.4L630.6,298.8M645.6,394.3L651.7,403.4" stroke="#a08857" stroke-width="3.4" stroke-opacity="0.3" fill="none" stroke-linecap="round"/><path d="M718.5,489.7L728,505M629.8,418.2L642.4,430.9M627,395.3L634.5,409M555.7,321.9L561.5,330.5" stroke="#a08857" stroke-width="2.2" stroke-opacity="0.3" fill="none" stroke-linecap="round"/></g>
<path d="M501.6,90.5L507,96.4M506.5,88.7L511.6,95.9M511.1,87.2L516.4,94M515.1,86.3L521.4,89.1M520.6,83.7L524.4,90.3M525.2,84.6L528,89.2M529.3,86.8L533.8,90.8M534,88.6L539.2,93.7M538.1,91L543.5,93.3M542.9,92.5L550.1,97.3M547.9,93.9L551.3,98.4M552.4,95.9L555.7,100.4M556.1,99.1L559.8,103.1M559.5,102.9L567.3,106.1M563.4,105.7L568.5,108.7M568.1,108L572.1,115.5M571.2,111.8L578.5,116.7M573.2,116.1L578.8,121.4M574.6,121.1L582.2,125.5M576.8,125.2L582.5,132M578.7,129.6L582,134.9M579.9,134.8L584.4,138.2M581.1,139.7L585.7,142.2M580.1,144.3L586.3,148.5M578.9,149.5L586,152.4M578,153.9L583.1,157.5M577.4,158.2L581.4,163.9M575.9,163.5L581.5,167.5M574.5,167.7L577.8,171.8M572.5,171.8L574.9,176.3M569.9,176.4L575,183M566.9,181.5L574.4,184.7M564.8,185.4L570.7,189.8M562.2,190.2L567,192.2M560,194.3L567.7,198.7M557.7,198.6L564.6,202.7M556,202.3L560.5,209.8M553.1,207.1L558.3,210.9M550.9,211.3L556.8,216.9M548.2,216.1L555.3,219.7M498.5,91.4L503.4,86.9M502.8,91L504.8,84.5M506.2,90.1L507.8,85.4M509,88.9L513.3,83.7M512.7,88.2L516,82.3M515.9,87.1L518.9,83.2M519.5,86.4L521.7,82.4M523.2,86.2L524.6,82M525.8,87.1L530.5,82M529.6,88.9L531.2,85M532,89.5L536.6,86.3M535.9,91.4L538.4,87.4M538.9,92.6L543,87.5M542.4,94L545.3,89.6M546.1,95.6L548.2,89.1M549.4,96.9L551,91.7M487.1,170.3L484.1,174.8M488.8,174.2L484.9,181M490.5,178L487.3,184.7M491.7,181.8L491.1,188.1M493.1,185.8L492.3,193.2M492.8,190.1L491.4,196.3M493.1,194.8L488.2,200.6M492.5,199.1L488.4,204M491.4,203L488.9,209.8M490.8,207.3L488.8,212.8M489.2,211.3L487.6,216.5M487.4,215.3L485.3,222.9M486.4,219.6L482.1,225M484.1,223.3L482,228.9M481.9,227.1L481.4,232.9M481.1,231.4L477,237.8M478.8,235.1L476.9,242.2M477.9,239.4L474.2,245.4M477.2,243.6L473.9,250.1M476.2,247.8L474.4,254.6M475.5,252L474.2,258.3M475.6,256.6L471.9,262.6M474.4,260.6L472.7,268.2M474.3,265L471.2,271.1M472.8,269.1L472.7,275.8M472.6,273.4L471.3,280.3M472.7,277.8L470.3,284.9M473.1,282.3L469.8,288.9M472.8,286.4L471.1,293.1M473.5,291L469.7,297.4M473.1,295.1L471.2,302.4M473.9,299.7L469.8,305.5M474.1,304.1L469.1,310.2M473.7,308.1L471.3,314.3M572.1,501.2L576.8,510.2M574,504.7L573.5,513M574.5,508.4L575.6,517.9M575.4,512L576,518.8M576.3,515.7L576.8,524.6M577,519.4L578.1,527.4M577.8,523L579.5,532.8M578.7,526.7L580.2,536.2M578.7,530.7L582.5,536.4M582,532.9L584.7,541.7M584.8,535.2L588.9,543.6M588.4,537.2L589.4,543.3M591.2,539.4L593.2,546.2M593.8,541.8L597.4,547.4M597.2,543.8L599.8,550.2M600.1,546L602.9,551.5M603.6,548L605.7,555.6M606.8,550.2L608.4,559M609.2,552.8L613.6,562.4M611.7,555.5L616.2,562.1M614.9,557.8L618.1,565.2M617.5,560.4L622.6,569.2M620.6,562.8L622.7,568.6M623.8,565.2L624.9,571.5M626.5,567.7L628.2,575.2M629.4,570.2L631.5,580.8M632.5,572.6L632.8,580.7M635.8,574.4L636.1,583.6M638.6,576.2L640.8,582.6M642.2,577.8L643.9,586.5M646.1,579.5L645.4,590.3M649,581.2L650.4,588.8M652.8,582.9L652.6,588.9M655.4,583.5L659.9,591.2M659.9,583.6L661,590.2M663.6,583.9L665.4,594.2M667.1,584.2L669.8,591.9M670.6,584.6L673.8,591.3M675.4,584.7L674.8,592.6M679.1,585L678.4,595.5M667.5,534.1L668.9,539.7M672.5,533.7L672.3,540.2M676.1,533.6L678.2,539.1M681.3,533.1L681.1,539.6M684.8,533.1L687.6,538.8M689,532.9L692.7,538.7M693.8,532.4L695.8,537.9M698.7,532L699.5,539.5M702.1,533.2L706,538.5M706.7,533.9L710.2,540.8M711.7,534.5L712.4,540.2M715.4,535.5L717.9,540.4M720.7,536.2L720.5,542M724.5,537.1L726,543.3" fill="none" stroke="#b0966a" stroke-width="1.3" stroke-linecap="round" stroke-opacity="0.9"/>
<g clip-path="url(#cbody)" fill="#94794b" fill-opacity="0.32" filter="url(#blur1)"><ellipse cx="673.9" cy="424.5" rx="6.6" ry="4.3" transform="rotate(52 673.9 424.5)"/><ellipse cx="583.9" cy="360.7" rx="6.3" ry="4.6" transform="rotate(52 583.9 360.7)"/><ellipse cx="668.2" cy="335.1" rx="6.8" ry="3.2" transform="rotate(52 668.2 335.1)"/><ellipse cx="645" cy="444.9" rx="6.3" ry="4.7" transform="rotate(52 645 444.9)"/><ellipse cx="718.4" cy="476.9" rx="6.4" ry="3.9" transform="rotate(52 718.4 476.9)"/><ellipse cx="646.7" cy="460.9" rx="8.2" ry="3.2" transform="rotate(52 646.7 460.9)"/><ellipse cx="742.3" cy="504.3" rx="9" ry="4.9" transform="rotate(52 742.3 504.3)"/><ellipse cx="667.4" cy="338.2" rx="7.9" ry="4.5" transform="rotate(52 667.4 338.2)"/><ellipse cx="757.2" cy="441.4" rx="6.2" ry="3.9" transform="rotate(52 757.2 441.4)"/><ellipse cx="611.6" cy="310.2" rx="9.4" ry="4.8" transform="rotate(52 611.6 310.2)"/><ellipse cx="761.7" cy="455.2" rx="8.3" ry="3.1" transform="rotate(52 761.7 455.2)"/><ellipse cx="655.5" cy="457.3" rx="9" ry="3.1" transform="rotate(52 655.5 457.3)"/><ellipse cx="633.7" cy="394.7" rx="9.5" ry="3.3" transform="rotate(52 633.7 394.7)"/><ellipse cx="560.6" cy="326.1" rx="6.1" ry="4.9" transform="rotate(52 560.6 326.1)"/><ellipse cx="710.9" cy="422.2" rx="8" ry="3.5" transform="rotate(52 710.9 422.2)"/><ellipse cx="689.2" cy="354.9" rx="7.1" ry="3.9" transform="rotate(52 689.2 354.9)"/><ellipse cx="557" cy="294.1" rx="6.6" ry="3.2" transform="rotate(52 557 294.1)"/><ellipse cx="702.9" cy="461.4" rx="6.7" ry="4.9" transform="rotate(52 702.9 461.4)"/><ellipse cx="632.2" cy="391.3" rx="8" ry="4.4" transform="rotate(52 632.2 391.3)"/><ellipse cx="749.3" cy="478.8" rx="7.3" ry="4.8" transform="rotate(52 749.3 478.8)"/><ellipse cx="726.2" cy="503.4" rx="9" ry="5" transform="rotate(52 726.2 503.4)"/><ellipse cx="654.7" cy="454.8" rx="9.1" ry="4" transform="rotate(52 654.7 454.8)"/><ellipse cx="661" cy="378.1" rx="9.5" ry="3.8" transform="rotate(52 661 378.1)"/><ellipse cx="719.2" cy="413.6" rx="8.8" ry="3.6" transform="rotate(52 719.2 413.6)"/><ellipse cx="674.6" cy="439" rx="6.2" ry="3" transform="rotate(52 674.6 439)"/><ellipse cx="712.9" cy="419" rx="8.6" ry="4.6" transform="rotate(52 712.9 419)"/><ellipse cx="605" cy="325.4" rx="9.9" ry="3.1" transform="rotate(52 605 325.4)"/><ellipse cx="663.8" cy="427.3" rx="9.8" ry="3.2" transform="rotate(52 663.8 427.3)"/><ellipse cx="648.9" cy="426.4" rx="9.4" ry="3.1" transform="rotate(52 648.9 426.4)"/><ellipse cx="541.1" cy="296.9" rx="9.1" ry="3.1" transform="rotate(52 541.1 296.9)"/><ellipse cx="728.4" cy="467.6" rx="9.3" ry="4.9" transform="rotate(52 728.4 467.6)"/><ellipse cx="692" cy="471.5" rx="8.2" ry="4.3" transform="rotate(52 692 471.5)"/><ellipse cx="655.6" cy="409.1" rx="9.1" ry="3.6" transform="rotate(52 655.6 409.1)"/><ellipse cx="652.5" cy="331.8" rx="8.3" ry="4.9" transform="rotate(52 652.5 331.8)"/><ellipse cx="632.8" cy="435.1" rx="8.2" ry="3.4" transform="rotate(52 632.8 435.1)"/><ellipse cx="621.5" cy="431.7" rx="6.8" ry="4" transform="rotate(52 621.5 431.7)"/><ellipse cx="625.1" cy="339.7" rx="6.6" ry="4.3" transform="rotate(52 625.1 339.7)"/><ellipse cx="647.3" cy="356.5" rx="7" ry="4.9" transform="rotate(52 647.3 356.5)"/><ellipse cx="655.2" cy="440" rx="7.1" ry="3.3" transform="rotate(52 655.2 440)"/><ellipse cx="640.6" cy="404.7" rx="8.5" ry="4.4" transform="rotate(52 640.6 404.7)"/><ellipse cx="750.4" cy="466.4" rx="8.7" ry="4.6" transform="rotate(52 750.4 466.4)"/><ellipse cx="670" cy="394" rx="9.7" ry="4.8" transform="rotate(52 670 394)"/><ellipse cx="643.1" cy="455.4" rx="6.1" ry="4.2" transform="rotate(52 643.1 455.4)"/><ellipse cx="749" cy="439.7" rx="6.1" ry="3.2" transform="rotate(52 749 439.7)"/><ellipse cx="697.7" cy="421.5" rx="9.4" ry="3.7" transform="rotate(52 697.7 421.5)"/><ellipse cx="658.3" cy="354.7" rx="7.4" ry="3.2" transform="rotate(52 658.3 354.7)"/><ellipse cx="681.2" cy="402.1" rx="7.7" ry="3.4" transform="rotate(52 681.2 402.1)"/><ellipse cx="686.6" cy="383.4" rx="6.1" ry="3.1" transform="rotate(52 686.6 383.4)"/><ellipse cx="714.2" cy="397" rx="7.1" ry="4.1" transform="rotate(52 714.2 397)"/><ellipse cx="664.4" cy="418.5" rx="9.5" ry="3.1" transform="rotate(52 664.4 418.5)"/><ellipse cx="699.2" cy="416.8" rx="8.9" ry="3.3" transform="rotate(52 699.2 416.8)"/><ellipse cx="738.9" cy="464.6" rx="7.1" ry="4.9" transform="rotate(52 738.9 464.6)"/><ellipse cx="693.2" cy="445.2" rx="7.9" ry="3.5" transform="rotate(52 693.2 445.2)"/><ellipse cx="670.8" cy="388.7" rx="7.5" ry="3.8" transform="rotate(52 670.8 388.7)"/><ellipse cx="650.9" cy="371.3" rx="6.5" ry="4" transform="rotate(52 650.9 371.3)"/></g>
</g>
<g id="lwing">
<path d="M232,315.5C224.2,315.1 220.2,321.7 224.4,327.9Q226.9,331.4 231.2,329.2" fill="none" stroke="#25404b" stroke-width="3.4" stroke-linecap="round"/><path d="M232,315.5C224.2,315.1 220.2,321.7 224.4,327.9Q226.9,331.4 231.2,329.2" fill="none" stroke="#5f7f8a" stroke-width="1" stroke-linecap="round" stroke-opacity="0.8"/>
<path d="M286.9,292.7C285.9,291.9 284.1,293.4 282.7,293.8C281.3,294.2 279.9,294.7 278.6,295.1C277.2,295.6 275.8,296.2 274.5,296.7C273.1,297.2 271.8,297.7 270.4,298.2C269,298.7 267.7,299.1 266.3,299.5C264.8,299.9 263.4,300.1 262,300.5C260.5,300.8 259.1,301.1 257.7,301.5C256.3,301.8 254.9,302.3 253.5,302.8C252.2,303.3 250.9,303.9 249.5,304.4C248.2,305 246.8,305.5 245.5,306C244.1,306.5 242.7,306.9 241.3,307.3C239.9,307.7 238.4,307.9 237.1,308.4C235.7,308.9 234.2,309 233.2,310.4C232.2,311.8 231.4,315.9 231,317C230.6,318.1 230,316.4 231,317C232,317.6 235.3,320.1 237,320.5C238.7,320.9 239.9,319.9 241.2,319.4C242.6,318.9 243.8,318.1 245.1,317.5C246.4,316.8 247.8,316.2 249.1,315.7C250.5,315.2 251.8,314.7 253.2,314.2C254.6,313.7 256,313.3 257.3,312.8C258.7,312.3 260,311.7 261.3,311C262.6,310.4 263.9,309.7 265.2,309C266.5,308.3 267.7,307.5 269,306.9C270.3,306.2 271.7,305.6 273,305.1C274.3,304.5 275.7,304.1 277.1,303.5C278.4,303 279.8,302.6 281.2,302C282.5,301.5 283.8,300.9 285.1,300.2C286.5,299.6 288.8,299.6 289.1,298.3C289.4,297 288,293.4 286.9,292.7Z" fill="url(#g57)" stroke="#1f5f79" stroke-width="1.3" /><path d="M277.4,298.9L276.6,296.6M272.3,300.9L271.4,298.6M267.1,302.8L266.1,300.3M261.8,304.6L260.7,301.7M256.6,306.5L255.4,303.3M251.4,308.4L250.2,305.3M246.3,310.4L245.1,307.2M241.1,312.3L239.8,308.9" fill="none" stroke="#eef8fa" stroke-width="1.3" stroke-opacity="0.85"/>
<path d="M209,347.5C204.8,346.9 202.3,350.3 204.3,353.8Q205.5,355.8 207.9,354.8" fill="none" stroke="#25404b" stroke-width="3.4" stroke-linecap="round"/><path d="M209,347.5C204.8,346.9 202.3,350.3 204.3,353.8Q205.5,355.8 207.9,354.8" fill="none" stroke="#5f7f8a" stroke-width="1" stroke-linecap="round" stroke-opacity="0.8"/>
<path d="M242.3,331.4C241.6,331 240.5,332 239.6,332.3C238.7,332.6 237.8,333 236.9,333.3C236,333.7 235.2,334.1 234.3,334.5C233.4,334.9 232.6,335.3 231.7,335.6C230.8,336 229.9,336.3 229,336.6C228.1,337 227.2,337.2 226.2,337.5C225.3,337.8 224.4,338.1 223.5,338.4C222.6,338.7 221.7,339 220.8,339.4C220,339.8 219.1,340.2 218.2,340.6C217.4,341 216.5,341.4 215.6,341.8C214.7,342.1 213.8,342.5 212.9,342.8C212,343.1 211.1,343.3 210.2,343.7C209.3,344.1 208.3,344.2 207.6,345C206.9,345.8 206.3,347.9 206,348.5C205.7,349.1 205.4,348.3 206,348.5C206.6,348.7 208.6,349.7 209.6,349.8C210.7,349.8 211.5,349.2 212.4,348.9C213.3,348.5 214.1,348 214.9,347.6C215.8,347.2 216.7,346.7 217.5,346.4C218.4,346 219.3,345.7 220.2,345.3C221.1,345 222,344.7 222.9,344.3C223.8,343.9 224.6,343.5 225.5,343.1C226.4,342.7 227.2,342.2 228,341.8C228.9,341.3 229.7,340.9 230.6,340.4C231.4,340 232.3,339.6 233.2,339.2C234.1,338.8 235,338.5 235.8,338.2C236.7,337.8 237.6,337.5 238.5,337.1C239.4,336.7 240.2,336.3 241.1,335.9C242,335.5 243.5,335.4 243.7,334.6C243.9,333.9 243,331.8 242.3,331.4Z" fill="url(#g58)" stroke="#1f5f79" stroke-width="1.3" /><path d="M232.3,337.2L231.8,336M227,339.3L226.4,337.9M221.7,341.5L221,339.9M216.4,343.7L215.8,342.2" fill="none" stroke="#eef8fa" stroke-width="1.3" stroke-opacity="0.85"/>
<path d="M161,390C153.9,394.5 154.4,402.8 161.9,405.7Q166.4,407.3 168.8,402.6" fill="none" stroke="#25404b" stroke-width="3.4" stroke-linecap="round"/><path d="M161,390C153.9,394.5 154.4,402.8 161.9,405.7Q166.4,407.3 168.8,402.6" fill="none" stroke="#5f7f8a" stroke-width="1" stroke-linecap="round" stroke-opacity="0.8"/>
<path d="M231.7,337.7C230,337.2 228,339.8 226.2,341C224.4,342.1 222.6,343.2 220.8,344.5C219,345.7 217.3,346.9 215.6,348.2C213.8,349.4 212.1,350.7 210.3,351.9C208.6,353.1 206.8,354.3 204.9,355.4C203.1,356.5 201.2,357.5 199.3,358.5C197.4,359.6 195.5,360.6 193.7,361.7C191.8,362.8 190.1,364 188.3,365.2C186.5,366.4 184.9,367.8 183.1,369C181.4,370.3 179.7,371.6 177.9,372.8C176.2,374 174.3,375.1 172.5,376.2C170.7,377.3 168.7,378.2 166.9,379.5C165.2,380.7 163.1,381.4 162,383.5C160.8,385.6 160.3,390.6 160,392C159.7,393.4 158.6,391.8 160,392C161.4,392.2 166.3,393.5 168.6,393.2C171,392.9 172.4,391.2 174.2,390C176,388.8 177.5,387.2 179.2,385.9C180.9,384.6 182.6,383.3 184.4,382.1C186.1,380.9 187.9,379.7 189.7,378.6C191.5,377.4 193.4,376.3 195.1,375.1C196.9,373.9 198.6,372.6 200.3,371.3C202,370 203.6,368.6 205.3,367.2C206.9,365.8 208.5,364.4 210.2,363.1C211.9,361.7 213.6,360.5 215.4,359.2C217.1,358 218.9,356.9 220.7,355.7C222.5,354.5 224.3,353.3 226.1,352.1C227.8,350.9 229.5,349.6 231.2,348.3C232.9,347 236.2,346.1 236.3,344.3C236.4,342.5 233.4,338.3 231.7,337.7Z" fill="url(#g59)" stroke="#1f5f79" stroke-width="1.3" /><path d="M223.7,347.2L222,344.7M218.8,350.6L217.1,348.2M213.9,354.1L212.3,351.7M208.9,357.4L207.3,355M204,360.8L202.1,358.1M199,364.1L196.9,361.1M194,367.5L191.8,364.3M189.1,370.9L186.9,367.7M184.2,374.3L182.1,371.2M179.2,377.7L177.1,374.6M174.3,381.1L172.1,377.9M169.3,384.4L166.9,380.9" fill="none" stroke="#eef8fa" stroke-width="1.3" stroke-opacity="0.85"/>
<path d="M194.7,432.8C195.1,438.1 184.5,447.6 179.7,455.2C174.9,462.7 171,469.1 165.7,478.1C160.5,487.2 153.9,498.9 148.3,509.4C142.6,519.9 135.1,534.6 131.8,541.2C128.4,547.8 130.4,544.4 128,549C125.5,553.6 120.4,563.7 117.2,568.8C114.1,573.9 111.5,577.2 109.3,579.8C107,582.4 105.4,583.7 103.9,584.6C102.3,585.4 101,585.6 100,585C99,584.4 98.2,583.2 97.9,581.3C97.5,579.3 97.3,577.1 97.7,573.5C98.1,569.9 98.7,565.5 100.5,559.6C102.4,553.8 106.7,543.3 108.7,538.4C110.7,533.6 109.1,537.2 112.5,530.6C115.9,524 123.2,509.2 129,498.8C134.8,488.4 141.8,476.9 147.3,468C152.8,459.1 157,452.9 162,445.5C167,438 171.9,425.4 177.3,423.2C182.8,421.1 194.3,427.4 194.7,432.8Z" fill="url(#g60)" stroke="#b8733d" stroke-width="1.4" stroke-opacity="0.85"/><path d="M129.7,527.2L119.9,545.7M113.9,554.4L104.9,574.5M126.1,535.6L117.6,551.7" fill="none" stroke="#f8efe0" stroke-width="1.1" stroke-linecap="round" stroke-opacity="0.7"/><path d="M176.9,439.3L169.3,440.9M173.5,448.3L175.3,455M166.3,455.3L158,456.4M163.1,464.4L166.5,472M156.2,471.5L149.1,473.3M153.2,480.7L156.2,488M146.5,487.9L139.2,489.6M143.7,497.2L145.7,504.1M137.1,504.5L129.4,506M134.5,514L138.6,521.9M128.2,521.4L119.9,522.5" fill="none" stroke="#e2b566" stroke-width="0.7" stroke-opacity="0.5"/>
<path d="M219.6,424.7C220.9,433.1 205.1,451.8 198.6,465.6C192.1,479.4 186.9,491 180.6,507.5C174.2,524 166.5,545.4 160.4,564.6C154.3,583.9 147.4,610.7 144.1,623C140.8,635.3 142.7,629.8 140.6,638.4C138.5,647.1 134.2,665.2 131.3,674.8C128.5,684.4 125.9,690.8 123.6,696C121.3,701.2 119.4,703.8 117.5,705.8C115.6,707.8 113.7,708.5 112,708C110.3,707.5 108.7,705.6 107.4,702.6C106.1,699.5 104.9,695.9 104.2,689.7C103.5,683.6 102.6,676.1 103.3,665.8C104,655.5 106.8,636.8 108.2,628C109.6,619.1 108.4,624.8 111.7,612.5C115,600.2 121.7,573.3 128,554.2C134.4,535 142.8,513.9 149.6,497.5C156.5,481.2 162.1,469.8 168.9,456.1C175.7,442.4 182,420.5 190.4,415.3C198.9,410.1 218.2,416.3 219.6,424.7Z" fill="url(#g61)" stroke="#b8733d" stroke-width="1.4" stroke-opacity="0.85"/><path d="M136.7,624.5L130.9,641.7M127.8,630.1L124.1,645.2M135.7,616.2L131.8,626.5" fill="none" stroke="#f8efe0" stroke-width="1.1" stroke-linecap="round" stroke-opacity="0.7"/><path d="M191.7,441.2L178.6,442.2M190.8,450.4L199.7,458.5M183.5,457.6L171.8,459.1M182.7,467L190.7,474.8M175.6,474.2L162.6,475.3M175,483.6L181.1,490.8M168.1,491L156.4,492.4M167.8,500.5L173.6,507.6M161.1,507.9L148,508.9M161,517.4L170.1,525.6M154.5,524.9L142.6,526.3M154.6,534.5L163.3,542.6M148.3,542L136.8,543.6M148.6,551.7L154.8,559M142.5,559.3L131.5,561M143,569L152.6,577.4M137.1,576.7L126.9,578.7M137.8,586.5L144.4,593.9M132.1,594.3L119.8,595.5M133,604.1L143,612.6" fill="none" stroke="#e2b566" stroke-width="0.7" stroke-opacity="0.5"/>
<path d="M240.8,421.8C243.2,430.4 228.9,451.2 223.6,466C218.4,480.9 214.2,493.4 209.2,511C204.2,528.6 198.1,551.3 193.4,571.7C188.6,592 183.4,619.8 180.8,633.1C178.2,646.5 179.5,642.8 177.8,652C176.1,661.3 172.9,679.2 170.6,688.9C168.2,698.6 165.8,705.1 163.7,710.4C161.6,715.6 159.7,718.4 157.7,720.5C155.8,722.6 153.8,723.4 152,723C150.2,722.6 148.4,720.8 146.8,717.9C145.3,715 143.8,711.4 142.7,705.3C141.6,699.3 140.2,691.9 140.2,681.6C140.3,671.3 141.8,653.1 142.8,643.7C143.7,634.2 143.2,638.2 145.8,624.8C148.4,611.4 153.4,583.6 158.4,563.3C163.3,543 170.2,520.4 175.8,503C181.3,485.5 186,473.2 191.6,458.4C197.1,443.6 201,420.3 209.2,414.2C217.4,408.1 238.4,413.1 240.8,421.8Z" fill="url(#g62)" stroke="#b8733d" stroke-width="1.4" stroke-opacity="0.85"/><path d="M168.4,642.5L165.1,654.9M156.7,676.3L155.2,688.9M176.7,592.6L173.1,603.5" fill="none" stroke="#f8efe0" stroke-width="1.1" stroke-linecap="round" stroke-opacity="0.7"/><path d="M213.7,441.1L202.3,443.5M213.8,450.7L221.2,457.7M207,458.7L194.6,460.9M207.3,468.4L215.8,475.6M200.6,476.4L187.3,478.4M201.1,486.2L209.6,493.3M194.6,494.3L181.3,496.2M195.3,504L203.5,511.1M189,512.1L177.8,514.6M189.8,522L198.9,529.3M183.7,530.1L172.2,532.5M184.7,540L195.4,547.7M178.8,548.2L168.6,550.9M180,558.1L187.2,565M174.3,566.3L163.2,568.8M175.6,576.3L184.3,583.5M170.1,584.6L157.5,586.7M171.6,594.6L181.8,602.1M166.3,602.9L154.2,605.2M168,612.9L175.1,619.8" fill="none" stroke="#e2b566" stroke-width="0.7" stroke-opacity="0.5"/>
<path d="M261.3,419.2C264.5,427.5 251.7,447.9 247.4,462.3C243.2,476.7 239.9,488.8 235.9,505.8C231.9,522.9 227.1,544.8 223.4,564.5C219.6,584.1 215.5,610.8 213.5,623.6C211.5,636.4 212.6,632.5 211.2,641.4C209.8,650.3 207.2,667.5 205.1,676.9C203,686.3 200.7,692.5 198.7,697.6C196.7,702.7 194.8,705.4 192.9,707.5C190.9,709.5 188.9,710.4 187,710C185.1,709.6 183.2,708 181.5,705.2C179.8,702.5 178.2,699.1 176.9,693.3C175.6,687.6 174,680.5 173.7,670.7C173.4,660.8 174.3,643.3 174.9,634.2C175.5,625.2 175.2,629.3 177.2,616.4C179.2,603.6 183.1,576.9 187.1,557.3C191.1,537.7 196.7,515.9 201.2,499C205.7,482.1 209.6,470.1 214.2,455.7C218.7,441.4 220.8,418.9 228.7,412.8C236.5,406.7 258.2,411 261.3,419.2Z" fill="url(#g63)" stroke="#b8733d" stroke-width="1.4" stroke-opacity="0.85"/><path d="M191.4,664.4L190.3,674.6M199.7,627.5L196.8,642M193.5,628.1L191.2,648.8" fill="none" stroke="#f8efe0" stroke-width="1.1" stroke-linecap="round" stroke-opacity="0.7"/><path d="M235.4,438.5L225.2,441.6M236.2,448L247,455.3M229.8,456.1L215.9,458.5M230.7,465.7L239.8,472.5M224.5,473.8L213.9,476.8M225.6,483.4L233.5,490M219.5,491.5L209.6,494.6M220.8,501.1L228.9,507.8M214.9,509.3L201,511.7M216.3,518.9L224,525.5M210.6,527.1L200.5,530.3M212.2,536.8L223.5,544.1M206.6,545.1L195.8,548M208.3,554.8L219.8,562.1M202.9,563L190.4,565.7M204.8,572.8L214.2,579.7M199.6,581.1L186.6,583.6M201.6,590.8L211.1,597.8M196.5,599.2L184.3,601.9" fill="none" stroke="#e2b566" stroke-width="0.7" stroke-opacity="0.5"/>
<path d="M279,416.2C283,423.7 272.3,443.3 269.5,457C266.7,470.7 264.5,482.1 262,498.1C259.5,514.2 256.6,534.8 254.4,553.3C252.2,571.7 249.9,597.2 248.8,608.6C247.8,620.1 248.8,614.1 247.9,622.1C247.1,630.1 245.4,647.6 243.8,656.9C242.2,666.1 240.2,672.3 238.4,677.3C236.5,682.4 234.8,685.1 232.9,687.2C231,689.3 229,690.2 227,690C225,689.8 223,688.3 221.1,685.7C219.2,683.1 217.4,680 215.7,674.5C214.1,669 212.1,662.2 211.2,652.7C210.2,643.2 210.2,625.5 210.2,617.3C210.2,609.2 210.1,615.3 211.2,603.9C212.2,592.4 214.3,566.9 216.7,548.5C219.2,530.1 222.9,509.5 226,493.6C229,477.6 231.7,466.3 234.9,452.6C238.1,439 237.7,417.9 245,411.8C252.4,405.8 274.9,408.6 279,416.2Z" fill="url(#g64)" stroke="#b8733d" stroke-width="1.4" stroke-opacity="0.85"/><path d="M240,613.2L236.6,634.2M235.4,617.8L233.4,631.1M239.6,615.4L236.9,625.3" fill="none" stroke="#f8efe0" stroke-width="1.1" stroke-linecap="round" stroke-opacity="0.7"/><path d="M254.7,435.5L240.8,438.8M256.3,445L267.4,451.5M250.5,453.6L237.7,457M252.3,463.2L263.3,469.6M246.7,471.8L233.3,475.1M248.6,481.3L259.5,487.8M243.1,490L231,493.5M245.3,499.5L253.2,505.6M239.9,508.2L226.5,511.5M242.2,517.8L250.4,523.9M237,526.5L226.5,530.2M239.5,536.1L248.6,542.3M234.4,544.8L222.3,548.3M237,554.4L245.4,560.5M232.2,563.1L220.9,566.7M234.9,572.8L244.6,579M230.2,581.5L220.1,585.3" fill="none" stroke="#e2b566" stroke-width="0.7" stroke-opacity="0.5"/>
<path d="M297,413.6C301.5,420.2 291.9,437.9 289.8,450.1C287.8,462.4 286.3,472.6 284.5,486.9C282.8,501.2 280.9,519.6 279.5,536C278.1,552.4 276.7,575.6 276.1,585.3C275.5,595.1 276.4,587.6 275.8,594.5C275.2,601.4 274.1,618.2 272.8,626.8C271.5,635.4 269.6,641.2 268,646C266.3,650.7 264.6,653.3 262.8,655.3C261,657.3 259,658.2 257,658C255,657.8 252.9,656.5 251,654.2C249,651.8 247.1,648.9 245.3,643.8C243.4,638.8 241.2,632.6 240,623.8C238.8,615 238.2,597.9 238,590.9C237.7,583.9 237.7,591.5 238.3,581.8C238.9,572.1 240,548.9 241.6,532.5C243.3,516.1 246,497.7 248.3,483.5C250.5,469.2 252.7,459.1 255.1,446.9C257.6,434.7 256,416 263,410.4C270,404.9 292.5,407 297,413.6Z" fill="url(#g65)" stroke="#b8733d" stroke-width="1.4" stroke-opacity="0.85"/><path d="M259.6,597.9L258.7,617.8M259,557.9L258.3,568.5M258.9,556.2L258.2,566.6" fill="none" stroke="#f8efe0" stroke-width="1.1" stroke-linecap="round" stroke-opacity="0.7"/><path d="M273.9,431.3L261.8,435.2M275.9,440.7L283.8,446.4M270.4,449.4L256.8,453.1M272.6,458.8L283.2,464.8M267.2,467.5L255.5,471.4M269.6,476.9L280,482.9M264.4,485.7L253.4,489.7M266.9,495.1L277.5,501.1M262,503.9L249.2,507.7M264.6,513.3L273.7,519.2M259.8,522.1L248.4,526.1M262.7,531.6L272.1,537.5M258.1,540.4L246.7,544.3M261.1,549.9L270.3,555.8M256.7,558.7L247.1,562.8" fill="none" stroke="#e2b566" stroke-width="0.7" stroke-opacity="0.5"/>
<path d="M315.1,410.8C320,416.3 311.6,431.7 310.4,442.2C309.1,452.6 308.2,461.4 307.3,473.6C306.4,485.8 305.5,501.6 305,515.6C304.4,529.6 304.2,549.8 304.1,557.6C304,565.5 304.4,557 304.2,562.7C303.9,568.4 303.4,584 302.5,591.7C301.5,599.4 299.9,604.6 298.5,608.9C297,613.2 295.4,615.5 293.7,617.4C291.9,619.2 290,620.1 288,620C286,619.9 283.9,618.8 281.8,616.8C279.8,614.8 277.7,612.3 275.7,607.8C273.7,603.3 271.2,597.9 269.6,590.1C268,582.3 266.8,566.6 266.2,560.9C265.6,555.2 266,563.7 266.1,555.8C266.3,548 266.2,527.8 267,513.8C267.8,499.8 269.5,484.1 270.9,471.9C272.3,459.6 273.8,450.9 275.5,440.5C277.2,430.1 274.3,414.1 280.9,409.2C287.5,404.2 310.2,405.3 315.1,410.8Z" fill="url(#g66)" stroke="#b8733d" stroke-width="1.4" stroke-opacity="0.85"/><path d="M293.5,558.5L292,569.2M296.9,577.8L295,588.8M294.2,585.8L293.6,606" fill="none" stroke="#f8efe0" stroke-width="1.1" stroke-linecap="round" stroke-opacity="0.7"/><path d="M293.2,426.6L280.7,431M295.6,436.1L304.7,441.6M290.5,445.3L280.9,449.9M293,454.8L301.6,460.3M288.1,464L277.7,468.5M290.9,473.6L302,479.1M286.3,482.8L274,487.2M289.3,492.3L299,497.8M284.8,501.5L271.8,505.9M288.1,511.1L299.1,516.6M283.9,520.3L273.9,524.8M287.3,529.9L296.6,535.3" fill="none" stroke="#e2b566" stroke-width="0.7" stroke-opacity="0.5"/>
<path d="M333.1,408.1C338.3,412.6 330.9,426 330.2,434.9C329.5,443.9 329.2,451.3 328.9,461.8C328.6,472.2 328.4,485.6 328.5,497.6C328.6,509.5 329.1,526.8 329.3,533.4C329.4,540 329.5,532.3 329.4,537.1C329.4,541.9 329.4,555.4 328.7,562.1C328,568.7 326.5,573.3 325.2,577.1C323.8,580.8 322.3,582.9 320.6,584.5C318.9,586.2 317,587 315,587C313,587 310.9,586.1 308.8,584.5C306.6,582.8 304.5,580.7 302.4,576.9C300.2,573.2 297.6,568.6 295.8,561.9C294,555.2 292.2,541.7 291.4,536.9C290.7,532.1 291.4,539.8 291.3,533.2C291.1,526.6 290.3,509.3 290.5,497.4C290.7,485.4 291.6,472 292.4,461.6C293.2,451.1 294.3,443.7 295.4,434.7C296.4,425.8 292.6,412.3 298.9,407.9C305.2,403.5 327.9,403.6 333.1,408.1Z" fill="url(#g67)" stroke="#b8733d" stroke-width="1.4" stroke-opacity="0.85"/><path d="M319.7,545L319.1,560.2M316.6,501.8L315.4,516.3M309.7,519.7L310.5,538.5" fill="none" stroke="#f8efe0" stroke-width="1.1" stroke-linecap="round" stroke-opacity="0.7"/><path d="M312.3,422.3L298.5,427.2M315,431.9L327.2,437M310.3,441.4L300,446.4M313.3,451L326.2,456.1M308.8,460.6L299.3,465.5M312.1,470.2L321.4,475.2M307.9,479.7L296.7,484.7M311.5,489.3L323.2,494.4M307.6,498.9L296.1,503.8M311.4,508.5L320.4,513.6" fill="none" stroke="#e2b566" stroke-width="0.7" stroke-opacity="0.5"/>
<path d="M355.1,404.7C360.8,408.4 354.9,420.9 355.1,429C355.4,437.1 355.8,443.8 356.4,453.2C357,462.6 358,474.7 359,485.4C359.9,496.1 361.4,511.1 362,517.5C362.6,524 362.6,519.4 362.8,523.9C362.9,528.5 363.5,539.3 363,545C362.6,550.6 361.2,554.6 360,557.8C358.7,561.1 357.2,563 355.6,564.5C353.9,566 352,566.9 350,567C348,567.1 345.9,566.6 343.7,565.4C341.6,564.1 339.5,562.5 337.2,559.5C335,556.5 332.3,552.9 330.2,547.4C328.2,542 325.9,531.3 324.9,526.8C323.8,522.2 324.7,526.8 324.1,520.4C323.5,513.9 321.7,499 321.1,488.2C320.4,477.5 320.2,465.3 320.1,455.9C320,446.5 320.2,439.7 320.4,431.6C320.5,423.5 315.2,411.7 320.9,407.3C326.7,402.8 349.4,401.1 355.1,404.7Z" fill="url(#g68)" stroke="#b8733d" stroke-width="1.4" stroke-opacity="0.85"/><path d="M344.5,513.5L345.5,525.7M348.5,524.6L350.1,543.6M347.2,542.1L349.8,560.4" fill="none" stroke="#f8efe0" stroke-width="1.1" stroke-linecap="round" stroke-opacity="0.7"/><path d="M335.9,419.1L323.7,425M339.7,428.1L349.1,432.4M335.9,437.7L324.8,443.5M339.9,446.6L352.4,450.7M336.4,456.2L326.4,461.9M340.6,465.1L353.2,469.2M337.3,474.6L324.5,480.6M341.7,483.6L353.4,487.7M338.6,493.1L326.8,499M343.2,502L356.3,506.1M340.3,511.5L329.9,517.3" fill="none" stroke="#e2b566" stroke-width="0.7" stroke-opacity="0.5"/>
<path d="M385,406.4C390.8,409.6 385.5,421.4 385.9,428.9C386.4,436.3 387,442.5 387.8,451.2C388.6,459.9 389.9,471.1 390.9,481C392,490.9 393.5,504.7 394.2,510.8C394.9,516.9 394.9,513.3 395.1,517.6C395.3,521.9 395.8,531.5 395.3,536.7C394.8,541.8 393.3,545.4 392.1,548.4C390.8,551.4 389.3,553.1 387.6,554.6C385.9,556 384,556.8 382,557C380,557.2 377.9,556.8 375.8,555.7C373.7,554.6 371.6,553.2 369.4,550.6C367.2,547.9 364.5,544.6 362.5,539.7C360.5,534.8 358.3,525.4 357.3,521.2C356.2,516.9 357.1,520.4 356.4,514.3C355.7,508.2 353.9,494.5 353.1,484.6C352.3,474.6 351.9,463.4 351.6,454.6C351.3,445.9 351.3,439.6 351.2,432.1C351.1,424.6 345.3,413.9 351,409.6C356.6,405.3 379.2,403.2 385,406.4Z" fill="url(#g69)" stroke="#b8733d" stroke-width="1.4" stroke-opacity="0.85"/><path d="M380.9,501L381.3,516.1M376.2,528.5L379.5,548.2" fill="none" stroke="#f8efe0" stroke-width="1.1" stroke-linecap="round" stroke-opacity="0.7"/><path d="M366.3,420.2L354.1,426.4M370.4,429.7L383.3,433.5M367.1,439.9L356.5,445.9M371.4,449.4L383.7,453.3M368.2,459.7L356,465.8M372.7,469.1L381.9,473.3M369.8,479.3L357.3,485.5M374.5,488.8L386.6,492.7M371.8,499L363.2,504.8M376.7,508.4L387.5,512.4" fill="none" stroke="#e2b566" stroke-width="0.7" stroke-opacity="0.5"/>
<path d="M415,408.2C420.8,411.2 415.5,422.6 416,429.8C416.6,437 417.2,442.9 418.1,451.3C419,459.6 420.3,470.3 421.4,479.8C422.6,489.3 424.1,502.4 424.9,508.4C425.6,514.3 425.7,511.3 425.9,515.4C426.1,519.6 426.7,528.6 426.2,533.5C425.7,538.4 424.3,541.9 423,544.7C421.7,547.6 420.2,549.2 418.6,550.6C416.9,552 415,552.8 413,553C411,553.2 408.9,552.8 406.8,551.8C404.7,550.9 402.6,549.6 400.3,547.1C398.1,544.6 395.5,541.6 393.5,537C391.4,532.3 389.2,523.5 388.1,519.4C387,515.3 387.8,518.3 387.1,512.3C386.3,506.4 384.5,493.3 383.6,483.8C382.8,474.2 382.3,463.5 381.9,455.1C381.6,446.7 381.6,440.6 381.4,433.4C381.3,426.2 375.4,416 381,411.8C386.6,407.6 409.2,405.2 415,408.2Z" fill="url(#g70)" stroke="#b8733d" stroke-width="1.4" stroke-opacity="0.85"/><path d="M416.3,516.6L416.1,527.2M415.8,521.6L417.7,542.9" fill="none" stroke="#f8efe0" stroke-width="1.1" stroke-linecap="round" stroke-opacity="0.7"/><path d="M396.4,421.7L383.8,428.1M400.6,430.9L410.1,435M397.3,440.9L387.7,447M401.7,450.1L410.7,454.2M398.6,460.1L387.5,466.3M403.2,469.2L416.5,472.9M400.3,479.2L387.7,485.5M405.1,488.3L415.1,492.3M402.5,498.2L393.3,504.2M407.5,507.3L420.9,511" fill="none" stroke="#e2b566" stroke-width="0.7" stroke-opacity="0.5"/>
<path d="M442,407.9C447.9,410.6 443.1,421.7 443.8,428.5C444.6,435.4 445.4,441.1 446.5,449.1C447.6,457 449.1,467.3 450.4,476.4C451.6,485.5 453.3,498.3 454.1,503.8C454.8,509.2 454.7,505.2 454.9,509.1C455.1,513 455.7,522.3 455.2,527.2C454.7,532.1 453.3,535.6 452,538.5C450.8,541.4 449.2,543.1 447.6,544.5C445.9,545.9 444,546.8 442,547C440,547.2 437.9,546.9 435.8,546C433.7,545 431.6,543.8 429.4,541.3C427.2,538.9 424.6,535.9 422.6,531.3C420.5,526.7 418.2,517.6 417.2,513.8C416.2,510 417.1,513.9 416.4,508.4C415.6,503 413.7,490.2 412.7,481.1C411.7,471.9 410.9,461.6 410.4,453.5C409.8,445.5 409.6,439.7 409.2,432.8C408.9,425.9 402.6,416.3 408,412.1C413.5,408 436,405.2 442,407.9Z" fill="url(#g71)" stroke="#b8733d" stroke-width="1.4" stroke-opacity="0.85"/><path d="M446.5,511.7L446.4,524.7M444.8,496.4L445.3,514.7" fill="none" stroke="#f8efe0" stroke-width="1.1" stroke-linecap="round" stroke-opacity="0.7"/><path d="M423.9,421.3L412.1,427.8M428.4,429.8L438.5,433.6M425.4,439.3L412.9,445.9M430,447.9L439.7,451.7M427.1,457.4L416.6,463.7M431.9,465.9L443.9,469.5M429.2,475.4L418.8,481.7M434.1,483.9L445.9,487.5M431.5,493.4L421.5,499.6M436.5,501.9L448.9,505.4" fill="none" stroke="#e2b566" stroke-width="0.7" stroke-opacity="0.5"/>
<path d="M468.9,407.7C474.9,410.2 470.2,421 471,427.6C471.8,434.2 472.6,439.7 473.8,447.4C474.9,455.1 476.5,464.9 477.8,473.7C479.2,482.5 481,495 481.8,500.1C482.5,505.1 482.2,500.3 482.4,504C482.6,507.6 483.4,517.2 482.9,522.1C482.5,527 481.2,530.5 479.9,533.4C478.7,536.3 477.2,538 475.5,539.4C473.9,540.9 472,541.7 470,542C468,542.3 465.9,542 463.8,541C461.7,540.1 459.6,538.9 457.3,536.5C455.1,534 452.4,531.1 450.3,526.5C448.2,522 445.8,512.7 444.7,509.1C443.7,505.6 444.9,510.2 444.1,505.2C443.4,500.1 441.3,487.7 440.2,478.8C439.1,470 438.3,460 437.7,452.3C437.1,444.5 436.9,439 436.4,432.3C436,425.6 429.6,416.4 435.1,412.3C440.5,408.2 463,405.1 468.9,407.7Z" fill="url(#g72)" stroke="#b8733d" stroke-width="1.4" stroke-opacity="0.85"/><path d="M474.2,506.1L475.4,525.6M471.2,526.1L472.3,536.4" fill="none" stroke="#f8efe0" stroke-width="1.1" stroke-linecap="round" stroke-opacity="0.7"/><path d="M451,420.9L439.3,427.5M455.6,429.9L467.9,433.3M452.8,440L442.5,446.4M457.6,449L469.4,452.4M454.9,459L445.6,465.3M459.8,468L471.4,471.5M457.3,478L449.3,484.1M462.5,487L472.6,490.6M460.1,496.9L449.1,503.5" fill="none" stroke="#e2b566" stroke-width="0.7" stroke-opacity="0.5"/>
<path d="M494.4,405.4C500.3,407.7 495.9,418.1 496.8,424.4C497.7,430.7 498.6,435.9 499.9,443.3C501.1,450.6 502.8,460 504.3,468.4C505.7,476.8 507.8,489 508.6,493.6C509.4,498.1 508.8,492.4 509,495.8C509.3,499.2 510.3,509 510,513.9C509.8,518.8 508.5,522.3 507.4,525.2C506.3,528.1 504.9,529.9 503.3,531.3C501.7,532.8 499.9,533.7 498,534C496.1,534.3 494,534 491.9,533.1C489.8,532.3 487.7,531.1 485.5,528.7C483.2,526.3 480.6,523.4 478.4,518.9C476.2,514.4 473.5,504.9 472.5,501.6C471.4,498.3 472.9,503.9 472.1,499.4C471.3,494.8 469,482.6 467.8,474.2C466.5,465.8 465.5,456.3 464.8,448.8C464,441.4 463.8,436.1 463.2,429.7C462.7,423.3 456.4,414.7 461.6,410.6C466.8,406.6 488.6,403.1 494.4,405.4Z" fill="url(#g73)" stroke="#b8733d" stroke-width="1.4" stroke-opacity="0.85"/><path d="M492,486.1L494.2,502.3M488.4,494.7L491.8,510.8" fill="none" stroke="#f8efe0" stroke-width="1.1" stroke-linecap="round" stroke-opacity="0.7"/><path d="M477.2,418.5L467.9,425M482,428L493.6,431.2M479.5,438.6L467.8,445.5M484.5,448.1L496,451.3M482.2,458.7L472.8,465.2M487.4,468.1L499.5,471.2M485.3,478.7L477.1,485M490.7,488.1L501.3,491.4" fill="none" stroke="#e2b566" stroke-width="0.7" stroke-opacity="0.5"/>
<path d="M519.3,402.7C525.3,404.7 521.5,414.8 522.8,420.8C524,426.8 525.3,431.7 526.8,438.7C528.4,445.6 530.4,454.6 532.2,462.6C533.9,470.5 536.3,482.4 537.1,486.5C538,490.6 537,484.1 537.3,487.2C537.5,490.4 538.9,500.4 538.7,505.3C538.5,510.2 537.3,513.8 536.3,516.8C535.2,519.8 533.8,521.6 532.3,523.1C530.7,524.6 528.9,525.6 527,526C525.1,526.4 523,526.2 520.9,525.4C518.8,524.6 516.8,523.5 514.5,521.2C512.2,518.9 509.5,516 507.3,511.6C505,507.1 502.1,497.5 501,494.5C499.9,491.5 501.7,497.9 500.8,493.8C500,489.7 497.4,477.8 495.9,469.8C494.4,461.8 493,452.7 491.9,445.7C490.8,438.6 490.3,433.5 489.4,427.4C488.6,421.4 481.7,413.4 486.7,409.3C491.7,405.1 513.3,400.8 519.3,402.7Z" fill="url(#g74)" stroke="#b8733d" stroke-width="1.4" stroke-opacity="0.85"/><path d="M521.4,491.2L525.6,512.2M519.2,497.1L523.4,514.9" fill="none" stroke="#f8efe0" stroke-width="1.1" stroke-linecap="round" stroke-opacity="0.7"/><path d="M502.8,416L491.5,423.4M508.1,424.7L517.5,427.9M506.1,434.8L496.2,441.9M511.5,443.4L524.5,445.9M509.6,453.5L502.2,460.1M515.1,462.1L526.8,464.9M513.3,472.2L504.3,479.1M518.9,480.8L532.3,483.2" fill="none" stroke="#e2b566" stroke-width="0.7" stroke-opacity="0.5"/>
<path d="M541.8,398.4C547.7,400.1 544.2,409.8 545.5,415.5C546.9,421.2 548.2,425.9 549.9,432.5C551.6,439.1 553.8,447.8 555.6,455.2C557.4,462.6 559.8,473.3 560.7,477.1C561.6,480.9 560.6,475 560.9,478C561.3,481 562.7,490.3 562.7,495.1C562.7,499.9 561.6,503.6 560.7,506.6C559.8,509.6 558.5,511.4 557,513C555.6,514.6 553.8,515.6 552,516C550.2,516.4 548.1,516.3 546.1,515.5C544,514.7 541.9,513.7 539.6,511.4C537.3,509.2 534.6,506.3 532.3,502C530,497.8 527,488.8 525.8,486C524.7,483.2 526.5,488.9 525.6,485.1C524.7,481.3 522.1,470.7 520.5,463.2C518.9,455.8 517.3,447 516.1,440.2C514.9,433.5 514.2,428.7 513.3,422.9C512.3,417.1 505.5,409.7 510.2,405.6C515,401.5 535.9,396.7 541.8,398.4Z" fill="url(#g75)" stroke="#b8733d" stroke-width="1.4" stroke-opacity="0.85"/><path d="M542.4,483L546.4,498.2M551.2,480.7L552.2,491.3" fill="none" stroke="#f8efe0" stroke-width="1.1" stroke-linecap="round" stroke-opacity="0.7"/><path d="M526,411.6L518,418.5M531.6,420.8L541.9,423.5M530.1,431.5L523,438.3M535.7,440.7L546.7,443.3M534.4,451.4L524.4,458.8M540.2,460.5L552,462.9M539,471.2L528.5,478.7" fill="none" stroke="#e2b566" stroke-width="0.7" stroke-opacity="0.5"/>
<path d="M563.2,394C569.1,395.4 566.2,404.8 567.8,410.2C569.3,415.5 570.9,419.9 572.7,426.2C574.6,432.4 577,440.5 578.9,447.6C580.9,454.7 583.5,465.1 584.4,468.7C585.3,472.3 584.2,466.4 584.5,469.2C584.9,472 586.4,481.1 586.4,485.7C586.4,490.3 585.4,493.9 584.5,496.8C583.5,499.7 582.3,501.4 580.9,503C579.5,504.5 577.8,505.5 576,506C574.2,506.5 572.3,506.4 570.3,505.7C568.3,505.1 566.3,504.1 564.1,502.1C561.9,500 559.3,497.4 557.1,493.3C554.8,489.3 551.8,480.6 550.7,478C549.6,475.3 551.5,481.1 550.5,477.5C549.6,473.9 546.8,463.5 545.1,456.4C543.3,449.3 541.5,441 540.1,434.6C538.7,428.3 537.9,423.7 536.6,418.2C535.4,412.8 528.3,406 532.8,402C537.2,397.9 557.4,392.7 563.2,394Z" fill="url(#g76)" stroke="#b8733d" stroke-width="1.4" stroke-opacity="0.85"/><path d="M567.7,461.4L571.8,479.7M571.9,459.9L575.1,478.4" fill="none" stroke="#f8efe0" stroke-width="1.1" stroke-linecap="round" stroke-opacity="0.7"/><path d="M548.5,407.1L539.6,414.6M554.4,415.5L564.2,418.1M553.4,425.8L544.7,433.2M559.2,434.2L571.8,436.1M558.2,444.4L550.3,451.7M564,452.9L574.2,455.4M563.1,463.1L552.8,471" fill="none" stroke="#e2b566" stroke-width="0.7" stroke-opacity="0.5"/>
<path d="M582.1,389.2C587.6,390 585.5,398.9 587.3,403.7C589.1,408.5 590.8,412.4 593,418C595.1,423.6 597.9,430.9 600.1,437.2C602.3,443.4 605.2,452.2 606.3,455.4C607.4,458.6 606.2,453.9 606.7,456.6C607.2,459.2 609.1,467.1 609.4,471.3C609.6,475.4 609,479 608.3,481.8C607.6,484.5 606.6,486.3 605.4,487.8C604.1,489.4 602.6,490.4 601,491C599.4,491.6 597.5,491.6 595.6,491.1C593.7,490.7 591.8,489.9 589.6,488.1C587.4,486.3 584.7,483.9 582.3,480.5C580,477 576.7,469.6 575.5,467.2C574.3,464.8 576.2,469.3 575.1,466C574,462.8 570.9,454.1 568.9,447.8C566.8,441.5 564.5,434 562.8,428.2C561.1,422.5 560.1,418.3 558.6,413.4C557.1,408.5 550,402.8 553.9,398.8C557.9,394.7 576.5,388.4 582.1,389.2Z" fill="url(#g77)" stroke="#b8733d" stroke-width="1.4" stroke-opacity="0.85"/><path d="M601.1,473.5L603.5,483.9M595,458.9L598.5,472" fill="none" stroke="#f8efe0" stroke-width="1.1" stroke-linecap="round" stroke-opacity="0.7"/><path d="M569.1,402.3L562.8,409.7M575.4,410.8L586.6,412.2M575.6,421.4L566.8,429.6M581.9,429.8L590.9,432.1M582.1,440.5L574.4,448.3M588.4,448.9L599.4,450.5" fill="none" stroke="#e2b566" stroke-width="0.7" stroke-opacity="0.5"/>
<path d="M596.5,385C601.6,385.5 600.2,393.8 602.1,398.1C604,402.4 605.7,406 608,411C610.2,416.1 613.1,422.9 615.4,428.5C617.8,434 620.7,441.6 621.9,444.6C623,447.5 621.8,443.6 622.4,446.1C623,448.5 625.1,455.4 625.5,459.3C626,463.1 625.6,466.5 625.1,469.1C624.7,471.7 623.8,473.4 622.8,474.9C621.8,476.4 620.5,477.4 619,478C617.5,478.6 615.9,478.7 614.1,478.3C612.3,478 610.5,477.3 608.4,475.8C606.3,474.2 603.7,472 601.4,468.9C599.1,465.8 595.8,459.3 594.6,457.1C593.3,454.9 595.1,458.6 594,455.7C592.8,452.7 589.7,445.2 587.6,439.5C585.4,433.9 582.9,427 581,421.8C579.2,416.5 578,412.8 576.4,408.3C574.8,403.8 568.1,398.9 571.5,395C574.8,391.1 591.4,384.5 596.5,385Z" fill="url(#g78)" stroke="#b8733d" stroke-width="1.4" stroke-opacity="0.85"/><path d="M618.2,464.7L621.4,475M610.9,460.5L617.5,476.6" fill="none" stroke="#f8efe0" stroke-width="1.1" stroke-linecap="round" stroke-opacity="0.7"/><path d="M585.4,397.6L577.5,406.1M591.6,404.9L601.5,406.4M592.1,414.5L585.6,422.5M598.3,421.9L609.5,422.8M598.9,431.4L592,439.5M605,438.8L614,440.6" fill="none" stroke="#e2b566" stroke-width="0.7" stroke-opacity="0.5"/>
<path d="M603.8,376.8C607,377.7 608.7,384.8 611.4,388.6C614.1,392.5 616.8,395.5 620.1,399.9C623.5,404.3 628,409.9 631.5,415.1C634.9,420.4 638.6,427.9 640.7,431.5C642.7,435.2 642.5,434.3 643.7,436.9C644.9,439.6 646.9,444.4 647.7,447.3C648.4,450.3 648.3,452.7 648.1,454.6C648,456.6 647.4,458 646.7,459.2C646,460.4 645.1,461.4 644,462C642.9,462.6 641.6,462.9 640.2,462.9C638.8,462.8 637.3,462.6 635.6,461.7C633.8,460.8 631.7,459.7 629.6,457.5C627.4,455.3 624.4,451.1 622.8,448.7C621.1,446.3 621.8,446.9 619.7,443.3C617.7,439.6 613.2,432.5 610.5,426.9C607.8,421.2 605.5,414.4 603.5,409.3C601.5,404.1 600.3,400.3 598.4,396C596.5,391.6 591.3,386.4 592.2,383.2C593.1,380 600.6,375.9 603.8,376.8Z" fill="#b46f4c" stroke="#8d4f30" stroke-width="1" />
<path d="M594.1,383.4C597.2,384.8 598.4,392.6 600.8,397C603.3,401.5 605.6,405 608.7,410.2C611.7,415.3 616,421.7 619,427.8C622.1,433.8 625.1,442 627,446.4C628.9,450.7 629.3,451 630.3,454C631.4,457.1 632.8,461.8 633.2,464.8C633.6,467.8 633.2,470.2 632.9,472.1C632.5,474.1 631.8,475.4 631,476.5C630.2,477.7 629.1,478.5 628,479C626.9,479.5 625.5,479.7 624.1,479.5C622.7,479.3 621.3,478.9 619.6,477.8C618,476.7 616,475.4 614.1,473C612.2,470.6 609.8,466.4 608.3,463.5C606.8,460.7 606.9,460.2 605,455.8C603.1,451.5 599.3,443.6 597,437.2C594.7,430.9 593,423.4 591.3,417.6C589.7,411.9 588.7,407.7 587.2,402.9C585.6,398 580.8,391.9 581.9,388.6C583.1,385.4 590.9,382 594.1,383.4Z" fill="#b46f4c" stroke="#8d4f30" stroke-width="1" />
<path d="M584.3,390.2C587.3,391.9 587.5,399.8 589.3,404.5C591.2,409.2 593.1,413 595.5,418.5C597.8,423.9 601.3,430.8 603.5,437.2C605.8,443.5 607.8,452 609.1,456.6C610.4,461.1 610.8,461.4 611.4,464.5C612.1,467.7 612.9,472.5 612.9,475.5C613,478.6 612.3,480.9 611.7,482.8C611.1,484.7 610.2,485.9 609.3,486.9C608.3,487.9 607.2,488.7 606,489C604.8,489.3 603.5,489.4 602.1,489C600.7,488.6 599.4,488 597.9,486.8C596.3,485.5 594.5,483.9 593,481.3C591.4,478.7 589.5,474.2 588.4,471.2C587.2,468.2 587.4,467.8 586.1,463.2C584.8,458.7 581.9,450.4 580.5,443.8C579,437.2 578.2,429.6 577.3,423.7C576.4,417.8 576,413.6 575.1,408.6C574.1,403.6 570.1,396.9 571.7,393.8C573.2,390.8 581.4,388.4 584.3,390.2Z" fill="#b46f4c" stroke="#8d4f30" stroke-width="1" />
<path d="M266.6,325.9C266,330.5 257.9,338.8 253.6,345.3C249.3,351.8 245.9,357.3 240.8,364.9C235.8,372.4 229.7,382.5 223.3,390.6C217,398.8 209.4,406.8 203,413.9C196.5,421 189,428.9 184.6,433.2C180.1,437.4 178.8,437.8 176.4,439.2C174,440.6 171.7,441.1 169.9,441.5C168.1,441.9 166.7,441.8 165.3,441.5C164,441.3 162.9,440.7 162,440C161.1,439.3 160.5,438.3 160.1,437.1C159.7,435.9 159.5,434.7 159.8,433C160.1,431.3 160.5,429.2 161.9,426.9C163.2,424.6 163.7,423.5 167.8,418.9C171.8,414.4 179.7,406.7 186.2,399.7C192.7,392.6 199.7,384.1 206.8,376.6C213.8,369 222.2,360.9 228.3,354.3C234.4,347.6 238.6,342.7 243.5,336.7C248.3,330.7 253.5,319.9 257.4,318.1C261.2,316.3 267.2,321.4 266.6,325.9Z" fill="#b46f4c" stroke="#8d4f30" stroke-width="1" />
<path d="M275.5,329.7C275.5,334.4 268.3,343.4 264.8,350.3C261.3,357.2 258.6,363 254.5,371C250.4,379.1 245.5,389.7 240.2,398.5C234.9,407.2 227.9,416.1 222.5,423.5C217.1,430.9 211.5,438.4 207.7,442.9C203.8,447.4 202,448.7 199.5,450.5C197,452.3 194.7,453.1 192.7,453.7C190.8,454.3 189.3,454.4 187.8,454.3C186.3,454.2 185,453.7 184,453C183,452.3 182.1,451.3 181.6,450.1C181.1,448.8 180.7,447.5 180.8,445.6C180.9,443.8 181.2,441.5 182.3,438.8C183.5,436.1 184.4,434.3 187.8,429.5C191.2,424.7 197.2,417.5 202.6,410.1C208.1,402.6 214.3,393.2 220.4,385C226.5,376.8 234.1,368.1 239.5,360.9C244.9,353.8 248.6,348.5 252.7,342.1C256.9,335.7 260.7,324.4 264.5,322.3C268.3,320.2 275.4,325 275.5,329.7Z" fill="#b46f4c" stroke="#8d4f30" stroke-width="1" />
<path d="M285,333.4C285.6,337.9 279.4,346.6 276.7,353.3C274,359.9 272,365.6 268.8,373.3C265.7,381.1 262.1,391.3 257.8,399.7C253.5,408.2 247.3,417.2 243,424C238.7,430.9 235.1,436.6 231.9,440.8C228.8,445 226.5,447.2 224,449.3C221.6,451.3 219.2,452.3 217.2,453.1C215.2,453.9 213.6,454.1 212.1,454C210.5,454 209.1,453.7 208,453C206.9,452.3 205.9,451.4 205.3,450.1C204.7,448.9 204.2,447.6 204.2,445.6C204.2,443.6 204.2,441.3 205.3,438.4C206.3,435.6 207.6,432.8 210.3,428.3C213,423.8 217.1,418.4 221.4,411.5C225.7,404.7 231,395.2 236.1,387.3C241.3,379.3 247.8,370.8 252.4,363.8C257,356.9 260.1,351.9 263.5,345.7C267,339.4 269.5,328.6 273,326.6C276.6,324.5 284.3,329 285,333.4Z" fill="#b46f4c" stroke="#8d4f30" stroke-width="1" />
<path d="M294.2,338C295.4,341.9 290.6,349.4 288.9,355.2C287.3,360.9 286.1,365.9 284.1,372.5C282.1,379.2 279.9,388 276.8,395.3C273.8,402.5 268.7,410.8 265.8,416.2C262.9,421.5 261.7,424 259.3,427.4C257,430.7 254.3,434.1 251.9,436.3C249.6,438.5 247.2,439.6 245.2,440.5C243.3,441.4 241.7,441.7 240.1,441.8C238.6,441.9 237.2,441.6 236,441C234.8,440.4 233.8,439.5 233.1,438.3C232.4,437.2 231.9,435.8 231.8,433.9C231.7,432 231.6,429.7 232.5,426.7C233.3,423.8 235.1,420 236.9,416.4C238.7,412.8 240.5,410.5 243.4,405.2C246.3,399.8 250.5,391.1 254.4,384.3C258.3,377.4 263.3,370 266.7,364C270.2,358 272.6,353.8 275.1,348.4C277.6,343.1 278.7,333.7 281.8,332C285,330.2 293,334.2 294.2,338Z" fill="#b46f4c" stroke="#8d4f30" stroke-width="1" />
<path d="M304.4,341.6C306.5,344.4 304.1,350.5 304.1,354.9C304.1,359.4 304.5,363.2 304.3,368.4C304.1,373.5 304,380.2 303,385.9C302,391.6 299.2,399.1 298.2,402.5C297.2,406 297.9,404.4 296.8,406.7C295.7,409 293.2,414 291.4,416.5C289.6,419 287.5,420.5 285.8,421.7C284.1,423 282.5,423.5 281.1,423.9C279.6,424.3 278.2,424.3 277,424C275.8,423.7 274.7,423.1 273.8,422.1C273,421.1 272.2,420 271.8,418.2C271.4,416.5 270.9,414.3 271.2,411.4C271.5,408.5 272.9,403.3 273.5,400.9C274.1,398.4 273.9,400.2 274.9,396.7C276,393.2 278,385.6 279.7,380.1C281.5,374.6 284,368.5 285.6,363.7C287.2,358.9 288.6,355.5 289.6,351.3C290.6,347.1 289.1,340 291.6,338.4C294.1,336.8 302.3,338.8 304.4,341.6Z" fill="#b46f4c" stroke="#8d4f30" stroke-width="1" />
<path d="M314,346.8C316.3,348.9 315,354.1 315.5,357.8C316.1,361.5 317.1,364.6 317.6,368.9C318,373.1 318.7,378.6 318.4,383.4C318.1,388.2 316.4,394.9 315.9,397.5C315.5,400.1 316.3,397.3 315.6,399.1C314.9,401 313,406.1 311.6,408.6C310.1,411.1 308.3,412.7 306.9,414C305.4,415.3 304.1,416 302.7,416.5C301.4,417 300.1,417.1 299,417C297.9,416.9 296.8,416.4 295.9,415.6C295.1,414.8 294.3,413.9 293.8,412.3C293.2,410.8 292.7,408.9 292.7,406.2C292.7,403.6 293.5,398.3 293.8,396.4C294,394.5 293.7,397.4 294.1,394.7C294.6,392.1 295.6,385.3 296.6,380.6C297.5,375.9 298.8,370.7 299.7,366.6C300.6,362.5 301.4,359.6 301.8,356C302.2,352.5 300,346.8 302,345.2C304,343.7 311.7,344.7 314,346.8Z" fill="#b46f4c" stroke="#8d4f30" stroke-width="1" />
<path d="M321.5,351.6C323.9,352.8 323.8,356.9 325,359.5C326.3,362.1 327.9,364.2 329.1,367.3C330.2,370.4 331.4,374.7 332,378C332.5,381.3 332.2,385.2 332.2,387C332.2,388.9 332.4,387.3 332.1,388.8C331.7,390.3 331.1,394 330.2,396.2C329.3,398.4 327.9,400.5 326.7,401.9C325.6,403.3 324.4,404.2 323.3,404.9C322.2,405.5 321,405.9 320,406C319,406.1 318,405.9 317.1,405.3C316.2,404.8 315.4,404.1 314.7,402.8C314,401.5 313.3,399.6 312.9,397.5C312.5,395.4 312.3,391.8 312.2,390.3C312.1,388.8 312.3,390.3 312.2,388.5C312.2,386.7 312.1,382.8 312,379.4C312,376.1 312,371.8 312,368.6C312.1,365.4 312.5,363.1 312.2,360.4C312,357.7 309,353.9 310.5,352.4C312.1,350.9 319.1,350.4 321.5,351.6Z" fill="#b46f4c" stroke="#8d4f30" stroke-width="1" />
<path d="M271.9,318C272.9,319.6 270.5,321.7 269.9,323.7C269.4,325.7 269.5,327.6 268.9,329.9C268.2,332.2 267,335.4 266.2,337.6C265.3,339.7 264.2,341.5 263.6,342.7C263,343.9 263.2,343.7 262.5,344.7C261.8,345.7 260.6,347.5 259.4,348.7C258.3,349.8 256.7,350.9 255.6,351.6C254.4,352.2 253.5,352.4 252.6,352.5C251.6,352.5 250.7,352.4 250,352C249.3,351.6 248.6,351 248.1,350.2C247.6,349.5 247.2,348.6 247,347.3C246.8,346 246.8,344.1 247,342.5C247.2,340.9 248,338.8 248.3,337.7C248.7,336.5 248.7,336.8 249.3,335.5C249.9,334.3 250.7,332.4 251.8,330.4C253,328.4 254.9,325.6 256.3,323.7C257.8,321.8 259.4,320.7 260.7,319.1C261.9,317.5 262.2,314.2 264.1,314C265.9,313.8 271,316.4 271.9,318Z" fill="#b97555" stroke="#8d4f30" stroke-width="0.8" />
<path d="M289.2,323.4C290.4,324.9 288.2,327.5 288,329.6C287.7,331.7 288,333.7 287.7,336.1C287.4,338.6 286.7,342 286.1,344.5C285.5,346.9 284.5,349.4 284.1,350.8C283.6,352.1 284,351.4 283.4,352.5C282.9,353.5 281.8,355.9 280.8,357.3C279.8,358.7 278.5,359.9 277.5,360.7C276.4,361.5 275.5,361.9 274.6,362.1C273.7,362.3 272.8,362.3 272,362C271.2,361.7 270.5,361.2 269.8,360.5C269.2,359.8 268.7,359 268.3,357.8C268,356.5 267.6,354.7 267.6,353C267.6,351.3 268.1,348.7 268.4,347.5C268.6,346.3 268.4,347.2 268.8,345.8C269.3,344.5 269.9,341.9 270.9,339.5C271.8,337.2 273.3,334.1 274.5,331.9C275.7,329.7 277.1,328.3 278.1,326.4C279.2,324.5 279,321.1 280.8,320.6C282.7,320.1 288,321.9 289.2,323.4Z" fill="#b97555" stroke="#8d4f30" stroke-width="0.8" />
<path d="M262,322C261.3,318.7 271.3,308.9 275,305C278.7,301.1 284.9,294.9 290,293C295.1,291.1 305.4,290.3 313,291C320.6,291.7 338.1,295.9 347,298C355.9,300.1 371.2,304.7 380,307C388.8,309.3 404.3,313.3 413,315C421.7,316.7 437.8,319.3 445,320C452.2,320.7 459.7,321.1 467,320C474.3,318.9 491.6,314.4 500,312C508.4,309.6 524,303.6 530,302C536,300.4 539.7,294.9 545,300C550.3,305.1 562.7,327.6 570,340C577.3,352.4 596.4,385 600,393C603.6,401 601.4,397.3 597,400C592.6,402.7 575.5,410.3 567,413C558.5,415.7 541.9,418.4 533,420C524.1,421.6 508.8,424.1 500,425C491.2,425.9 475.9,426.6 467,427C458.1,427.4 441.9,427.6 433,428C424.1,428.4 407.1,430 400,430C392.9,430 387.1,428.9 380,428C372.9,427.1 355,426.2 347,423C339,419.8 324,409.7 320,404C316,398.3 317.7,386.8 317,380C316.3,373.2 317.3,358.1 315,353C312.7,347.9 304.7,345.1 300,342C295.3,338.9 285.1,332.7 280,330C274.9,327.3 262.7,325.3 262,322Z" fill="#c1b08a" stroke="none" stroke-width="1" />
<g clip-path="url(#clwtan)"><path d="M394.8,386.1L394.9,392.6M406.7,368.3L405.2,376.4M540.3,337.7L542.6,346.7M396.3,331.1L394.1,340.4M403.4,427.9L402.7,435.1M434.6,391.3L434.1,399.1M400.4,367.4L400.1,378.4M363,310.7L360.5,319.9M552.2,385.6L553.8,392.3M354.7,349L352.3,359.3M324.4,324.3L322.7,334.4M429.6,337.3L429.6,343.7" stroke="#b3a077" stroke-width="1.1" stroke-opacity="0.5" fill="none" stroke-linecap="round"/><path d="M340.1,392.8L338.4,399.6M413.6,373.1L412.6,381.1M331.7,312L330.3,319.3M533.7,376.1L535.5,384.2" stroke="#ab976c" stroke-width="0.7" stroke-opacity="0.5" fill="none" stroke-linecap="round"/><path d="M398.2,318.6L397.9,326.4M385,346.8L383.1,354.5M387.4,313.5L387,320.9M509.4,402L510.5,410.2" stroke="#b3a077" stroke-width="0.8" stroke-opacity="0.5" fill="none" stroke-linecap="round"/><path d="M335.3,372.3L332.4,382.7M482.1,321.4L482.1,331M352.5,412.4L349.7,422.8M318.9,386.6L317.1,397.3M478.9,380.6L480.2,390.8M323.6,392.8L321.7,399.1M478.4,340.5L479.1,347.4M473.4,391.7L475.6,402.4M575.4,371.9L577.6,377.6M546.9,356.8L549.7,366.3M325.7,337.4L323.7,346.6M505.6,371.9L507.1,381.6M362.8,407.4L359.5,416.2M385.7,355.5L383.6,364.7M350,359.4L348.1,367.2" stroke="#b3a077" stroke-width="0.9" stroke-opacity="0.5" fill="none" stroke-linecap="round"/><path d="M330.9,407.3L328.3,412.8M415.7,402.3L415.3,412.2M398.4,399L398.3,408M335.5,305.2L334.6,314M420.8,384.3L419.6,392.7M420,328.9L418.4,339.3" stroke="#ab976c" stroke-width="1.1" stroke-opacity="0.5" fill="none" stroke-linecap="round"/><path d="M538.8,358L541.1,365.1M449.4,368.6L449.6,378.2M549.3,384.2L550.4,390.2M383.3,421.2L382.3,431.5M389.4,356.5L387.8,366.2M401.3,365L401.3,374.8M443.7,339.6L444.9,347.8M444.7,394.6L444.4,404.1M506.4,422.9L508.4,429.1M338,397L335.2,404.1M371.1,374.9L369,381.6" stroke="#ab976c" stroke-width="0.9" stroke-opacity="0.5" fill="none" stroke-linecap="round"/><path d="M480.6,407.2L479.9,418.1M403.3,422.3L401.7,432.4M313.9,307.3L311.8,313.4M421.1,386.5L421.5,395.1M538.5,417.6L539.4,425.5M562.9,379.8L565.4,385.8M539.5,324.9L542.1,334.4M532.9,352.3L534.3,358.2M319.7,357.5L316.7,363.5M515.7,411L517.3,418.9M324.4,299.2L322,306.2M445.1,421.8L444.4,429.2M539.2,384.4L542,392.6" stroke="#a9956b" stroke-width="1.1" stroke-opacity="0.5" fill="none" stroke-linecap="round"/><path d="M365.5,315.5L363.6,324M530.6,382.9L532.1,390.8M422,357.9L421,366.7M407,403.8L406.6,411.4M396.3,401.5L395.6,412.5" stroke="#d4c8a6" stroke-width="0.7" stroke-opacity="0.5" fill="none" stroke-linecap="round"/><path d="M465.3,387.7L466.9,395.5M469.5,419.3L468.9,429.3M387.6,363.6L387.1,370.6M346.2,377.9L344.3,386.2M377.3,424.4L376.3,431.9M314.6,326.5L312.2,336.5M319,304.6L315,314.1M346.3,411.9L343.5,422.2M512.3,365.5L514,372.6M347.6,300.6L345.2,308.7M533.2,388.9L536,398.6M328.5,387.8L325.6,396.2M465.2,330.5L464.6,337.8M343.1,355L341.4,363.6M482.6,317.4L485,327.4M487.5,342.4L488.8,352.8M555.4,329.9L557.3,338.4M553.3,347.1L555.9,356.4M558.7,384.6L560.5,391.7" stroke="#d4c8a6" stroke-width="1" stroke-opacity="0.5" fill="none" stroke-linecap="round"/><path d="M503.1,409.7L504.5,418.1M378.9,410.2L377.3,416.4M509.3,368.7L509.7,377.5M419.2,393.5L418.3,400.4M490.8,420.3L492.5,428.8" stroke="#ab976c" stroke-width="0.8" stroke-opacity="0.5" fill="none" stroke-linecap="round"/><path d="M387.9,376.2L386.8,382.3M345.9,359.3L343.3,365.5M295.2,304.4L293.5,311.7M445.4,346L446.3,355.8M498.4,313.2L499.8,322.1M432.8,355.3L433,363.5M461,419.2L460.9,426.9" stroke="#a9956b" stroke-width="0.9" stroke-opacity="0.5" fill="none" stroke-linecap="round"/><path d="M531.5,375.3L533.7,385.2M512.8,407.1L515.9,416.8M592.2,381.9L596.9,391.5M429.6,393.2L428.5,399.4M407.2,326.4L408,337.1M523.6,326.4L525.2,335.4M549,328.4L551.3,338.6M463.9,410.7L462.9,419.4M454.8,346.9L456.3,355.1M535.8,412.2L539.3,422.4" stroke="#a9956b" stroke-width="0.8" stroke-opacity="0.5" fill="none" stroke-linecap="round"/><path d="M388.8,330.3L388.7,336.5M445.4,410L444.3,417.2M406.5,429L405,439.8M506,345.6L506.6,351.6M354.3,319.4L352.6,328.9M511.2,338.3L512.3,348.8M363.7,392.6L361.6,398.9" stroke="#a9956b" stroke-width="1" stroke-opacity="0.5" fill="none" stroke-linecap="round"/><path d="M439.1,390.7L439.2,400.3M365.4,356.2L363,363.1M549.8,389.5L552.8,398.3M288.4,304.1L284.5,311.9M462.9,372.7L462.8,382.5M444.2,378L444.7,387.7M448.7,381.2L447.8,387.6M410.7,416.2L409.2,422.5M340.4,354L339.7,361.1M368.4,318.5L367.2,325.2" stroke="#cfc19c" stroke-width="0.9" stroke-opacity="0.5" fill="none" stroke-linecap="round"/><path d="M390.7,333.7L389.8,343.2M343.5,320.8L342.8,330.4M417.9,346.1L418.7,353.1M325.9,359.7L324.9,367.5M391.6,415.1L390,423.3M382.6,390.6L380.6,398.9" stroke="#ab976c" stroke-width="1" stroke-opacity="0.5" fill="none" stroke-linecap="round"/><path d="M421.6,406.1L421.9,414.8M338.2,410.7L336.5,416.9M435.1,385.8L434.7,395.8M579.5,382.3L581.2,389.3M382.5,419.9L380.8,425.9M331.7,305.7L328.7,313.6M323.3,350.7L322.2,357.8M299.2,326.4L295.1,334.9M454.5,357L453.7,366.4" stroke="#cfc19c" stroke-width="1.1" stroke-opacity="0.5" fill="none" stroke-linecap="round"/><path d="M370.8,332.3L368.7,338.5M433.4,379.9L433.6,387.4M427.6,424.3L427.6,430.6M324.4,324.9L322.6,334.7M297,320.3L295.1,329.6M456.8,328.8L457.8,335.4M483.1,398L482.5,408.8" stroke="#b3a077" stroke-width="0.7" stroke-opacity="0.5" fill="none" stroke-linecap="round"/><path d="M355.7,328.9L354.3,339.2M523.5,307.7L524.7,316.7M465.7,345.5L465.7,356.2M497.5,406.2L497.2,415.2M503.3,392.4L505.1,401.7M325.8,405.6L324.4,411.5M367.9,346.2L367.9,353.3M490.4,406.3L491.3,412.7M489.3,319.5L489.9,327.9M565.7,406.2L567.3,414.2" stroke="#b3a077" stroke-width="1" stroke-opacity="0.5" fill="none" stroke-linecap="round"/><path d="M454.9,424.3L456.2,434.5M462.1,397.6L463.3,406.3M425.3,333.8L425.8,340.3M485.1,359.2L486.2,365.9M514.6,321.4L516.8,331.7M290.4,317.8L288.5,326.5M493.9,389L494.5,395.2M328.5,323.9L326.5,331.8M386.7,320.6L385.5,330.5M521.9,401.1L522.2,408.1" stroke="#cfc19c" stroke-width="1" stroke-opacity="0.5" fill="none" stroke-linecap="round"/><path d="M410.7,357.7L410.1,367.1M363.2,340.4L361.1,347.8M590.9,400.4L594.4,408.1M551.9,349.5L554.2,356.7M417.9,422.4L416.7,429.7M406.4,339.1L407.3,349.4M380.2,375.3L377.5,385.4M505.6,329.4L505.5,340.3" stroke="#d4c8a6" stroke-width="0.8" stroke-opacity="0.5" fill="none" stroke-linecap="round"/><path d="M401.3,395.5L401.6,406.3M308.9,312.4L304.4,321.1M569.6,362.5L571.3,370.3M457.1,366.6L458.6,375.4" stroke="#ab976c" stroke-width="1.2" stroke-opacity="0.5" fill="none" stroke-linecap="round"/><path d="M365.7,389.6L365,398.8M566.2,346.5L568.9,354.8M317.8,351.3L313.9,359M380.3,410.6L377.9,417.8M456.7,342.1L458.8,352.7M289.9,307.2L288,316.5M517.3,331.6L519.6,341.8M500.5,393L502.9,403" stroke="#cfc19c" stroke-width="0.8" stroke-opacity="0.5" fill="none" stroke-linecap="round"/><path d="M539.4,349.4L543,358M382.7,424L382,434.4M371,399.5L368.4,406.7M516.2,307L519.2,316.4M390.7,407.5L389.1,414.6M442.1,360.1L440.9,367.2M279.6,328.9L278,335.6" stroke="#d4c8a6" stroke-width="1.1" stroke-opacity="0.5" fill="none" stroke-linecap="round"/><path d="M342.4,342.5L340.6,350.9M509.5,411.5L510.4,418M538.2,385.3L538.8,391.3M552.6,375.7L555.5,386M433.3,331.6L433.1,337.9M464.4,360.8L465.6,369.5" stroke="#d4c8a6" stroke-width="0.9" stroke-opacity="0.5" fill="none" stroke-linecap="round"/><path d="M388.8,351.3L387.1,362" stroke="#a9956b" stroke-width="0.7" stroke-opacity="0.5" fill="none" stroke-linecap="round"/><path d="M442.4,364.7L442.1,374.8M452.9,398.5L453.5,404.7M521.9,397L523.9,407.5" stroke="#cfc19c" stroke-width="0.7" stroke-opacity="0.5" fill="none" stroke-linecap="round"/><path d="M439.5,367.8L440.9,376.2M500.4,416.6L501.8,425.7M379.8,339.7L376.9,349.5M462,408.9L463.1,417.5M279,325.7L276.8,333.1M515.3,395.1L517,403.6M280.3,319.4L277.2,329" stroke="#a9956b" stroke-width="1.2" stroke-opacity="0.5" fill="none" stroke-linecap="round"/><path d="M461.6,378.4L461.1,387.2M355.2,421.6L354,429.7" stroke="#b3a077" stroke-width="1.2" stroke-opacity="0.5" fill="none" stroke-linecap="round"/><path d="M437.7,381.5L436.6,389.1M442.1,385.9L443.5,395.1M487.4,405.7L489.3,415.7" stroke="#cfc19c" stroke-width="1.2" stroke-opacity="0.5" fill="none" stroke-linecap="round"/><path d="M418.8,355.3L419.7,363.6" stroke="#d4c8a6" stroke-width="1.2" stroke-opacity="0.5" fill="none" stroke-linecap="round"/></g>
<g clip-path="url(#clwext)"><path d="M316.4,354.4C321.4,354.9 322.1,362.5 323.8,365.5C325.5,368.6 325.8,369.5 326.6,373C327.4,376.5 328.8,382.8 328.6,386.6C328.3,390.4 326.5,393.7 325.1,395.8C323.8,397.9 322.3,398.5 320.5,399.2C318.8,399.8 317.3,400.3 314.9,399.6C312.5,398.9 308.9,397.7 306.2,395C303.6,392.3 300.5,386.7 298.7,383.5C297,380.3 296.7,379.5 295.9,376C295.2,372.6 290.7,366.4 294.1,362.8C297.6,359.2 311.5,354 316.4,354.4Z" fill="#c1b08a" stroke="#9a7d52" stroke-width="1" stroke-opacity="0.8"/><path d="M332,363.9C336.8,365.4 336.4,373.7 338.1,378.6C339.9,383.4 341.6,388.5 342.3,393.1C343.1,397.7 343.4,402.7 342.7,406.3C342.1,409.9 340,412.8 338.5,414.7C337,416.5 335.4,417 333.7,417.4C332,417.8 330.5,418.1 328.3,417.2C326.1,416.3 322.8,414.7 320.5,411.9C318.3,409 316.1,404.5 314.6,400.1C313.1,395.7 312.2,390.4 311.4,385.3C310.6,380.2 306.4,373.1 309.9,369.5C313.3,366 327.3,362.4 332,363.9Z" fill="#c1b08a" stroke="#9a7d52" stroke-width="1" stroke-opacity="0.8"/><path d="M353.7,371.9C358.3,373.7 357.7,382.3 359.4,387.9C361.2,393.5 363.3,400.3 364.1,405.4C364.8,410.5 364.8,414.9 364.1,418.5C363.3,422 361.1,424.9 359.6,426.7C358.1,428.4 356.5,428.9 354.9,429.2C353.2,429.6 351.6,429.9 349.4,428.9C347.3,427.9 344.1,426.3 341.9,423.4C339.8,420.5 337.9,416.5 336.4,411.6C334.9,406.6 333.9,399.6 333.1,393.8C332.3,388 328.1,380.5 331.5,376.8C335,373.2 349,370.1 353.7,371.9Z" fill="#c1b08a" stroke="#9a7d52" stroke-width="1" stroke-opacity="0.8"/><path d="M375.7,375.5C380.4,377.3 379.9,385.8 381.7,391.4C383.5,396.9 385.7,403.6 386.6,408.7C387.4,413.8 387.5,418.2 386.8,421.8C386.1,425.3 384,428.2 382.5,430C380.9,431.8 379.4,432.3 377.7,432.7C376,433.1 374.5,433.4 372.3,432.4C370.2,431.5 367,429.9 364.7,427C362.5,424.2 360.6,420.2 359,415.3C357.5,410.4 356.4,403.4 355.5,397.6C354.6,391.9 350.3,384.5 353.7,380.8C357.1,377.1 371.1,373.8 375.7,375.5Z" fill="#c1b08a" stroke="#9a7d52" stroke-width="1" stroke-opacity="0.8"/><path d="M397.7,378.9C402.4,380.5 402.1,389 404,394.3C405.9,399.7 408.1,406 409,410.9C410,415.8 410.1,420.4 409.5,423.9C408.9,427.5 406.9,430.4 405.4,432.3C403.9,434.1 402.4,434.6 400.8,435C399.1,435.5 397.5,435.8 395.4,434.9C393.2,434 389.9,432.5 387.7,429.7C385.4,426.9 383.3,422.9 381.7,418.1C380.1,413.4 378.9,406.8 377.9,401.2C376.9,395.6 372.5,388.4 375.8,384.7C379.1,380.9 393,377.3 397.7,378.9Z" fill="#c1b08a" stroke="#9a7d52" stroke-width="1" stroke-opacity="0.8"/><path d="M421.2,379.8C426,381.2 426,389.4 428,394.2C429.9,399.1 431.9,404.2 432.9,408.9C433.9,413.5 434.3,418.3 433.9,421.9C433.4,425.5 431.4,428.5 430,430.4C428.6,432.3 427.1,432.8 425.4,433.3C423.8,433.8 422.2,434.2 420,433.4C417.8,432.6 414.5,431.2 412.1,428.4C409.7,425.7 407.4,421.4 405.7,417C404,412.6 402.8,407.2 401.8,402.1C400.8,397 396.2,390.1 399.5,386.4C402.7,382.7 416.5,378.5 421.2,379.8Z" fill="#c1b08a" stroke="#9a7d52" stroke-width="1" stroke-opacity="0.8"/><path d="M443.3,380.8C448.1,381.9 448.4,389.9 450.4,394.4C452.4,398.8 454.2,403.1 455.2,407.4C456.3,411.8 457,416.8 456.6,420.4C456.3,424 454.4,427.1 453,429.1C451.7,431 450.2,431.6 448.6,432.1C446.9,432.7 445.4,433.1 443.2,432.4C440.9,431.6 437.6,430.3 435.1,427.7C432.6,425 430.1,420.6 428.3,416.5C426.5,412.4 425.4,407.9 424.3,403.1C423.2,398.4 418.6,391.8 421.8,388C424.9,384.3 438.5,379.8 443.3,380.8Z" fill="#c1b08a" stroke="#9a7d52" stroke-width="1" stroke-opacity="0.8"/><path d="M465.5,381.4C470.2,382.2 470.8,390.2 472.9,394.3C474.9,398.5 476.6,402.2 477.7,406.3C478.8,410.5 479.7,415.7 479.4,419.3C479.2,422.9 477.4,426 476.1,428C474.8,430 473.3,430.6 471.7,431.2C470.1,431.8 468.6,432.3 466.3,431.6C464,430.9 460.7,429.7 458.1,427.1C455.6,424.5 452.9,420 451.1,416.1C449.2,412.2 448.1,408.3 446.9,403.9C445.8,399.4 441.1,393 444.2,389.2C447.3,385.5 460.7,380.6 465.5,381.4Z" fill="#c1b08a" stroke="#9a7d52" stroke-width="1" stroke-opacity="0.8"/><path d="M489.2,381.1C493.9,381.7 494.8,389.5 496.8,393.4C498.9,397.3 500.5,400.5 501.6,404.5C502.7,408.5 503.9,413.8 503.7,417.4C503.6,421 501.9,424.2 500.6,426.2C499.4,428.2 498,428.9 496.4,429.5C494.7,430.2 493.2,430.7 491,430.1C488.7,429.5 485.3,428.4 482.7,425.9C480.1,423.4 477.2,418.8 475.3,415.1C473.4,411.4 472.3,408 471.1,403.7C469.9,399.5 465.1,393.3 468.1,389.5C471.1,385.7 484.4,380.4 489.2,381.1Z" fill="#c1b08a" stroke="#9a7d52" stroke-width="1" stroke-opacity="0.8"/><path d="M511.3,378.4C516.1,379 517.1,386.7 519.2,390.5C521.3,394.4 522.9,397.5 524.1,401.4C525.3,405.4 526.5,410.6 526.4,414.3C526.3,417.9 524.7,421.1 523.5,423.1C522.3,425.1 520.9,425.8 519.3,426.5C517.7,427.2 516.2,427.7 513.9,427.2C511.6,426.6 508.2,425.5 505.5,423.1C502.9,420.6 500,416.1 498,412.4C496,408.8 494.8,405.5 493.6,401.3C492.3,397.2 487.5,391.1 490.4,387.3C493.4,383.4 506.5,377.9 511.3,378.4Z" fill="#c1b08a" stroke="#9a7d52" stroke-width="1" stroke-opacity="0.8"/><path d="M533.2,374C538,374.5 539.1,382.3 541.3,386.3C543.5,390.2 545.3,393.5 546.6,397.6C547.9,401.6 549.1,406.8 549.1,410.4C549,414 547.4,417.2 546.3,419.3C545.1,421.3 543.7,422 542.1,422.7C540.5,423.4 539,424 536.7,423.4C534.4,422.9 531,421.9 528.3,419.5C525.6,417 522.7,412.6 520.6,408.9C518.6,405.2 517.3,401.6 515.9,397.3C514.6,393 509.6,387 512.4,383.1C515.3,379.2 528.4,373.5 533.2,374Z" fill="#c1b08a" stroke="#9a7d52" stroke-width="1" stroke-opacity="0.8"/><path d="M556.3,368.3C561.1,368.8 562.3,376.7 564.6,380.7C567,384.8 569,388.6 570.5,392.7C571.9,396.8 573.1,401.8 573.1,405.4C573.1,409.1 571.6,412.3 570.4,414.3C569.3,416.4 567.9,417.1 566.3,417.8C564.7,418.5 563.3,419.1 561,418.6C558.7,418.1 555.2,417.1 552.5,414.7C549.8,412.4 546.9,408.1 544.7,404.3C542.6,400.5 541.1,396.5 539.6,392C538.1,387.6 533,381.5 535.7,377.6C538.5,373.6 551.5,367.7 556.3,368.3Z" fill="#c1b08a" stroke="#9a7d52" stroke-width="1" stroke-opacity="0.8"/><path d="M577.3,360.7C582.2,361 583.5,368.8 585.8,372.6C588.1,376.5 590,379.7 591.4,383.7C592.8,387.7 594.2,392.9 594.3,396.5C594.4,400.1 592.9,403.4 591.7,405.5C590.6,407.6 589.2,408.3 587.7,409C586.1,409.8 584.6,410.4 582.3,409.9C580,409.4 576.5,408.5 573.8,406.2C571,403.9 567.9,399.5 565.7,395.9C563.6,392.2 562.2,388.8 560.7,384.5C559.2,380.3 554,374.3 556.8,370.4C559.6,366.4 572.5,360.3 577.3,360.7Z" fill="#c1b08a" stroke="#9a7d52" stroke-width="1" stroke-opacity="0.8"/><path d="M305.7,340.2C309,340.9 309.5,346.5 311.1,349.8C312.7,353.2 314.6,357 315.6,360.2C316.6,363.4 317.1,366.4 317,368.8C316.8,371.2 315.7,373.3 314.9,374.7C314,376 313.1,376.5 312,376.9C310.9,377.3 309.9,377.7 308.4,377.2C306.9,376.8 304.6,376.1 302.9,374.4C301.1,372.7 299.4,370.1 298,367.1C296.6,364.1 295.3,360 294.3,356.5C293.2,352.9 289.7,348.5 291.6,345.8C293.5,343 302.5,339.5 305.7,340.2Z" fill="#c1b08a" stroke="#9a7d52" stroke-width="1" stroke-opacity="0.8"/><path d="M321.1,344C324.9,345.3 324.7,352.1 326.2,356.2C327.7,360.4 329.3,364.9 330,368.8C330.7,372.7 330.9,376.6 330.4,379.6C329.9,382.5 328.2,384.9 327,386.4C325.8,388 324.6,388.4 323.2,388.7C321.8,389.1 320.5,389.4 318.7,388.6C316.9,387.9 314.3,386.6 312.4,384.3C310.5,382 308.8,378.5 307.5,374.8C306.2,371 305.3,366.3 304.6,361.9C303.8,357.6 300.3,351.8 303,348.8C305.8,345.8 317.2,342.8 321.1,344Z" fill="#c1b08a" stroke="#9a7d52" stroke-width="1" stroke-opacity="0.8"/><path d="M340,350C343.8,351.6 343.3,358.8 344.7,363.7C346.2,368.6 348.1,374.8 348.8,379.2C349.5,383.6 349.4,387.1 348.8,390.1C348.1,393 346.3,395.3 345,396.8C343.8,398.3 342.5,398.7 341.1,399C339.7,399.3 338.4,399.5 336.6,398.7C334.8,397.9 332.2,396.5 330.4,394.1C328.6,391.7 327,388.5 325.8,384.3C324.6,380 323.7,373.5 323,368.5C322.3,363.4 318.7,357.1 321.6,354C324.4,350.9 336.1,348.3 340,350Z" fill="#c1b08a" stroke="#9a7d52" stroke-width="1" stroke-opacity="0.8"/><path d="M359,353.4C363,354.9 362.5,362.2 364,367C365.5,371.8 367.4,377.7 368.1,382.1C368.8,386.4 368.8,390.2 368.2,393.2C367.6,396.2 365.8,398.6 364.5,400.2C363.2,401.7 361.9,402.1 360.4,402.4C359,402.8 357.7,403 355.8,402.2C354,401.4 351.3,400 349.4,397.5C347.5,395.1 345.9,391.7 344.6,387.5C343.3,383.3 342.4,377.2 341.6,372.2C340.9,367.2 337.3,360.9 340.2,357.7C343,354.6 355,351.8 359,353.4Z" fill="#c1b08a" stroke="#9a7d52" stroke-width="1" stroke-opacity="0.8"/><path d="M377.8,356.7C381.8,358.2 381.4,365.5 383,370.2C384.6,374.9 386.5,380.6 387.3,384.9C388,389.3 388.1,393 387.5,396.1C387,399.1 385.2,401.5 383.9,403.1C382.6,404.7 381.3,405 379.9,405.4C378.5,405.7 377.2,406 375.3,405.2C373.5,404.4 370.7,403.1 368.8,400.7C366.9,398.3 365.2,394.9 363.9,390.7C362.5,386.6 361.5,380.6 360.7,375.7C359.9,370.8 356.2,364.5 359.1,361.4C361.9,358.2 373.8,355.3 377.8,356.7Z" fill="#c1b08a" stroke="#9a7d52" stroke-width="1" stroke-opacity="0.8"/><path d="M396.5,359.7C400.5,361 400.3,368.2 401.9,372.7C403.6,377.2 405.5,382.5 406.3,386.7C407.1,390.8 407.3,394.7 406.8,397.7C406.3,400.7 404.6,403.2 403.4,404.8C402.1,406.4 400.9,406.8 399.5,407.2C398,407.6 396.7,407.8 394.9,407.1C393,406.4 390.3,405.1 388.3,402.7C386.4,400.4 384.6,397 383.2,393C381.8,389 380.7,383.4 379.8,378.7C379,374 375.2,367.9 378,364.7C380.7,361.5 392.5,358.3 396.5,359.7Z" fill="#c1b08a" stroke="#9a7d52" stroke-width="1" stroke-opacity="0.8"/><path d="M416.7,361.4C420.7,362.6 420.8,369.6 422.5,373.7C424.1,377.8 425.9,382.3 426.8,386.3C427.6,390.2 428,394.3 427.6,397.3C427.2,400.3 425.6,402.9 424.4,404.5C423.2,406.1 422,406.6 420.6,407C419.1,407.4 417.8,407.8 416,407.1C414.1,406.4 411.3,405.2 409.3,402.9C407.2,400.6 405.3,397 403.8,393.3C402.3,389.5 401.3,384.8 400.4,380.4C399.5,376.1 395.6,370.2 398.3,367C401.1,363.9 412.7,360.3 416.7,361.4Z" fill="#c1b08a" stroke="#9a7d52" stroke-width="1" stroke-opacity="0.8"/><path d="M435.5,363.2C439.6,364.1 439.9,371 441.6,374.8C443.3,378.7 444.9,382.5 445.8,386.2C446.7,390 447.3,394.2 447,397.2C446.7,400.3 445.1,402.9 444,404.5C442.8,406.2 441.6,406.7 440.2,407.1C438.8,407.6 437.5,408 435.6,407.4C433.7,406.7 430.9,405.6 428.8,403.4C426.7,401.1 424.6,397.4 423,393.9C421.5,390.4 420.5,386.3 419.5,382.2C418.6,378.1 414.6,372.5 417.3,369.3C420,366.1 431.5,362.3 435.5,363.2Z" fill="#c1b08a" stroke="#9a7d52" stroke-width="1" stroke-opacity="0.8"/><path d="M454.5,364.4C458.6,365.2 459,371.9 460.8,375.6C462.5,379.2 464,382.5 465,386.1C465.9,389.7 466.7,394.1 466.4,397.1C466.2,400.2 464.7,402.9 463.6,404.5C462.5,406.2 461.2,406.7 459.8,407.2C458.5,407.7 457.2,408.1 455.2,407.6C453.3,407 450.5,405.9 448.3,403.7C446.2,401.5 443.9,397.7 442.3,394.4C440.8,391 439.8,387.5 438.8,383.6C437.8,379.7 433.8,374.2 436.4,371C439,367.8 450.4,363.7 454.5,364.4Z" fill="#c1b08a" stroke="#9a7d52" stroke-width="1" stroke-opacity="0.8"/><path d="M475,365.1C479,365.7 479.7,372.3 481.5,375.7C483.2,379.1 484.6,382 485.6,385.4C486.6,388.9 487.5,393.3 487.3,396.4C487.2,399.5 485.7,402.2 484.7,403.9C483.6,405.6 482.4,406.1 481,406.7C479.6,407.2 478.4,407.7 476.4,407.1C474.5,406.6 471.6,405.6 469.4,403.5C467.2,401.3 464.8,397.5 463.1,394.3C461.5,391.1 460.5,388.1 459.5,384.4C458.5,380.7 454.4,375.4 457,372.2C459.6,368.9 470.9,364.5 475,365.1Z" fill="#c1b08a" stroke="#9a7d52" stroke-width="1" stroke-opacity="0.8"/><path d="M494,364C498.1,364.5 498.9,371.1 500.7,374.4C502.5,377.7 503.8,380.3 504.8,383.7C505.8,387.1 506.9,391.6 506.8,394.7C506.7,397.7 505.3,400.5 504.2,402.2C503.2,403.9 502,404.5 500.6,405.1C499.3,405.6 498,406.1 496.1,405.6C494.1,405.1 491.2,404.2 489,402.1C486.7,400 484.2,396.1 482.6,393C480.9,389.9 479.9,387 478.9,383.5C477.8,379.9 473.7,374.7 476.2,371.4C478.7,368.2 489.9,363.5 494,364Z" fill="#c1b08a" stroke="#9a7d52" stroke-width="1" stroke-opacity="0.8"/><path d="M512.8,360.4C516.9,360.9 517.8,367.5 519.6,370.9C521.5,374.2 523,377.1 524.1,380.5C525.1,383.9 526.2,388.3 526.1,391.4C526.1,394.5 524.7,397.2 523.7,399C522.7,400.7 521.5,401.3 520.1,401.9C518.7,402.5 517.5,402.9 515.5,402.5C513.6,402 510.6,401.1 508.4,399C506.1,397 503.6,393.1 501.9,390C500.1,386.9 499.1,383.8 497.9,380.2C496.8,376.5 492.6,371.3 495.1,368C497.6,364.7 508.7,359.9 512.8,360.4Z" fill="#c1b08a" stroke="#9a7d52" stroke-width="1" stroke-opacity="0.8"/><path d="M531.5,356.1C535.6,356.6 536.5,363.3 538.5,366.7C540.4,370.1 542,373.1 543.2,376.5C544.3,380 545.4,384.4 545.3,387.5C545.3,390.5 544,393.3 543,395C542,396.8 540.8,397.4 539.4,398C538.1,398.6 536.8,399.1 534.9,398.6C532.9,398.2 530,397.3 527.7,395.3C525.4,393.2 522.9,389.5 521.1,386.3C519.3,383.1 518.1,379.9 516.9,376.2C515.7,372.5 511.4,367.3 513.8,364C516.3,360.6 527.4,355.7 531.5,356.1Z" fill="#c1b08a" stroke="#9a7d52" stroke-width="1" stroke-opacity="0.8"/><path d="M551.3,350.5C555.4,350.9 556.4,357.7 558.4,361.2C560.5,364.7 562.3,368 563.5,371.6C564.7,375.1 565.8,379.4 565.8,382.4C565.8,385.5 564.5,388.2 563.5,390C562.6,391.8 561.4,392.4 560,393C558.7,393.6 557.4,394.1 555.5,393.7C553.5,393.2 550.6,392.4 548.3,390.4C546,388.4 543.5,384.8 541.6,381.5C539.7,378.3 538.4,374.7 537.1,370.9C535.8,367 531.4,361.9 533.8,358.5C536.1,355.1 547.2,350 551.3,350.5Z" fill="#c1b08a" stroke="#9a7d52" stroke-width="1" stroke-opacity="0.8"/><path d="M569.3,344.4C573.4,344.8 574.5,351.4 576.5,354.7C578.5,358 580.2,360.9 581.4,364.3C582.6,367.7 583.8,372 583.9,375.1C583.9,378.1 582.7,380.9 581.7,382.7C580.8,384.4 579.6,385.1 578.3,385.7C577,386.3 575.7,386.9 573.8,386.5C571.8,386.1 568.9,385.3 566.5,383.3C564.2,381.3 561.6,377.7 559.7,374.6C557.9,371.5 556.7,368.4 555.4,364.7C554.1,361.1 549.6,356.1 552,352.7C554.3,349.3 565.2,344.1 569.3,344.4Z" fill="#c1b08a" stroke="#9a7d52" stroke-width="1" stroke-opacity="0.8"/><path d="M297.4,328C299.7,328.7 300.2,333.1 301.8,336.5C303.4,339.8 305.9,345 307,347.8C308,350.7 308,352.1 308,353.7C307.9,355.4 307.2,356.8 306.6,357.8C306,358.7 305.4,359 304.7,359.3C303.9,359.6 303.2,359.9 302.2,359.6C301.1,359.3 299.6,358.8 298.4,357.7C297.2,356.5 296.2,355.5 295,352.8C293.7,350 291.8,344.5 290.6,341C289.5,337.6 286.7,334.1 287.8,331.9C288.9,329.7 295.1,327.2 297.4,328Z" fill="#c1b08a" stroke="#9a7d52" stroke-width="1" stroke-opacity="0.8"/><path d="M312.6,327.5C316,328.5 315.8,334.5 317.1,338.1C318.5,341.8 320,346.1 320.7,349.5C321.3,353 321.5,356.2 321.1,358.7C320.7,361.2 319.3,363.2 318.3,364.5C317.2,365.8 316.2,366.2 315,366.5C313.8,366.8 312.7,367.1 311.2,366.4C309.7,365.8 307.4,364.8 305.8,362.8C304.2,360.9 302.7,358 301.5,354.7C300.4,351.4 299.5,347 298.8,343.1C298.1,339.2 295,334.2 297.3,331.6C299.6,329 309.3,326.4 312.6,327.5Z" fill="#c1b08a" stroke="#9a7d52" stroke-width="1" stroke-opacity="0.8"/><path d="M329.2,330.2C332.5,331.6 332.1,337.8 333.4,342.1C334.8,346.4 336.5,352.1 337.2,355.9C337.8,359.8 337.7,362.7 337.2,365.2C336.7,367.7 335.2,369.7 334.1,371C333,372.3 331.9,372.6 330.7,372.9C329.5,373.1 328.4,373.3 326.9,372.7C325.3,372 323.1,370.8 321.5,368.8C320,366.7 318.6,364.1 317.5,360.4C316.4,356.7 315.6,350.8 314.9,346.4C314.2,341.9 311.1,336.5 313.5,333.8C315.9,331.1 325.9,328.8 329.2,330.2Z" fill="#c1b08a" stroke="#9a7d52" stroke-width="1" stroke-opacity="0.8"/><path d="M344.9,333.9C348.4,335.3 348,341.7 349.3,346.1C350.6,350.4 352.3,355.9 352.9,359.8C353.6,363.7 353.5,366.9 353,369.5C352.4,372.1 350.8,374.2 349.7,375.6C348.5,376.9 347.4,377.2 346.1,377.5C344.9,377.8 343.7,378 342.1,377.3C340.5,376.5 338.2,375.3 336.6,373.2C334.9,371 333.6,368.2 332.4,364.4C331.3,360.6 330.5,354.9 329.8,350.4C329.2,346 326,340.3 328.5,337.6C331.1,334.8 341.5,332.5 344.9,333.9Z" fill="#c1b08a" stroke="#9a7d52" stroke-width="1" stroke-opacity="0.8"/><path d="M362.1,337C365.6,338.4 365.2,344.8 366.6,349.1C368,353.4 369.8,358.8 370.4,362.7C371.1,366.6 371.1,369.8 370.6,372.4C370.1,375 368.5,377.2 367.4,378.5C366.2,379.9 365.1,380.2 363.8,380.5C362.6,380.8 361.4,381 359.8,380.3C358.2,379.6 355.9,378.4 354.2,376.3C352.6,374.2 351.1,371.4 350,367.6C348.8,363.8 347.9,358.2 347.2,353.7C346.5,349.3 343.3,343.7 345.8,340.9C348.3,338.1 358.7,335.6 362.1,337Z" fill="#c1b08a" stroke="#9a7d52" stroke-width="1" stroke-opacity="0.8"/><path d="M379.2,340.5C382.7,341.7 382.4,348.1 383.8,352.3C385.3,356.5 387.1,361.7 387.8,365.6C388.5,369.4 388.6,372.6 388.1,375.2C387.6,377.8 386.1,380 385,381.4C383.9,382.7 382.8,383.1 381.5,383.4C380.3,383.7 379.1,383.9 377.5,383.3C375.9,382.6 373.5,381.5 371.8,379.4C370.2,377.3 368.7,374.4 367.5,370.8C366.3,367.1 365.3,361.6 364.6,357.3C363.8,352.9 360.5,347.4 362.9,344.6C365.4,341.8 375.7,339.2 379.2,340.5Z" fill="#c1b08a" stroke="#9a7d52" stroke-width="1" stroke-opacity="0.8"/><path d="M396.2,343.3C399.6,344.5 399.5,350.8 401,354.7C402.5,358.7 404.3,363.5 405,367.2C405.8,370.8 406,374.1 405.6,376.7C405.2,379.3 403.7,381.5 402.6,382.9C401.6,384.3 400.5,384.6 399.2,385C398,385.3 396.9,385.6 395.3,385C393.7,384.3 391.3,383.3 389.6,381.2C387.8,379.2 386.3,376.3 385,372.8C383.8,369.3 382.8,364.2 382,360.1C381.1,355.9 377.8,350.6 380.2,347.8C382.5,345 392.7,342.2 396.2,343.3Z" fill="#c1b08a" stroke="#9a7d52" stroke-width="1" stroke-opacity="0.8"/><path d="M411.8,345.4C415.3,346.4 415.4,352.5 416.9,356.3C418.4,360 420.1,364.2 420.9,367.7C421.7,371.2 422,374.6 421.6,377.3C421.3,379.9 419.9,382.1 418.9,383.5C417.8,384.9 416.7,385.3 415.5,385.7C414.3,386.1 413.2,386.3 411.5,385.8C409.9,385.2 407.5,384.1 405.7,382.2C404,380.2 402.3,377.2 401,373.8C399.7,370.5 398.7,366 397.9,362.1C397,358.2 393.6,353.1 395.9,350.3C398.3,347.5 408.4,344.4 411.8,345.4Z" fill="#c1b08a" stroke="#9a7d52" stroke-width="1" stroke-opacity="0.8"/><path d="M429,347.7C432.5,348.5 432.7,354.6 434.3,358C435.8,361.5 437.4,365.2 438.2,368.5C439,371.9 439.5,375.5 439.2,378.1C438.9,380.8 437.6,383 436.6,384.4C435.6,385.9 434.5,386.3 433.3,386.7C432.1,387.1 431,387.4 429.3,386.9C427.7,386.3 425.2,385.4 423.4,383.4C421.6,381.5 419.8,378.4 418.4,375.2C417.1,372 416.1,368.1 415.2,364.5C414.3,360.8 410.9,355.8 413.2,353C415.5,350.2 425.5,346.8 429,347.7Z" fill="#c1b08a" stroke="#9a7d52" stroke-width="1" stroke-opacity="0.8"/><path d="M446.3,349.4C449.8,350.1 450.2,356 451.8,359.3C453.3,362.6 454.8,365.9 455.7,369.1C456.5,372.3 457.1,376 456.9,378.7C456.7,381.3 455.4,383.6 454.4,385.1C453.4,386.5 452.4,387 451.2,387.4C450,387.9 448.8,388.2 447.2,387.7C445.5,387.2 443,386.3 441.1,384.4C439.3,382.5 437.4,379.2 436,376.2C434.6,373.2 433.6,369.7 432.7,366.2C431.8,362.7 428.3,357.9 430.5,355C432.8,352.2 442.7,348.6 446.3,349.4Z" fill="#c1b08a" stroke="#9a7d52" stroke-width="1" stroke-opacity="0.8"/><path d="M462.1,350.5C465.7,351.1 466.2,357 467.8,360.1C469.4,363.2 470.7,366.1 471.6,369.3C472.5,372.4 473.2,376.1 473.1,378.8C472.9,381.5 471.6,383.8 470.7,385.3C469.8,386.7 468.7,387.2 467.5,387.7C466.3,388.1 465.2,388.5 463.6,388C461.9,387.6 459.4,386.7 457.5,384.8C455.6,383 453.6,379.7 452.1,376.8C450.7,373.9 449.7,370.8 448.8,367.4C447.9,364.1 444.3,359.4 446.5,356.5C448.8,353.7 458.6,349.9 462.1,350.5Z" fill="#c1b08a" stroke="#9a7d52" stroke-width="1" stroke-opacity="0.8"/><path d="M479.6,350.4C483.1,350.9 483.8,356.7 485.4,359.8C487,362.8 488.3,365.5 489.2,368.6C490.2,371.7 491,375.5 490.9,378.1C490.8,380.8 489.5,383.2 488.6,384.7C487.7,386.1 486.6,386.6 485.5,387.1C484.3,387.6 483.2,388 481.5,387.6C479.8,387.1 477.3,386.3 475.3,384.5C473.4,382.6 471.3,379.3 469.8,376.5C468.3,373.7 467.4,370.8 466.4,367.5C465.5,364.2 461.8,359.6 464,356.7C466.2,353.9 476,349.9 479.6,350.4Z" fill="#c1b08a" stroke="#9a7d52" stroke-width="1" stroke-opacity="0.8"/><path d="M496.8,348.1C500.4,348.5 501.1,354.4 502.8,357.4C504.4,360.3 505.8,363 506.7,366C507.7,369.1 508.5,372.9 508.5,375.6C508.4,378.3 507.2,380.6 506.3,382.1C505.4,383.6 504.4,384.2 503.2,384.7C502,385.2 500.9,385.6 499.2,385.1C497.5,384.7 495,383.9 493,382.1C491,380.3 488.9,377 487.4,374.2C485.9,371.4 484.9,368.6 483.9,365.3C482.9,362.1 479.2,357.5 481.4,354.6C483.5,351.8 493.3,347.6 496.8,348.1Z" fill="#c1b08a" stroke="#9a7d52" stroke-width="1" stroke-opacity="0.8"/><path d="M513.9,344.3C517.5,344.8 518.3,350.6 520,353.7C521.7,356.7 523.2,359.6 524.2,362.6C525.2,365.7 526.1,369.5 526,372.2C526,374.8 524.8,377.2 523.9,378.7C523.1,380.3 522,380.8 520.8,381.3C519.6,381.8 518.5,382.2 516.8,381.8C515.1,381.4 512.6,380.7 510.6,378.9C508.6,377.1 506.5,373.9 504.9,371C503.3,368.2 502.3,365.2 501.2,361.8C500.2,358.5 496.4,353.9 498.5,351C500.6,348.1 510.4,343.9 513.9,344.3Z" fill="#c1b08a" stroke="#9a7d52" stroke-width="1" stroke-opacity="0.8"/><path d="M529.4,340.3C533,340.7 533.8,346.6 535.6,349.7C537.4,352.8 539,355.8 540,358.9C541.1,362 542,365.7 542,368.4C541.9,371.1 540.8,373.5 539.9,375C539.1,376.5 538,377.1 536.9,377.6C535.7,378.1 534.6,378.5 532.9,378.1C531.2,377.7 528.6,377 526.6,375.2C524.6,373.5 522.5,370.3 520.9,367.5C519.3,364.6 518.1,361.4 517,358C515.9,354.6 512,350 514.1,347.1C516.2,344.1 525.8,339.8 529.4,340.3Z" fill="#c1b08a" stroke="#9a7d52" stroke-width="1" stroke-opacity="0.8"/><path d="M546.1,335C549.7,335.4 550.6,341.4 552.4,344.5C554.2,347.7 555.9,350.8 557.1,353.9C558.2,357.1 559.1,360.7 559.1,363.4C559.1,366.1 557.9,368.5 557.1,370C556.3,371.5 555.2,372.1 554.1,372.6C552.9,373.2 551.8,373.6 550.1,373.2C548.4,372.8 545.8,372.1 543.8,370.4C541.8,368.6 539.6,365.6 538,362.7C536.3,359.8 535.1,356.4 533.9,353C532.7,349.5 528.8,345 530.8,342C532.9,339 542.5,334.6 546.1,335Z" fill="#c1b08a" stroke="#9a7d52" stroke-width="1" stroke-opacity="0.8"/><path d="M562.7,330.2C566.3,330.5 567.2,336.3 569,339.3C570.8,342.3 572.4,345.1 573.6,348.1C574.7,351.1 575.7,354.8 575.7,357.5C575.8,360.1 574.7,362.5 573.9,364.1C573.1,365.6 572,366.1 570.9,366.7C569.7,367.2 568.7,367.7 567,367.3C565.3,367 562.7,366.3 560.7,364.6C558.6,362.9 556.4,359.8 554.8,357.1C553.1,354.3 552,351.3 550.8,348C549.6,344.8 545.7,340.4 547.7,337.4C549.7,334.4 559.2,329.9 562.7,330.2Z" fill="#c1b08a" stroke="#9a7d52" stroke-width="1" stroke-opacity="0.8"/></g>
<g clip-path="url(#clwext)"><g clip-path="url(#clwband)"><path d="M286.9,306.5C288.9,307.8 289.9,312.3 292.1,317C294.3,321.6 298.6,330.8 300.1,334.5C301.6,338.2 301,337.9 300.9,339.2C300.9,340.6 300.3,341.7 299.8,342.5C299.4,343.2 298.8,343.5 298.3,343.7C297.7,343.9 297.1,344.1 296.3,343.9C295.4,343.7 294.2,343.3 293.2,342.4C292.3,341.5 292,342.1 290.5,338.5C288.9,334.8 285.6,325.2 283.9,320.3C282.2,315.5 279.7,311.6 280.2,309.3C280.7,307 285,305.2 286.9,306.5Z" fill="#c1b08a" stroke="#9a7d52" stroke-width="1" stroke-opacity="0.8"/><path d="M299.9,300.4C302.5,302.1 303,308 304.9,313.3C306.8,318.7 310.2,328.3 311.4,332.8C312.5,337.2 312.1,338 311.8,340C311.5,341.9 310.3,343.6 309.5,344.6C308.8,345.6 307.9,345.9 307,346.1C306.1,346.4 305.2,346.6 304,346.1C302.8,345.7 301,344.8 299.7,343.3C298.5,341.8 297.7,341.3 296.3,337C295,332.6 293,322.6 291.8,317C290.7,311.4 288.1,306.1 289.4,303.4C290.8,300.6 297.3,298.8 299.9,300.4Z" fill="#c1b08a" stroke="#9a7d52" stroke-width="1" stroke-opacity="0.8"/><path d="M316,300C318.8,301.9 319.1,308.4 321,314.3C322.8,320.1 326.1,330.5 327.2,335.4C328.2,340.2 327.7,341.2 327.3,343.4C326.9,345.6 325.6,347.3 324.6,348.4C323.7,349.6 322.8,349.8 321.7,350.1C320.7,350.3 319.7,350.5 318.4,349.9C317.1,349.3 315.1,348.4 313.7,346.6C312.4,344.9 311.5,344.2 310.2,339.4C309,334.6 307.2,323.9 306.2,317.8C305.2,311.7 302.5,305.8 304.2,302.8C305.8,299.9 313.2,298.1 316,300Z" fill="#c1b08a" stroke="#9a7d52" stroke-width="1" stroke-opacity="0.8"/><path d="M330.4,301.9C333.3,303.9 333.5,310.7 335.3,316.8C337.2,323 340.4,333.7 341.4,338.7C342.4,343.8 341.8,344.9 341.4,347.2C340.9,349.6 339.4,351.4 338.4,352.6C337.4,353.7 336.4,354 335.3,354.3C334.2,354.5 333.2,354.7 331.8,354C330.4,353.4 328.3,352.3 326.9,350.4C325.5,348.6 324.6,347.7 323.3,342.7C322.1,337.7 320.5,326.6 319.6,320.3C318.6,314 316,307.7 317.8,304.7C319.6,301.6 327.5,299.8 330.4,301.9Z" fill="#c1b08a" stroke="#9a7d52" stroke-width="1" stroke-opacity="0.8"/><path d="M345.8,304.9C348.8,306.9 349.1,313.7 351,319.8C352.9,325.8 356.2,336.4 357.2,341.5C358.3,346.5 357.8,347.7 357.3,350C356.8,352.3 355.4,354.2 354.4,355.4C353.4,356.6 352.4,356.9 351.3,357.1C350.2,357.4 349.2,357.6 347.8,356.9C346.4,356.3 344.3,355.3 342.8,353.4C341.4,351.5 340.4,350.7 339.1,345.7C337.9,340.7 336.1,329.7 335.1,323.4C334.2,317.1 331.4,310.9 333.2,307.8C335,304.8 342.9,302.9 345.8,304.9Z" fill="#c1b08a" stroke="#9a7d52" stroke-width="1" stroke-opacity="0.8"/><path d="M359.8,307.9C362.8,309.8 363.1,316.6 365.1,322.6C367,328.6 370.4,339.1 371.5,344.1C372.6,349.1 372.1,350.3 371.7,352.6C371.3,355 369.9,356.9 368.9,358C367.9,359.2 366.9,359.5 365.8,359.8C364.7,360.1 363.7,360.3 362.3,359.7C360.9,359.1 358.8,358 357.3,356.2C355.9,354.3 354.9,353.5 353.5,348.5C352.2,343.6 350.4,332.7 349.3,326.5C348.3,320.2 345.5,314.1 347.2,311C349,307.9 356.8,305.9 359.8,307.9Z" fill="#c1b08a" stroke="#9a7d52" stroke-width="1" stroke-opacity="0.8"/><path d="M375,311.7C378,313.6 378.4,320.2 380.5,326.1C382.5,332 386,342.2 387.1,347.1C388.3,352 387.9,353.2 387.5,355.6C387.1,357.9 385.7,359.8 384.8,361C383.8,362.2 382.8,362.5 381.8,362.8C380.7,363.1 379.7,363.3 378.2,362.7C376.8,362.1 374.7,361.1 373.2,359.3C371.7,357.5 370.7,356.6 369.3,351.8C367.9,346.9 366,336.4 364.8,330.2C363.7,324.1 360.8,318.1 362.5,315C364.2,311.9 372,309.8 375,311.7Z" fill="#c1b08a" stroke="#9a7d52" stroke-width="1" stroke-opacity="0.8"/><path d="M388.8,315C391.8,316.7 392.4,323.2 394.5,328.8C396.5,334.4 400.1,343.9 401.3,348.6C402.5,353.3 402.1,354.7 401.8,357.1C401.4,359.4 400.1,361.3 399.2,362.5C398.3,363.7 397.3,364.1 396.2,364.4C395.2,364.7 394.2,364.9 392.7,364.4C391.3,363.8 389.2,362.9 387.7,361.1C386.2,359.3 385.1,358.3 383.6,353.7C382.2,349 380.2,339.1 378.9,333.2C377.7,327.4 374.8,321.5 376.4,318.5C378.1,315.4 385.8,313.2 388.8,315Z" fill="#c1b08a" stroke="#9a7d52" stroke-width="1" stroke-opacity="0.8"/><path d="M404.1,318.1C407.1,319.7 407.9,326.1 410,331.4C412.1,336.7 415.6,345.4 416.9,349.9C418.2,354.5 417.9,356.1 417.6,358.4C417.3,360.7 416.1,362.7 415.2,363.9C414.3,365.2 413.3,365.5 412.3,365.8C411.2,366.2 410.2,366.4 408.7,365.9C407.3,365.4 405.2,364.5 403.6,362.8C402,361 400.9,359.8 399.4,355.4C397.9,351 395.8,341.8 394.5,336.2C393.2,330.6 390.2,325 391.8,322C393.4,318.9 401.1,316.6 404.1,318.1Z" fill="#c1b08a" stroke="#9a7d52" stroke-width="1" stroke-opacity="0.8"/><path d="M418,321C421.1,322.5 421.9,328.7 424.1,333.8C426.3,338.8 429.8,347 431.1,351.4C432.4,355.7 432.3,357.5 432,359.8C431.8,362.1 430.6,364.1 429.7,365.4C428.8,366.7 427.9,367 426.8,367.4C425.7,367.7 424.7,368 423.3,367.5C421.8,367.1 419.7,366.2 418.1,364.5C416.5,362.8 415.3,361.5 413.7,357.2C412.1,353 410,344.3 408.6,339C407.3,333.6 404.2,328.1 405.8,325.1C407.4,322.1 415,319.6 418,321Z" fill="#c1b08a" stroke="#9a7d52" stroke-width="1" stroke-opacity="0.8"/><path d="M432.1,323.2C435.2,324.5 436.2,330.7 438.4,335.6C440.6,340.4 444.1,348.1 445.5,352.3C446.8,356.6 446.7,358.5 446.5,360.8C446.4,363.2 445.2,365.2 444.3,366.5C443.5,367.7 442.5,368.1 441.5,368.5C440.4,368.9 439.4,369.2 437.9,368.8C436.5,368.3 434.3,367.5 432.6,365.8C431,364.1 429.7,362.7 428.1,358.6C426.5,354.5 424.3,346.3 422.9,341.1C421.5,335.9 418.4,330.5 419.9,327.6C421.5,324.6 429,321.9 432.1,323.2Z" fill="#c1b08a" stroke="#9a7d52" stroke-width="1" stroke-opacity="0.8"/><path d="M447.6,325.2C450.7,326.5 451.8,332.5 454.1,337.2C456.4,341.8 459.9,349.1 461.3,353.2C462.7,357.2 462.7,359.2 462.5,361.6C462.4,363.9 461.2,366 460.4,367.3C459.6,368.6 458.6,369 457.6,369.4C456.5,369.8 455.6,370.1 454.1,369.7C452.6,369.3 450.4,368.5 448.7,366.8C447,365.2 445.7,363.7 444,359.7C442.4,355.8 440.1,348 438.7,343C437.3,338.1 434.1,332.8 435.6,329.8C437.1,326.9 444.6,324 447.6,325.2Z" fill="#c1b08a" stroke="#9a7d52" stroke-width="1" stroke-opacity="0.8"/><path d="M461.9,326C465,327.1 466.2,333.1 468.5,337.7C470.8,342.2 474.3,349.1 475.7,353.1C477.2,357.1 477.2,359.2 477.1,361.6C477,363.9 475.9,366 475.1,367.3C474.3,368.7 473.4,369.1 472.3,369.5C471.3,369.9 470.3,370.3 468.8,369.9C467.3,369.5 465.1,368.7 463.3,367.1C461.6,365.5 460.2,363.9 458.5,360C456.8,356.2 454.5,348.7 453.1,343.8C451.6,339 448.4,333.8 449.8,330.8C451.3,327.9 458.8,324.9 461.9,326Z" fill="#c1b08a" stroke="#9a7d52" stroke-width="1" stroke-opacity="0.8"/><path d="M477.5,325.5C480.7,326.6 481.9,332.5 484.3,336.9C486.6,341.3 490.2,348.1 491.6,352C493.1,355.9 493.2,358.1 493.2,360.4C493.1,362.8 492,364.9 491.2,366.2C490.5,367.5 489.5,368 488.5,368.4C487.4,368.8 486.5,369.2 485,368.8C483.5,368.4 481.2,367.7 479.5,366.1C477.8,364.5 476.3,363 474.6,359.2C472.8,355.4 470.5,348.1 469,343.3C467.5,338.6 464.2,333.5 465.6,330.5C467,327.5 474.4,324.4 477.5,325.5Z" fill="#c1b08a" stroke="#9a7d52" stroke-width="1" stroke-opacity="0.8"/><path d="M491.5,322.2C494.6,323.3 496,329.2 498.4,333.7C500.8,338.2 504.5,345.1 506,349.1C507.5,353.1 507.6,355.1 507.6,357.5C507.5,359.9 506.5,362 505.7,363.3C504.9,364.6 504,365.1 503,365.5C501.9,366 500.9,366.3 499.4,366C497.9,365.6 495.7,364.9 493.9,363.3C492.2,361.7 490.8,360.2 489,356.4C487.2,352.5 484.7,345.1 483.1,340.2C481.5,335.4 478.1,330.3 479.5,327.3C480.9,324.3 488.3,321.1 491.5,322.2Z" fill="#c1b08a" stroke="#9a7d52" stroke-width="1" stroke-opacity="0.8"/><path d="M506.8,318.5C509.9,319.6 511.3,325.6 513.8,330.1C516.3,334.6 520.1,341.7 521.7,345.7C523.3,349.7 523.4,351.7 523.4,354.1C523.4,356.4 522.3,358.5 521.6,359.9C520.8,361.2 519.9,361.7 518.8,362.1C517.8,362.6 516.8,363 515.3,362.6C513.8,362.3 511.6,361.6 509.8,360C508,358.4 506.6,357 504.7,353.1C502.9,349.2 500.3,341.6 498.6,336.7C497,331.8 493.5,326.8 494.9,323.7C496.3,320.7 503.6,317.4 506.8,318.5Z" fill="#c1b08a" stroke="#9a7d52" stroke-width="1" stroke-opacity="0.8"/><path d="M520.5,314.3C523.6,315.4 525.1,321.4 527.6,326C530.2,330.6 534.2,337.9 535.9,341.9C537.5,346 537.6,347.9 537.6,350.3C537.6,352.7 536.6,354.8 535.8,356.1C535.1,357.5 534.1,357.9 533.1,358.4C532.1,358.9 531.1,359.3 529.6,358.9C528.1,358.6 525.8,357.9 524.1,356.4C522.3,354.8 520.9,353.4 519,349.5C517.1,345.6 514.3,337.7 512.6,332.8C510.8,327.8 507.3,322.7 508.6,319.6C509.9,316.5 517.3,313.2 520.5,314.3Z" fill="#c1b08a" stroke="#9a7d52" stroke-width="1" stroke-opacity="0.8"/><path d="M535.4,309.3C538.6,310.3 540.1,316.4 542.7,321C545.3,325.6 549.4,332.9 551.2,336.9C552.9,341 552.9,342.9 553,345.3C553,347.7 552,349.8 551.2,351.1C550.5,352.5 549.6,353 548.5,353.4C547.5,353.9 546.5,354.3 545,354C543.5,353.7 541.3,353 539.5,351.5C537.7,349.9 536.3,348.6 534.3,344.7C532.3,340.7 529.5,332.9 527.7,327.9C525.9,322.9 522.3,317.8 523.6,314.7C524.9,311.6 532.2,308.2 535.4,309.3Z" fill="#c1b08a" stroke="#9a7d52" stroke-width="1" stroke-opacity="0.8"/><path d="M549.2,306.4C552.4,307.3 554,313.2 556.6,317.6C559.2,322.1 563.2,328.9 564.9,332.8C566.6,336.7 566.8,338.7 566.8,341.1C566.9,343.4 565.9,345.5 565.2,346.9C564.5,348.3 563.6,348.7 562.6,349.2C561.5,349.7 560.6,350.1 559.1,349.8C557.6,349.5 555.3,348.9 553.6,347.4C551.8,345.9 550.3,344.5 548.3,340.7C546.4,337 543.6,329.5 541.8,324.7C540,319.9 536.4,315 537.6,311.9C538.9,308.9 546.1,305.4 549.2,306.4Z" fill="#c1b08a" stroke="#9a7d52" stroke-width="1" stroke-opacity="0.8"/></g></g>
<g clip-path="url(#clwtan)"><path d="M283.9,304.8C286.3,309.9 285.3,312.4 282.2,313.9C279.1,315.3 276.6,314.4 274.2,309.4M293.5,300.6C295.3,306 294.1,308.4 290.8,309.4C287.6,310.5 285.1,309.3 283.4,304M304.4,297.2C306.1,303.5 304.5,306.2 300.6,307.3C296.7,308.3 294,306.8 292.3,300.4M314.4,296.4C315.9,302.8 314.3,305.4 310.4,306.4C306.5,307.3 303.8,305.7 302.2,299.3M329,298.4C330.5,304.9 328.7,307.6 324.7,308.5C320.7,309.4 318,307.7 316.5,301.1M340.2,299.5C341.7,306.1 339.9,308.8 335.9,309.7C331.9,310.6 329.1,308.9 327.6,302.3M350.5,301.9C352,308.5 350.3,311.2 346.3,312.2C342.3,313.1 339.5,311.5 338,304.9M363.1,305.5C364.7,312 363,314.8 359,315.8C355,316.8 352.3,315.2 350.6,308.6M373,307.5C374.7,314 373.1,316.8 369.1,317.8C365.1,318.9 362.3,317.3 360.6,310.8M384.5,311.4C386.3,317.9 384.7,320.7 380.8,321.8C376.8,322.9 374,321.4 372.2,314.9M396.5,312.2C398.4,318.6 396.9,321.5 392.9,322.6C389,323.8 386.2,322.3 384.2,315.9M409,314.7C411,321.1 409.5,323.9 405.6,325.2C401.7,326.4 398.8,325 396.8,318.6M419.7,316.9C421.8,323.3 420.4,326.1 416.5,327.5C412.6,328.8 409.7,327.4 407.5,321M429.6,319.9C431.9,326.3 430.5,329.2 426.6,330.6C422.7,331.9 419.8,330.6 417.5,324.3M442.7,320.2C445,326.5 443.7,329.4 439.8,330.9C436,332.3 433,331.1 430.6,324.8M455.4,322.7C457.9,329 456.6,331.9 452.8,333.4C448.9,334.9 446,333.7 443.5,327.4M465.4,322.7C468,329 466.7,332 462.9,333.5C459.1,335.1 456.1,333.8 453.5,327.6M478.6,321.1C481.2,327.3 480,330.3 476.2,331.9C472.4,333.5 469.4,332.3 466.8,326.1M489.1,319C491.7,325.2 490.5,328.2 486.7,329.8C482.9,331.4 479.9,330.3 477.3,324.1M501.2,316.4C503.9,322.6 502.7,325.6 498.9,327.2C495.1,328.9 492.1,327.7 489.4,321.6M512.6,312.1C515.3,318.3 514.1,321.3 510.4,323C506.6,324.6 503.6,323.5 500.9,317.3M523.8,307.9C526.6,314.1 525.4,317.1 521.6,318.8C517.9,320.5 514.9,319.4 512.1,313.2M534.2,304C537,310.2 535.8,313.2 532.1,314.9C528.4,316.6 525.3,315.5 522.5,309.4M545.5,302.8C548.4,308.9 547.3,311.9 543.6,313.7C539.9,315.4 536.8,314.4 534,308.3M290.1,309.7C292.2,315.1 291.2,317.6 288.1,318.9C285,320.1 282.5,318.9 280.4,313.5M301.6,304.4C303.5,311.2 302,314.1 298.1,315.1C294.3,316.2 291.5,314.5 289.6,307.8M315.7,304.7C317.5,312.1 315.8,315.2 311.6,316.2C307.3,317.2 304.4,315.3 302.6,307.9M327.5,306.3C329.2,313.9 327.3,317 322.9,318C318.6,319 315.6,316.9 313.9,309.3M341,307.8C342.8,315.6 340.9,318.7 336.5,319.7C332.1,320.7 329,318.7 327.2,311M355.6,310.5C357.5,318.2 355.6,321.4 351.2,322.4C346.8,323.5 343.7,321.5 341.9,313.7M367.7,315C369.6,322.6 367.8,325.8 363.4,326.9C359,328 355.9,326.1 354,318.4M378.7,317.7C380.7,325.4 378.9,328.5 374.6,329.7C370.3,330.9 367.1,329 365.1,321.4M391.8,319.7C394,327.3 392.3,330.5 388,331.8C383.6,333 380.5,331.2 378.3,323.6M403.6,320.8C405.9,328.4 404.2,331.6 400,333C395.7,334.3 392.5,332.5 390.2,325M416.4,324.9C418.9,332.4 417.3,335.7 413,337.1C408.8,338.5 405.5,336.8 403.1,329.3M429,326.4C431.6,333.8 430.1,337.2 425.9,338.7C421.6,340.2 418.3,338.5 415.7,331M443.2,328.2C445.9,335.6 444.4,338.9 440.2,340.5C436,342.1 432.7,340.5 430,333.1M454.6,328.4C457.5,335.7 456.1,339.1 451.9,340.8C447.7,342.4 444.4,340.9 441.5,333.5M467.9,329.1C470.9,336.5 469.5,339.9 465.3,341.6C461.1,343.3 457.8,341.8 454.8,334.4M479.8,328.2C482.9,335.5 481.6,338.9 477.4,340.6C473.2,342.4 469.9,340.9 466.8,333.6M493.8,325.5C496.9,332.8 495.6,336.2 491.5,338C487.3,339.8 483.9,338.4 480.8,331.1M504.9,322.7C508.1,330 506.8,333.5 502.6,335.3C498.5,337.1 495.1,335.7 491.9,328.4M517.4,318.1C520.7,325.4 519.4,328.8 515.3,330.6C511.2,332.5 507.8,331.1 504.5,323.8M530.8,315.4C534.1,322.7 532.9,326.1 528.8,328C524.6,329.8 521.2,328.5 518,321.3M542.4,311.3C545.8,318.5 544.6,321.9 540.5,323.8C536.4,325.7 533.1,324.4 529.7,317.2M555.4,307.8C558.8,314.9 557.7,318.4 553.6,320.4C549.6,322.3 546.2,321.1 542.8,314" fill="none" stroke="#9a7d52" stroke-width="0.9" stroke-opacity="0.6"/></g>
<g clip-path="url(#clwext)"><g clip-path="url(#clwall)"><path d="M390.8,325.6L390.7,336.2M436.6,392.7L435.1,402.4M332.8,390.3L331.2,396.6M545.1,370.3L546.6,377.5M302.9,324.3L298.8,331.8M421.1,324.7L420.1,331.4M417.4,423.5L416.1,432.7M329.9,420.5L327.9,427.5M518.6,428.8L522.3,438.8M510.3,378.1L511.7,386.2M298.5,294.1L296.9,300.4M540.2,391.9L541.5,398M464.8,388.1L464.8,398.9M486.2,358.5L487.4,366M396.2,357.2L396.2,365.7M521.7,385.1L522.4,391.6M366.6,396.1L366.5,403.3M388.9,346.1L386.2,356.7M333.2,326.5L330.6,332.6M450.7,382.2L449.8,389.5M584.7,388.7L587.3,394.9M445.6,384L445.3,391.4M396.3,389.6L395.6,395.8" stroke="#ab976c" stroke-width="1.1" stroke-opacity="0.4" fill="none" stroke-linecap="round"/><path d="M357.8,332.5L354.7,341.8M369.8,329.6L367.7,338.3M316.2,359.6L313.9,369.9M354.1,394.8L351.6,401.6M508.2,386.1L509.4,392.4M381.8,321L379.8,329.7M572.5,386.4L574,394.9M438.1,400L439.4,407.8M534.3,381.9L536.4,392.3M503.9,391.4L504.7,401M371,369.1L369.7,375.8M478.6,375.7L478.7,386.5M317.9,386.9L313.9,396.9M509.7,346.8L510.3,355.2M393.7,427.1L393.6,433.6M403.1,349.2L403,356.7M326.2,339L324.3,344.9M453.1,338.4L454,345.2M559.1,392.3L560.7,399.3M267.1,315.6L262.5,323.9M389.9,436.6L388.6,443.2" stroke="#a9956b" stroke-width="1.1" stroke-opacity="0.4" fill="none" stroke-linecap="round"/><path d="M485.6,416.9L486.5,423.6M437.7,367.7L437.2,375.1M306.6,302.9L301.7,312.3M391.7,362.5L392.1,369.2M363,376.1L361.9,385.7M367.4,395.3L365.6,403.4M436.9,409.8L437.2,417.3M339.2,384.2L336.8,392.4M453.2,438.1L453.6,446.6M470.8,332.3L470.2,341.3" stroke="#b3a077" stroke-width="1.2" stroke-opacity="0.4" fill="none" stroke-linecap="round"/><path d="M546.3,323.4L548,332.9M476.9,410.8L477.8,420.4M419.4,402L418.8,408.8M313.4,306.8L310.2,315.1M400,361.8L400.3,368.4M425.1,347.6L425.7,358.2M540.9,342L541.9,348.4M302.2,321.6L301,327.7M316.6,377.9L313.9,387.2M554,324.2L556.5,331.8M450.1,381.2L450.4,391.7M391.6,322.6L389.6,332.3M495.9,429.5L497.8,437.2M369.4,330L366.8,337.6M485.6,386.4L486,394.7M358.3,364.4L357.9,373.3M519,399.1L521.6,406M321.8,391.3L317.9,400.7M571.7,381.2L573.3,389.1" stroke="#b3a077" stroke-width="1" stroke-opacity="0.4" fill="none" stroke-linecap="round"/><path d="M322.1,331L320.9,337M324.8,358.1L321.3,368.3M296,308.3L294.1,317.5M408.3,432.8L407.7,441.4M330.4,310.6L327.3,318.8M583.6,373.8L588.1,382.3M557.7,399.5L561.1,407.1M424.1,356.3L423.1,362.8M551.9,404.6L555.7,413.5M487.2,356.4L488,364.1M582,382.4L586,389.6M430.5,383.1L430.4,391.5M371,414.4L370.5,425.1M336.7,357.1L333.4,366M487.6,323L488.5,329.1M335.9,361.3L335.1,368.9M578.2,406.5L579.9,412.3" stroke="#ab976c" stroke-width="0.8" stroke-opacity="0.4" fill="none" stroke-linecap="round"/><path d="M562.1,418L564.5,424.3M349.8,421.4L348.1,431.4M296.6,329.9L293.8,336.4M359.5,424.3L359.2,433.7M400.6,385.7L398.4,395.5M521.1,418.6L522.3,426.9M546.2,395.7L548,405.6M404.1,394.5L404.7,402.4M454.3,351.2L454.6,359.3M507.6,334.8L510,345.3M469.9,402.1L470,412.6M267.6,323.3L264.6,333.4M384.5,383.6L384.1,393.5M466.7,427L467,433.2" stroke="#a9956b" stroke-width="0.9" stroke-opacity="0.4" fill="none" stroke-linecap="round"/><path d="M486.2,365L487.1,371M368.6,426.5L367.5,436.6M528.4,381L529.7,389M384.5,349.1L384,355.5M562.9,350.8L565.9,357.3M563.2,374.9L565.5,380.5M440,327.5L439.3,334.7M376,315.7L374.8,322.3M472.7,390.1L473.2,398.9M267.4,319.7L264.2,327.4" stroke="#b3a077" stroke-width="0.7" stroke-opacity="0.4" fill="none" stroke-linecap="round"/><path d="M441.9,333L442.9,338.9M403.4,418.3L401.6,425.2M360.5,343.2L357.9,351.2M404.3,431.7L403.1,439.9M439.1,330.3L438.4,336.9M495.1,381.8L496.4,392.8M487.9,348L488.4,356.7M474.2,347.7L474.8,354.8M544.2,396.2L544.8,404.2M440.6,405.8L440.6,415.6M334.1,372.5L333.3,380.2M532,355.8L533.4,361.7M395,371.7L395.4,381.8M468.6,369.4L467.8,379.6M585.6,392.8L588.4,398.6M434.7,352.2L435.3,362.3M471,328.7L471.9,335.6M502.9,315.8L505.9,325.6M483.7,364.5L483.8,371M388.7,400.1L386.8,406.7M340.9,353.3L337.7,362.9M402.5,427.5L401.1,437.9M385.5,325.7L385.2,334.5M440.5,402.9L441.7,413.3M382.7,338.5L380.9,347.6M356.3,302.5L355.6,310.4" stroke="#cfc19c" stroke-width="0.9" stroke-opacity="0.4" fill="none" stroke-linecap="round"/><path d="M308.9,300.9L307.3,311.1M405.3,414.6L403.9,421.1M434.4,375.2L434.3,385.2M356.7,327.4L356.1,337.8M586.4,415.2L590.5,424.6M364.3,401.5L362.1,409.6M289.3,304.5L286.5,311.1M355.7,415.5L353.5,423.1M302.8,339.7L299.1,346.6M380.9,384.7L378,395M506.1,375.2L506.8,381.4M420.3,378.6L421.1,387.6M408.8,379.9L408.1,388.7" stroke="#a9956b" stroke-width="1.2" stroke-opacity="0.4" fill="none" stroke-linecap="round"/><path d="M500.3,425.2L502,434.6M402.8,351.5L401.9,361.7M359.9,330.1L359.1,337.7M440.2,397.3L439.9,405.4M484.3,435.4L484.4,441.4M282.2,316.6L279.6,322.6M572.9,365.2L575.9,373.9M553.4,386.5L555,396M556.9,319.9L559.1,326.1M398.1,421.1L398.3,429.5M362.1,359.4L360.1,367.4M413.6,383.9L411.5,394M538.9,349.5L540.1,358M393.5,421L393.7,427.6M456.4,433.8L457.7,439.9M365.9,371.2L364.8,379.3M517.4,323.4L519.3,334.1M486.5,349.6L488.9,358.4M418.6,346.3L417.2,356M402.5,394L402.3,400.2M546.8,323.7L549.7,331.3M550.6,395.2L553.2,404.5M429.4,330.2L430.3,336.8" stroke="#a9956b" stroke-width="1" stroke-opacity="0.4" fill="none" stroke-linecap="round"/><path d="M417.4,399.3L416.4,405.6M349.5,348L348.7,354.5M518.8,320.3L519.5,327.9M366.9,336.7L364.4,345M378.7,417.9L377.4,424.6M331.4,408.4L328.6,418.8M341.4,312.4L340.2,321.8M564.7,401.3L566,408.7M429,333.7L427.8,343.6M274.2,317.5L270.5,324.2M345.9,415.2L345.2,421.2M359.7,383.1L357.8,391.1M318,293.3L315.6,302.5M335.3,399.2L332.7,405.1M597,388.6L600.3,398.8M408.7,315.9L407.2,322.8M423.2,431.8L422.9,440.5M334.7,324.7L332.8,330.8M469.5,355.4L470.2,365.1M360.8,326.9L360.5,337" stroke="#d4c8a6" stroke-width="1" stroke-opacity="0.4" fill="none" stroke-linecap="round"/><path d="M389.5,396.6L387.4,405.5M464.4,398L464.7,406.4M582.2,376.2L585,383.8M495.3,386.9L496.9,397.1M351.7,421.2L350.8,427.3M558.8,366.9L561.1,372.8M525,340.2L528.7,349.9M508.4,410.2L510,419.8M358.3,394.7L356.6,401.2M424.4,427.6L425.2,435.4M434.6,389.4L434.2,398.6M564.6,391.4L567,399.3M459.5,433.3L459.3,442.3M442.4,327.1L442,334.9M519.1,314.7L522.3,324.4M474.4,349.7L475.2,358.1M354.3,328.8L353.7,338.9M551.2,386.6L552.8,394.3M503.4,385.4L504.4,392.3M532.8,408.1L535.1,416.7M383,388.3L381.5,394.7M374.7,431.3L374.3,440.4M269.8,317.2L265.6,325.4M413.2,355.1L411.5,365.7M372.7,357.8L372.6,364.2M481.7,335.7L481.8,343M348.4,341.7L347.4,347.9M451.6,432.5L450.3,441.5M399.8,427.9L399.3,438.3M593.2,412.5L597.8,420.7M322.3,402.6L321.4,409.9M410.2,412.2L410.7,422.2M433.2,358L432.7,365.6M444.2,343.1L444.1,350.3" stroke="#d4c8a6" stroke-width="1.1" stroke-opacity="0.4" fill="none" stroke-linecap="round"/><path d="M509.4,323.1L511.2,329M461.3,432.3L461.3,440.8M398.9,372.7L397.7,378.6M328.2,386.8L327.2,393.4M342.2,339.9L340.4,348.4M534.8,419.9L537.6,427.3M583.8,400.7L585.7,410.4M434.2,371.2L433.8,378.6M414.4,321.1L412.6,329.5M525.7,417.1L528.2,423.2M498.7,315.7L500.5,322.9M565.5,407.8L568.5,417.9M562.8,330.5L564.2,340.9M434.3,432L432.6,441.3M375.8,423.2L374.7,429.4M563.6,331.1L566.7,339.6M338.6,362.5L337.5,370.8M549.6,372.2L552.7,382.2M427,382.7L427,390.2M486.5,421.5L486.6,429.6M442.7,397.3L443.3,405.9M369.9,372.7L369.8,382.4M422.5,318.9L421.6,325.8M501,362.3L501.3,370.2M472,392.4L471.3,401.3M400.5,369.4L401,377.3M403.1,357.7L402.1,368.2M529.9,414.1L533.2,422.7M304.4,310.3L300.9,318.1M382.5,427L382.6,437.4M562.3,352.5L563.4,358.5M543.3,398.7L545.6,404.7" stroke="#b3a077" stroke-width="0.9" stroke-opacity="0.4" fill="none" stroke-linecap="round"/><path d="M447.1,384.4L447.2,391M330.5,335.4L329,342.1M543.2,384L543.9,392.2M384.3,328.5L383.2,335.9M574.3,383.3L577.4,390.7M529.9,344.8L532.1,355.2M355.8,435.1L354.6,446M426.2,401.5L425.8,408.2M493.2,330.8L495.5,341.2M318.4,298.6L316,308.7M452.8,434L452.9,440.6M431.4,390.4L430.3,400.3M342.6,416.3L339.6,424M482.1,407.3L484.4,417.9M467.6,407.6L467.8,414.2M360,339.9L356.7,349M355.8,356.1L354.9,363.5M371.6,325.2L369,334M527.2,386.8L528.3,393M308,310.7L305.7,321.2M562.3,401L563.3,407.9M497.5,337.8L498.8,348.8M290.9,325.8L287.5,332.7M392.8,367.6L391.4,374.1M415.1,408.6L412.8,418.8M512.1,404L513.9,409.8M563.2,417.5L565.8,428M434.7,416L434.8,423.4M474.1,433.9L474.7,441.8" stroke="#cfc19c" stroke-width="1" stroke-opacity="0.4" fill="none" stroke-linecap="round"/><path d="M496.5,323.1L498.3,333.6M402.5,360.1L402.4,366.3M422.5,380.4L420.6,388.8M531.3,349.6L532.6,359.4M563.8,409.1L566.4,415.5M394.7,349.7L394.2,359.8M366.8,429.5L365.8,437.9M489.3,413.8L490.1,421.4M559.3,347.7L561.9,358.1M525.4,417.9L527.1,424.4M497.7,405.3L499.8,414.7M371.7,416.1L369.3,426.4M542.4,329.3L544,338.2M491.5,399.3L492.1,407.8M350.2,385.7L346.4,395.1M590.2,377L593.8,386.6M377.1,323.3L374.4,333.4M364.1,431.7L363.6,438.9M344.9,336.9L341.7,344.8" stroke="#d4c8a6" stroke-width="0.8" stroke-opacity="0.4" fill="none" stroke-linecap="round"/><path d="M462.8,326L464.2,334.2M434.5,318.6L435.7,327.2M449.8,431L449.1,440.2M425.2,432L425.4,438.5M539.4,303.2L540.5,314M490.3,427.7L491,435.6M412.6,347.8L410.9,356M451.7,419.5L451.7,427.1M422.5,423.3L421.4,431M414.2,347.2L413.1,354.4M342.8,331.7L340.6,338.8M391.5,439.9L391.1,449.6M478.5,319.5L480.3,328.4M398.2,322.5L396.3,332.9M484.2,405.7L484.1,413.4M375.1,310.4L372.9,318.9M301,337.7L299.4,346.4M432.7,319.9L433.4,325.9M577.3,393.1L580.1,403.5M416.7,383.6L416.1,392.7M450.7,390.2L449.4,400.7M352.1,328.8L349.6,336.7M525.8,366.5L527.6,373.5" stroke="#a9956b" stroke-width="0.8" stroke-opacity="0.4" fill="none" stroke-linecap="round"/><path d="M421.4,376.4L421.4,385.4M446.3,325.3L445.7,331.4M464.9,340.1L466.1,350.1M301,314.3L299,321.2M277.6,311.6L273.4,320.8M528.9,400.1L531.6,409.2M527.1,353L529,359.9M566.3,348.2L568.4,357.7M372.2,414.4L371.7,422.8M532.9,377.5L534,383.6M428.6,376.1L428,383.5M275.4,307.1L273.1,313.4M554.7,343.1L556,353.3" stroke="#ab976c" stroke-width="0.7" stroke-opacity="0.4" fill="none" stroke-linecap="round"/><path d="M318,383.3L316.4,389.3M523,351.6L524.4,360.9M327.3,337.2L326.4,344.9M456.3,424.5L457.2,435.2M544.7,365.6L546.8,375M354.3,342.2L352.5,350.6M400,315.9L398.2,323.2M583.3,382.2L586.6,391.5M370.9,424.1L369.1,431.8M485.7,410.3L487.2,418.7M511.2,428L512.2,438.4M399.5,412.4L399.3,419.2M423.1,436.2L421.1,445.7M516.2,352.8L516.4,361M422.7,359.8L423.4,366M587.8,407.6L589.7,415.9M475.6,389.6L476.6,396.6M454.3,344L455.5,353.8M343.7,326L341.1,334.2M499.1,341.7L499.4,349M536.5,429.1L538.7,435.3M370.1,310.9L367.4,320.2" stroke="#ab976c" stroke-width="1" stroke-opacity="0.4" fill="none" stroke-linecap="round"/><path d="M521,400.1L522.7,406.8M360.8,333.9L360.5,341.2M479.6,429.9L479.4,439.8M566.1,370.1L568.1,379.2M584.3,396.3L585.6,402.4M492.6,407.5L492.5,416.5M450.9,436.8L450.1,447.1M390.3,336L390.5,342.3M534.8,353.5L537.5,359.9M524,343.1L526.6,351M445.6,394.2L444.9,401M471.9,324.4L474.2,333.7M421.8,431.5L420.6,438.5M511.8,415.6L513.3,422.5M412.4,389.1L411,396.9M384.6,406.2L385,416.9M450.7,338.2L451.2,349M393.8,380.4L393.7,387.6M520.8,319.8L521.4,328.2M455.8,345.3L454.8,354.7" stroke="#ab976c" stroke-width="0.9" stroke-opacity="0.4" fill="none" stroke-linecap="round"/><path d="M323,363.7L319.4,373M467.3,428.6L467.8,435.3M462.8,352.8L462.2,363.8M542.1,377.8L543,386.5M303.6,294.9L302.2,303.3M589.7,402.4L593.9,412M323,386.4L320.6,393.2M527,428.6L527.3,435.7" stroke="#cfc19c" stroke-width="0.7" stroke-opacity="0.4" fill="none" stroke-linecap="round"/><path d="M516.3,346.8L516.9,353.2M514.5,319L516.2,327.5M569.1,368.5L571,377.4M448.4,427.2L449.3,434.3M486.8,322.7L487.2,330.3M479.5,354.8L480.2,361.5M587.6,394.4L590.7,400.5M319.3,406.9L315.6,416.7M473.3,366.2L473.5,374.9M336.2,425.2L333.3,434.2M439.8,422.8L439.8,429.5M397.4,349.8L396.4,358.3M530.3,312.8L531.3,320.7M392.6,352.4L392,359.1M334.1,328.7L333.3,336.1M508.3,375.1L508.6,385.4M377.7,361.9L374.5,371.6M433.1,396.5L434.1,403.5M554.4,399L555.5,405.6M493.5,350.3L494,357.8M433.8,357.5L434.6,364.3M464.7,343.3L464.3,352.5" stroke="#d4c8a6" stroke-width="0.9" stroke-opacity="0.4" fill="none" stroke-linecap="round"/><path d="M549.3,408L551.4,414.4M326.4,322.3L323.9,328.3M346.9,350.8L344.9,361.2M408.2,348.4L408.7,356.3M376.4,333.7L376.4,340.7M419.9,364.3L420.3,373.5M500.8,430.8L503.5,440.2M337.4,373.8L334.7,383.5M349.2,358.5L346.3,369M381.2,373.2L379.5,383M291.4,304.7L289.3,314.1M428.1,322.9L427.8,329.6M379.7,328.8L377.5,335.9M590.8,389.6L592.9,398.2M580.9,414.1L583.6,420.9M330.1,335.5L329,343M417.9,360.8L416.5,367.9" stroke="#cfc19c" stroke-width="1.1" stroke-opacity="0.4" fill="none" stroke-linecap="round"/><path d="M438.6,320L438.1,327.4M460.4,417.2L461.1,423.2M520.6,317.5L523.5,327.9M289.5,296.5L287.6,303.1M310.3,344L308.9,352.5M552.7,338.6L555.7,345M571.1,369.4L574.6,378.4M477.3,319.3L478.8,327.8M487.6,392.3L487.5,400.1M504.7,352.7L506.2,359.4" stroke="#d4c8a6" stroke-width="1.2" stroke-opacity="0.4" fill="none" stroke-linecap="round"/><path d="M352.8,409.2L349.5,419.4M417,419.6L417.8,427.7M273.7,310.7L269.2,318.1M363.1,351.5L361.2,362.3M356.1,342.2L355.7,351.3M450.9,434.7L451,441.2M403.8,313.7L402.6,319.8M545.5,408.7L546.8,415.4M376.1,360.4L375,367M536.7,365.1L538.6,375M443.9,359.4L443.7,365.4M335.1,328L334.3,335.7M425.1,375.4L423.8,385.9M363.2,328.6L361.8,335M332.9,392L331.2,398.5M343.3,299.9L340.8,310M519.1,370.8L519.8,379.7M562.6,383.4L565.5,390.7M457.3,403.7L456.6,410.2M466.3,415.4L467.9,425M500.3,318.6L501.7,327.2M560.1,332.8L562.6,342M420.9,391.2L421.9,401.7M417.8,369.4L418.3,377.1M402.3,429.9L401.3,438.9M464.8,360.1L464.3,366.8M344.4,413.9L342.2,423.9" stroke="#b3a077" stroke-width="0.8" stroke-opacity="0.4" fill="none" stroke-linecap="round"/><path d="M347.3,316.7L344.8,326.3M379.1,348.9L377.5,355.5M569,343L573,353.2M495.8,410.4L497.1,416.3M364.3,335.4L364,341.7M279.8,327.8L277.7,336.4M329.9,393.9L328.7,400.3M565.6,352.1L568,360.4M310.6,347.6L309,355.7" stroke="#a9956b" stroke-width="0.7" stroke-opacity="0.4" fill="none" stroke-linecap="round"/><path d="M462.7,320.2L461.9,327.9M569.2,353.8L571.7,360.3M491.3,396.7L492.5,404.1M330.1,322.5L328,331.4M338.7,324.2L336.9,330.3M408.6,385.8L409.1,394M508.1,375.8L510,383.2M345.5,413.3L343.6,420.1M452,356.6L452.1,365.4M400.4,339.9L398.4,349.1M335.4,404.6L332.5,412.9M349.4,353.4L348.4,360.2M445.2,396L444.2,402.2M493.6,388.1L494.1,398.3M511,315.8L511.4,323.4M431.6,401.4L430.2,409.4M477.6,359.4L479.2,367.2M474.2,381.6L474.4,390.8M503.2,349.4L503.8,355.8M514.3,387.4L516.6,394.6" stroke="#cfc19c" stroke-width="0.8" stroke-opacity="0.4" fill="none" stroke-linecap="round"/><path d="M479.7,381.5L481,392.4M557,349.9L560,358M459.8,363.1L460.7,370.8M526.6,397L527.4,403.8M384.9,341.3L383.4,350.3M394.4,434.1L393.7,440.3M319.9,413.5L317.9,419.4M317.7,390.1L316.6,398.5M458.6,395.5L457.9,406.5M480.4,403.3L481.1,411.1M357,369L353.6,377.7M345.5,379.7L342,389.7M460.5,323.9L462.5,333.9M535.7,358.3L538.2,368.2M283,309.3L281.5,315.5M529.1,413L530,423.9M492.9,418.5L494,425.6" stroke="#ab976c" stroke-width="1.2" stroke-opacity="0.4" fill="none" stroke-linecap="round"/><path d="M494.9,401.2L496.7,410.1M488.7,327L488.9,336.9M460.9,353.5L460.5,361.2M440.7,374.5L441.7,380.7M393.1,321.8L392.2,331.9M404,314L404.8,324.2M441.2,322L439.9,330.1M464.8,391.4L464.7,401.5M304.9,342.2L302.9,349.4M321.9,382.3L317.9,390.6M528.7,359L529.4,366M567.8,399.1L568.8,405.4M555.4,323.8L556.8,334.7M320.9,303.8L319.5,310.4M381.5,317L378.7,325.7M510.7,350.8L510.9,359.2M554.7,354.4L559.2,363.9M423.8,328.8L423.5,335.1M550.1,406.3L552.4,415.4M477.4,394.7L479.9,405.4M487.7,394.3L488.5,401.7M502.1,379.3L504,385.6M430.1,357.6L429.4,366.2M403.1,336.3L403,343.3M358.7,352L356.8,358.6M440.4,365.1L439.1,372.7" stroke="#b3a077" stroke-width="1.1" stroke-opacity="0.4" fill="none" stroke-linecap="round"/><path d="M524.8,381.7L526.2,390.1M450.7,434.9L449.5,443.9M385.4,321.6L383.2,330.8M547.8,323.8L550.5,330.4M538.4,323.4L540.9,332.8M582.9,415.6L585.1,421.1M520.9,376.3L522.8,384.3M315.3,321.2L312.5,331.4M566.8,358.1L568.4,368.3" stroke="#d4c8a6" stroke-width="0.7" stroke-opacity="0.4" fill="none" stroke-linecap="round"/><path d="M327.1,367.2L324.8,377.2M423.5,336.5L423.9,344.8M403.7,358L402.5,366.7M543.4,411.9L545.7,417.5M382.8,348.9L381,357.2M579,416.9L581.5,425.4M437.5,384.4L438.2,393.9" stroke="#cfc19c" stroke-width="1.2" stroke-opacity="0.4" fill="none" stroke-linecap="round"/></g></g>
</g>
<g id="head">
<path d="M512,172C515.7,174 519.7,177.3 520,182C520.3,186.7 516.3,193.3 514,200C511.7,206.7 508.3,214.3 506,222C503.7,229.7 501.2,238 500,246C498.8,254 499,261.7 499,270C499,278.3 502.2,291 500,296C497.8,301 488.8,303.5 486,300C483.2,296.5 483.2,283.7 483,275C482.8,266.3 483.5,256.8 485,248C486.5,239.2 489.8,230 492,222C494.2,214 496.7,206.7 498,200C499.3,193.3 500,187 500,182C500,177 496,171.7 498,170C500,168.3 508.3,170 512,172Z" fill="#f3e6c4" stroke="none" stroke-width="1" filter="url(#blur3)" fill-opacity="0.85"/>
<path d="M407,131L487,142.5L489,145L414,148.5Z" fill="#ffffff" stroke="none" stroke-width="1" />
<path d="M404,128.5C404.8,127.3 409.2,123.6 412,122C414.8,120.4 421.4,117.6 425,116.5C428.6,115.4 435,114.3 439,113.5C443,112.7 451.1,111.1 455,110.5C458.9,109.9 465.1,108.7 468,109C470.9,109.3 474.9,111.3 477,113C479.1,114.7 482.4,118.8 484,122C485.6,125.2 488.5,134.2 489,137C489.5,139.8 490,142.6 487.5,143C485,143.4 475,140.8 470,140C465,139.2 455.3,137.8 450,137C444.7,136.2 434.7,134.7 430,134C425.3,133.3 418.2,132.4 415,132C411.8,131.6 407.5,131.5 406,131C404.5,130.5 403.2,129.7 404,128.5Z" fill="url(#g79)" stroke="#5d747d" stroke-width="1.1" />
<ellipse cx="455" cy="119.5" rx="5.5" ry="3" transform="rotate(-14 455 119.5)" fill="#2d3a40"/>
<ellipse cx="447.5" cy="121.5" rx="3.2" ry="1.8" transform="rotate(-14 447.5 121.5)" fill="#4b5b62"/>
<path d="M414,148C416,147.7 424.5,147.7 430,147.5C435.5,147.3 448.7,146.8 455,146.5C461.3,146.2 472.5,145.8 477,145.5C481.5,145.2 485.3,144.4 489,144.5C492.7,144.6 501.7,145.5 505,146C508.3,146.5 513.2,146.7 514,148C514.8,149.3 512.5,154.4 511,156C509.5,157.6 506.5,159.5 503,160C499.5,160.5 490.3,159.8 485,159.5C479.7,159.2 469,158.2 463,157.5C457,156.8 445.7,155.3 440,154.5C434.3,153.7 423.3,152.1 420,151.5C416.7,150.9 415.8,150.5 415,150C414.2,149.5 412,148.3 414,148Z" fill="url(#g80)" stroke="#5d747d" stroke-width="1.1" />
<path d="M409,131.4L412.4,137L415.6,132.3ZM417.6,132.6L421,138.2L424.2,133.5ZM426.2,133.8L429.6,139.4L432.8,134.7ZM434.8,135.1L438.2,140.7L441.4,136ZM443.4,136.3L446.8,141.9L450,137.2ZM452,137.5L455.4,143.1L458.6,138.4ZM460.6,138.7L464,144.3L467.2,139.6ZM469.2,139.9L472.6,145.5L475.8,140.8ZM477.8,141.2L481.2,146.8L484.4,142.1Z" fill="#ffffff" stroke="#8b9da3" stroke-width="0.7" />
<path d="M417,148.4L420.2,143.2L423.4,148.1ZM425.2,148L428.4,142.8L431.6,147.7ZM433.4,147.7L436.6,142.5L439.8,147.4ZM441.6,147.3L444.8,142.1L448,147ZM449.8,147L453,141.8L456.2,146.7ZM458,146.6L461.2,141.4L464.4,146.3ZM466.2,146.2L469.4,141L472.6,145.9ZM474.4,145.9L477.6,140.7L480.8,145.6Z" fill="#ffffff" stroke="#8b9da3" stroke-width="0.7" />
<path d="M468,108.5C467.8,107.3 473.2,104.2 475,103C476.8,101.8 481,99.3 483,98.5C485,97.7 489.7,96.4 492,96C494.3,95.6 500.6,95.1 503,95C505.4,94.9 510.7,95.2 513,95.5C515.3,95.8 520.9,96.8 523,97.5C525.1,98.2 529.5,100.5 531,101.5C532.5,102.5 535,105.2 536,106.5C537,107.8 539.2,111.4 540,113C540.8,114.6 542.1,117.8 542.5,120C542.9,122.2 543.6,129.6 543.5,132C543.4,134.4 542.4,139.1 542,141C541.6,142.9 540.7,146.5 540,148C539.3,149.5 537,152.7 536,154C535,155.3 532.2,158 531,159C529.8,160 527.3,161.7 526,162.5C524.7,163.3 521.6,164.9 520,165.5C518.4,166.1 513.8,167.2 512,167.5C510.2,167.8 506.6,168.5 505,168.5C503.4,168.5 499.5,167.8 498,167.5C496.5,167.2 493.3,166 492,165.5C490.7,165 488.1,163.6 487,163C485.9,162.4 481.1,160.3 483,160C484.9,159.7 499.7,160.5 503,160C506.3,159.5 509.7,157.4 511,156C512.3,154.6 514.7,149.2 514,148C513.3,146.8 507.9,146.4 505,146C502.1,145.6 491,144.8 489,144.5C487,144.2 487.5,143.9 487.5,143C487.5,142.1 489.4,139.4 489,137C488.6,134.6 485.4,124.8 484,122C482.6,119.2 478.9,114.6 477,113C475.1,111.4 468.2,109.7 468,108.5Z" fill="#46a2b8" stroke="#2b7f97" stroke-width="0.8" />
<g clip-path="url(#cface)"><ellipse cx="463.9" cy="96.1" rx="3" ry="2.5" fill="#8fd0de" fill-opacity="0.9" stroke="#2f8aa3" stroke-width="0.6"/><ellipse cx="470.9" cy="96" rx="3" ry="2.5" fill="#8fd0de" fill-opacity="0.7" stroke="#2f8aa3" stroke-width="0.6"/><ellipse cx="477.5" cy="96" rx="3" ry="2.5" fill="#8fd0de" fill-opacity="0.7" stroke="#2f8aa3" stroke-width="0.6"/><ellipse cx="485.5" cy="95.4" rx="3" ry="2.5" fill="#8fd0de" fill-opacity="0.5" stroke="#2f8aa3" stroke-width="0.6"/><ellipse cx="491.3" cy="96.5" rx="3" ry="2.5" fill="#8fd0de" fill-opacity="0.7" stroke="#2f8aa3" stroke-width="0.6"/><ellipse cx="498.3" cy="96.8" rx="3" ry="2.5" fill="#8fd0de" fill-opacity="0.9" stroke="#2f8aa3" stroke-width="0.6"/><ellipse cx="506.2" cy="96.2" rx="3" ry="2.5" fill="#8fd0de" fill-opacity="0.4" stroke="#2f8aa3" stroke-width="0.6"/><ellipse cx="512.2" cy="96" rx="3" ry="2.5" fill="#8fd0de" fill-opacity="0.4" stroke="#2f8aa3" stroke-width="0.6"/><ellipse cx="519.5" cy="95.6" rx="3" ry="2.5" fill="#8fd0de" fill-opacity="0.4" stroke="#2f8aa3" stroke-width="0.6"/><ellipse cx="526.9" cy="95.9" rx="3" ry="2.5" fill="#8fd0de" fill-opacity="0.8" stroke="#2f8aa3" stroke-width="0.6"/><ellipse cx="534" cy="96.2" rx="3" ry="2.5" fill="#8fd0de" fill-opacity="0.6" stroke="#2f8aa3" stroke-width="0.6"/><ellipse cx="541.3" cy="95.9" rx="3" ry="2.5" fill="#8fd0de" fill-opacity="0.5" stroke="#2f8aa3" stroke-width="0.6"/><ellipse cx="468.3" cy="102.8" rx="3" ry="2.5" fill="#8fd0de" fill-opacity="0.8" stroke="#2f8aa3" stroke-width="0.6"/><ellipse cx="474.8" cy="101.7" rx="3" ry="2.5" fill="#8fd0de" fill-opacity="0.5" stroke="#2f8aa3" stroke-width="0.6"/><ellipse cx="481.2" cy="101.3" rx="3" ry="2.5" fill="#8fd0de" fill-opacity="0.8" stroke="#2f8aa3" stroke-width="0.6"/><ellipse cx="488.3" cy="102.6" rx="3" ry="2.5" fill="#8fd0de" fill-opacity="0.6" stroke="#2f8aa3" stroke-width="0.6"/><ellipse cx="496.2" cy="102.6" rx="3" ry="2.5" fill="#8fd0de" fill-opacity="0.4" stroke="#2f8aa3" stroke-width="0.6"/><ellipse cx="502" cy="102.7" rx="3" ry="2.5" fill="#8fd0de" fill-opacity="0.6" stroke="#2f8aa3" stroke-width="0.6"/><ellipse cx="510.3" cy="101.8" rx="3" ry="2.5" fill="#8fd0de" fill-opacity="0.4" stroke="#2f8aa3" stroke-width="0.6"/><ellipse cx="516.7" cy="102.4" rx="3" ry="2.5" fill="#8fd0de" fill-opacity="0.5" stroke="#2f8aa3" stroke-width="0.6"/><ellipse cx="522.8" cy="101.7" rx="3" ry="2.5" fill="#8fd0de" fill-opacity="0.9" stroke="#2f8aa3" stroke-width="0.6"/><ellipse cx="530.9" cy="101.4" rx="3" ry="2.5" fill="#8fd0de" fill-opacity="0.5" stroke="#2f8aa3" stroke-width="0.6"/><ellipse cx="536.9" cy="101.3" rx="3" ry="2.5" fill="#8fd0de" fill-opacity="0.8" stroke="#2f8aa3" stroke-width="0.6"/><ellipse cx="544" cy="102.1" rx="3" ry="2.5" fill="#8fd0de" fill-opacity="0.6" stroke="#2f8aa3" stroke-width="0.6"/><ellipse cx="463.5" cy="108.4" rx="3" ry="2.5" fill="#8fd0de" fill-opacity="0.4" stroke="#2f8aa3" stroke-width="0.6"/><ellipse cx="471.2" cy="107.4" rx="3" ry="2.5" fill="#8fd0de" fill-opacity="0.6" stroke="#2f8aa3" stroke-width="0.6"/><ellipse cx="477.5" cy="107.6" rx="3" ry="2.5" fill="#8fd0de" fill-opacity="0.9" stroke="#2f8aa3" stroke-width="0.6"/><ellipse cx="485.5" cy="107.7" rx="3" ry="2.5" fill="#8fd0de" fill-opacity="0.8" stroke="#2f8aa3" stroke-width="0.6"/><ellipse cx="491.5" cy="107.8" rx="3" ry="2.5" fill="#8fd0de" fill-opacity="0.8" stroke="#2f8aa3" stroke-width="0.6"/><ellipse cx="499.2" cy="107.4" rx="3" ry="2.5" fill="#8fd0de" fill-opacity="0.9" stroke="#2f8aa3" stroke-width="0.6"/><ellipse cx="505.5" cy="107.6" rx="3" ry="2.5" fill="#8fd0de" fill-opacity="0.8" stroke="#2f8aa3" stroke-width="0.6"/><ellipse cx="512.7" cy="107.7" rx="3" ry="2.5" fill="#8fd0de" fill-opacity="0.4" stroke="#2f8aa3" stroke-width="0.6"/><ellipse cx="519.3" cy="108.1" rx="3" ry="2.5" fill="#8fd0de" fill-opacity="0.5" stroke="#2f8aa3" stroke-width="0.6"/><ellipse cx="527.2" cy="107.8" rx="3" ry="2.5" fill="#8fd0de" fill-opacity="0.6" stroke="#2f8aa3" stroke-width="0.6"/><ellipse cx="534.7" cy="108" rx="3" ry="2.5" fill="#8fd0de" fill-opacity="0.7" stroke="#2f8aa3" stroke-width="0.6"/><ellipse cx="541.6" cy="107.5" rx="3" ry="2.5" fill="#8fd0de" fill-opacity="0.4" stroke="#2f8aa3" stroke-width="0.6"/><ellipse cx="468.2" cy="114.5" rx="3" ry="2.5" fill="#8fd0de" fill-opacity="0.5" stroke="#2f8aa3" stroke-width="0.6"/><ellipse cx="474" cy="114.4" rx="3" ry="2.5" fill="#8fd0de" fill-opacity="0.9" stroke="#2f8aa3" stroke-width="0.6"/><ellipse cx="481" cy="114.7" rx="3" ry="2.5" fill="#8fd0de" fill-opacity="0.8" stroke="#2f8aa3" stroke-width="0.6"/><ellipse cx="488.7" cy="113.9" rx="3" ry="2.5" fill="#8fd0de" fill-opacity="0.4" stroke="#2f8aa3" stroke-width="0.6"/><ellipse cx="494.8" cy="114.7" rx="3" ry="2.5" fill="#8fd0de" fill-opacity="0.5" stroke="#2f8aa3" stroke-width="0.6"/><ellipse cx="502.8" cy="113.6" rx="3" ry="2.5" fill="#8fd0de" fill-opacity="0.8" stroke="#2f8aa3" stroke-width="0.6"/><ellipse cx="509.7" cy="113.7" rx="3" ry="2.5" fill="#8fd0de" fill-opacity="0.4" stroke="#2f8aa3" stroke-width="0.6"/><ellipse cx="516.9" cy="113.3" rx="3" ry="2.5" fill="#8fd0de" fill-opacity="0.5" stroke="#2f8aa3" stroke-width="0.6"/><ellipse cx="523.6" cy="114.6" rx="3" ry="2.5" fill="#8fd0de" fill-opacity="0.7" stroke="#2f8aa3" stroke-width="0.6"/><ellipse cx="530.1" cy="114.7" rx="3" ry="2.5" fill="#8fd0de" fill-opacity="0.5" stroke="#2f8aa3" stroke-width="0.6"/><ellipse cx="536.7" cy="113.6" rx="3" ry="2.5" fill="#8fd0de" fill-opacity="0.6" stroke="#2f8aa3" stroke-width="0.6"/><ellipse cx="543.8" cy="113.5" rx="3" ry="2.5" fill="#8fd0de" fill-opacity="0.6" stroke="#2f8aa3" stroke-width="0.6"/><ellipse cx="464.1" cy="119.4" rx="3" ry="2.5" fill="#8fd0de" fill-opacity="0.5" stroke="#2f8aa3" stroke-width="0.6"/><ellipse cx="471.6" cy="120.8" rx="3" ry="2.5" fill="#8fd0de" fill-opacity="0.7" stroke="#2f8aa3" stroke-width="0.6"/><ellipse cx="478.3" cy="120.1" rx="3" ry="2.5" fill="#8fd0de" fill-opacity="0.4" stroke="#2f8aa3" stroke-width="0.6"/><ellipse cx="484.3" cy="119.2" rx="3" ry="2.5" fill="#8fd0de" fill-opacity="0.9" stroke="#2f8aa3" stroke-width="0.6"/><ellipse cx="492.3" cy="120.7" rx="3" ry="2.5" fill="#8fd0de" fill-opacity="0.4" stroke="#2f8aa3" stroke-width="0.6"/><ellipse cx="499.2" cy="120" rx="3" ry="2.5" fill="#8fd0de" fill-opacity="0.8" stroke="#2f8aa3" stroke-width="0.6"/><ellipse cx="505.7" cy="120.8" rx="3" ry="2.5" fill="#8fd0de" fill-opacity="0.4" stroke="#2f8aa3" stroke-width="0.6"/><ellipse cx="513.1" cy="120.4" rx="3" ry="2.5" fill="#8fd0de" fill-opacity="0.8" stroke="#2f8aa3" stroke-width="0.6"/><ellipse cx="520.4" cy="120.3" rx="3" ry="2.5" fill="#8fd0de" fill-opacity="0.8" stroke="#2f8aa3" stroke-width="0.6"/><ellipse cx="527.7" cy="119.8" rx="3" ry="2.5" fill="#8fd0de" fill-opacity="0.7" stroke="#2f8aa3" stroke-width="0.6"/><ellipse cx="534.6" cy="120.6" rx="3" ry="2.5" fill="#8fd0de" fill-opacity="0.6" stroke="#2f8aa3" stroke-width="0.6"/><ellipse cx="541.5" cy="120.6" rx="3" ry="2.5" fill="#8fd0de" fill-opacity="0.7" stroke="#2f8aa3" stroke-width="0.6"/><ellipse cx="467.7" cy="125.8" rx="3" ry="2.5" fill="#8fd0de" fill-opacity="0.7" stroke="#2f8aa3" stroke-width="0.6"/><ellipse cx="474.7" cy="125.3" rx="3" ry="2.5" fill="#8fd0de" fill-opacity="0.7" stroke="#2f8aa3" stroke-width="0.6"/><ellipse cx="482.3" cy="126.6" rx="3" ry="2.5" fill="#8fd0de" fill-opacity="0.8" stroke="#2f8aa3" stroke-width="0.6"/><ellipse cx="488.3" cy="126.4" rx="3" ry="2.5" fill="#8fd0de" fill-opacity="0.7" stroke="#2f8aa3" stroke-width="0.6"/><ellipse cx="495.4" cy="126.5" rx="3" ry="2.5" fill="#8fd0de" fill-opacity="0.4" stroke="#2f8aa3" stroke-width="0.6"/><ellipse cx="502.9" cy="125.2" rx="3" ry="2.5" fill="#8fd0de" fill-opacity="0.7" stroke="#2f8aa3" stroke-width="0.6"/><ellipse cx="509.5" cy="125.6" rx="3" ry="2.5" fill="#8fd0de" fill-opacity="0.7" stroke="#2f8aa3" stroke-width="0.6"/><ellipse cx="516.5" cy="126.2" rx="3" ry="2.5" fill="#8fd0de" fill-opacity="0.9" stroke="#2f8aa3" stroke-width="0.6"/><ellipse cx="523.1" cy="125.2" rx="3" ry="2.5" fill="#8fd0de" fill-opacity="0.5" stroke="#2f8aa3" stroke-width="0.6"/><ellipse cx="530.8" cy="125.5" rx="3" ry="2.5" fill="#8fd0de" fill-opacity="0.4" stroke="#2f8aa3" stroke-width="0.6"/><ellipse cx="538.1" cy="126.3" rx="3" ry="2.5" fill="#8fd0de" fill-opacity="0.6" stroke="#2f8aa3" stroke-width="0.6"/><ellipse cx="545.1" cy="125.7" rx="3" ry="2.5" fill="#8fd0de" fill-opacity="0.7" stroke="#2f8aa3" stroke-width="0.6"/><ellipse cx="463.5" cy="131.9" rx="3" ry="2.5" fill="#8fd0de" fill-opacity="0.8" stroke="#2f8aa3" stroke-width="0.6"/><ellipse cx="471.7" cy="132.6" rx="3" ry="2.5" fill="#8fd0de" fill-opacity="0.6" stroke="#2f8aa3" stroke-width="0.6"/><ellipse cx="478.1" cy="131.7" rx="3" ry="2.5" fill="#8fd0de" fill-opacity="0.4" stroke="#2f8aa3" stroke-width="0.6"/><ellipse cx="485" cy="132.5" rx="3" ry="2.5" fill="#8fd0de" fill-opacity="0.8" stroke="#2f8aa3" stroke-width="0.6"/><ellipse cx="492.3" cy="132.7" rx="3" ry="2.5" fill="#8fd0de" fill-opacity="0.5" stroke="#2f8aa3" stroke-width="0.6"/><ellipse cx="498.5" cy="131.9" rx="3" ry="2.5" fill="#8fd0de" fill-opacity="0.5" stroke="#2f8aa3" stroke-width="0.6"/><ellipse cx="505.5" cy="131.9" rx="3" ry="2.5" fill="#8fd0de" fill-opacity="0.7" stroke="#2f8aa3" stroke-width="0.6"/><ellipse cx="513" cy="131.7" rx="3" ry="2.5" fill="#8fd0de" fill-opacity="0.8" stroke="#2f8aa3" stroke-width="0.6"/><ellipse cx="520.8" cy="131.9" rx="3" ry="2.5" fill="#8fd0de" fill-opacity="0.4" stroke="#2f8aa3" stroke-width="0.6"/><ellipse cx="526.3" cy="132.6" rx="3" ry="2.5" fill="#8fd0de" fill-opacity="0.4" stroke="#2f8aa3" stroke-width="0.6"/><ellipse cx="534.3" cy="132.1" rx="3" ry="2.5" fill="#8fd0de" fill-opacity="0.5" stroke="#2f8aa3" stroke-width="0.6"/><ellipse cx="541.5" cy="131.2" rx="3" ry="2.5" fill="#8fd0de" fill-opacity="0.4" stroke="#2f8aa3" stroke-width="0.6"/><ellipse cx="467.4" cy="137.2" rx="3" ry="2.5" fill="#8fd0de" fill-opacity="0.8" stroke="#2f8aa3" stroke-width="0.6"/><ellipse cx="474.1" cy="137.4" rx="3" ry="2.5" fill="#8fd0de" fill-opacity="0.4" stroke="#2f8aa3" stroke-width="0.6"/><ellipse cx="481.7" cy="137.9" rx="3" ry="2.5" fill="#8fd0de" fill-opacity="0.7" stroke="#2f8aa3" stroke-width="0.6"/><ellipse cx="488.7" cy="138.5" rx="3" ry="2.5" fill="#8fd0de" fill-opacity="0.9" stroke="#2f8aa3" stroke-width="0.6"/><ellipse cx="495.8" cy="137.5" rx="3" ry="2.5" fill="#8fd0de" fill-opacity="0.6" stroke="#2f8aa3" stroke-width="0.6"/><ellipse cx="502" cy="137.2" rx="3" ry="2.5" fill="#8fd0de" fill-opacity="0.6" stroke="#2f8aa3" stroke-width="0.6"/><ellipse cx="509.8" cy="137.5" rx="3" ry="2.5" fill="#8fd0de" fill-opacity="0.5" stroke="#2f8aa3" stroke-width="0.6"/><ellipse cx="516.3" cy="138.3" rx="3" ry="2.5" fill="#8fd0de" fill-opacity="0.6" stroke="#2f8aa3" stroke-width="0.6"/><ellipse cx="523.7" cy="138.4" rx="3" ry="2.5" fill="#8fd0de" fill-opacity="0.6" stroke="#2f8aa3" stroke-width="0.6"/><ellipse cx="531" cy="138.6" rx="3" ry="2.5" fill="#8fd0de" fill-opacity="0.4" stroke="#2f8aa3" stroke-width="0.6"/><ellipse cx="538.2" cy="138.4" rx="3" ry="2.5" fill="#8fd0de" fill-opacity="0.4" stroke="#2f8aa3" stroke-width="0.6"/><ellipse cx="544.4" cy="138.2" rx="3" ry="2.5" fill="#8fd0de" fill-opacity="0.9" stroke="#2f8aa3" stroke-width="0.6"/><ellipse cx="463.8" cy="144.1" rx="3" ry="2.5" fill="#8fd0de" fill-opacity="0.8" stroke="#2f8aa3" stroke-width="0.6"/><ellipse cx="471.5" cy="144.7" rx="3" ry="2.5" fill="#8fd0de" fill-opacity="0.6" stroke="#2f8aa3" stroke-width="0.6"/><ellipse cx="478.2" cy="143.5" rx="3" ry="2.5" fill="#8fd0de" fill-opacity="0.7" stroke="#2f8aa3" stroke-width="0.6"/><ellipse cx="485.5" cy="144.2" rx="3" ry="2.5" fill="#8fd0de" fill-opacity="0.7" stroke="#2f8aa3" stroke-width="0.6"/><ellipse cx="491.5" cy="144.6" rx="3" ry="2.5" fill="#8fd0de" fill-opacity="0.9" stroke="#2f8aa3" stroke-width="0.6"/><ellipse cx="499.8" cy="144.1" rx="3" ry="2.5" fill="#8fd0de" fill-opacity="0.8" stroke="#2f8aa3" stroke-width="0.6"/><ellipse cx="505.7" cy="144.7" rx="3" ry="2.5" fill="#8fd0de" fill-opacity="0.8" stroke="#2f8aa3" stroke-width="0.6"/><ellipse cx="512.8" cy="143.3" rx="3" ry="2.5" fill="#8fd0de" fill-opacity="0.6" stroke="#2f8aa3" stroke-width="0.6"/><ellipse cx="520.1" cy="144.4" rx="3" ry="2.5" fill="#8fd0de" fill-opacity="0.6" stroke="#2f8aa3" stroke-width="0.6"/><ellipse cx="526.2" cy="144.5" rx="3" ry="2.5" fill="#8fd0de" fill-opacity="0.4" stroke="#2f8aa3" stroke-width="0.6"/><ellipse cx="534.5" cy="143.5" rx="3" ry="2.5" fill="#8fd0de" fill-opacity="0.5" stroke="#2f8aa3" stroke-width="0.6"/><ellipse cx="541.5" cy="143.4" rx="3" ry="2.5" fill="#8fd0de" fill-opacity="0.4" stroke="#2f8aa3" stroke-width="0.6"/><ellipse cx="467.5" cy="150.4" rx="3" ry="2.5" fill="#8fd0de" fill-opacity="0.8" stroke="#2f8aa3" stroke-width="0.6"/><ellipse cx="474.8" cy="150.7" rx="3" ry="2.5" fill="#8fd0de" fill-opacity="0.6" stroke="#2f8aa3" stroke-width="0.6"/><ellipse cx="482.2" cy="149.3" rx="3" ry="2.5" fill="#8fd0de" fill-opacity="0.5" stroke="#2f8aa3" stroke-width="0.6"/><ellipse cx="488.5" cy="149.7" rx="3" ry="2.5" fill="#8fd0de" fill-opacity="0.8" stroke="#2f8aa3" stroke-width="0.6"/><ellipse cx="495.7" cy="150" rx="3" ry="2.5" fill="#8fd0de" fill-opacity="0.8" stroke="#2f8aa3" stroke-width="0.6"/><ellipse cx="502.6" cy="149.7" rx="3" ry="2.5" fill="#8fd0de" fill-opacity="0.6" stroke="#2f8aa3" stroke-width="0.6"/><ellipse cx="510.1" cy="150.6" rx="3" ry="2.5" fill="#8fd0de" fill-opacity="0.5" stroke="#2f8aa3" stroke-width="0.6"/><ellipse cx="517.1" cy="150.7" rx="3" ry="2.5" fill="#8fd0de" fill-opacity="0.6" stroke="#2f8aa3" stroke-width="0.6"/><ellipse cx="523.6" cy="149.5" rx="3" ry="2.5" fill="#8fd0de" fill-opacity="0.6" stroke="#2f8aa3" stroke-width="0.6"/><ellipse cx="530.5" cy="150.2" rx="3" ry="2.5" fill="#8fd0de" fill-opacity="0.4" stroke="#2f8aa3" stroke-width="0.6"/><ellipse cx="538.3" cy="150" rx="3" ry="2.5" fill="#8fd0de" fill-opacity="0.6" stroke="#2f8aa3" stroke-width="0.6"/><ellipse cx="545" cy="150.1" rx="3" ry="2.5" fill="#8fd0de" fill-opacity="0.6" stroke="#2f8aa3" stroke-width="0.6"/><ellipse cx="464.3" cy="155.3" rx="3" ry="2.5" fill="#8fd0de" fill-opacity="0.6" stroke="#2f8aa3" stroke-width="0.6"/><ellipse cx="470.9" cy="156.7" rx="3" ry="2.5" fill="#8fd0de" fill-opacity="0.9" stroke="#2f8aa3" stroke-width="0.6"/><ellipse cx="477.6" cy="156" rx="3" ry="2.5" fill="#8fd0de" fill-opacity="0.4" stroke="#2f8aa3" stroke-width="0.6"/><ellipse cx="484.9" cy="156.5" rx="3" ry="2.5" fill="#8fd0de" fill-opacity="0.8" stroke="#2f8aa3" stroke-width="0.6"/><ellipse cx="492" cy="155.7" rx="3" ry="2.5" fill="#8fd0de" fill-opacity="0.5" stroke="#2f8aa3" stroke-width="0.6"/><ellipse cx="499.2" cy="156.7" rx="3" ry="2.5" fill="#8fd0de" fill-opacity="0.4" stroke="#2f8aa3" stroke-width="0.6"/><ellipse cx="506.4" cy="155.2" rx="3" ry="2.5" fill="#8fd0de" fill-opacity="0.5" stroke="#2f8aa3" stroke-width="0.6"/><ellipse cx="512.6" cy="156.3" rx="3" ry="2.5" fill="#8fd0de" fill-opacity="0.5" stroke="#2f8aa3" stroke-width="0.6"/><ellipse cx="519.8" cy="156.2" rx="3" ry="2.5" fill="#8fd0de" fill-opacity="0.4" stroke="#2f8aa3" stroke-width="0.6"/><ellipse cx="527.4" cy="155.4" rx="3" ry="2.5" fill="#8fd0de" fill-opacity="0.6" stroke="#2f8aa3" stroke-width="0.6"/><ellipse cx="533.6" cy="155.5" rx="3" ry="2.5" fill="#8fd0de" fill-opacity="0.6" stroke="#2f8aa3" stroke-width="0.6"/><ellipse cx="540.9" cy="155.8" rx="3" ry="2.5" fill="#8fd0de" fill-opacity="0.6" stroke="#2f8aa3" stroke-width="0.6"/><ellipse cx="467.5" cy="161.5" rx="3" ry="2.5" fill="#8fd0de" fill-opacity="0.5" stroke="#2f8aa3" stroke-width="0.6"/><ellipse cx="474.7" cy="162.2" rx="3" ry="2.5" fill="#8fd0de" fill-opacity="0.6" stroke="#2f8aa3" stroke-width="0.6"/><ellipse cx="482.1" cy="162.2" rx="3" ry="2.5" fill="#8fd0de" fill-opacity="0.8" stroke="#2f8aa3" stroke-width="0.6"/><ellipse cx="488.1" cy="162.4" rx="3" ry="2.5" fill="#8fd0de" fill-opacity="0.8" stroke="#2f8aa3" stroke-width="0.6"/><ellipse cx="496.1" cy="161.7" rx="3" ry="2.5" fill="#8fd0de" fill-opacity="0.5" stroke="#2f8aa3" stroke-width="0.6"/><ellipse cx="503.2" cy="161.5" rx="3" ry="2.5" fill="#8fd0de" fill-opacity="0.9" stroke="#2f8aa3" stroke-width="0.6"/><ellipse cx="510.1" cy="161.4" rx="3" ry="2.5" fill="#8fd0de" fill-opacity="0.5" stroke="#2f8aa3" stroke-width="0.6"/><ellipse cx="516.9" cy="161.6" rx="3" ry="2.5" fill="#8fd0de" fill-opacity="0.4" stroke="#2f8aa3" stroke-width="0.6"/><ellipse cx="524" cy="161.9" rx="3" ry="2.5" fill="#8fd0de" fill-opacity="0.8" stroke="#2f8aa3" stroke-width="0.6"/><ellipse cx="529.9" cy="161.8" rx="3" ry="2.5" fill="#8fd0de" fill-opacity="0.7" stroke="#2f8aa3" stroke-width="0.6"/><ellipse cx="536.7" cy="161.5" rx="3" ry="2.5" fill="#8fd0de" fill-opacity="0.7" stroke="#2f8aa3" stroke-width="0.6"/><ellipse cx="545.2" cy="162.7" rx="3" ry="2.5" fill="#8fd0de" fill-opacity="0.4" stroke="#2f8aa3" stroke-width="0.6"/><ellipse cx="464" cy="168.4" rx="3" ry="2.5" fill="#8fd0de" fill-opacity="0.6" stroke="#2f8aa3" stroke-width="0.6"/><ellipse cx="471.3" cy="167.5" rx="3" ry="2.5" fill="#8fd0de" fill-opacity="0.4" stroke="#2f8aa3" stroke-width="0.6"/><ellipse cx="477.4" cy="167.3" rx="3" ry="2.5" fill="#8fd0de" fill-opacity="0.7" stroke="#2f8aa3" stroke-width="0.6"/><ellipse cx="485" cy="168.1" rx="3" ry="2.5" fill="#8fd0de" fill-opacity="0.4" stroke="#2f8aa3" stroke-width="0.6"/><ellipse cx="491.5" cy="167.5" rx="3" ry="2.5" fill="#8fd0de" fill-opacity="0.8" stroke="#2f8aa3" stroke-width="0.6"/><ellipse cx="499.8" cy="168.7" rx="3" ry="2.5" fill="#8fd0de" fill-opacity="0.4" stroke="#2f8aa3" stroke-width="0.6"/><ellipse cx="505.3" cy="168.7" rx="3" ry="2.5" fill="#8fd0de" fill-opacity="0.6" stroke="#2f8aa3" stroke-width="0.6"/><ellipse cx="513.4" cy="167.7" rx="3" ry="2.5" fill="#8fd0de" fill-opacity="0.6" stroke="#2f8aa3" stroke-width="0.6"/><ellipse cx="520" cy="167.9" rx="3" ry="2.5" fill="#8fd0de" fill-opacity="0.7" stroke="#2f8aa3" stroke-width="0.6"/><ellipse cx="526.2" cy="168.3" rx="3" ry="2.5" fill="#8fd0de" fill-opacity="0.8" stroke="#2f8aa3" stroke-width="0.6"/><ellipse cx="533.5" cy="167.9" rx="3" ry="2.5" fill="#8fd0de" fill-opacity="0.8" stroke="#2f8aa3" stroke-width="0.6"/><ellipse cx="540.8" cy="167.5" rx="3" ry="2.5" fill="#8fd0de" fill-opacity="0.4" stroke="#2f8aa3" stroke-width="0.6"/></g>
<ellipse cx="541" cy="126" rx="2.5" ry="5" fill="#27414a"/>
<ellipse cx="498.5" cy="114.5" rx="13" ry="9.3" transform="rotate(-8 498.5 114.5)" fill="#1e5566"/>
<ellipse cx="498.5" cy="115.3" rx="10.8" ry="7.2" transform="rotate(-8 498.5 115.3)" fill="#eec22c"/>
<ellipse cx="496.5" cy="116" rx="6.5" ry="4.2" transform="rotate(-8 496.5 116)" fill="#f6dc55"/>
<circle cx="500.3" cy="114.6" r="4.7" fill="#15181a"/>
<circle cx="498.8" cy="112.8" r="1.2" fill="#fff"/>
<path d="M486.5,113.5C491,106 503,104.5 510.5,110.5" fill="none" stroke="#123f4c" stroke-width="2.2" stroke-linecap="round"/>
</g>
<g id="feet">
<path d="M676,588C670.8,589.3 654.8,593.3 645,596C635.2,598.7 627.2,599.8 617,604C606.8,608.2 593.5,616.5 584,621C574.5,625.5 566.3,627.8 560,631C553.7,634.2 548.3,638.5 546,640" fill="none" stroke="#1b5f79" stroke-width="13.5" stroke-linecap="round" stroke-linejoin="round"/><path d="M676,588C670.8,589.3 654.8,593.3 645,596C635.2,598.7 627.2,599.8 617,604C606.8,608.2 593.5,616.5 584,621C574.5,625.5 566.3,627.8 560,631C553.7,634.2 548.3,638.5 546,640" fill="none" stroke="#4791ab" stroke-width="11.5" stroke-linecap="round" stroke-linejoin="round"/><path d="M676,588C670.8,589.3 654.8,593.3 645,596C635.2,598.7 627.2,599.8 617,604C606.8,608.2 593.5,616.5 584,621C574.5,625.5 566.3,627.8 560,631C553.7,634.2 548.3,638.5 546,640" fill="none" stroke="#93c8d8" stroke-width="6.5" stroke-linecap="round" stroke-linejoin="round" stroke-opacity="0.7" transform="translate(-0.6,-1.2)"/>
<path d="M667.2,589L666,584.4M658.6,591.2L657.4,586.6M650.1,593.4L648.9,588.8M641.6,595.7L640.3,591.1M633.1,598.1L631.8,593.5M624.6,600.6L623.3,596M616,603.2L613.8,598.9M608.2,607.2L606,602.9M600.3,611.2L598.1,607M592.5,615.3L590.3,611M584.7,619.3L582.5,615M576.7,622.7L574.8,618.3M568.6,626.1L566.7,621.7M560.4,629.5L558.6,625.1M552.8,634.2L550.2,630.2" fill="none" stroke="#2b6e88" stroke-width="1.1" />
<path d="M548,638C546.3,639.7 541,644 538,648C535,652 532.3,657 530,662C527.7,667 525,675.3 524,678" fill="none" stroke="#1b5f79" stroke-width="9.5" stroke-linecap="round" stroke-linejoin="round"/><path d="M548,638C546.3,639.7 541,644 538,648C535,652 532.3,657 530,662C527.7,667 525,675.3 524,678" fill="none" stroke="#4791ab" stroke-width="7.5" stroke-linecap="round" stroke-linejoin="round"/><path d="M548,638C546.3,639.7 541,644 538,648C535,652 532.3,657 530,662C527.7,667 525,675.3 524,678" fill="none" stroke="#93c8d8" stroke-width="2.5" stroke-linecap="round" stroke-linejoin="round" stroke-opacity="0.7" transform="translate(-0.6,-1.2)"/>
<path d="M542.6,642.1L540,639.6M537.8,646.9L535.3,644.4M534.2,652.9L531,651.1M530.8,658.8L527.7,657M527.9,665L524.5,663.8M525.5,671.3L522.2,670.1" fill="none" stroke="#2b6e88" stroke-width="1.1" />
<path d="M550,638C553.3,637.2 563,634.2 570,633C577,631.8 584,630.8 592,631C600,631.2 613.7,633.5 618,634" fill="none" stroke="#1b5f79" stroke-width="10.5" stroke-linecap="round" stroke-linejoin="round"/><path d="M550,638C553.3,637.2 563,634.2 570,633C577,631.8 584,630.8 592,631C600,631.2 613.7,633.5 618,634" fill="none" stroke="#4791ab" stroke-width="8.5" stroke-linecap="round" stroke-linejoin="round"/><path d="M550,638C553.3,637.2 563,634.2 570,633C577,631.8 584,630.8 592,631C600,631.2 613.7,633.5 618,634" fill="none" stroke="#93c8d8" stroke-width="3.5" stroke-linecap="round" stroke-linejoin="round" stroke-opacity="0.7" transform="translate(-0.6,-1.2)"/>
<path d="M560.9,634.2L559.9,630.4M572.2,631.8L571.9,627.8M583.7,630.8L583.3,626.8M595.3,630.4L595.8,626.4M606.7,631.7L607.2,627.7" fill="none" stroke="#2b6e88" stroke-width="1.1" />
<path d="M621,635C628,630 640,630 647,638C650,643 648,648 645,650" fill="none" stroke="#1d2327" stroke-width="3.6" stroke-linecap="round"/>
<path d="M672,531C675,531 684.3,530.2 690,531C695.7,531.8 703.3,535.2 706,536" fill="none" stroke="#1b5f79" stroke-width="9" stroke-linecap="round" stroke-linejoin="round"/><path d="M672,531C675,531 684.3,530.2 690,531C695.7,531.8 703.3,535.2 706,536" fill="none" stroke="#4791ab" stroke-width="7" stroke-linecap="round" stroke-linejoin="round"/><path d="M672,531C675,531 684.3,530.2 690,531C695.7,531.8 703.3,535.2 706,536" fill="none" stroke="#93c8d8" stroke-width="2" stroke-linecap="round" stroke-linejoin="round" stroke-opacity="0.7" transform="translate(-0.6,-1.2)"/>
<path d="M676,536C678.3,537.3 685.5,542 690,544C694.5,546 699,546.3 703,548C707,549.7 712.2,553 714,554" fill="none" stroke="#1b5f79" stroke-width="11" stroke-linecap="round" stroke-linejoin="round"/><path d="M676,536C678.3,537.3 685.5,542 690,544C694.5,546 699,546.3 703,548C707,549.7 712.2,553 714,554" fill="none" stroke="#4791ab" stroke-width="9" stroke-linecap="round" stroke-linejoin="round"/><path d="M676,536C678.3,537.3 685.5,542 690,544C694.5,546 699,546.3 703,548C707,549.7 712.2,553 714,554" fill="none" stroke="#93c8d8" stroke-width="4" stroke-linecap="round" stroke-linejoin="round" stroke-opacity="0.7" transform="translate(-0.6,-1.2)"/>
<path d="M683.8,539.3L685.8,535.9M691,543.3L692.2,539.4M699.1,545.8L700.3,541.9M707.1,549.1L709,545.6" fill="none" stroke="#2b6e88" stroke-width="1.1" />
<path d="M715,555C720,551 727,550 731,553" fill="none" stroke="#1d2327" stroke-width="3.4" stroke-linecap="round"/>
<path d="M737,556L740,566" fill="none" stroke="#1d2327" stroke-width="2.4" stroke-linecap="round"/>
</g>
<g stroke="#000" stroke-width="1.7" fill="none" stroke-linecap="butt">
<line x1="402.5" y1="46.5" x2="433.8" y2="122.8"/>
<line x1="800.9" y1="46.6" x2="787.6" y2="83"/>
<line x1="221.7" y1="639" x2="187.5" y2="772"/>
<line x1="803.2" y1="840.6" x2="878.3" y2="777.1"/>
</g>
</svg>

<div class="lbl" style="left:188.8px;top:5.7px;">Toothed beak</div>
<div class="lbl" style="left:703px;top:8.5px;letter-spacing:-0.2px;">Wing claw</div>
<div class="lbl" style="left:6px;top:766.3px;">Airfoil wing<br>with contour<br>feathers</div>
<div class="lbl" style="left:556.3px;top:820.6px;">Long tail with<br>many vertebrae</div>
<div class="cp" style="left:6px;top:1050px;">&copy; 2011 Pearson Education, Inc.</div>

</body></html>
